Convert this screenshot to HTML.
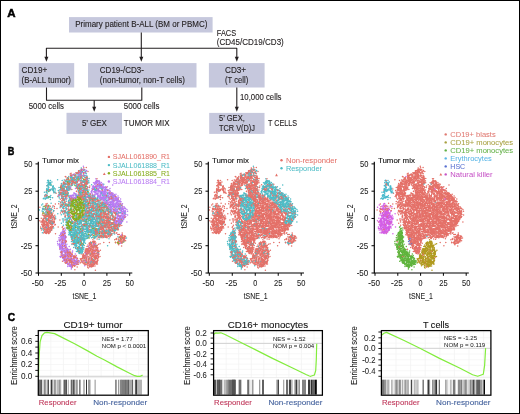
<!DOCTYPE html>
<html><head><meta charset="utf-8"><style>
html,body{margin:0;padding:0;background:#fff;}
body{width:520px;height:414px;overflow:hidden;}
svg{display:block;font-family:"Liberation Sans", sans-serif;will-change:transform;}
</style></head><body>
<svg width="520" height="414" viewBox="0 0 520 414">
<rect x="0" y="0" width="520" height="414" fill="#fff"/>
<path d="M81.6 172.3h0m-6.5 2.9h0m12.5 3.2h0m-.1 1.3h0m-2 .2h0m0-2.4h0m-2 2h0m-4.8-1.1h0m-10.5 .4h0m1.7 3.4h0m.2-1.8h0m2.1 2.5h0m.1-1.6h0m.9-.8h0m4.2 1.4h0m2.6-1.1h0m1.1 1.5h0m.5 .5h0m.4-2h0m1.3 1.4h0m2.2 2.3h0m-.7 1.1h0m-.1-1.9h0m-.2 1h0m-2.2 .9h0m-.5-1.4h0m-.4-.8h0m-2.3 1.2h0m-.4 .7h0m-2.4-1.3h0m-3.5-.4h0m-3.2-.4h0m-.6 2.6h0m-1.2-1h0m-.5-.8h0m-.3-.9h0m-4.5 2.8h0m-1.7 2h0m5.4-.3h0m2.8-.7h0m8.5-.5h0m.1 1.1h0m1.3-1.4h0m6.8 2.1h0m1.3 .6h0m9.4-1.2h0m5.7-.7h0m4.4 .3h0m-22 1.8h0m-1 1.2h0m-.4 1.7h0m-.9-1.5h0m-4.3-1.1h0m-6.1 .2h0m-6.3 2.2h0m-1.5-1.7h0m-9.6 2.4h0m10.7-.3h0m.3 1h0m19.3-.3h0m1.3 .9h0m2.7 1.2h0m20.4-1.4h0m2-.7h0m-3.3 4h0m-4.6-.3h0m-9.2-.4h0m-3.1 1.8h0m-2-.8h0m-.8 .3h0m-1.6-.1h0m-4.2-2.3h0m-1.8 2.4h0m-16.5-.8h0m-16.1 1h0m15 2h0m.6-.6h0m7.2 1.5h0m12.8-1.3h0m.1-.4h0m.7-.4h0m.6 2.5h0m5 0h0m1.7-1.1h0m.9-1.3h0m1.3-.2h0m3.5 2.6h0m7.6 1.1h0m-.7 1.3h0m-1.7-.5h0m-3.4-.5h0m-5.7-.6h0m-.6-.1h0m-.6 2.2h0m-4-.6h0m-2.1-1.1h0m-9 .7h0m-8.4 1.1h0m-.1-2.5h0m-3.6 .3h0m-1.2 1.9h0m-.9-1.3h0m-17.6 3.9h0m.7-2.1h0m1.1 2.7h0m8.3-2.7h0m4.9 .8h0m.3 1.4h0m1-2h0m.7 1h0m2.6 .8h0m1.9-1.8h0m21.5 .2h0m.8 1.3h0m3.4-.3h0m.4 .1h0m.3 1.1h0m5.4-2.7h0m2.9 .8h0m1.9-.6h0m18.7-.1h0m.7 2.9h0m-8.1 .5h0m-6.8 1h0m-1.5 .7h0m-1.3-1.6h0m-2.8 2h0m-.8-.7h0m-.4 .7h0m-1.3-1.7h0m-2.1 .8h0m-1 .4h0m-3.4-.3h0m-.1-1.7h0m-1.3-.1h0m-5.1 1.3h0m-18.3-.4h0m-17.4 .3h0m-4.8 3.7h0m2.3-.4h0m0 1.4h0m1.3-1h0m.3-1.9h0m.6 2h0m11.9 .3h0m.4-1.4h0m1.9 1.5h0m.6-1.1h0m2.9-.5h0m1 1.7h0m5.3 0h0m13.8-.5h0m1.3-1.8h0m.8 2.1h0m5.4-.1h0m3.4-2.2h0m1.3 2.7h0m6.3-1.1h0m.2-1.3h0m1.3 1h0m1.8 .7h0m14.3 3.6h0m-2.9-2.5h0m-5.9 1.7h0m-3.4-.9h0m-4.5 0h0m-2.5 .3h0m-.8-.9h0m-.2 .3h0m-3.5 .9h0m-1.4 .4h0m-5.4-1h0m-1.2 1.1h0m-2.8-2h0m-3.8 .8h0m-8.8 0h0m-8.7 1.9h0m-.2-2.5h0m-16.6 2h0m-.6-2h0m-.7 2.3h0m-1.8-1.5h0m-.3 1.8h0m-1.1-2h0m-.8 1.8h0m-1.4-.6h0m-.6-1.6h0m-.9 2.3h0m0-.5h0m-1.1-2.2h0m.6 5.2h0m1.1-.1h0m2.2 .7h0m.9-2.2h0m1.1 .9h0m1-1.5h0m.2 .7h0m0 .9h0m.9-.2h0m2.9-.6h0m.9 1.1h0m18.6 .5h0m11 .2h0m5.2-2h0m.4 1.6h0m5.8-2h0m.3-.2h0m3.1 2.7h0m1.2-1.1h0m2.9 .1h0m1.7-1.7h0m.3 .3h0m2-.3h0m.2 1.5h0m1.9 .5h0m.4 .9h0m3.5-2.7h0m.4 1.6h0m1.1 1.4h0m-1 1.5h0m-2.8-1.2h0m-3.7 1.9h0m-.6 .1h0m-2.2-.4h0m-.2-1.9h0m-.6 0h0m-.7 2h0m-5.6-1.3h0m-.2 1.3h0m-1-1.3h0m-1.4-.6h0m-1.8 2h0m-.5-1.5h0m-5.7 2.1h0m-.7-1.2h0m-1.4 .8h0m-4.2-1h0m-20.4-.5h0m-6.3 1.9h0m-1-2.5h0m-.2 1.8h0m-.3 .4h0m-5.7 .3h0m-3.1-1.4h0m-.3-.6h0m-1.3 4.4h0m1.6-1h0m.8 .5h0m0-.3h0m2.9-1.1h0m.3 .1h0m2.1 .7h0m1.5-1h0m.5-.2h0m.1 2.2h0m.9 .6h0m1.7-1.7h0m26.8 .7h0m.2-1.8h0m10.7 1.5h0m6.6 1.3h0m2.2-.3h0m1-2.4h0m.1 1.8h0m1.7-.9h0m.8-1h0m.1 1.8h0m1.6 .6h0m.6-1.5h0m.1 1.3h0m.9-1.8h0m1.4 .5h0m.1-.1h0m2.7 .6h0m.6 1.2h0m0-.4h0m1.9 .4h0m2.1-.1h0m.9 .2h0m1.3 .1h0m3.3 .6h0m-3.8 1.1h0m-.6 .8h0m-.2 .5h0m-1.6-1.6h0m-.9 .5h0m-4.4 .2h0m-.7 .2h0m-2.6 .8h0m-.5-2.2h0m-.9 .7h0m-1.4-.2h0m-1.5 .5h0m-.5 1h0m-1.7-.9h0m-.5 1.1h0m-9-2.4h0m-4.4-.3h0m-16.8 1.5h0m-16.5-.1h0m-.3 .5h0m-2-.1h0m-.1-.5h0m-2.8 1.1h0m-.2-2.2h0m-.4-.1h0m-3.9 .7h0m-2.1 4.1h0m2.8-.5h0m3 .7h0m.1-1.2h0m3.6 1.4h0m.3-1.8h0m12.1 0h0m14.3 0h0m6.2 .6h0m2.4-.4h0m5 .5h0m.1 1.5h0m8.3-1.9h0m1.8 .5h0m1 1.2h0m.8-2.5h0m.1 .9h0m6.7 1.8h0m1.9-2.2h0m.5 1.3h0m.9 .2h0m.6-2.1h0m.6 1.7h0m.8-1.6h0m-.8 3.5h0m-2.2-.4h0m-3.7 .5h0m0 2h0m-3-1.2h0m-.1-.3h0m-.1-.3h0m-4.1 .7h0m-.2-1.4h0m-1.5 .7h0m-.1-.7h0m-3.5 1.2h0m-1.6-1.1h0m-9.9 .2h0m-8-.4h0m-1.1-.2h0m-10.7 2.2h0m-14.6-1.9h0m-2.4 1h0m-.4-.7h0m-.9 .6h0m-1.4-1.1h0m15.8 5.1h0m1-.8h0m17.8-.7h0m20.2 1h0m4.3-.2h0m17.3 .4h0m.9-.5h0m2.5 3.4h0m-.6-.6h0m-.3 1.4h0m-.6-2h0m-.1 2h0m-2.9-1h0m-1.6 1.3h0m-12.4-2.6h0m-9.3 1.8h0m-4.2 .6h0m-4.4-2.2h0m-.9-.4h0m-3.4 1.5h0m-2.1 .2h0m-18.4 3.8h0m1.9-.2h0m25.6 .1h0m2.7 .1h0m1.2-1h0m25.7-.6h0m3.3-.3h0m-2 2.4h0m-3 .5h0m-.8 .5h0m-19.7 .2h0m-6.6 .9h0m-.4-1.5h0m-.4-.1h0m-.1 .1h0m-1.4 1.4h0m-9.2-.6h0m-14.9 3.6h0m9.8-.7h0m14.2 1.3h0m.6-.5h0m2.3-.5h0m3.3-.6h0m.6-.9h0m.1 .1h0m1.2 1.2h0m-1.8 3.3h0m-2.1-.9h0m-.7 1.8h0m-.8-.8h0m-2.7-.1h0m-.1 .6h0m-1.8 .3h0m-1.8-.3h0m-.6 .2h0m-7.8-.1h0m-7.6-1.4h0m-.3 1.8h0m-6.8-.5h0m2.8 .7h0m4.5 2.2h0m.7-2.1h0m10.4 1.8h0m4.2-1.6h0m1.7 1.3h0m.5 1.2h0m1-1.7h0m2.4-.8h0m.3 1h0m.6 .5h0m.6-1.4h0m2.1 1.1h0m3-.4h0m.5 .6h0m-1.3 2.2h0m-2.4 .3h0m-.8-1.1h0m-6.7 1.2h0m-2.1-1.2h0m-.3 .4h0m-.4 2.1h0m-9.4-1.2h0m-3.1-.6h0m-3 .9h0m-5.3 .8h0m.8 2.7h0m1.6-.1h0m1.4-1.3h0m1.7-.2h0m2.9 .6h0m.2-.9h0m5 .4h0m9.1 .4h0m.3-1.1h0m.2 1.8h0m4.5-.8h0m2.3 1.4h0m.9-.6h0m.1 .8h0m1.1-1h0m1.8-1h0m-.2 2.6h0m-.1 .8h0m-.5 1.2h0m-1.6-2.1h0m-1.4 2.4h0m-1.6-.7h0m-1.2-1.4h0m-.6 2.2h0m-1.3-1.1h0m-.4-1.4h0m-3.2 2.3h0m-2.5-1.2h0m-4.9 .9h0m-.4-1.8h0m-5.9 .8h0m-.5 0h0m-4.7 1.1h0m-1.1-.9h0m19.7 1.6h0m4.9 2.5h0m1-.4h0m.8 .6h0m0-1h0m0-1.5h0m.8 .5h0m-20.4 2.7h0m23.5 2.8h0" stroke="#e47068" stroke-width="1.52" stroke-linecap="round" fill="none"/>
<path d="M81.7 171.8h0m-.7 0h0m-3.7 .7h0m-.9 .8h0m-5.6 2.2h0m.8 1.4h0m0-.7h0m3.1-.3h0m.9 1h0m13.5 1.6h0m-2.5 1.1h0m-2.1-2.4h0m-6.7 1h0m-5.4-.3h0m-1.6-.4h0m-3.2 1.6h0m-20 1.7h0m1.1 .9h0m.6 1.1h0m2.6-.7h0m13.8-1h0m2.3 .1h0m2.3 1.1h0m2.9 .2h0m3.6-2.5h0m1.5 .3h0m4.9 1.5h0m3.9 .2h0m9.5-.3h0m-5 3.1h0m-8 .8h0m-2.3 .2h0m-3.4-1.7h0m-1.7 1.1h0m-3.9-2.2h0m-.3 0h0m-23.9 2.1h0m-1.4 .6h0m7.6 2.4h0m6.9-.9h0m1.7 .9h0m1.6-1h0m1.9 .3h0m.9-1.1h0m1.5 .5h0m9.1 1h0m1 .4h0m.7-.7h0m.2-.8h0m3.1 1.5h0m1.1-1.1h0m3.9 .5h0m8 .1h0m2 .3h0m4.2 1.2h0m-7.8 .3h0m-14 2.4h0m-9.7-2.9h0m-3 1.5h0m-1.6 .4h0m-3-.2h0m-.3 1.2h0m-1.7-2.2h0m-2 2.2h0m-.7-1.4h0m-3.2 .6h0m-1.2-2h0m-.5 1.6h0m-.1-1.2h0m-6.7 2.3h0m-.4 .5h0m.9 1.7h0m16.6-.1h0m3.5 .2h0m0 0h0m14.2-1.5h0m6.2 2h0m9.3-.8h0m7.6 .6h0m.4-.7h0m2.6-.6h0m-.2 1.9h0m-14.5 .4h0m-.3 2.3h0m-1.7-.3h0m-.7 .1h0m-3-.2h0m-10.4-1.2h0m-1.4-1.1h0m-12 2.1h0m-13.2-.4h0m-.8-.1h0m-.8 1.2h0m-.1-1.1h0m-.4 .7h0m-1.7-1.2h0m-1.5-.8h0m-.7 2.5h0m-.8 .9h0m1.8-.5h0m.1 1h0m18.6 1.2h0m3-1.8h0m3.7 .9h0m16.7 1.1h0m1.7-2.7h0m.4 1.6h0m.6-1.4h0m.5 1.9h0m1.1-.9h0m1.6-.2h0m2.5 1h0m2.2 .5h0m2.2-1.5h0m1.1 .6h0m-.8 3.8h0m-2.2-2h0m-2.6 1.7h0m0 .4h0m-1.8-.5h0m-.1-.7h0m-.8 .6h0m-1.9 .4h0m-.6 0h0m-3.3-.6h0m-7.4-1.7h0m-6 2.9h0m-3.9-.2h0m-3.1-2.4h0m-4.1 .6h0m-1.9 1.1h0m-17.9 1h0m.6 2.7h0m3.1-.6h0m38.4-.6h0m1 .8h0m.3-1.6h0m1 1.8h0m3.8 .4h0m1.8-.4h0m.2-1.2h0m2.1-.9h0m1.6-.3h0m2.2 0h0m3 .4h0m1 .8h0m1.3 .6h0m.7-.3h0m13.3 1.3h0m3.1 1h0m-18.4 .2h0m-3.5 0h0m-11.4 .3h0m-21.4-.1h0m-3.5-1.2h0m-13.2 1.4h0m-.9 .2h0m-3.7 .8h0m-.3 .4h0m4.6 1.8h0m3.9-.4h0m11.8 .4h0m3.9 .2h0m.3-1.9h0m.4 .5h0m15.9 .7h0m2.9 .1h0m3.8 .3h0m1.1-1.3h0m1.6 2.1h0m.9-1.8h0m6 2.1h0m6.8-.3h0m.2-1.4h0m1.9 .5h0m5.1 1.2h0m.5-.9h0m7.7 1.5h0m-7.9 .7h0m-17.1 .6h0m-.1 .5h0m-.1 .8h0m-6.1-2.5h0m-.4 1.5h0m-7.2-1.9h0m-.3 1.1h0m-14.7 1.4h0m-2.8 0h0m-.2-1.3h0m-14.6 1.4h0m-.7-.5h0m-.6-1.7h0m-2 1.5h0m-2.7-.4h0m1.6 4.4h0m3.2-2.2h0m4.2 2h0m8 .2h0m1.2-2.2h0m4.4 1.4h0m.8-.3h0m22.1-1.8h0m.1 .8h0m3.7 .5h0m.1 .3h0m4.5 .7h0m10.3 1.7h0m-1.3 .7h0m-6.8-.4h0m-1-1.1h0m-3.9 2.4h0m-.6-.6h0m-5.4-1.7h0m-.1 2h0m-.2 .6h0m-.3-1.4h0m-.5-.9h0m-1.4 .6h0m-1 .7h0m-.6-1.8h0m-.8 .7h0m-4.1 1.4h0m-.3-2h0m-1.1 1.6h0m-4.3-.1h0m-.3-.1h0m-5.4 .2h0m-2.7 .1h0m-2.2 .4h0m-.7-1.9h0m-13.4 3.6h0m8.9 .2h0m14.9 .5h0m.9-.2h0m.2 .1h0m1.4 1.3h0m1.1-.7h0m1.4-1.3h0m5.6-.6h0m2.5 1.8h0m.9 .2h0m.7-2.1h0m1.7 1.7h0m.1 .3h0m1.3-2h0m1.9 2.5h0m.4-.2h0m.6-.9h0m1.7-.8h0m.9-.7h0m9.4 1.5h0m4.7-1.2h0m2.8 1.4h0m3.6 .5h0m-5.9 2.7h0m-5.4 .8h0m-1-1.2h0m-11.2-1h0m-.2 .2h0m-.6 .6h0m-3.9 .3h0m-.9 0h0m-.3-.8h0m-.1-.4h0m-.9 0h0m-.5 1.1h0m-.3-1.1h0m-.4 .9h0m-.7-.4h0m-1.6-.2h0m-3.9 .3h0m-.7-1.1h0m-5.6 2.2h0m-.7-.6h0m-.8-.9h0m-.3-.4h0m0 .8h0m-4.5 .6h0m-21 .6h0m-2.7-1.4h0m2.9 2.8h0m20.6 1.3h0m3 .9h0m.4-1.6h0m.8 0h0m4.9 1h0m.4-2.3h0m5 0h0m3 .8h0m.6 1.9h0m3.7-1.7h0m1.8 .1h0m3 .3h0m3.2 0h0m11.9-.4h0m.1 1.9h0m5.9-1.5h0m.7-1.1h0m-6.2 3h0m0-.2h0m-1.2 1.3h0m-2.3-.9h0m-8.7 2.2h0m-1.4-.6h0m-1 .3h0m-.3-1.9h0m-.3 1.8h0m-1.1-1.1h0m-.4-.3h0m-2.7 1.3h0m-.8-1.3h0m-.2 .6h0m-1.4 0h0m-3.3-.9h0m-5.6 1.5h0m-1.9-.1h0m-1.1-.6h0m-.3 .2h0m-3.2 .1h0m-.5-1.7h0m-3.5 2.9h0m-1.4-1.5h0m-19.8-.3h0m19.5 2.5h0m.2 .5h0m1.5 0h0m.2 .4h0m1.2 1.1h0m1.2-2.4h0m.2 .4h0m1.7 1.4h0m2.2-.6h0m4.2 1h0m1.8-.6h0m.7-1.2h0m.2 2.1h0m.5-1.4h0m.8 .6h0m2.3-.3h0m.6 .2h0m2.1-.3h0m3.1-.1h0m1.9-1.1h0m.3 2.5h0m.5-2.4h0m1 1.3h0m3.3 .4h0m1.7-1.9h0m12.4-.1h0m4.8 3.4h0m-30.7-.5h0m-.9 .8h0m-3.5 1.9h0m-.6-1.2h0m-.2-1.3h0m-1.5 .8h0m-1.5 1.2h0m0-1.1h0m-.5 0h0m-.1 1h0m-.6 .8h0m-3-.7h0m-1.2 0h0m-.5 .6h0m-2-2.1h0m-.9 .3h0m1.3 3.8h0m.7-.9h0m.3 1.2h0m3.6-1.7h0m.9 .6h0m.6-.1h0m4.5-.1h0m10 2.1h0m28.7-.4h0m1.5-1.7h0m-29.3 3.8h0m-10.3 1h0m-1.5-1.8h0m-1.2-.2h0m-.9 .7h0m-4.9-1h0m-.1 .5h0m-.5 1.3h0m-.1 .8h0m-.3-1h0m1.6 1.5h0m1.1 1.1h0m1.1-.8h0m1 .8h0m.1-1.4h0m.2 2.1h0m.2-.6h0m2.6 .2h0m8.2 .9h0m1.4-1.9h0m-8.4 2.3h0m-1-.1h0m-.7 1.4h0m-.5 1.3h0m-.5-1.8h0m-.4 .3h0m-.1 1.1h0m-.1-2h0m-2.5 .5h0m0 1.1h0m4 2.1h0m.2-.4h0m14.1 4.5h0m-8 5.9h0" stroke="#4dbcc6" stroke-width="1.52" stroke-linecap="round" fill="none"/>
<path d="M72.5 178h0m-3.8 3.3h0m-19.2 2.1h0m30.2 9.1h0m-2.5 5.2h0m-.5 3h0m2-.1h0m0-2.3h0m.9 1.6h0m1.6-.5h0m6.5 .8h0m-5 3h0m-1.9-1.1h0m-1.3 1h0m-2.2 .3h0m-.1 .5h0m-1.1-2h0m-1.6 .5h0m-1.3 1.3h0m-.1-.4h0m-.4 .5h0m-8.7 .8h0m6.9 1.8h0m2.7-.4h0m.5 .2h0m1.6-1.3h0m1-.5h0m.9 1.5h0m1.5-1.6h0m1.4 .6h0m.6 1.9h0m.3-.5h0m.2-1.8h0m2.2-.2h0m.3 1.3h0m19.7 3.4h0m-19 .9h0m-.8-1.5h0m-1.9-1.2h0m-.2-.2h0m-.2 .9h0m-.8-.3h0m-1.4 1h0m-.1-.5h0m-.2 1.5h0m-.6-1.5h0m-1.8-.9h0m-.1 .4h0m-.5 2.1h0m-2.1-.9h0m-3 .5h0m-.4 0h0m-.3 .1h0m-22.9-.7h0m-4.2 3.2h0m33.1-.7h0m1.5-.6h0m4 1.8h0m.7-2.4h0m14.3 3.6h0m-13.8 1.7h0m-4.2-1.3h0m-.4 1.9h0m-2.1-1.2h0m-2.4-.2h0m-5.7-.5h0m3.8 2.4h0m1 1.3h0m.7-.7h0m3.4 1.1h0m3.9-1h0m.4-1.1h0m11 2.9h0m6.3 2.6h0m-9.6-1.2h0m-12.3-.9h0m-7.9 2h0m-1.8 1.7h0m.7 .6h0m.1-1.6h0m.4 1.3h0m2.6 .5h0m1.1-.3h0m27.1-1.2h0m-19.7 4.2h0m-3.4-1h0m-5.5-.4h0m-.9 2.2h0m-1.7 1.6h0m1.1-.8h0m27.4 2.6h0m-11.1 2.8h0m-9.7 1.1h0m20.1 .2h0m-12.4 9.5h0m-1.6-1.2h0m-.5 5.8h0m-1.6 3.2h0" stroke="#86ac1c" stroke-width="1.52" stroke-linecap="round" fill="none"/>
<path d="M80.4 170.4h0m2.4-.9h0m1 .5h0m.6 2.6h0m-2.6-1.6h0m-.8 .9h0m-1 2.4h0m15.9 4.5h0m-15.2-1.6h0m-14.6 4.5h0m12.8-.7h0m7.6 .8h0m8.1 1.1h0m.5-.5h0m1.9 .4h0m.1 0h0m1.7-1.6h0m3.1 3.9h0m-.8 .6h0m-.6-.6h0m-.6-1.9h0m-3.2 .7h0m-.1-.9h0m-31.9 .6h0m29 4.4h0m3.1-1.9h0m1.3 2.7h0m1.1-1.5h0m.6 .9h0m.7-1.5h0m1.3 .6h0m.5 .3h0m.4 .5h0m0-.5h0m.1 0h0m2.9 .3h0m4 3h0m-.8-.9h0m-4.9 .2h0m-1.7-.2h0m-.7 1.6h0m-.8 .2h0m-.7 0h0m-.3-1.1h0m-.3 .9h0m-1.1-.8h0m-.1 .1h0m-2-.4h0m-.8-.1h0m-.1 .4h0m-.1-.7h0m-.3 .7h0m-.4 .7h0m-.3-1.7h0m-2.2 .6h0m-5.2-.9h0m-3.3 1.7h0m-21.7 .7h0m20.6 2.2h0m9.3-1.4h0m3.8 0h0m1.5 1.5h0m.5 .2h0m.4-.8h0m2.3-.3h0m2.1-.5h0m.1-.3h0m2.4 .9h0m.1 .1h0m3.3 .2h0m.8 .2h0m1 .6h0m1.4-.2h0m0-1.3h0m1.5 .6h0m3.8 3.9h0m-4.8 .1h0m-3.5-.3h0m-2.4-.2h0m-.8-.7h0m-.2-1.1h0m-2.2 2.5h0m-5.2-.2h0m0-1.1h0m-3-1.1h0m-3.6 .9h0m-5.9-.6h0m-1.1 .4h0m-.3 1.3h0m-7.7 0h0m-2.6-2h0m-1.5-.1h0m-.2 2.6h0m-.4-2.1h0m-.1 2h0m-1.3-1.6h0m4.4 2.7h0m29.1 1h0m0 .9h0m1.4-.4h0m.1-.9h0m.5-1.5h0m6.1 .6h0m1.4 1.8h0m2.8-.2h0m.9-1.2h0m1.4 .3h0m.9 1.5h0m.2 1h0m-.9 2h0m-1.6-1.5h0m-1.6 1.2h0m-1.3-2h0m-1.2 .1h0m-.1 1.4h0m-2 .4h0m-.5-1.4h0m-3.4 1h0m-.7 .8h0m-.7-1.1h0m0 .4h0m-.4 .2h0m3 3.2h0m.6 0h0m2.3 .3h0m.6-1.9h0m.3-.4h0m.3 2.2h0m.7-2.5h0m.8 .4h0m.2 2.1h0m.5-2.3h0m.4 2h0m.1-1.2h0m1.2-.5h0m6.8 3.5h0m-.2 .7h0m-.5 0h0m-.9-1.9h0m-1.5 2h0m-3.6 .7h0m-1.8-.1h0m-3-2.4h0m0 1.6h0m.4 2h0m5.3 1.9h0m1.1 .2h0m3.1-2.2h0m.5 .1h0m3.7 2.6h0m-2.4 0h0m-1.3 .4h0m-2.3-.7h0m-.7 0h0m-2.3 4.1h0m.6 1h0m1-1.8h0m1.2 2.2h0m.4-.2h0m.1-2.1h0m.4 2.1h0m.9 0h0m.2-.8h0m2.7 1.8h0m-1.1 2.1h0m-1.1 .1h0m-.9-1h0m-.4-1.1h0m-.1 1h0m-.7-.3h0m0 .8h0m-1.1-.7h0m-.2 .9h0m-.3 .3h0m-75 .1h0m71.9 .5h0m1.5 1.8h0m.4-1.9h0m.1 1.2h0m3.9 .3h0m.5-1h0m-57.2 6.3h0m.1 3.3h0m-.3 .1h0m-2.6 .3h0m-.3 1.5h0m1.5 2.5h0m.5-.7h0m1.3-.9h0m.2 1h0m1-.4h0m1.1 1.4h0m-1.7 1.9h0m0-.1h0m-.7-.2h0m-5.1-.8h0m-1.4 3.9h0m2.7-1.6h0m2 .4h0m.1 1h0m.1-.6h0m.1 1.1h0m3.6-.5h0m-2.5 2.6h0m-.7-.9h0m-.3 2.3h0m-.7-1.3h0m-.4 1h0m-.7 1.5h0m2.5-.2h0m.6 2.5h0m2-1.4h0m.1-1h0m32 3.3h0m-10.6 1h0m-19.2-.1h0m-.8-.1h0m0 .4h0m-.9-1.6h0m-2.9 1.5h0m-1.9 2.1h0m.4-.2h0m2.1-.5h0m.7 .7h0m2.1-1h0m3.1 1.6h0m2.3-1.4h0m24.8 5.7h0m-2.5-2.9h0m-3.7 2.6h0m-17.1-1.3h0m-.2 .8h0m-2.5 .2h0m-4.6-.8h0m-2.9-.7h0m-1.8 .6h0m2.2 4.4h0m6-1.6h0m.8-.1h0m.9 1.8h0m2.7-1.8h0m1 1.4h0m2.6 .1h0m4.3 1h0m-7.1 1.5h0m-.2-.7h0m-3.5-.5h0m-5.6 .8h0m1.7 1.5h0m.1 2.4h0m1.7-.4h0m1.2-1.2h0m1 1h0m.9-1.2h0m1.4-.2h0m2.7-.2h0m15.2 0h0" stroke="#b87af2" stroke-width="1.52" stroke-linecap="round" fill="none"/>
<path d="M83.1 170.2h0m2.1-.2h0m-14.5 5.9h0m.9-.9h0m6.4 .7h0m-6.1 2h0m21.6 5h0m2.5-1.3h0m.1 .6h0m.6 .7h0m2.6 0h0m.1-.4h0m.3 .4h0m.2-.6h0m12.8 2.9h0m-10.8-.7h0m-1.2 .3h0m-.6-1.2h0m-.7 .8h0m0 .9h0m-1.7-.7h0m-.7 1.5h0m-.3-.2h0m-.1-.3h0m-1.9-1.1h0m-.2-.3h0m-30.4 2h0m23.7 1.1h0m4.2 1.7h0m1.3-2.6h0m.2 2.3h0m.3-1.1h0m.1-.1h0m.3 1.5h0m1.7-2.8h0m.2 .4h0m.6 2h0m.8-2.1h0m2.7-.2h0m.7 1.3h0m2 .5h0m7.4 3.4h0m-.5-.2h0m-3.2-1.9h0m-1.3-.1h0m-.2 2.6h0m-.7-2.1h0m-3.1 1.9h0m-1.1 .2h0m-.2-.8h0m-1.5 1h0m-.5-1.8h0m-1.3 .2h0m-5.3 1.3h0m-25.5 2.6h0m25.6-2.2h0m5 1.5h0m.5 .5h0m.1-2h0m3.9 1.6h0m.2 .1h0m.1-1h0m1.8 .6h0m1.9 .2h0m.1 .9h0m.6 .3h0m2.4-1.5h0m1 .6h0m.1-.6h0m1.2 .4h0m.5 1h0m1.9-1.3h0m3 4h0m-.8-1.9h0m-.7 .6h0m-.2 .9h0m-.2-1.6h0m-.4 2.2h0m-.2-.9h0m-.2-1.2h0m-.2 1.5h0m0-1.1h0m-.4 1.8h0m-.6-2.3h0m-10.5 2.3h0m-.2 .2h0m-.1-1.8h0m-.7 1.5h0m-.4 .3h0m-2-.6h0m-20.9-2.2h0m-1.2 .7h0m-2.4 .3h0m-.1-.1h0m-3 1.1h0m-4.7-.3h0m-.3 .7h0m-3.9-.8h0m2.2 2.1h0m9.3 .3h0m.1-.9h0m1.7 .2h0m10.8-.2h0m15.8 .3h0m1 1.6h0m.1-.3h0m6.2-1.1h0m.2 .8h0m1.1-1h0m1.1 1.4h0m1.1-1.6h0m4 2.5h0m.3-2.6h0m1.6 .9h0m.7 1.9h0m1.8-1.9h0m-.4 2.5h0m-.1 1.6h0m-2.6-1.1h0m-3.6 1h0m-.5-1h0m-.2-1h0m-.3 .7h0m-.1 1.6h0m-.2-1.8h0m-1.2 1.1h0m-1.4-.6h0m-1.4 .2h0m-1.7-.9h0m-3.2 1h0m5.5 2.3h0m1.1 1.1h0m.3 .7h0m.1-1.3h0m2.7 1.6h0m0-.6h0m2.4-1.1h0m0 1.6h0m.2-1.6h0m2.1 .7h0m1.6-1.6h0m1.7 .9h0m-4.1 4.9h0m-2.2-1.2h0m-3.5-1.1h0m-.9 2.3h0m0-.2h0m-.3-2.1h0m-.9 .1h0m1.5 2.4h0m.8 1.2h0m5.4 0h0m1.3 1h0m.9 .2h0m.8-2.1h0m2 1.1h0m1.6-.2h0m1.1 .6h0m.7 0h0m.2 2.6h0m-1.9-.1h0m-2.6 1h0m-1.3-2.4h0m-66.9 3.6h0m62.6 1.2h0m.4 .3h0m1.8 .5h0m.7-2.5h0m1.7 2.7h0m0-2.3h0m1.5 2.1h0m1-.9h0m1.7-.4h0m-1.8 3.3h0m-1.7-.6h0m-.6 .2h0m-1.4 1.7h0m-.6-1.4h0m-1.2-.1h0m-.9 .5h0m-1.2 1h0m-61.8 1.9h0m62-.6h0m.7 .7h0m2.5-.9h0m1.4-1h0m.1 1.1h0m1.3 0h0m-56.2 9.9h0m-1.6 .9h0m-.6-2.9h0m-.5 2.9h0m-1.3-.3h0m-15.8-1.4h0m16.8 4.7h0m.1-.6h0m1.1-1.1h0m1.7 1.5h0m59.8 1.9h0m-60-.8h0m-1.6 0h0m-.1 .4h0m-2-.3h0m-.4 1.7h0m-1 1.3h0m2.8 1.2h0m.3-1.7h0m2 .8h0m.2-.6h0m.2 .7h0m53.7 2.1h0m-24.7 1.1h0m-33.3 4.1h0m.7-.8h0m.1-.7h0m.8 .6h0m.4-1.4h0m1.4 .1h0m4.5 3h0m-1-.2h0m-.5-.1h0m-.5 .4h0m-4.2 .2h0m0-.5h0m-2.1 2.7h0m4.5 2.7h0m.3-.5h0m1.9-.2h0m.3 .3h0m1.3-1.8h0m16.9 1h0m13 .5h0m-.5 2.7h0m-26-1.4h0m-.8 1.2h0m-2.9 .2h0m-.8 1.3h0m-.3-1.8h0m-1.1-.1h0m-2.5 .4h0m-3.2 .9h0m2.6 1.3h0m3.5 1.8h0m1.6 .3h0m.4-.6h0m1.6-1.4h0m.8 2.2h0m1.5-1.7h0m4.3 .2h0m9.4 .6h0m7.6 2.5h0m-14.5-1.5h0m-2.7 0h0m-3 2.6h0m-.6-1.5h0m-.5-.3h0m-.3 .2h0m-1.8 3.7h0m0 .6h0m.4-1.5h0m.1 1.8h0m1.1-.4h0m3.5-2.1h0m14.3 2.6h0" stroke="#b87af2" stroke-width="1.52" stroke-linecap="round" fill="none"/>
<path d="M82 169.7h0m1.7 .5h0m.6-.6h0m-.7 3.1h0m-4.7-1.4h0m-13.6 5.1h0m6.2-1.1h0m0 1.3h0m7.4 .2h0m4.3-.8h0m.7 .3h0m3.3 1.3h0m-.1 .9h0m-1.5-.4h0m-1.2 1.4h0m-3.1-.5h0m-.3-1.8h0m-.4 .9h0m-2.8-.3h0m-2.4 1.7h0m-.4 0h0m-6.9-.6h0m1.3 1.4h0m4.2 1.4h0m3.3 .2h0m6.2-.3h0m2.2 .7h0m4.5 3.6h0m-2-2.9h0m-.9 .5h0m-.6 1.3h0m-.7-1.3h0m-2.2 1.7h0m-3.4-.2h0m-8.6-1.5h0m-3.1-.5h0m-.1 2.8h0m-.3-1.3h0m-3.7-1.2h0m-16.8 2.5h0m5.3 3.1h0m10.6 0h0m2.7-2.5h0m.3 .8h0m2.9 1h0m11.5-.1h0m4.4-2h0m1.8 2.6h0m8.6-2.4h0m12.4 3.9h0m-5.9-1h0m-15.8 1.2h0m-.1-.2h0m-1.3 0h0m-1.4 1.2h0m-3.3-.2h0m-3.6 0h0m-11.9-1h0m-3.6-.6h0m-12.9 1.2h0m10.8 1.9h0m1 1.6h0m2.8-.5h0m1.1 .9h0m.4-.7h0m2.1 .6h0m1.7-.9h0m10.7 1.2h0m4.8-2.3h0m1.2 0h0m1.3-.4h0m3.6 1.9h0m22.1-.8h0m3.4 3.5h0m-6.8 .8h0m-4.1-2.5h0m-11.7 .9h0m-4.7 1.5h0m-2.1-.2h0m-.6-2.2h0m-3.4 2.8h0m-.4-.7h0m-2.4-1.3h0m-.1-.3h0m-.7-.1h0m-16.4 .5h0m-1.9-.9h0m-1.9 1.3h0m3.9 4.3h0m2.8-.3h0m9.2-1.8h0m8.4 1.1h0m1.7-.4h0m1.2 .4h0m.6-.9h0m.4 .1h0m9.3-.9h0m2.5 2.2h0m15.2-.4h0m2.2-.8h0m1.6 .9h0m.9-.3h0m.3-.7h0m-17.2 4.3h0m-5.3-.2h0m-.8-.7h0m-10.4-1.2h0m-.1 2.5h0m-.9 .1h0m-14.4-1.6h0m-5.5 1.4h0m2.5 2.4h0m2.5 .3h0m18-1.1h0m3.7 .8h0m2-.1h0m4.8-.8h0m.9 1.7h0m6.5-.5h0m.4 .6h0m1.1 .1h0m13.9 2.2h0m-10.9-.2h0m-1-1.7h0m-1.2-.2h0m-.1 0h0m-10.7 .7h0m-2.4-.6h0m-1 1h0m-.9 1.5h0m-18.7-.1h0m-6.1-1h0m-2.9-.1h0m-.6 0h0m-15.6-.1h0m1.6 2.3h0m4.6 .2h0m8.4 .5h0m5 .7h0m1.9 .8h0m.7-.1h0m14.9-.8h0m.4 .3h0m3.8-2.1h0m.9 .1h0m.6 .4h0m2.7 .2h0m.5-.4h0m6.4 1.4h0m.5 .4h0m3.1-.8h0m.4 .6h0m1.9-1.2h0m3.1 1.1h0m1.6-.6h0m4.3 1.3h0m7.6 .9h0m-4.6 .7h0m-1.4-.4h0m-.9 .5h0m-.4-.7h0m-8.1-.2h0m-1.8 1.1h0m-.9 .3h0m-1 .1h0m-1.6-.8h0m-.9 1.7h0m-1-2.4h0m-10.8-.2h0m-2 .1h0m-.4 2.6h0m-1.5-.6h0m-.7-.4h0m-6.2 .1h0m-6 .1h0m-20.2 .2h0m-2.6-1.9h0m-.9-.4h0m-.5 1.1h0m-.4-.4h0m-.7-.1h0m-1.3 1.8h0m-1.8 .3h0m1.2 2.2h0m3.9-1.3h0m.5 1.3h0m.8 .7h0m.6-2h0m0 1.1h0m2.7-1.5h0m.1 1.4h0m1 1h0m18.6 .2h0m9.3-2.4h0m5.1 1.7h0m6.6 .3h0m5.4-2h0m1.7 1.6h0m.1-.5h0m.5-.9h0m3 2.1h0m1.5-2.7h0m.7 1.3h0m2.9 1.2h0m2.7-2h0m0 .8h0m.5-1h0m1.4 2.5h0m.4-2.7h0m.2 2h0m.3 2.4h0m-2.4-.2h0m-3.5 1.5h0m-1.6-1.1h0m-.2-.7h0m-7.8-.8h0m-.2 2.1h0m-11.4-2.1h0m-1.8 1.7h0m-.6 .7h0m-5.2-2.3h0m-8.6 2.2h0m-5.1-.6h0m-12.8-1.9h0m-1.2 2.8h0m-.6-2.1h0m-1.9 .7h0m-1.1-.1h0m-.2 1.6h0m-5.8-2h0m-.8 .3h0m-.1 .6h0m-1.9 1.1h0m.4 .2h0m.9 0h0m.7 .8h0m.8-.1h0m4.1 1.7h0m1.4-2h0m0 .4h0m1.3-.1h0m2.1-.1h0m1.6-.5h0m20.1 2.5h0m6.7-2.6h0m6.4 2.8h0m17-2.4h0m1.1 .9h0m2.1-.5h0m.2 1.4h0m.9-1.6h0m.2 .8h0m.5 .8h0m1.6-.7h0m2.1 .9h0m.6-.4h0m.5 .8h0m2.3 1.6h0m-.8-.1h0m-6.5 .7h0m-1.1 .5h0m-1-2.4h0m-1.8 .1h0m-.6 2h0m-2.6-.5h0m-3.9-1.3h0m-5.2 .9h0m-7.6 .1h0m-4.5 .1h0m-28.3 .2h0m-1.1-1.7h0m-2.4 2.3h0m-3.1 .4h0m-1.3 0h0m-.8-2.8h0m-3.2 1.9h0m.1 1.5h0m2.2 .6h0m3.9 .7h0m.3-.4h0m.4-.6h0m1.5 .7h0m2.7-1.1h0m19.9-.1h0m3.6 2.1h0m4.9-.6h0m2.3-1.6h0m5.7 .3h0m.6-.3h0m6.2 1.1h0m.4 1.7h0m4.2-.8h0m.1-1.5h0m3.2-.6h0m.9 1.1h0m1.3 1.5h0m2-.9h0m.1 .6h0m1.9-.6h0m2.6-1.4h0m1.1 1.7h0m1.8-1.5h0m.5 .3h0m0 .8h0m1.4-.5h0m.5-.6h0m-2.6 4.3h0m-.1-.6h0m-3.9 .7h0m-.1 .9h0m-1.1-1.4h0m-1.7 1.1h0m-1.8-.5h0m-.6-.6h0m0 1.1h0m-1-2h0m-1 .1h0m-3 2.3h0m-26.3 0h0m-24.6-2.7h0m-1.6 .8h0m-1.4 .6h0m0-.7h0m-1.5-.1h0m31.8 4.6h0m5.7-1.1h0m3.9 1.3h0m15.2-1h0m.5-.1h0m1.2 .7h0m.6-1.1h0m1-1h0m3.7 .4h0m.1 1.2h0m2-1.2h0m.8-.1h0m0-.3h0m9.6 1.9h0m1.1 .8h0m2.9-.7h0m0 1.1h0m-.6 1.5h0m-.1-.3h0m-1.6-1.2h0m-.7 .4h0m-1.5-.5h0m-1.8 .9h0m-1.9 .6h0m-.6 .3h0m-16.2-1.6h0m-19.8 .1h0m-2.4 2.1h0m-1.8-2.4h0m-1.2 1.6h0m-.4 .9h0m-11.4-.2h0m-.2 2.4h0m2.3-1.7h0m12 2h0m.6-1.4h0m.4-.1h0m2.9 .6h0m.5 1.4h0m9 0h0m.1 .1h0m2.3-1h0m.2 .5h0m10.9 .4h0m13.8-.2h0m1.6-2.1h0m.7 1.2h0m1 1.3h0m1.1-.7h0m1.7-.9h0m-5 3.5h0m-21.5 .5h0m-2-1.8h0m-1.9 .2h0m-1.5 2.1h0m-1.8-2.6h0m-2 1.8h0m-12.3-1.1h0m-13.2 1.4h0m-.6 1.6h0m4.1 .5h0m1.1 1.4h0m20.4 0h0m.6-2.2h0m.4 .6h0m.1 0h0m0-.4h0m2.2-.3h0m4.2 .3h0m2.9 4.2h0m-.2 0h0m-5.2-1.2h0m-5 .7h0m-.4 .3h0m0-1.1h0m-1.1-.3h0m-19.7 1h0m-1.7 .1h0m1 2.9h0m0-.7h0m1.7 .4h0m4.2 1.2h0m.7 0h0m14.3-.5h0m.4-1.4h0m1.9 1.2h0m2.2 1h0m2-.6h0m1.9-.2h0m1.5-.4h0m.3-.1h0m1.5-1.2h0m.6 1h0m0 1.4h0m1.2 2.1h0m-3.3-.9h0m-.5 1.7h0m-.9-2.3h0m-3.7 2h0m-.7-2h0m-1.1 0h0m-1.1 1.8h0m-3.5 0h0m-1.2 .5h0m-1-2.2h0m-7 2.1h0m-.2 .4h0m-1.4-.2h0m-.7-1.5h0m-7.9-.6h0m-1.1 .6h0m0-.4h0m0 2.1h0m3.9 2.8h0m.3 0h0m3.2 .4h0m3-2.8h0m6.3 .5h0m.7 1.6h0m2.6-1.9h0m.8 2.4h0m3.4-2h0m3.5 .7h0m3.5-1.2h0m.7 4.9h0m-.4-1.2h0m-1.5 .4h0m-1.9 .4h0m-2 1.1h0m-2.3-2.7h0m-1.2 1.6h0m-.1 1.3h0m-1.4-1.7h0m-.8 .2h0m-1.9-.3h0m-3 1h0m-2.5-1.4h0m-1.7 1h0m-1.2 .7h0m-4.8-1.5h0m-1.9 2h0m-.2-.4h0m-.8-1h0m4.6 3.1h0m1.5-.4h0m14.5 .7h0m1.8-.9h0m.8-1h0m1 .4h0m.1 0h0m.2 2h0m1-.5h0m.3-1.1h0m.2 .9h0" stroke="#e47068" stroke-width="1.52" stroke-linecap="round" fill="none"/>
<path d="M74.2 175h0m-5.6 3.9h0m3.6 1.6h0m2.8 5h0m-24.1-.8h0m34.1 4.2h0m-36.5 2.5h0m19.2 3h0m14.6-2.1h0m-4.9 5.5h0m-4.9 2.3h0m1.4 .5h0m2.6 .3h0m1-1.3h0m1.7-1.6h0m.3 .8h0m.5 .5h0m4.1 4.2h0m-.6-2.3h0m-1.2 2.3h0m-1.2 .4h0m-.6-.2h0m-.3-1.9h0m-1.2 2.1h0m-5.3-2.9h0m-.8 1.6h0m-.2 .2h0m-28.5 3.4h0m26.7 .7h0m2.5-1.2h0m2.8-.6h0m.2 1.8h0m.8-1.6h0m1.4 1h0m1.2-1h0m1 .6h0m1 1h0m2.2-.7h0m23.5 1.7h0m-23.1 .3h0m-3.5 .9h0m-1.5-.5h0m-.6 .9h0m-2.3-2.5h0m-.6 1.9h0m-.2 .9h0m-4.8 .1h0m-.4-1.1h0m-.2 3.6h0m2.7-1.5h0m.7 0h0m2.8 1.7h0m3-.9h0m1.9 .6h0m.5-.7h0m.5 .1h0m0 .7h0m.7-2.1h0m.4 3.8h0m-.5 .2h0m0 .8h0m-.5-1.4h0m-2.2 .5h0m-2.5 .3h0m-.6-1h0m-.9 2.1h0m-1.2-2h0m-1.2-.5h0m-1.7 .6h0m-.7-.4h0m-26.4 1.6h0m28.1 2.1h0m.5-.4h0m.2 .3h0m2.3 .1h0m.6 1.5h0m0-1.4h0m1.7 0h0m.7 .3h0m0-.2h0m1.7-.2h0m1.1 .9h0m16.8 .5h0m-15.8 1.6h0m-4-.5h0m-.7-.2h0m-.1-.1h0m-1.5 .4h0m-2.7-.3h0m-2.9 2.4h0m-2.4-.1h0m-1.1 2.3h0m.9 .8h0m2-2h0m.6-.2h0m1.4 .9h0m2.5-.3h0m.2 1.1h0m9.1 .5h0m-14.6 1.8h0m-.5-.1h0m-.5-.6h0m0 1.3h0m0-2h0m-.7 .2h0m24 5.5h0m4.8-2.1h0m-14.1 5.6h0m37.8 4.7h0m-.5-1.5h0m-26.1 .4h0m-13.1 3.8h0m34.6 .5h0m8.3-.3h0m-45.7 5.8h0" stroke="#86ac1c" stroke-width="1.52" stroke-linecap="round" fill="none"/>
<path d="M80.8 171.7h0m-8.2 3.7h0m1.2-1h0m3.1 2.4h0m1.8-2h0m5.2-.7h0m-1.4 4.2h0m-2.8 1.3h0m0-1.7h0m-6.6 1.4h0m-1.1-.1h0m-24 1h0m1.4 2.2h0m12.8-1.9h0m7.1 .6h0m1.8-.8h0m2.9 2.1h0m.8-2h0m.7 1.6h0m5.2-1.2h0m7.4 0h0m.7 .3h0m-1.1 2h0m-13.5 1.2h0m-2.3-.4h0m-.6 1.7h0m-2-2.6h0m-3.4 .4h0m-.8 1h0m-1.4 .2h0m-1.7 .2h0m-.8 1h0m-13.6-.6h0m1.2 2.5h0m3.9-1h0m.6-.6h0m8.8 .2h0m.8 2h0m.1-1.8h0m4.9 .2h0m0 2.2h0m1-.2h0m7.6-1.7h0m.8 1.4h0m2.5 .1h0m.6-1.9h0m.4 .8h0m2.2 1.5h0m2.9-2.9h0m20.4 3.7h0m-18.8 .6h0m-7.1-1h0m-.4 .8h0m-10.2-.4h0m-.1-.4h0m-.1 0h0m-6.9-.3h0m-7.3 0h0m-2.2 .2h0m-.9 .7h0m-1.7-.5h0m3.2 3.3h0m9.1 .3h0m1.7 1.7h0m.6-.1h0m1.8-1.3h0m13.3-.5h0m4.3-.2h0m.4-.3h0m.5 1.1h0m2.6 .1h0m25 2.3h0m-18.7 2.1h0m-1.8 0h0m-1.6-2.7h0m-1.1 2.5h0m-8.4-1.7h0m-15.7 1.4h0m-3.9 .1h0m-9.3 .2h0m-1.8-2.3h0m-4 2h0m-.7 1.2h0m4.3 .8h0m20.7-.3h0m12.6 1.5h0m.3-1.8h0m1.2 1.9h0m6.8-1.3h0m2.2-.3h0m.4 .6h0m.1 .6h0m.4 0h0m5.5-.2h0m10.8 2h0m-5 .2h0m-3.8 .9h0m-1.7-1.2h0m-1.9-.5h0m-7.9 1.8h0m-2-.9h0m-3.9 1.3h0m-16.5-1.1h0m-5.6 .8h0m-.2-.6h0m-1.7-.9h0m-2.2-.5h0m-7.9 1.9h0m9.7 2.7h0m2.5-1.8h0m.4 2.5h0m.5-.2h0m3.7-1.6h0m.8 .1h0m8.2 1.5h0m11.1-.6h0m8.1-.2h0m.6 1.1h0m4.4-.5h0m1.3-1.4h0m.9-.6h0m4.2 0h0m3.2 .1h0m2.1 2h0m3.6-.1h0m4.2 2.5h0m-3.6 .9h0m-1.1-1.5h0m-8.2-.5h0m-.9 1.5h0m-4.4 .5h0m-1.9-.1h0m-1.2 .3h0m-1.4-1.2h0m-2.5-1.3h0m-.9 .5h0m-4.9-.1h0m-3.7 1.2h0m-6.3 .3h0m-12.8-.4h0m-14.2-1.9h0m-7.5 1.6h0m-2 .8h0m-.5-.5h0m-.5 2.1h0m8.7-.3h0m10.6 .1h0m3.3 .2h0m1.3 1.6h0m2.9-2h0m16.3-.1h0m2.7 .3h0m1.9 1.9h0m6.7-2.4h0m.4 .9h0m1-.2h0m.7 1.1h0m2.6-1.3h0m1.8-.2h0m.1-.2h0m7.3 2.1h0m.4-1.8h0m10.3-.4h0m-8.4 5.4h0m-4.7-2.5h0m-.6 .7h0m-3.2-.7h0m-4.2 2.6h0m-.9-.4h0m-.2-2.3h0m-1.5 1.9h0m-1.3 0h0m-2.5 .6h0m-1.1-.3h0m-1.6-.3h0m-.4-1.9h0m-1.4 .8h0m-2.9 1.1h0m-18.3-1.3h0m-4.5 .4h0m-.1-.4h0m-15.8 1.1h0m-.8-.4h0m22.6 2.5h0m6.5 .7h0m1.9 .5h0m2.3-2h0m.6 .4h0m4.1 .5h0m.7-.7h0m1.9-.2h0m1.4 2.4h0m4.2-1.7h0m.1-.2h0m.6 0h0m3.6 2.2h0m1.4-.4h0m.6-.6h0m8.8 .7h0m2.6-1.6h0m2 1.7h0m-5.5 2.4h0m-2.7-.9h0m-8.6 1.1h0m-.4-.9h0m-.4-1.1h0m-1.8 2.1h0m-1.2 0h0m-.1-.8h0m0 .1h0m-.1 .5h0m-3.4-1.6h0m-1.7 1.8h0m-.3-1.5h0m-1.4-.5h0m-.9 2.4h0m-.3-.2h0m-6.5 0h0m-.4 0h0m-5.5-.2h0m-2.7 .2h0m-16.6 .2h0m-1.6-.5h0m-3.8-.8h0m4.9 3.4h0m11.7-1.8h0m7.2 2h0m1.8-1.5h0m3 2.2h0m.2-1.6h0m1.5 .4h0m.5-1.3h0m1.1 1.5h0m7.4-.9h0m.4 .7h0m1.3 .8h0m8.1-2.2h0m.5 2.5h0m.4-2h0m.5 .6h0m.7 .1h0m5.3-.1h0m12.1 1.7h0m1.1-.1h0m2.4-1.1h0m2.6-.7h0m-2.9 2.7h0m-11.6 .2h0m-1.6-.2h0m-4.2-.1h0m-4.3-.2h0m-1.8-.1h0m-1.1-.1h0m-1.9 2.4h0m-.9-2.3h0m-3.5 2.4h0m-.1-.1h0m-.1 0h0m-1.3-.1h0m-.7-2.2h0m-1.7 .8h0m-1.2 1.8h0m-3.4-.7h0m-2.8-1.5h0m-1 .9h0m-.1-1.1h0m-.3-.4h0m-.4 .1h0m-.8 .9h0m-.3 1.7h0m-6.1-1.5h0m-3.9-1h0m-13.4 2h0m-8.4 1.2h0m1.9 2.3h0m27.6-1.5h0m.2 .9h0m.6-.9h0m.7-.8h0m5.8 1h0m1.3-1.4h0m1.6 .6h0m.2 1.5h0m1.1 .5h0m2.5-1.5h0m2.1 1.6h0m0-1.6h0m.1 1h0m.6-1.3h0m.4 1.2h0m.8 .2h0m3.4-.2h0m.5-1.7h0m1.1 1.1h0m.3-.4h0m.8-.8h0m4.3 1.5h0m13.6-.5h0m3.3 .4h0m-3.4 3.8h0m-8-.1h0m-7.9-.3h0m0-.8h0m-1.8-.3h0m-.7-.4h0m-.3 .5h0m-2.6-.6h0m-2.7 .9h0m-.7 .1h0m-.4 0h0m-5.3-.2h0m-.1-1.2h0m-1.1 .6h0m-1.2 1.2h0m-.8 .4h0m-3.8 .5h0m-.6-2.1h0m-2.7 1.4h0m-2.2 .5h0m.6 .8h0m.4 2.5h0m.4-1.7h0m.4 .9h0m.4-1.4h0m2 .1h0m.2 .6h0m.6-.8h0m1.1 .4h0m1.6 1.9h0m3.9-2.7h0m2.2 .7h0m2.9 1.3h0m.1-.7h0m3.6-.1h0m3.7 1.2h0m10.7 .3h0m7.1-1.9h0m6 1.7h0m8.5 1.4h0m-4.6 .5h0m-12.9 .1h0m-13.6-1.7h0m-.6 .2h0m-.6 .2h0m-6.4 .4h0m-.3 .4h0m-2.6 0h0m-1.5-1.1h0m-.2 1.9h0m-.6-.2h0m-.8-1.2h0m-.3 1.5h0m-1.7 .4h0m-4.2-2.2h0m-3.2 .2h0m-.3-.2h0m-.6 4.3h0m1.9 .8h0m1.1-1h0m2.2 .9h0m1.2 .5h0m.4-2.1h0m3 .8h0m2.7-1.2h0m.1 2.2h0m.3-2.2h0m.2 .7h0m39.1 .6h0m-41.9 3.7h0m-1.5-1.4h0m-.6 .6h0m-.2-.2h0m-1.1-.6h0m-1.9 1.8h0m-.4-1h0m1.3 4.2h0m1.1-2.3h0m.8 1.3h0m1 1h0m.6-.5h0m.4 .5h0m12.5-2.5h0m-14.9 4.5h0m-1.6 .5h0m4.8 1.8h0m4.1 .9h0m3.6 4.8h0m2.7 .7h0m1.3 3.2h0m-3.2 .1h0" stroke="#4dbcc6" stroke-width="1.52" stroke-linecap="round" fill="none"/>
<path d="M85.3 173.4h0m-2.9-.8h0m-4 1.3h0m.2 .2h0m17.2 7.5h0m.6-1.3h0m.5 1.8h0m.6-.6h0m1.7-.4h0m3.5 2.9h0m-1.4 .4h0m-1.8 1.4h0m-.6-.6h0m-.2-1.8h0m-.6 2.2h0m-.3 .3h0m-4.3 0h0m-1.1 1.2h0m2.8 .5h0m1.4 0h0m5.3-.2h0m.2-.6h0m.2 1.6h0m.6-.8h0m.1 1.2h0m.8-1.8h0m3.6-.2h0m.6 4.3h0m-2.1 .6h0m0-1.6h0m-3.6-1.1h0m-.9 2.9h0m-1.1-.2h0m-1.4-.8h0m-1.6-1.3h0m-.6 1.2h0m-.8 .9h0m-.4-2.3h0m-1.7-.2h0m-.5 2.6h0m-.5-2.3h0m-1 1.3h0m-11.4-1.2h0m-19.3 4.3h0m13.1-.7h0m.7 .4h0m15.7 .2h0m4.5 .1h0m5.4-1.5h0m2.8-.3h0m.6 1.6h0m1 1h0m3.7-1.6h0m3.2-.1h0m4 4.6h0m-1.4-2.2h0m-1.1 1.3h0m-.9-1.4h0m-.3 .8h0m-1.9-.2h0m-.7 1.7h0m-.7-.6h0m-3.2 0h0m-.5-1.8h0m-1.3 1.3h0m-1.4 1.1h0m-4.5-1.4h0m-4.9 1.5h0m-16.1-1.3h0m-1.4-.9h0m-2.7 .1h0m-.7 2.2h0m-.2-.5h0m-.7-1.3h0m-4.6 2.5h0m5.6 .3h0m3.6-.4h0m.4-.4h0m28.1 .1h0m2.7 1.7h0m.3 .6h0m.6 .1h0m.9-1.3h0m3.4 1.6h0m1.3-.1h0m.3-1.9h0m1.5 .7h0m.8-1.1h0m.1 .4h0m.2 1.1h0m1.1 .1h0m.5 .3h0m1.1 1.5h0m-.9 .2h0m-.5-.8h0m-6 1.1h0m-.7 .7h0m-.9 .9h0m-2.4-1.9h0m-1.5 1.2h0m3 2.9h0m1.1-1.4h0m1.8 0h0m1.1 1.5h0m.1 0h0m2.3-.6h0m.2 .2h0m2.1-1.6h0m.3 1.2h0m2.6-.1h0m2.8 4.6h0m-.8-1.1h0m0-.4h0m-2.1-.7h0m-.9-.6h0m-.6 .8h0m-4 1.7h0m-2-.4h0m-1.7 .4h0m-1.3-1.4h0m1.9 3.1h0m1.7-.7h0m1-.3h0m2.1-.3h0m4.2 2.9h0m2.2-1.8h0m2 .4h0m2.3-.3h0m0 3.7h0m-4.7 .3h0m-1.2-2.2h0m-.7 2.9h0m-.6-.3h0m-2.8-1.1h0m1.3 3.7h0m.7-1h0m.3-.2h0m.1-.7h0m.1 1h0m3.5-1h0m0 2.1h0m.9-.7h0m.5-.1h0m.7-1.2h0m-4.7 5.1h0m-.3 .3h0m-.7 .1h0m-1.4-2.9h0m-.1 2.9h0m-.7-1.6h0m-2.4 .6h0m-65.9-.4h0m69.5 3.3h0m1.8-.1h0m-55.8 8.9h0m-.8 .5h0m-1.5 3.8h0m.4-.9h0m.2-.4h0m.4-1.5h0m.3 2.8h0m.6-2.8h0m.6 2.4h0m0 1.1h0m-.1 1.3h0m-1.1 .5h0m-.5-1.1h0m-.2-1h0m-.8 2.4h0m-1.8 0h0m-1 .9h0m1.3 2.3h0m3.1-.7h0m56.2 1.1h0m-25.7 2.3h0m-29.1-.9h0m-.5 1.2h0m-.6-.5h0m-1.4-1.2h0m-.8-.9h0m-.6 1.2h0m-1.4 .5h0m-.7 1.8h0m.2-.6h0m.3 1.4h0m.4 .3h0m0 0h0m.9 .2h0m.6 .2h0m.2-1.1h0m.5 1.2h0m.7 .1h0m3.7-.5h0m21.4-1.8h0m5.5 2.9h0m-5.1 .1h0m-21.1 2.5h0m-1-1.5h0m-1.7 1.4h0m-1.7-1.3h0m-1.1 1.6h0m-.9-1.3h0m-.1 2.3h0m.5 1h0m3.8 .2h0m.3 .3h0m.3-2.1h0m.2 2h0m1-.3h0m1.1-.7h0m1.2 .7h0m.1-1.6h0m5.6 1.7h0m18.5-.9h0m-7.6 2.3h0m-10.7 1.2h0m-4.4 .5h0m-.9-1.6h0m-4.2 .7h0m-.7 1.7h0m1 2.2h0m1 .2h0m1.5-2.2h0m1.1 1h0m0 1.4h0m.9-1.1h0m.8 0h0m14.9-1h0m2.2 5.2h0m-.2-2.7h0m-9.6 1.3h0m-.1-1.1h0m-2.6 1.5h0m0-1h0m-.5 1h0m-1.3-1.2h0m-1.7 .8h0m-.3-.5h0m-.7-.6h0m-1.8 .6h0m-1.9 3.2h0m2.3-.6h0m.4 2.1h0m3.1-2.4h0m3.1 .3h0m7.8 1.4h0m8.6-.5h0" stroke="#b87af2" stroke-width="1.52" stroke-linecap="round" fill="none"/>
<path d="M80 170.8h0m8 .7h0m-7.4 2.2h0m-1.9-1.3h0m-.1-1.2h0m-2.2 2.1h0m-.5-.6h0m-4.8 .5h0m-.9 .9h0m4.9 .3h0m4.1 1.5h0m1.5 .9h0m.6-.9h0m2-.6h0m1.8 4.3h0m-4.9-1h0m-4.4-1.6h0m-.9 2.8h0m-.7-1.9h0m-25.1 5h0m14.9-.9h0m1.2-1.7h0m2.9-.3h0m1.8 .2h0m2.9 1.1h0m.9 .1h0m.1-.3h0m2.7 .8h0m.7 .2h0m3.7 .2h0m.5 .6h0m1.5-.8h0m1.5 .5h0m2.1-.2h0m10.8-1.6h0m2.7 4.2h0m-15.4 0h0m-2.5-.6h0m-3.1-.1h0m-1.4 .3h0m-6.1-1.1h0m-1.6 1.1h0m-.5-.4h0m-1.7-1.1h0m-2.8 .2h0m-.8-.2h0m-3.2 4.4h0m.3-1.4h0m1.4 2.6h0m.6 .1h0m1.9-2.3h0m14 1.3h0m3-.8h0m2.2 1.4h0m5.2-.9h0m-3.9 3.7h0m-1.1-.2h0m-3.3-1.6h0m-.1-.3h0m-.8 .2h0m-.6 .1h0m-1.3 1.2h0m-11.6-1.6h0m-3.3 2.6h0m-3.7 2.6h0m.5-1.2h0m2.3 .4h0m5-1.1h0m.4 1.2h0m12.4 .8h0m3-1.4h0m2.8 1.3h0m4.2 .1h0m22.4 .5h0m-.9 3h0m-23.3-.3h0m-.8-1.1h0m-1.9 .3h0m-.6-.2h0m-.9 0h0m-1.1 .7h0m-1.1-1.1h0m-.2-.8h0m-1 1.3h0m-.4-.1h0m-1.3-1h0m-7.6 1.7h0m-2.1-.2h0m0 .4h0m-3.9-1.1h0m-2.2 .5h0m0-.1h0m-5.1-1.5h0m-11.4 .5h0m-1.9 .5h0m-.2 .1h0m16.7 2.2h0m1.3-.1h0m1 0h0m2.1 1.1h0m4.7-.4h0m10-1.1h0m9.4 1.8h0m.4-1.8h0m.7 .8h0m0-.7h0m.1 1.1h0m3-.6h0m17.9 .5h0m-11.1 3.9h0m-3.7 .5h0m-2.3-2h0m-.3 1h0m-2.4 .5h0m-2 .7h0m-.8-2.7h0m-.3 2.2h0m-.3-.9h0m-1.3-.7h0m-3.9 1.3h0m-14.3-.3h0m-4.1 1.3h0m-19.8 1.6h0m1.1-.5h0m.5 .9h0m15.3-.6h0m0-1.1h0m3 1h0m1-.3h0m3.8 .5h0m13.8-.6h0m.6 1h0m1.3 0h0m1.7-.5h0m.4-.3h0m.6-.1h0m5.5 1.2h0m1.5 .1h0m1.8-1.8h0m.8 2.5h0m1.3-2.2h0m19.3 1h0m-.7 2.7h0m-4-.8h0m-8.1 2.1h0m-1.8-1.8h0m-1.1-.7h0m-2 .2h0m-1.2 1.4h0m-4.4-.9h0m-5.8 1.8h0m-2.2-2.4h0m-30.6 1.2h0m-2.5-.2h0m-2.9 1h0m-3.6-1.8h0m-.2 2.4h0m-1.7-.3h0m-3.3-1.2h0m-2.9-1.2h0m7.9 4.6h0m3.2-1.3h0m17.4 .3h0m.8-.6h0m3.3 1.2h0m16.2-.1h0m3.3-.7h0m.9 .2h0m.8-.4h0m1.9-.3h0m1.1 .5h0m.3-.6h0m3.3 1.1h0m.4-.6h0m2.8 .5h0m0-.7h0m6.7 2.5h0m0-2.7h0m.7 1.8h0m3.9 .6h0m4 3h0m-4.3-2.5h0m-1.9 .9h0m-.9 .4h0m-3-1.3h0m-.4 2h0m-1.3 .1h0m-.3-1h0m-.7-.1h0m-.9-1h0m-1 1h0m-1.1-.8h0m-4.7 1.8h0m-2.8-.5h0m-.5-1.1h0m-1.4 .3h0m-1.5 1.9h0m-2.2 0h0m-6.5-.2h0m-13.4-.4h0m-1.4-1.9h0m-18.1 2.3h0m-.1 .4h0m-.6-2.6h0m-.8 1.5h0m-2.1 .4h0m-2.6 .4h0m-1.9-.6h0m-1.1 3.3h0m4.3 .3h0m.5-1.2h0m2.8-.5h0m2.2 1h0m.2-1.4h0m2.8 1.9h0m23.9-1.1h0m3.8 1.1h0m7.5-2.1h0m.5 1.3h0m7.1-1.1h0m1.6 0h0m0 .5h0m1.9-.4h0m.1 2.2h0m.7-.9h0m4.4-.9h0m2.4 1.6h0m.2-.4h0m.2-.3h0m0-.6h0m4.2-1.1h0m2.6 1.6h0m-1 2.8h0m-1.4-.6h0m-3.1 1.8h0m-.1 .2h0m-.4-.9h0m-.6-.8h0m-3.6 .5h0m-3.3-.8h0m-1.7 .9h0m-13.6-.3h0m-21.5-.4h0m-11.1 .9h0m-2.1-.3h0m-3-1.1h0m0 1.9h0m-1.8-1.4h0m-.6 1.8h0m-.8-1.8h0m-2 0h0m-.2 .3h0m-1.3 .9h0m1.2 3.3h0m2.8-.2h0m1.2-.9h0m1.6 .5h0m4.1-2h0m.5 .7h0m.7-.4h0m1.3 2.3h0m13.5-2.1h0m16.2 2.3h0m5.1-1.4h0m5.1 .4h0m4.9 .2h0m3.1-.7h0m1.8-1h0m1.2 2.1h0m2.7 .3h0m.4 .2h0m2.6-2.2h0m.6 .7h0m4.6 1.4h0m1.7-.6h0m-1.5 1.5h0m-.1-.7h0m-.7 .9h0m-.5 .9h0m-.4 1.1h0m-1-2.3h0m-1.4 1.4h0m-2 .3h0m-.1-.2h0m-1.7-1.7h0m-.7 2.5h0m-1.7-.4h0m-1.6-.3h0m-.2-1.8h0m-1.9 1.9h0m-2-1.7h0m-7.6 2.1h0m-10.4-2.2h0m-4.6 2.4h0m-16.1-1.2h0m-10.4 .6h0m-3.5 .5h0m-.9-2.5h0m-.8-.1h0m-.5 1.6h0m-3.3 0h0m-.5-.6h0m2.8 3.8h0m1.7-1.8h0m1.5 1.3h0m.6 .5h0m2.3 .2h0m.1-.3h0m.1-.9h0m11.9-.3h0m18.2 .1h0m1 .2h0m5.8 1.9h0m7-.8h0m.7-.3h0m4.1-.3h0m.5-.9h0m.8 .6h0m6.7 1.1h0m2.9-2.2h0m2.5 2.4h0m.6 .4h0m.4-1.9h0m3.4 .8h0m-7.6 3.7h0m-1.7-1.7h0m-2.7 1.4h0m-.6-.4h0m-.3 .9h0m-1.4-.6h0m-.3-1.7h0m-1.2 .6h0m-.2-.8h0m-1.2 1.6h0m-6.2 .9h0m-.8-.8h0m-.6-.4h0m-3.3-.7h0m-1.4 .7h0m-11.6 .2h0m-6.8-.4h0m-15 1.5h0m-5.3-1.9h0m-1.6 1.5h0m-.7-2.1h0m-.9-.1h0m-.4 2.4h0m14.7 1.9h0m1.3 1h0m.8-1.2h0m.1 .6h0m1.7 .2h0m6.4 .6h0m2.3-.7h0m9.2-.8h0m6.3-.5h0m.7 1.5h0m11.4-.8h0m5.7-.5h0m1.2-.3h0m11.2 2.2h0m3.3-1.4h0m1.6 .9h0m.3-.1h0m.1 1.8h0m-.6 .9h0m-.1-1h0m-.6 .1h0m-2.1-.6h0m-.9-.2h0m-5.9 2.5h0m-9.2-2.6h0m0 .2h0m-3.4 .4h0m-8 .4h0m-11.6 1.2h0m-.3-1.7h0m-1.9 1.4h0m-7.7-1.3h0m-.4 1.7h0m-9.7-.5h0m-2.6 1h0m2.3 1.7h0m28.5 .4h0m.4 .8h0m1.9-.9h0m1.5-.7h0m24.3 1.1h0m.2-.4h0m2-.4h0m1.6-.4h0m-22.5 2.7h0m-3.2 1.6h0m-.8 .4h0m-.8-.5h0m-1.4-1.7h0m-2.1 2.3h0m-.2-.2h0m-1.6-2.6h0m-.1 .8h0m-9 1.2h0m-.2 .3h0m-6.9-.8h0m-8.7-1.1h0m-2.6 4.2h0m2.8-.1h0m16.3 .2h0m.4-.1h0m5-1.1h0m2.2 1.7h0m.3-.7h0m.4-.3h0m.8 1.6h0m6.9-.3h0m24-2.6h0m-25.4 4.8h0m-.5 .6h0m-1-.1h0m-2.3-1.9h0m-.8 2.4h0m-3.1-.9h0m-.6 .8h0m-.3-2h0m-.2 .7h0m-1.5-1.3h0m-.2 2.1h0m-.3-.2h0m-5.2 .8h0m-19.4 .5h0m6.3-.2h0m.8 1.8h0m.3-.7h0m.4-1.2h0m.6 .2h0m14.1 2.2h0m1.6-1.6h0m1.4 1.4h0m.8-.3h0m3.4 .2h0m1.9-.1h0m.6-.5h0m.9-.7h0m3 1.1h0m.9-.3h0m.4-.7h0m-1.4 5h0m-1.1-.4h0m-.2-1.8h0m-1.4 1.6h0m-1.4-.7h0m-1.5-.4h0m-5.2 1.1h0m-1.3-1.4h0m-.3 1.7h0m-.7-1.4h0m-.6 .2h0m-7.1 1h0m-1.4-1.5h0m-3.3 .3h0m-.5 .2h0m-1.1 .6h0m-.6-1.8h0m-.4-.1h0m-3.7 .4h0m-.2 1.7h0m-.6-.5h0m-.4 .9h0m-.6-1.1h0m2.6 3.3h0m3.2 .7h0m11.7-.8h0m1.1 1.1h0m4.3-1.5h0m2.2 .8h0m.5-1.2h0m2.5-.9h0m0 .2h0m.1 1.9h0m0-1.2h0m1.7 1.1h0m2.2-1.3h0m.7-.6h0m1.2 2h0m.6-1.6h0m-1.4 3.5h0m-.4 .5h0m-1.2-.6h0m-1.1-.5h0m-1.2 1h0m-.3-.9h0m0-.3h0m-1.3 .5h0m-.6-.2h0m-1.7 1.2h0m-.7-.8h0m-.5 .9h0m0-.1h0m-1.2-.5h0m-2.1 1.7h0m-2.7-2.9h0m-6.1 2h0m-2.7-1h0m-.4 .2h0m-2.6 .7h0m-.3-.6h0m-2-1.1h0m-1.7 .1h0m-3.1 0h0m9.3 2.9h0m2.6 .5h0m.2 1.6h0m2.6-2.2h0m13.4 2.1h0m.8 .4h0m.1-1h0m.5 .1h0m0 .7h0m1.3-2h0m.1 1.3h0m.8-1.6h0m2.4 0h0m.9 0h0m-9.1 3.9h0m-.6-.6h0m-12.9 2.4h0" stroke="#e47068" stroke-width="1.52" stroke-linecap="round" fill="none"/>
<path d="M85 180.7h0m-24.7 6.7h0m3.8 1.2h0m20 6.1h0m.2 1.7h0m-4.9 1.4h0m-2.3-.7h0m-2 2.1h0m.1 1.6h0m.8-.6h0m.7-.3h0m2.9 .3h0m.6-2h0m1.8 2.7h0m1 1.8h0m-.9-.2h0m-.2 .2h0m-1.4-.5h0m-.9 .8h0m-.1-.5h0m-1.7-.4h0m-5.9-.2h0m-.1 .8h0m-.5-1.1h0m-.2 2.4h0m.1 .2h0m1.2 1.6h0m2.1-1.6h0m.1 2.5h0m.1 .1h0m.9-.7h0m.5-1.3h0m.7-.2h0m4.1 1.6h0m.7 0h0m1.5-2h0m21.7 2.2h0m-20.6 2.1h0m-.5-1.3h0m-.8 1.3h0m-2-.5h0m-9.3 0h0m-.1 .7h0m-26-1.2h0m23.5 5h0m2.6-.8h0m2.7-.1h0m.1-.6h0m1.6 1.5h0m3.2-2.2h0m.8 1h0m.3 1.3h0m1.9 .3h0m.2-2.2h0m.1 3.8h0m0 .9h0m-.4-1h0m-2.2-.7h0m-.2 1.8h0m-.1-2.1h0m-.6 .4h0m-2 2.1h0m-.7-2.9h0m-1.1 .5h0m-1.7 .7h0m-21.8-.1h0m21.3 2.9h0m1.4 1.6h0m1 .3h0m3.6-.3h0m.1-2.4h0m1 1.4h0m2.5-1.3h0m-5.7 2.8h0m-.2 .4h0m0 .6h0m-2.8-1.1h0m-7.1 3.5h0m14.6 .1h0m8.3 2.8h0m-20.6 .2h0m-.4 1.6h0m-1 .6h0m-.6-2h0m-.7-.6h0m3.8 4.6h0m7.6-1.7h0m16.4 .3h0m1.7 1.8h0m3.5 3.2h0m-28.2-1.2h0m2.4 2.8h0m2.8 .3h0m5.3 7.9h0" stroke="#86ac1c" stroke-width="1.52" stroke-linecap="round" fill="none"/>
<path d="M80.7 170.4h0m.7-1.2h0m0 .8h0m2.8 0h0m1.6 2h0m1 3.7h0m.2 .5h0m-1.1 1.1h0m-3.8-.3h0m-5.7 1.8h0m-.2-.8h0m-8.9 .3h0m-18.6 2.1h0m16.7 1.3h0m1.2-.4h0m9.5-1h0m.5 2.6h0m5.8-1.3h0m3.6-1.2h0m17.8 3.9h0m-22.7-.8h0m-4.6 1.7h0m-4.4 0h0m-5.6-1h0m-1.4 .9h0m-1.8-2h0m-12.6 2h0m-.3-1.7h0m-.2-.2h0m-1.9 4.2h0m4.7 .8h0m0-.2h0m.2-1.4h0m13.5 2h0m2.9-1.3h0m6.6-.8h0m2.6 2.2h0m.4-1.6h0m2.8 1.5h0m.6-1.8h0m2.3 1.9h0m.7-.9h0m.2-1.5h0m14.2 .4h0m0-.6h0m2.1 3h0m-5.2 .8h0m-18.3 1.3h0m-12.7-.6h0m-2.6-.7h0m-1.4 .7h0m-1.5-1.2h0m-6.8 1.8h0m-.5-1.1h0m-3.6 1h0m-1.2-2.1h0m-.1 .6h0m-.5-.2h0m-.8 .1h0m-2.5 2.7h0m14.6 2.4h0m.5-1.7h0m.6 .4h0m2.6 1.5h0m1.9-.2h0m1.2 0h0m10.2-.4h0m5-1h0m.4-1h0m5.1 2.1h0m27.1 1.5h0m-1.8 1.3h0m-1.5-.5h0m-6.2-.6h0m-11.1 .7h0m-2.2 1h0m-.3 0h0m-1.8-2.1h0m-.9 1.5h0m-2-.2h0m-.3 .6h0m-.4-.1h0m-.2-1.7h0m-15.9-.2h0m-.5 1.3h0m-.9-1.5h0m-2.3-.1h0m-.4 1.1h0m-14.2 1.1h0m-3.5-1.5h0m14.9 2.7h0m1.6 .6h0m.7 .7h0m4.3 .9h0m.7-2.1h0m1.1 .8h0m.2 .9h0m.1-.4h0m14.1-.9h0m.4-.6h0m1.3 1.1h0m3.1-.5h0m5.7-.6h0m1.7 .7h0m.2-.5h0m-4 5.2h0m-7.9-1h0m-.7-1.6h0m-14 1.5h0m-1.8-.5h0m-.1 0h0m-3.3 1.5h0m-3.9 1.5h0m1.6 1.4h0m3.9-.7h0m2.7-1.8h0m.3 1.1h0m3.4 .3h0m6.4 .2h0m5.8-.6h0m1.2 .7h0m.1-.2h0m.6-.6h0m5 .3h0m1.1 .7h0m1.1-2.1h0m.5 .1h0m1 2.1h0m.3-1.8h0m.5 1.2h0m3.1-.2h0m1.8 .6h0m.1-1.8h0m.4-.1h0m.8 2.7h0m3.2-.2h0m15.2-1.3h0m-7.9 4.6h0m-5.3-.7h0m-2.2-.5h0m-9.1 .8h0m-3 .4h0m-2.3-.1h0m-.7 0h0m-1.6-.3h0m-2.9-.2h0m-20.1 .1h0m-.6-1.6h0m-2.8-.6h0m-.6 .9h0m-12.1 .9h0m-11.1 1h0m3.5 1.4h0m3.1 .2h0m3.5 1.1h0m13.7-1.4h0m17.4-.7h0m4.8 .2h0m.2 1.4h0m2-1.5h0m1.5 2h0m.1 0h0m1-1.6h0m.7-.5h0m.5 2.3h0m1.6-1.9h0m3.6-.2h0m.8-.7h0m7.9 1.5h0m1.9-1h0m.5 0h0m3.5 2.1h0m13.1-.7h0m-21.7 2.9h0m-3.5-.3h0m-1.3-1.5h0m-1.9 2.7h0m-1.1-1.4h0m-2.2 .1h0m-1.4 .2h0m-1.2-1.7h0m-1.2 .5h0m-2.3 .4h0m-2.3 1.3h0m-15-.9h0m-.8 .5h0m-.9-1.3h0m-19.3 1.9h0m-3.6 2.9h0m7.6-.9h0m3.3-.3h0m9.7 .6h0m3 .8h0m.3-1.1h0m14.1-.2h0m.2 .2h0m1 .1h0m.1-1.1h0m1.8 0h0m1.1-.2h0m.8 2.6h0m.2-.9h0m1.6 .9h0m7.8-1.2h0m3 .5h0m1.9 .7h0m2.8-2.3h0m2.8 1.2h0m13.2 .8h0m-6.3 1.5h0m-8.1 0h0m-7.8 1.3h0m-1.7-2.3h0m-1 1.2h0m-1.2 1.2h0m-15-.1h0m-1.4 .4h0m-.5-1h0m-1.4 1h0m-1.2-1.2h0m-5.7-1.2h0m-6.5 1.5h0m-16.6-1.5h0m-2 3.8h0m21.5-.5h0m8.7 .5h0m0-.5h0m4.8 .5h0m.6-.3h0m4.3 .8h0m.9-.3h0m1.2 1h0m.1-.4h0m2-.6h0m1.7 .2h0m1.1 .1h0m1.6 .4h0m.6-.4h0m.5-.6h0m1.4 .2h0m.3 1.2h0m1.5-2.3h0m3.2 1.4h0m5.3 4.3h0m-.6-.1h0m-1.2-1.3h0m-1.4-.9h0m-.4-.2h0m-3.1 .8h0m-.5 0h0m-5.5-.2h0m-1.1 1.3h0m-2.8-.3h0m-2.2-1h0m-.3 .6h0m-4.1-.3h0m-1.2-.3h0m-3.5 .7h0m-3.4 .4h0m-2.7-1.6h0m.2 3.1h0m1.1 .6h0m2.9 0h0m2.9-.3h0m3.9 1.4h0m1-.6h0m1.5-.1h0m5.2 1h0m4-1.7h0m2.4 1.1h0m.4 .5h0m.5 .3h0m1.3-2.7h0m5.5 2.2h0m6.1-.2h0m1.7-1h0m1.6 1.2h0m.4 .7h0m3.1-2.4h0m.8-.5h0m-10.4 5.1h0m-1.4-1.6h0m-1-.4h0m-2.1 2.3h0m-.9-2.3h0m-3.2 1h0m-1.3-.4h0m-.1 1.3h0m-.1-1h0m-1.1 1.1h0m-.1-1.7h0m-2.6 1.1h0m-.8-.4h0m-.1 0h0m-.7 0h0m-.8 0h0m-.9 .9h0m-2.9-.7h0m-1.3-1.1h0m-.6 2.1h0m-.5-1.5h0m-1.1-.5h0m-2 1.6h0m-.7-1.6h0m-.8 .6h0m-.9 .6h0m-.7 .6h0m-2.7-.3h0m-2-.3h0m-.8 .2h0m-1.5 .1h0m0-.1h0m-.7-1.6h0m-1.4 2.6h0m2.5 3h0m.2-1.9h0m1.1 2.1h0m.1-2.9h0m3.6 2.2h0m2.5 .5h0m.3-1.1h0m1.3 .1h0m1.4 .5h0m.2-.5h0m.5 .1h0m2.5-1h0m3.9 1.2h0m1.2-1.4h0m3.5-.2h0m4.5 1.8h0m2.7 .4h0m1.2-2.2h0m-4.2 4.9h0m-6.3-2.3h0m-5.3 .6h0m-.8 .8h0m-1.1 .6h0m-.3-.1h0m-1.2 0h0m-1.3 .6h0m-.5-1.7h0m-1.2-.7h0m-2.2 1.3h0m-1.3-1h0m-.4 1.1h0m-1-1.1h0m-1.4 .1h0m-.8 2.4h0m-1-1.7h0m2.2 4.5h0m.1-1.4h0m.6-1.3h0m.8 2.2h0m1.4 .3h0m.8-.7h0m1.4 .2h0m3.6-1h0m7.6 1.8h0m-8.1 1h0m-3.5 .4h0m-3.4-.6h0m-1.1 1.6h0m-.4-.5h0m-1-.6h0m1.6 4.4h0m3.7-2.1h0m.1 2.1h0m2.9-2.4h0m11.8-.1h0m-11.2 5.2h0m-.7 0h0m-2.2-1.2h0m-.1 .2h0m-.2 1.1h0m-.3-.7h0m-.4 .3h0m-.4 1h0m-.9-.9h0m0-1.7h0m2 4.3h0m13.8 6h0" stroke="#4dbcc6" stroke-width="1.52" stroke-linecap="round" fill="none"/>
<path d="M81.3 167.9h0m-1.5 2.6h0m6.6 3.2h0m-9.1 .2h0m-8.5 2.7h0m7.1-1.5h0m2.7 1.5h0m1.5-2.2h0m2 1.3h0m4.7 1.1h0m-7.7 2h0m-.5-1.3h0m-.8-.3h0m-3.4 1.4h0m-.4 .3h0m-1.3 .7h0m-.3 .3h0m-2.1-2.1h0m-12.7 2h0m-10.4 3h0m3.3-2.3h0m16.3-.2h0m3 .7h0m.3 1.8h0m2.1-2.2h0m.6 2.1h0m2.7 .1h0m1-1.5h0m12.5 1.5h0m-3.6 1.4h0m-.8-.3h0m-3.1 1.5h0m-9-.5h0m-11.1-1.4h0m-11.3 .6h0m-.4-.2h0m-.1 .8h0m-1.3-.1h0m-1.4 3.8h0m5.9-2.2h0m.1 1.2h0m.9 1.3h0m6.9 0h0m3.4-.5h0m.2-1.7h0m3.2 1.4h0m1.3 .7h0m.7-2.5h0m14.8 1.1h0m1.2 1.2h0m15.5 .2h0m-5.1 1.4h0m-.9-.2h0m-11.7-.5h0m-2 1h0m-17-.9h0m-4.5 .6h0m-11.4-.5h0m0 0h0m-.4 0h0m-.7 .9h0m-.9 1.1h0m.4 .7h0m12.8 .7h0m5.2 1.1h0m0 .4h0m2-.2h0m13.8-.1h0m.4-.9h0m.2 1.2h0m3.8-2.2h0m3.7 .4h0m14.3 1.7h0m4.7-.7h0m-.8 2.5h0m-10.9 1.8h0m-2.7-2h0m-4 .4h0m-5.4 .9h0m-3-1.6h0m-1.5-.3h0m-1.5 .3h0m-29.4 1.5h0m-2.1-1.5h0m-.5 2.3h0m1.8 .1h0m11.6 0h0m4.9 1.4h0m4.7 1.2h0m0-.4h0m.6-.3h0m18 .2h0m4.5-.4h0m1.7-.4h0m4.3 .7h0m7.1-.5h0m1.2 .9h0m.6-2.1h0m5.9 1.3h0m-7.7 4.3h0m-1.9-1.5h0m-5-.3h0m-3.5 .5h0m-2.5 .2h0m-2.3 0h0m-1-.3h0m-.9 .9h0m-1.4-.9h0m-.8-.2h0m-.4 1.1h0m-.3-1.9h0m-.5 2.2h0m-14.2-.4h0m-28.7 1.7h0m7.8 1.9h0m14.6-1.1h0m3 .4h0m1.6-1.9h0m.9 1.6h0m5.2-.8h0m10.8-.5h0m.6 1.7h0m4.2-.9h0m.5-.9h0m7.3 1.5h0m1.9 .5h0m1.6-1.2h0m4.2 .3h0m12.9 3.1h0m-9 .9h0m-1.4-.8h0m-8.2-1.2h0m-.7 2.3h0m-1.4-.4h0m-.3-2.4h0m-2.5 .4h0m-3.1 .2h0m-2.5 1.5h0m0-.1h0m-1-.5h0m-1.2 0h0m-2.1-1.2h0m-.8 1.8h0m-4.9 0h0m-19.6-1.5h0m-8.3 1.8h0m-3.4 .1h0m-2.1 .1h0m-.1-1.7h0m-.9 .4h0m-2.7 .2h0m3.5 4.3h0m1.4-.6h0m1.8-1.2h0m4.3-.7h0m7.5 .5h0m.5-.7h0m2.4 1.3h0m4.5-.1h0m18.1-.5h0m1.8 .3h0m.5 .2h0m4.5 .3h0m3.5 .6h0m3.1-1.6h0m.8 1.7h0m0-1.1h0m.8 .5h0m2.5 1h0m5.5-1.4h0m2.4 1.2h0m12.9 .3h0m-13 .6h0m-.6 2.1h0m-1.1-2.6h0m-9.2 2.7h0m-1.1-.2h0m-2.2-2h0m-.3 2h0m-.8-.9h0m-.3-1.3h0m-3.5 2h0m-1.3-1.8h0m-.3 2.4h0m-1.6-2h0m-1.4 1.8h0m-20.9-.2h0m-6-.8h0m-3.5-.9h0m-7.3-.2h0m-6.7 5h0m18.7 .3h0m4.7-1h0m1.2-1.4h0m1 .1h0m6.8-.6h0m9.9 .7h0m.8-.5h0m1.4 0h0m.2 1.6h0m1.2 0h0m.1-1.3h0m.8-.3h0m.3 2.5h0m.4-1.1h0m.3-.8h0m1.3 .6h0m.2 .3h0m.6-.6h0m5.7 .6h0m5.1-1.3h0m2 .4h0m.8 .8h0m6.8 2.9h0m-2.6-1.4h0m-8.4 1.4h0m-2-1h0m-.6 1.4h0m-3.1 .5h0m-3.8-1.8h0m-1.4 .1h0m-1.3 1.2h0m-.6-.4h0m-4.3-1.4h0m-.1 .4h0m0 .2h0m-.4-.2h0m-.1 1.3h0m0-.8h0m-1.6-.8h0m-16.4 1.9h0m-.3-1.6h0m-15.9-.5h0m-3.9 1.4h0m4.8 3.1h0m13.9 1.1h0m1.3-1.5h0m2.1-.9h0m4.3 1.9h0m1.7 0h0m.1-.9h0m2.8 .6h0m1.6-1.8h0m1.2 1h0m2.4 1.4h0m3.6-.7h0m.2 .9h0m5.2-1h0m1-.9h0m3.1 1.5h0m2.3-.9h0m2.6 .4h0m.9-.5h0m2.9 1.7h0m1.6-1.1h0m6.4 .8h0m1-2h0m5.1-.2h0m.3 .3h0m-4.2 3h0m-.6 .5h0m-2.7 .9h0m-9.1-1.7h0m-1.5 1.3h0m-2.1-.7h0m-1.7 .3h0m-.5 0h0m-1 .1h0m-2 .9h0m-1.1-.7h0m-1.4-.1h0m-.5 .2h0m-6.4-1h0m-1.4 1.3h0m-4 .4h0m-2.2 .1h0m-1.9 .1h0m-2.8-1.2h0m-29.6 2.7h0m8.3 .8h0m16-1.4h0m1.1-.5h0m3.7 1.8h0m.2-1.4h0m.7 2h0m.8-.1h0m0-1.8h0m1.1-.3h0m.2 1.2h0m2.4 1.5h0m4.8-2.7h0m1.1 1.4h0m2.8-1.2h0m.6 2.1h0m.3-.7h0m3.7-.2h0m1.8-.9h0m1 1.9h0m4.7-1.1h0m.5 .7h0m1.8-2.2h0m5.7 1.9h0m2.6 .8h0m-1.4 2.6h0m-2.7-1.3h0m-1.7 1.7h0m-.4-2.7h0m-.4 0h0m-2.5 .8h0m-5.2 1h0m-.2 1h0m-1-.3h0m-1.9-1.9h0m-4.3 1.3h0m-1.8-1.3h0m-2.6 1h0m-.2-1.2h0m-.5 1.9h0m-.8-1.2h0m-.1 .9h0m-2-1.7h0m-3 1.3h0m-.1-1.4h0m-1.4 2.4h0m-3.5-2.1h0m-.2 .9h0m-.9 1.3h0m0-1.2h0m-.6 .9h0m0-1.8h0m-23.7 .5h0m25.5 4.3h0m.5-.9h0m.9-.3h0m.9-.1h0m1-.1h0m2.2 .7h0m1.3-.8h0m3.4-.2h0m4.4 2.1h0m.4-2.6h0m.1 2.3h0m.9-1.6h0m2-.2h0m1.9 .4h0m5.2 1.1h0m.2 .1h0m.2 .2h0m.9-1.6h0m.1-.1h0m2.1 .5h0m3.6 .7h0m5.4-1.7h0m.7 .3h0m-13.7 2.5h0m-3.7 .4h0m-4.9 0h0m-5.7 2.3h0m-2.5-.2h0m-7.1-2.3h0m0 1h0m-.2 .5h0m-.2 .7h0m-.3-1.8h0m1.8 3.4h0m.9 1.7h0m5-1.9h0m.3 1.2h0m1.3-2h0m2.5 .7h0m.6 1.5h0m.2 0h0m.8-1.7h0m34.7-.2h0m-37.4 4.6h0m-4.1-2h0m-1 2.3h0m-1.8-1.2h0m-.2 .1h0m-2.9 .4h0m3.9 3.7h0m4.3 .2h0m2.2-1.8h0m.2-.6h0m1.2 1.4h0m-1.7 2.8h0m-3.6 .1h0m-2.1 1.1h0m13.8 2.6h0m-3.7 4.1h0" stroke="#4dbcc6" stroke-width="1.52" stroke-linecap="round" fill="none"/>
<path d="M83.1 169h0m3.5 1.4h0m.1 .7h0m-7.4 2.1h0m-.2 .4h0m.1 2.2h0m.5 .2h0m1.8-.4h0m1 7.1h0m16.6-1.4h0m4 3.9h0m-7.1-2h0m-.7 .7h0m-2.3 2h0m-15.7-.9h0m15.8 2.7h0m.5 .6h0m1.9-.9h0m3.4-1h0m4.4 1.4h0m0-.7h0m1.8 1h0m.2-1.3h0m.3 1.1h0m0 2.1h0m-.1 1.7h0m-.4-1.8h0m-.7 1.3h0m0 0h0m-1.3 .2h0m-1-.1h0m-3.1 .3h0m-.4-1.9h0m-3.5 2.2h0m-2.7-2.8h0m-10.6 1.8h0m-1.2 .6h0m-18.2 2.3h0m.8 .2h0m10.7 .7h0m1.9-1h0m.2 1.1h0m19-.4h0m2.6-.9h0m1.4 1.4h0m1.7 0h0m1-1h0m.2-.1h0m.9-1.1h0m.1 .1h0m.4 1.3h0m.8 .4h0m.3-.7h0m.1 1h0m1.6-.5h0m3.1-1.9h0m2.7 .9h0m0 .6h0m2.6 .6h0m4.3 3h0m-3.2-1.2h0m-.8-1h0m-1.2 1.3h0m-.4-1h0m-4.5 .2h0m-.6 .1h0m-.7 .7h0m-1.4-1.3h0m-.3-.3h0m0 2.8h0m-1.8-.4h0m-.8-1.6h0m-2.8-.5h0m-.1 1.2h0m-1.7-1.2h0m-.5 .3h0m-.1 .1h0m-8.6 .9h0m-2.4 .6h0m-9.6-1.1h0m-.2-.2h0m-.6 .7h0m-3.2-1.1h0m-.6 2h0m-.1-.1h0m-1.3-.6h0m-1.3-.7h0m3.1 2.1h0m1.1 .8h0m25.3-1h0m.5 .8h0m1.9-.3h0m1.3-.5h0m.4 1.8h0m.6-1.3h0m.9 .3h0m.2-.7h0m.2 .4h0m3.7 .1h0m3.2 1.4h0m1 .4h0m0-.5h0m.9 1h0m3.5-1.7h0m2.1 1.7h0m2.6 2.8h0m-4.2 0h0m-1.1-1.1h0m-.7 .8h0m-.1 .3h0m-.2-.1h0m-2.4-.4h0m-2.8 .1h0m0-1.3h0m-1 .5h0m-3.4 .4h0m-1.5 .5h0m-.8-1.2h0m4.3 2.1h0m.4 1.6h0m.9-1h0m.8 1.6h0m1.8-.9h0m3 .8h0m1.1 .5h0m.9-.2h0m.1-.5h0m.7 .5h0m.8-.4h0m.4-1.6h0m7.4 4.7h0m-2-1.5h0m-.8 .5h0m-1.3-1.4h0m0 2.1h0m-.1 .5h0m-1.3-1.1h0m-.1 .4h0m-3.6 .5h0m-4.1 .5h0m-1.2-1.1h0m1.8 3h0m1.1-1.6h0m.4 1.1h0m.9 .2h0m2 0h0m2.8-.3h0m2.4 1.5h0m1.5-2.4h0m-.8 4.6h0m-2.3-.1h0m-4.8 0h0m-.1 .6h0m-.3 2.7h0m.5 .1h0m2.9-2.1h0m.1 .3h0m.5-.3h0m.1-.1h0m1.2 1.5h0m0 .2h0m.8-.4h0m.1-.8h0m.1 1h0m1.1 0h0m.2-.6h0m-3.8 4.7h0m-1.1-1.5h0m-.2-.6h0m-.4 .4h0m-1.3 1.1h0m-2-.9h0m-1.1 1h0m.2 1.5h0m1.8-.1h0m10.2-.4h0m-62.7 8.7h0m1.4-.8h0m-1 1.9h0m-.5-.7h0m-.1 2.3h0m-.4-.5h0m-1.3-.8h0m-.2 0h0m0 1.5h0m-2.6 1.7h0m1.2-.9h0m1.2 2.2h0m58.8 2.9h0m-55.1-1.6h0m-1 .7h0m-2.9-.2h0m-2.8 1.6h0m1 1.7h0m2.9-1.7h0m.5 2.8h0m30.7 1h0m-3.6 0h0m-24.1 2h0m-1-.8h0m-1.9-2.1h0m-2.9 2.3h0m-.5 .5h0m-.7-1.2h0m-1.3 .4h0m1.7 2h0m1.5 .4h0m.2-.1h0m.6 .8h0m2.2 .5h0m.4-2.5h0m0 2.7h0m30.1 2.9h0m-7.4-.9h0m-16.9-1.5h0m-1.5 2.4h0m-.8-2h0m-.5-.4h0m-.7 1.8h0m-.8-.2h0m-6.1-1.6h0m3.1 5.2h0m5.3 .1h0m1-1.1h0m.3 .2h0m.4-.9h0m15.8 .4h0m7.8-.2h0m3.9 .7h0m-13.5 3.1h0m-7.2 1h0m-7.2-2.7h0m-3.4 2.8h0m-.1-2.9h0m-.7 2.7h0m-.1 0h0m-1.7-1.6h0m-1.3-1h0m-.3 .7h0m1.8 4.9h0m.3-.4h0m1.6 .4h0m4.7-1.2h0m2.3 .4h0m1.8-1h0m2 1.1h0m.4 2h0m0 0h0m-1.3-.3h0m-.5 2h0m-.2-1.2h0m-1.9-.4h0m-7.3-.4h0m-.3-.5h0m3.9 4.2h0m1-.4h0m.9 .8h0m1.8-.5h0m1.3-.6h0m-2.9 3h0m-.2 1.3h0" stroke="#b87af2" stroke-width="1.52" stroke-linecap="round" fill="none"/>
<path d="M81.4 169.2h0m4.2 2.9h0m-2.2 1.7h0m-2.8-.6h0m-2.9-.1h0m-7.2 2.6h0m.2-.4h0m2.4-.7h0m5.3 2.1h0m1.9-.8h0m.7-1.8h0m-6.8 3.1h0m-.5 .3h0m-2.6 1h0m-.5 .4h0m-3.5 .6h0m-3.6 3.4h0m5-.5h0m3.8-1.9h0m.3 .4h0m1.2 1.3h0m1 .3h0m6.1-1.8h0m2.1 1.7h0m2.1-1.4h0m1.3 .3h0m.1 0h0m11.2 3.3h0m-10.3-.5h0m-2-.9h0m-3.1 1.9h0m-1.8 .2h0m-.4-1.9h0m-5.5-.3h0m-2.2-.1h0m-3 .9h0m-8.7 2.5h0m.6 .3h0m1.8 1.1h0m5.1-.4h0m2.1 .8h0m.1-.9h0m9.1-1h0m4.5 .9h0m.1-1.2h0m1.7 2.4h0m16.5 1.9h0m-3.8-.2h0m-5.5-.5h0m-5.4 2h0m-.6-1.6h0m-10.4 1.4h0m-7.8-2.2h0m-1.6 2.2h0m-.3 .3h0m-.7-1.4h0m-3.4-.4h0m-.4 .4h0m-2.4 .8h0m-13.4-.7h0m9.5 2.8h0m4.5-.8h0m.1 1.8h0m1.3-1.7h0m1.8 1h0m2.9-.5h0m12.9 .9h0m6.3-.3h0m6.9 1h0m13.3 2.3h0m-17 .5h0m-4.3-1.6h0m-1.9 .3h0m-.5-.1h0m-.1 .5h0m-20.4-1h0m-2.6-.5h0m1 4.2h0m2.6 1.4h0m7.5-1h0m12.6-.9h0m3.1 .9h0m4.4 .8h0m1.7-2.2h0m1.5 2.3h0m3.3-1.3h0m1.1 .8h0m1.1 .4h0m1.6-.3h0m8.4-.9h0m.5 .6h0m3.5-1.6h0m1.1 2.3h0m-6.4 2.7h0m-5.6-1.2h0m-.4 1.5h0m-5.4-2.2h0m-7.2 2.4h0m-.4-.1h0m-2.9-1.8h0m-7.4 .5h0m-8.4 .9h0m-1.7-.5h0m-3.7-.1h0m-4.2-.4h0m-1.9 1.5h0m-8.4 2.5h0m4.1 .3h0m6.9 .3h0m5.6-1.5h0m1.6 .9h0m8.1-1.4h0m8.3 2.1h0m6.8-.9h0m.8 .8h0m.8-1.6h0m4.6 .3h0m.1-.4h0m2.7 .3h0m.6-.3h0m3.2 .4h0m.5-.5h0m1.2 1.3h0m15.7-.5h0m-2.4 3.2h0m-12-.8h0m-.7 .1h0m-2.4-.8h0m-2 .1h0m-6.1 1.9h0m-1.6-1.2h0m-5-.7h0m-1-.4h0m0 1.1h0m-2.3 0h0m-18 1.5h0m-24.6-.7h0m3 1.9h0m2 .9h0m0-.6h0m1 .4h0m1.2 1.1h0m11.1-1.3h0m2.2-.8h0m0 .8h0m.9 .7h0m21.2-2.2h0m1.8 1.6h0m.3 0h0m.4 .1h0m.5-1.5h0m1.9 1.5h0m2.1-1.5h0m4.9 .1h0m.2 .8h0m4.7 1.3h0m1.3-.3h0m4-.2h0m.5 .8h0m7.8-.9h0m-1.2 2.9h0m-9.3-.1h0m-2.4-1.6h0m-3.1 1.4h0m-.2-1.1h0m-7.2 1.8h0m-2.1-2.1h0m-1.8 2.5h0m-1.2-.4h0m-1.2-2.1h0m-4 0h0m-4.9 2h0m-17.6-2h0m-5.8 2.3h0m-2.9-1.3h0m-1.7 1.7h0m0-.8h0m-2.2 .2h0m-3.2 .8h0m-1.4 2.8h0m1-2.4h0m1 2.2h0m3.1 .2h0m2.4-.6h0m0 .1h0m2.3-1.4h0m15.3-.4h0m2.2 .8h0m10.5-1.1h0m3.8 1.8h0m2.1 .5h0m.8-1.8h0m6.4 .8h0m2.2 1.1h0m1.6-2.4h0m1.8 .2h0m.2-.3h0m.5 .3h0m.9 .2h0m2 .5h0m1.9 .4h0m1 .3h0m.3 .3h0m.7 .8h0m2.3-1.3h0m5.1 1.3h0m5.1-2.6h0m2.2 4.5h0m-11.3-1.2h0m-2.6 0h0m-.6-.5h0m-.4 1.8h0m-.1-.5h0m-1.3 .2h0m-2.9-.1h0m0 .3h0m-3-1.3h0m-9.1-.1h0m-.2 2h0m-5.3-.2h0m-2.5-1h0m-4 .2h0m-2.3 1h0m-4.7-.1h0m-2-1.8h0m-21.3 .8h0m-2.6 1h0m-1.9 0h0m-1-1.6h0m-.7 1.3h0m-2.5-.2h0m4.4 2.7h0m.7 1h0m.3-2.4h0m.4 2.5h0m1 .1h0m.5-1.1h0m.3 .7h0m1.5-1.8h0m1.2-.3h0m.6 2.2h0m0-1.1h0m.2-.1h0m26.5 .3h0m.4 1h0m7 .1h0m11.7-2.1h0m.2 2.2h0m2.8-1.3h0m0-.8h0m.8-.1h0m3.1 .2h0m3 .2h0m2.3-.7h0m1.1 2.7h0m2.8-2h0m6.4 1.9h0m.8-2.7h0m.3 2.7h0m-5.2 1h0m-.6 0h0m-.2 .4h0m0-.8h0m-.2 1.4h0m-.7 .1h0m-.2-.4h0m-2.9-1.4h0m-1.7 2h0m-2.8 0h0m-1.1-1h0m-.3-.7h0m-.1-.2h0m-2.4 1.8h0m-.2-1.3h0m-.7 2h0m-.8 .1h0m-47.4-1.2h0m-.9 1.4h0m-.6-.5h0m-.7 .1h0m-2-.3h0m-2-2h0m-.6 2.3h0m-.7 .2h0m-1-2.2h0m-1.3 .6h0m-.4-.6h0m1.3 2.8h0m2.3 .7h0m.7 1.2h0m1.1-.1h0m1.7-1.1h0m0 1.9h0m.7-2.6h0m.8 .6h0m.1 .6h0m1-1.4h0m19.5 2.2h0m11.4-.7h0m11.9 1h0m.1-2.5h0m8.2 1.9h0m3-.7h0m2.4 1h0m.5-.4h0m1-.2h0m.9 .6h0m3.2-1.8h0m3.3 1.3h0m4.7 3.3h0m-5.4-.3h0m-.5 .4h0m-3.3-1.6h0m-1.5 2h0m-1.1-.3h0m-1.5-1.3h0m-2.3 1.1h0m-1.8-.9h0m-.8 .6h0m-1.7 .2h0m-2.6-1.2h0m-4.2 2h0m-30.8-.2h0m-16.2-2.3h0m-.2 1.1h0m-.8-.5h0m0 .5h0m-.2-1.2h0m-.8 .3h0m-.8 .7h0m0 .7h0m-1.2-.6h0m-.8 .6h0m19.7 2h0m8.3 1.9h0m5.2-.8h0m15.6-1.3h0m.2 .2h0m5.5 1.1h0m2.2 .1h0m.7-.5h0m.5 1.2h0m.8-.5h0m3.8-.6h0m.1 .3h0m.9 .9h0m1.2-.5h0m1.1-1.8h0m1.8 .3h0m9.6 1.1h0m.8-.2h0m.5-1.3h0m3.4 2h0m-2.6 1.1h0m-.7 1h0m-1.8 1.1h0m-4.2-.2h0m-12.7-2.4h0m-.2 .4h0m-37.7-.5h0m-4 1.9h0m.4 3.6h0m4.3-.9h0m13.9 0h0m13.4-.1h0m.6 1h0m21.3-.1h0m2.5-.7h0m.5 .1h0m3.1-1.8h0m3.9 .8h0m-28.7 5h0m-3.4 0h0m-2.1-.8h0m-1.1-1.1h0m-.4 1.4h0m-.8-2.1h0m-10.5-.2h0m-4 .2h0m-14.9 4.7h0m17.8 .1h0m1 .8h0m12.4-.4h0m.6-.4h0m1.3-1.6h0m.4 1h0m7.2 2.9h0m-2 .9h0m-1.6-1.6h0m-.4 .3h0m-4 1.1h0m-1-1.3h0m-.8 1.1h0m-.2-1.8h0m-.8 2.4h0m-1.6-1.1h0m-.6-.8h0m-.2 1.3h0m-.4-.9h0m-.9 1.7h0m-20.2 1.2h0m1.7-.3h0m1.9 2h0m.9-2.3h0m.8 1.6h0m1.1 .3h0m11.4-.2h0m2.6 .9h0m.5-1.6h0m1.7 0h0m.6 .5h0m.4-1.4h0m1.6 2.6h0m.7-1.3h0m1.9-.1h0m1.4-.6h0m2.5-.4h0m.5 1.8h0m.7 3.2h0m-.4-1h0m-3.6 .4h0m-1.1-1.8h0m-2.4 1.9h0m-3.4 .1h0m-4-.6h0m0-.1h0m-.9 1.2h0m-7.4-.8h0m-.4-.3h0m-1.6 .1h0m-.3 .1h0m-2.9-.7h0m-4.8 .7h0m-1.4-1.6h0m-2 .3h0m2.6 5.2h0m1.8-.9h0m1.3-1.4h0m1.5 1.9h0m1.3-.2h0m.9-1.2h0m2.1-.6h0m4 .3h0m.6 2.1h0m5.9-2h0m.1 2.3h0m.2 0h0m2.1 0h0m.1-2.2h0m2 .8h0m.2 .6h0m3.7-1.4h0m2.7-.7h0m.9 .1h0m1.4 3.6h0m-.5 1h0m-1.3-.9h0m-.3 1.3h0m-.8-1.2h0m-.9-.7h0m-1.4 1.1h0m-2.3-.6h0m-1.2 .8h0m-.5 1.3h0m-2.1-2.8h0m-4.9 1.1h0m-.3 .5h0m-2.9-.2h0m-1.6 1.3h0m-.3-1.9h0m-2.4 .9h0m-1.9 1h0m-.8-1.1h0m-.8-1.5h0m-3.4 1.5h0m-1.3 .5h0m3.5 1.1h0m2.2 .6h0m1.4 2h0m2.5-1.2h0m1.9-1.4h0m8.2 .3h0m.6 0h0m.2 .2h0m3.4 .3h0m0 1.5h0m2.2-1h0m.1-.5h0m3-.7h0m.3 1.8h0m-17.8 1h0" stroke="#e47068" stroke-width="1.52" stroke-linecap="round" fill="none"/>
<path d="M68.8 183.7h0m-6.9 4.6h0m1.4 5.7h0m14.9 3.6h0m-.8-.7h0m-4 2.9h0m.6 .7h0m6.3-1.6h0m1.3 1.8h0m6.8 2.9h0m-5.4-.5h0m-.2 .1h0m-5.3-1.6h0m-1.3 .5h0m-.6-1.1h0m-1.9 1.9h0m-1-1.5h0m-1.3 2.5h0m-.2-2.4h0m-3.3 3.6h0m3.9 .6h0m.1-.7h0m.5 .1h0m.3-.3h0m.7 .6h0m2.1-1.1h0m2.1 2.1h0m.5-2.4h0m.3 1.2h0m1.5 .5h0m3-.7h0m.9 .6h0m.1-1.4h0m15.7 5.3h0m-3.8 .4h0m-11.7-2.9h0m-2.9 1.1h0m-.4 .1h0m-2.7 1.3h0m-.6-2.2h0m-1 1.7h0m-.4 .5h0m-.7-.8h0m-.8-.8h0m-3.1 .8h0m-.4 .4h0m.5 1.8h0m.3 .2h0m.7 .7h0m4-1.2h0m.6 .6h0m3 .8h0m.7 .9h0m1.9-1.3h0m20-.5h0m-13.7 4.5h0m-8.4-1.6h0m-.1 1.8h0m-5-.2h0m-.8-2.5h0m-.1 2.4h0m0-.1h0m-.3-1.6h0m-.6 1.2h0m-.2-1.6h0m-1.3 1.1h0m-.2-1.2h0m-.6-.1h0m-28.4 .2h0m29.5 4.3h0m.8 .9h0m1.6-2.6h0m1.4 2.4h0m.2-.1h0m1.7-1.1h0m1.2-.5h0m0 1.4h0m.4-.7h0m.1 1.5h0m.1-.6h0m0-2.3h0m.2 2h0m6 1.5h0m-10.3 .3h0m-6 1.9h0m-.9-1.2h0m1.6 1.9h0m1 .7h0m12.8 2.5h0m-8.7 1.9h0m-4.3-1.2h0m-1.9 1.3h0m-2.9 .3h0m2.2 .8h0m.2-.3h0m1.5 1.1h0m.7-1h0m22.7 7.1h0m28.9 1.7h0m-47.8 .7h0m2.8 4.2h0m39.6 .3h0m1.4 1h0m-37.8 1.1h0" stroke="#86ac1c" stroke-width="1.52" stroke-linecap="round" fill="none"/>
<path d="M83.4 166.2h0m-2.7 4.3h0m.1-.3h0m-.5 2.3h0m-.2-.1h0m-1.4 .6h0m-6 2.6h0m1.7-1.6h0m6.1 1.8h0m1-1.4h0m2.5 1.2h0m1.3 .2h0m1.5 4h0m8.7 2.3h0m.4-.4h0m.1 .1h0m0 .2h0m.9-1.3h0m.2 .1h0m1.1 .3h0m.2 .7h0m3 .7h0m.1 3.1h0m-2.1-1.9h0m-2.7-.7h0m-.4 0h0m-28.3 5.7h0m2.6-1h0m4.9 .8h0m18.6-1.7h0m0 1h0m.6-1.4h0m4.5-.1h0m1.9 .4h0m1.9 1h0m1.7-.2h0m5.3 1h0m-2.1 1.4h0m-.8-.5h0m-1.8 1.3h0m-.5 .6h0m-2 .2h0m-4.1-.5h0m-.3-2h0m-.8 1.4h0m-.1 .2h0m-33.2-.5h0m9.6 3h0m12.4 1.5h0m4.9-2.6h0m1.2 1.9h0m2.4-1.3h0m.7 0h0m5.1 1.2h0m3.7-1.3h0m.8 1.1h0m1.1-1.2h0m.1 .4h0m2.3 .1h0m.8 1h0m.8 .5h0m5.8-.2h0m2 1.7h0m-5.8-.8h0m-.8 .3h0m-.2-.3h0m-.2 1.3h0m-3.8 .4h0m-.6 .3h0m-.9-2.1h0m-.2 2.5h0m0-.7h0m-2.4-.9h0m-2.7-.6h0m-.3 .6h0m-1 .7h0m-1-.7h0m-3.6-.3h0m-1.2 1.3h0m-6.2-1.1h0m-10.6 .8h0m-.7 1.3h0m-.4-.7h0m-.8 .7h0m-.3-.5h0m-1.7-2.1h0m-.4 2.3h0m-1.7-2h0m-11.5-.2h0m13.2 2.8h0m28.3 .9h0m2.4-.3h0m1.6-.6h0m4.1 2.1h0m.2-1.2h0m1.7-.1h0m.8-.7h0m.4 .6h0m1.7-.8h0m1.2 .2h0m0 1.7h0m.2 .3h0m1.2 .2h0m0-2.1h0m1.4-.1h0m3.7 3.5h0m-1-.6h0m-2 2.7h0m-1.6-.7h0m-.4-.9h0m-.1 1.6h0m-5.4-1.9h0m-2.8 1.4h0m-2-1.6h0m1.3 2.6h0m.4 .2h0m1.1 .4h0m3.2 1.4h0m1.9 .2h0m0-1.2h0m3.9-1.1h0m.6 1.9h0m.1-1.9h0m1.6 2h0m.8-2.3h0m1.9 2.4h0m3 2.2h0m-1.2-1.6h0m-2.7 2.7h0m-4.9-1.9h0m-.3 0h0m-2-.5h0m-3.3-.1h0m-.7 1.3h0m1.4 3.3h0m1.7-1.3h0m.5 1.2h0m1.9-.4h0m4.4-.8h0m1.8 1.3h0m1.2 .9h0m.7-1.6h0m.8 .3h0m.7 2.8h0m-8.3-.4h0m0 4.3h0m0-2h0m1 .1h0m.7 .4h0m3.5 .2h0m.7-.1h0m-.4 2.4h0m-.7 2.5h0m-1.7-2.6h0m-.9 2.2h0m-1.3 .5h0m-1.4-.6h0m-1.5-.5h0m-.1-.9h0m-.1 2.7h0m1.5 1.5h0m3.1-.9h0m1.2-.2h0m-73.7 3.8h0m15.7 4.3h0m2.1-2.9h0m-.4 3.9h0m-2.2 .1h0m-1.6 4.8h0m1.9-.2h0m1.6-.3h0m0-.7h0m.4 1h0m.3-1.4h0m52.7-.6h0m3.7 .4h0m-59.5 3.3h0m-.8 1.2h0m-1.2-1.6h0m2.1 3.3h0m2.2 1h0m.7-1.9h0m1 .3h0m28.7 3.2h0m-1.3 1.5h0m-26.4-1.1h0m-1.7-.5h0m-3.5-.4h0m-1.9 2h0m-.2-1.5h0m-1.9-.3h0m2 3.7h0m.9-.7h0m1.2 .2h0m2.4-.2h0m5 0h0m19.7 2h0m7.2 1h0m-23.5 1.4h0m-6.4 .6h0m-.2-2.2h0m-1 .9h0m-.6 1.6h0m-1.4-1.7h0m-1.1-.5h0m-1.9 0h0m1.5 4h0m0-.7h0m.3-.7h0m.6 1.7h0m3.6-1.9h0m4.4 2.8h0m17.3-1.5h0m-15.2 2.8h0m-8.7-.6h0m-2.4 .9h0m-1.3 0h0m3 2.1h0m.8 1.2h0m.7-1.5h0m.9 2.1h0m.1-1.4h0m2.1-.7h0m3.6 1.4h0m2.4 .1h0m21.4 2.6h0m-4-1h0m-5.6-.1h0m-8.5 2.3h0m-2-2.4h0m-.4 0h0m-2 .6h0m-3 2h0m-.4-.6h0m-1.6 .4h0m-.4-.3h0m3 1.4h0m.3-.2h0" stroke="#b87af2" stroke-width="1.52" stroke-linecap="round" fill="none"/>
<path d="M85.2 171.4h0m-2.5 0h0m-1.7 2.1h0m-3 3.1h0m2.3 .3h0m4.6-1.5h0m2.1 3h0m-8.8-.1h0m-.2-.8h0m-.6 1h0m-.7-.6h0m-4.2 .2h0m-.8-.6h0m-.1 2h0m-.6-2.4h0m-.2 .2h0m-3.1 .4h0m-19 4.7h0m1.9 0h0m13.7-2.4h0m3.2 1.9h0m.6-.6h0m1.5 .4h0m4.6-1.4h0m1.4 2.6h0m1-1.5h0m4.6-1.1h0m2 .1h0m.6 1.9h0m.9-.9h0m.6-.7h0m2.5 1.9h0m-8.6 2.8h0m-14.1-1.5h0m0 .6h0m-1.8 1.1h0m-.4 .3h0m-11.8-.5h0m-.4-1.8h0m-.5 .3h0m-.1-.1h0m-1.1 1.1h0m-.4-1.5h0m-.4 3.1h0m.3 .5h0m.1 0h0m10.4 .5h0m2.9 .9h0m.4-1.4h0m5.7 1h0m2.9-2h0m8.1 1.2h0m.4-1.2h0m1 .9h0m.9-.2h0m5.1-.7h0m8.2 2.2h0m.4 1.3h0m-6.1 .4h0m-1.7 .5h0m-1.6-.6h0m-.2 1.3h0m-.1-.6h0m-5.5 .5h0m-1.4-.5h0m-9.6-.1h0m-1.1-.5h0m-.9-.5h0m-13 2.2h0m-2.3-2.5h0m-1.1 1.4h0m-1.5 .5h0m0-.3h0m-1.6-.6h0m-.3-.8h0m-.4 0h0m-1.2 5.2h0m1.7-1.4h0m8.3-.4h0m6.2 .9h0m1.3-.6h0m1.2-.4h0m.5-.5h0m.8 1.7h0m2.8-.8h0m.2 .1h0m11 .2h0m1.3-1.3h0m2.7 2.4h0m4.1-1.6h0m13.9 .2h0m5.4 2.9h0m-4.2-.7h0m-7.9 1.3h0m-4.7-.1h0m-.5-.9h0m-.3 1.1h0m-6.5 1.1h0m-6-1.8h0m-9.1-.1h0m-5 1.1h0m-1.1-1.6h0m-2.6 1.4h0m-9.2 .4h0m13.9 3.1h0m1.8-1.7h0m5 .6h0m3-.1h0m10.5 1.5h0m1.6-.4h0m1.6 .6h0m3.3-.6h0m5.3-.9h0m.4 .1h0m1-.1h0m.6-1.2h0m.1 .5h0m5.1 4.7h0m-2.9-.2h0m-3 .2h0m-3.9-1.8h0m-1.9 .3h0m-7.6 1.5h0m-.6 .7h0m-5.1-1.9h0m-5-.3h0m-24.9 3.6h0m18.9-1.2h0m2 1.4h0m13.2 .5h0m5-1.9h0m7.6 .1h0m2.1 2.5h0m3-1.6h0m4.5 1h0m.3-1.8h0m1.1 2.5h0m3.7-2h0m10.7 1.1h0m-13.1 3.5h0m-6 .1h0m-3.1-1.9h0m-1.7 1.1h0m-.1 .7h0m-3.4-.7h0m-.1-.4h0m-1 .3h0m-3.8-1.5h0m-16.7 1.6h0m-5.8-.8h0m-15.5 2h0m-2.1-.5h0m-3.8 .1h0m-.9-.4h0m2 3.7h0m6.4-.4h0m14.1-2.1h0m.6 2.6h0m.3 0h0m1.1-.8h0m6.2-1.8h0m6.4 1.6h0m5.4 0h0m.7-.3h0m2.1 .4h0m2.9-1.7h0m2.9 1.3h0m5.2-1h0m2.4 .8h0m2.4 .4h0m.5-1.8h0m14.2 2.8h0m1.6-.2h0m-3.8 .9h0m-4.8 1.1h0m-2 .3h0m-10.5 .5h0m-.1 .2h0m-3.1-.3h0m-1-.7h0m-5.8-.3h0m-1.9-.6h0m-1.2 .7h0m-.7-.4h0m-9.9 1.6h0m-11.2-2.5h0m-17.5 1.3h0m-.7 .4h0m.8 3.8h0m23.2-.3h0m13.7-1.3h0m2.2 .2h0m3.9-1h0m.1 .7h0m2.4 1h0m.2 .7h0m.2-.9h0m.4-1.3h0m0 .8h0m.3 .9h0m1.4-.1h0m2.7 .5h0m.2 .4h0m.7-.8h0m5-1.4h0m5.5 .9h0m5.6-.6h0m7.3 3.3h0m-12.7 .4h0m-6.9-.2h0m-3-.5h0m-6.4 1.2h0m-.3-1.2h0m-.7 1h0m-.6-1h0m-.1 .7h0m-.7 .2h0m-.5 1h0m-1.9 0h0m-.2-.1h0m-1.7-.7h0m-.8-1.2h0m-.7 .4h0m-.9 .9h0m-.2-.5h0m-.4 .6h0m-1.7-1.1h0m-.9 1h0m-.3-.8h0m-1.2-.4h0m-3.2 1.5h0m-1.3-.7h0m-1.7 .4h0m-1.8-1.9h0m-3.6-.3h0m-.8 0h0m-.7 2.1h0m-19-.6h0m2.7 2.3h0m2.9 .4h0m17.8 .9h0m1.4-2h0m6.1 2.4h0m1.3-2.2h0m.2 1.1h0m1.8-.8h0m1.2 1.9h0m1.1-.2h0m4.1-.8h0m3.1-.5h0m.5-.2h0m1.8-.5h0m.7 1.9h0m2.1-1.5h0m.2 1.5h0m2.5-1.2h0m4.1 .1h0m1 1h0m7-1.5h0m.3 2.2h0m.6-.1h0m7.2-.6h0m-8 1.6h0m-8.6-.6h0m-6.4 .1h0m-.3 1.1h0m-.7 .6h0m-1.4 .1h0m-1.1-1.7h0m-3-.1h0m-2.2 1.7h0m-2.4-.7h0m-4.1 .3h0m-2 .1h0m-.4 .9h0m-.8-1.2h0m-.7-.6h0m-2.9 1.7h0m-.9-1.6h0m-26.4 1.9h0m-2.7-1.9h0m9.9 2.2h0m15.2 2.5h0m1.2-1.1h0m1.5 .1h0m2-1.1h0m.2 1.3h0m.2 1.1h0m0-.3h0m1.9-.6h0m1.1 .2h0m1.1-.9h0m1.5 1.1h0m.5 .5h0m0-.7h0m.4-1h0m2.6-.1h0m.4-.2h0m3.7 .4h0m.2-.5h0m3.6 1.1h0m.5 .5h0m5.8-1.2h0m.8 .6h0m.3-1.5h0m.6 .5h0m.2 .8h0m.1-1.3h0m7.6 2.6h0m1.6 .1h0m.6-1.2h0m4.1-1.5h0m1.5 2.1h0m.7 .3h0m-4.7 2.8h0m-1.5-1.3h0m-7.1 .1h0m-2.4 .1h0m-1.4 0h0m-4.8-.3h0m-3.7-.5h0m-1.4 .6h0m-.1-1h0m-1.7 .7h0m-2.3 1.8h0m-.9-.7h0m-1.9-.3h0m-2-1.1h0m-.9 1.9h0m-1.6 .2h0m-1-1.8h0m-.3 1.5h0m-1.5-1h0m-3.9-1h0m-27.9 1.5h0m29.3 2h0m1.4 1.5h0m1.3 .1h0m3.1-.7h0m.3-1.1h0m.1-.5h0m2 1.9h0m1.7-1.9h0m1 .4h0m0 .4h0m4.9 .7h0m.7-.2h0m3.2-.5h0m7.4-.2h0m5.8 2.1h0m3.6-2.2h0m.7-.6h0m1.1 .8h0m.4 1h0m-9.1 1.5h0m-2.6 .3h0m-3.9 1h0m-3.4-.8h0m-6.5-.8h0m-3.9 1.9h0m-1.1-1.4h0m-1.2 .9h0m-.9 1.5h0m-.5-1.3h0m-2.6 1.1h0m-1.7-1.1h0m.1 2h0m.5 1.5h0m.6-.6h0m0 .7h0m.2-1.8h0m1.1 2.4h0m.5-.2h0m.5-1.9h0m.3 1.2h0m.1-1.4h0m.9 .7h0m2.2 1.5h0m1.6-2.7h0m1.7 .1h0m24.3 5.7h0m-11.8-.9h0m-10.4-1.6h0m-2.6 2.1h0m-.9-.9h0m-1.2-1.3h0m-3.4 0h0m-3.6 4.2h0m5.5 1.5h0m.7-1.2h0m2.6-.4h0m.1 1.5h0m.5 .9h0m-2.2-.1h0m-.5 2h0m-1.2-.6h0m-.6-1.9h0m-1.9-.1h0m2.1 3.9h0m1.5-.2h0m.7 0h0m17.2-.1h0m-14 7.4h0m7.5 1.7h0m-5.3 .5h0" stroke="#4dbcc6" stroke-width="1.52" stroke-linecap="round" fill="none"/>
<path d="M83.8 179.1h0m-5.8 .3h0m-10.5 2.7h0m11.7 6.3h0m6.8-1.9h0m2 5.1h0m-.7 3h0m-9.4 2.1h0m-29 .2h0m23.5 3.8h0m.3 0h0m.8-.5h0m0-.7h0m.3-.1h0m2-.5h0m.2 1.2h0m2.7-.5h0m2-1.2h0m.1 1h0m11.7 .6h0m-11.2 3.1h0m-1.3-1.2h0m-2.2 1.4h0m-2-.3h0m-3-1.8h0m-.4 .6h0m-23.6 3.6h0m21.8-.2h0m1.6 .1h0m.6 1.5h0m.8 .1h0m1.7 0h0m2-1.4h0m2.7-.5h0m2.3-.1h0m17.1 1.3h0m-18.1 1.4h0m-1.8 1.7h0m-.3-1.8h0m-.2-.1h0m-.7 2.5h0m-.1-1.8h0m-1.1 1.1h0m-2-1.7h0m-.2 .3h0m-.3-.3h0m-.9 1.7h0m-26 3.2h0m22.4-1.5h0m4.3 0h0m7.5-.6h0m0 .2h0m1.1 1.5h0m.1-1.7h0m1 .5h0m-1 4.3h0m-2.5-1.6h0m-.6-.1h0m-.1 2.5h0m-.4-.5h0m-.1-.2h0m-1.5-2h0m-2.7 .1h0m-.6 .4h0m-1.3 .6h0m-.4-.1h0m-1.3-1.1h0m-22.9 1.1h0m24.5 2h0m5.3 2.9h0m-2.4 .9h0m-.6-1h0m-.7 1.2h0m-6.3 1.3h0m-1.4 1h0m.9 .7h0m18-1.2h0m12.9 .9h0m-27.2 4.3h0m-2.8-1.9h0m-1.1 2.6h0m-.7-.3h0m-.5-2.3h0m3.3 5.1h0m.8-1h0m9.8-.5h0m12.4-.5h0m3.2 .7h0m-7.6 5.1h0m.6 3.7h0m28.7 5.1h0" stroke="#86ac1c" stroke-width="1.52" stroke-linecap="round" fill="none"/>
<path d="M86.3 167.5h0m-2.5 .2h0m-5.2 3h0m2.9-.2h0m-1.6 1.7h0m-1.7 .9h0m-1.3-.2h0m-1.1 2.4h0m5.2 .8h0m16 2.6h0m-10.1-1.6h0m-.7 1h0m-4.7-.7h0m-3.3 .9h0m-4.4 .5h0m-5.6-1.4h0m-1.7 1.9h0m-.5-2.3h0m-2.3 5.2h0m7.6-.8h0m4.4 .7h0m1.6-.2h0m.8-1.5h0m8-.2h0m.5 2h0m.9-.9h0m14 3.6h0m-14.6-1.9h0m-2.1 1.4h0m-1.2 .7h0m-5.5 .3h0m-2.8-2.1h0m-3.5 1.7h0m-.2-.1h0m-2.5-1.4h0m-3.9 .4h0m-2-.2h0m0 .2h0m-2 1.1h0m0 3h0m15.3-.3h0m.9 .9h0m2.3-1.2h0m.5 .5h0m1.2 .7h0m1.9-1.2h0m4.1-.3h0m9 1.4h0m11.1 1.9h0m-22 1.4h0m-2.3-1.2h0m-3.7 .2h0m-13.5-.4h0m-1.6-.2h0m-.3 1.5h0m-.1-1.4h0m-.3 1h0m-1.3-2.2h0m-1.2 1.5h0m-11.6-.9h0m11.4 3h0m.1 2h0m4.7-1.1h0m12.6-1.4h0m.1 1.8h0m3.8-.3h0m1.3 1.1h0m1.4-1.2h0m.5 0h0m.1 .3h0m.7-.9h0m.8 1.3h0m22.8-1.2h0m5.9 3.4h0m-4.5 .3h0m-4.9-1.4h0m-15.7 .9h0m-9.8-.3h0m-.9 .1h0m-1.1 .6h0m-11.6-1.1h0m-.4 1.4h0m-.8-1.2h0m-.8 1h0m-2.4-.5h0m-16.1-.8h0m-.7-.5h0m16.7 3.7h0m.9 1.2h0m7.1-.4h0m.3-1.1h0m.4 2.1h0m1.5-1.7h0m9-.7h0m.9 1.1h0m1.1 .8h0m5.1-1.1h0m1.5-.6h0m1.9 2.1h0m.8 0h0m.1-.3h0m.5-1.8h0m1.1 .3h0m2.3 1.5h0m12.7-2.1h0m1.6 .4h0m-6.6 5.2h0m-2.6-.8h0m-4.6-1.8h0m-4.8 2.7h0m-.9-2.7h0m-2.5 1.5h0m-.2-1.5h0m-2 .6h0m-.3-.5h0m-22.2 1.2h0m-17.8 1.3h0m1.3 3h0m4.7-.8h0m7.3 .7h0m21.1-1.4h0m3.3 .2h0m3-.9h0m10.6 2.3h0m7.4-1.2h0m1.2-.8h0m13.2-.7h0m-6.5 5.3h0m-11.9-.3h0m-.6-1.4h0m-.2 1.5h0m-1.8-1.8h0m-.6 0h0m-.6 .4h0m-1 1.5h0m0 .3h0m-3.2-1.4h0m-.4 .7h0m-1.2-1.5h0m-1.4 .2h0m-27.2 1.3h0m-16.5 1.1h0m-1.3-.9h0m2.7 2.6h0m.6 .7h0m20.2 .5h0m5.1-.6h0m11.6 .4h0m1.3-.8h0m.5 .4h0m1-.3h0m5-1.6h0m1.7 .7h0m10.1 1.5h0m2.9-2.4h0m5 2h0m.9 .9h0m-2.4 2.4h0m-1.7 .5h0m-1.7-1.7h0m-7.1-1.2h0m-.7 1h0m-.6 1.2h0m-3.9-.7h0m-2.3-.8h0m-6.2-.5h0m-1.2 2.6h0m-2.2-2h0m-19.2 1.8h0m-.3-1.5h0m-12-1h0m-.7 2.2h0m0-.6h0m-2.2-1.3h0m-.5 2.2h0m-.1-1.7h0m-1.1 1.3h0m-1.8-.2h0m-1.2 2.6h0m.7-1.1h0m1-.5h0m.7 .3h0m2 .4h0m1.2 0h0m1.8 1.4h0m12.7-1.6h0m6.1-.1h0m20.6-.2h0m1.2 .5h0m3.6-.3h0m2.1 .5h0m2.1 1.6h0m.5-.4h0m1.5-.5h0m.1-1h0m.4-.6h0m.3 1.4h0m.7-1.2h0m1.3 .4h0m.2 1.8h0m1.8-1.8h0m.5 1.9h0m.2-1h0m.2-.6h0m1.7 1.2h0m4.5 .6h0m.2-1h0m.3 .5h0m3 .7h0m6.3-1.7h0m-3.3 2.2h0m-4.7 2.2h0m-2.2-1.7h0m-.6 1.2h0m-.8-1.5h0m-1.1-.3h0m-2.4 2.2h0m-1.4 .1h0m-1.7-1.2h0m-4.4 1.5h0m-1-1.2h0m-17.7-.7h0m-7.4 1.8h0m-4.3-1.9h0m-17.1-.2h0m-.4 1.8h0m-4.3-.4h0m-.8-.8h0m-1.8-.5h0m-.9 1.6h0m-2.4 .2h0m-.1-.9h0m0 .4h0m-.5-1h0m.1 3.6h0m.8-.6h0m.2 1.7h0m1.5-.8h0m.3-1.9h0m2.9 1.2h0m1.4 .6h0m1.4 .8h0m2.7 .2h0m18.4-1.9h0m1-.9h0m8.8 2.5h0m.5-.2h0m2.8 0h0m10.9-1h0m2.9 1.1h0m2.4-2.2h0m.5 1h0m1.9 .8h0m.9-.9h0m4.9 1.2h0m.4-1.6h0m.8 .6h0m.1 .3h0m2.1-.5h0m1.7 1.3h0m1.9-.2h0m2.2 1.1h0m-.2 1h0m-2.9-1h0m-1.7 2.5h0m-.2-1.9h0m-3.4 .5h0m-.6 1.3h0m-1.1-.1h0m-1.6-2.1h0m-.2 .6h0m-2.1-.1h0m-.7 .4h0m-1.5-.5h0m-3 1.5h0m-2.4-1.6h0m-5.3-.1h0m-3.1 1.5h0m-.9-1.3h0m-7.2 1h0m-10.9 .2h0m-.4 .6h0m-8.3-.6h0m-4-.1h0m-7.1-.5h0m0 .5h0m-.6 .3h0m-1.5-2.1h0m-.5 .6h0m-.2 .9h0m-.4-.4h0m-1.2-1.4h0m-1.4 1.2h0m-1.2-.4h0m-1-.1h0m-.2 1.6h0m-.4-2.3h0m1.5 3.8h0m.9 1.2h0m1.4-.7h0m1.9-.8h0m2.8 1.4h0m12-.6h0m19.6 1.4h0m6.8-1.1h0m6.4 .9h0m1-.9h0m3.2-.1h0m2.3-1.1h0m1.1 1.2h0m.9 .8h0m4.3-2.4h0m.4 .5h0m.7 1.7h0m.7-.1h0m.5 .6h0m1.7-1.4h0m4.8-.5h0m-3 4h0m-2.6 1h0m-4.5-1.9h0m-.7 .9h0m-2-1.7h0m-2 2.4h0m-.6-.8h0m-.5 .7h0m-1.8-1.5h0m-1.8 1.7h0m-.5-2.2h0m-.3 1.4h0m-1.2-.3h0m-.1-.9h0m-15.1 .2h0m-16.7-.2h0m-14.3 .3h0m-.7 1.5h0m-1.2-1.2h0m-2.3 .9h0m16.9 1h0m.7 1h0m33.1-.4h0m4.1 1.2h0m.5 .5h0m.3-.4h0m.1 .5h0m3.1-.6h0m1.1-.6h0m.5 1.1h0m3.8-1.5h0m.6 1.1h0m.1-1.2h0m7.7-.3h0m1.2 0h0m4.9 2.8h0m-1.3 .4h0m-1.5 1.9h0m0-2.5h0m-3.2 2.7h0m-8.5-2.7h0m-2.7 .6h0m-7.1 0h0m-1.7-.4h0m-19.8 .2h0m-15.5 3.1h0m2.4 .5h0m.4-.4h0m6.8-.2h0m8.4-.3h0m12.6 1.1h0m0 1.3h0m.8-.1h0m15.1-.1h0m6.2 .4h0m5-2.5h0m1 2.6h0m.1-.6h0m1.4-.8h0m1.2-1.2h0m-28.5 2.7h0m-.9 2.4h0m-.9-.4h0m-2-.1h0m-2.2-1.2h0m-7.9 .4h0m-8.4-.4h0m-1.4 .1h0m-7.5 1.8h0m22 3.2h0m2.2 0h0m1.9-.5h0m.7-2h0m.2 .5h0m1.5 1.1h0m.1-.2h0m.6 .2h0m.1-.8h0m.3 .2h0m1-1h0m.6 1.8h0m.4-1.8h0m.3 1.2h0m2.7 3.8h0m-.8 .5h0m-.6-1.3h0m-.8-1.3h0m-.4 .8h0m-.5 .3h0m-.2-1h0m-1.3 1h0m-.7 .7h0m-.5-.8h0m-2.9-.2h0m-.1 .6h0m-.1-.7h0m-1.1 1.8h0m-.3-.9h0m-.7-.7h0m-1.3-.6h0m-1.6 .8h0m-6.5 1h0m-11.6-.3h0m-5.6 .7h0m.1 1.4h0m7.3-.5h0m.8-.2h0m.2 .6h0m17.3-.9h0m.5 1.1h0m1.2-1.1h0m3.4 1.9h0m2.3-.4h0m3.7 2.8h0m-.2-1h0m-1 .1h0m-.9 .4h0m-.2 .1h0m-.9 .2h0m-.6 1h0m-1.3-.3h0m-.3-.2h0m-.6-.9h0m-2-.3h0m-1.1 1.8h0m-4.2-1.8h0m0 1.7h0m-1.7-1.7h0m-.2 1.5h0m-.6-.9h0m-6.4-.7h0m-1.6 1.8h0m-.1-.3h0m-.9-.2h0m-2.9-.3h0m-.1-.7h0m-2.3 1.1h0m-.6-1.4h0m-5.1 2h0m-1.6-2.3h0m3.7 4.1h0m2.4-.3h0m1.9 1.2h0m.9 .2h0m1.2-.2h0m3 .5h0m6.2-1.9h0m.6 .5h0m1.7-.8h0m1.2 2.3h0m.1-.6h0m.7-1.9h0m2 .1h0m1.8 1h0m.4-.4h0m0 .7h0m1.3 .6h0m1.7-.1h0m.3-.4h0m0 1h0m1-.1h0m1.2-1.8h0m2.9-.3h0m.5 1.9h0m.2 .2h0m.1-.7h0m-1.1 1.6h0m-1.4 .9h0m-.4 .2h0m-.3 1.3h0m-.1-.3h0m-1.2-2.4h0m-1.2 1.9h0m-4.7 .7h0m-.9-2.7h0m-2.5 1.8h0m-1 .3h0m-11.1-.1h0m-.1-1.4h0m-.6 .1h0m-1.6 .1h0m-3.4 .6h0m-.2-1.5h0m6.8 4.4h0m1.2 .2h0m4.3-1.4h0m8.2-.1h0m1.3 1.5h0m2 1.2h0m.7-2h0m.4 .3h0m1.1 1.5h0m.1-1.3h0m1.4 .7h0" stroke="#e47068" stroke-width="1.52" stroke-linecap="round" fill="none"/>
<path d="M251.7 171.8h0m-.1 .5h0m-.6-.5h0m-3.7 .7h0m-.9 .8h0m-5.6 2.2h0m.8 1.4h0m0-.7h0m3.1-.3h0m.4-.7h0m.5 1.7h0m13.5 1.6h0m-1.5-.1h0m-.1 1.3h0m-.9-.1h0m-1.1 .3h0m0-2.4h0m-1-.3h0m-1 2.3h0m-4.8-1.1h0m-.9-.2h0m-5.4-.3h0m-1.6-.4h0m-2.6 1.3h0m-.6 .3h0m-20 1.7h0m1.1 .9h0m.6 1.1h0m2.6-.7h0m13.8-1h0m2.3 .1h0m1.9 1h0m.2-1.8h0m.2 1.9h0m1.9 .6h0m.1-1.6h0m.9-.8h0m0 2h0m3.6-2.5h0m.6 1.9h0m.9-1.6h0m1.7 .5h0m1.1 1.5h0m.5 .5h0m.4-2h0m1.2 1h0m.1 .4h0m3.8-.2h0m9.5-.3h0m-5 3.1h0m-6.1-.3h0m-.7 1.1h0m-.1-1.9h0m-.2 1h0m-.9 .9h0m-1.3 0h0m-.5-1.4h0m-.4-.8h0m-.1 2.4h0m-2.2-1.2h0m-.4 .7h0m-.8-1.2h0m-1.6-.1h0m-.1 1.2h0m-3.4-1.6h0m-.5-.6h0m-.3 0h0m-2.4 .2h0m-.6 2.6h0m-1.2-1h0m-.5-.8h0m-.3-.9h0m-4.5 2.8h0m-14.4-.8h0m-1.4 .6h0m7.6 2.4h0m6.5-.2h0m.4-.7h0m1.7 .9h0m1.6-1h0m1.7 .5h0m.2-.2h0m.9-1.1h0m1.5 .5h0m.2 .1h0m8.5-.5h0m.1 1.1h0m.3 .3h0m1 .4h0m0-2.1h0m.7 1.4h0m.2-.8h0m3.1 1.5h0m1.1-1.1h0m1.7 1.1h0m1.3 .6h0m.9-1.2h0m8 .1h0m.5-.1h0m1.5 .4h0m4.2-1.1h0m4.4 .3h0m-4.4 2h0m-7.8 .3h0m-9.8-.5h0m-1 1.2h0m-.4 1.7h0m-.9-1.5h0m-1.9 1.5h0m-2.4-2.6h0m-6.1 .2h0m-1.2-.5h0m-3 1.5h0m-1.6 .4h0m-.5 .8h0m-1.5-1.7h0m-1 .7h0m-.3 1.2h0m-1.7-2.2h0m-2 2.2h0m-.7-1.4h0m-3.2 .6h0m-1.2-2h0m-.5 1.6h0m-.1-1.2h0m-6.7 2.3h0m-.4 .5h0m.9 1.7h0m7.3-1.6h0m9.3 1.5h0m1.4-1.8h0m.3 1h0m1.8 1h0m0 0h0m14.2-1.5h0m3.3 .2h0m1.3 .9h0m1.6 .9h0m1.1 .3h0m8.2-1.1h0m7.6 .6h0m.4-.7h0m2.6-.6h0m1.6 .4h0m2-.7h0m-3.3 4h0m-.5-1.8h0m-4.1 1.5h0m-9.2-.4h0m-1.2-.7h0m-.3 2.3h0m-1.6 .2h0m-.1-.5h0m-.7 .1h0m-1.2-.4h0m-.8 .3h0m-1-.1h0m-.6 0h0m-4.2-2.3h0m-1.8 2.4h0m-3.8-1.3h0m-1.4-1.1h0m-11.3 1.6h0m-.7 .5h0m-13.2-.4h0m-.8-.1h0m-.8 1.2h0m-.1-1.1h0m-.4 .7h0m-.1 .2h0m-1.6-1.4h0m-1.5-.8h0m-.7 2.5h0m-.8 .9h0m1.8-.5h0m.1 1h0m17.7 .3h0m.6-.6h0m.3 1.5h0m3-1.8h0m3.7 .9h0m.2 .9h0m12.8-1.3h0m.1-.4h0m.7-.4h0m.6 2.5h0m2.3-.2h0m1.7-2.7h0m.4 1.6h0m.6-1.4h0m0 2.7h0m.5-.8h0m1.1-.9h0m.1 .6h0m.9-1.3h0m.6 .5h0m.7-.7h0m1.8 1.7h0m1.7 .9h0m.5-.4h0m2.2-1.5h0m1.1 .6h0m3.8 2.4h0m-.7 1.3h0m-1.7-.5h0m-2.2 .6h0m-1.2-1.1h0m-1-.9h0m-2.6 1.7h0m0 .4h0m-1.8-.5h0m-.1-.7h0m-.2-.6h0m-.6-.1h0m0 1.3h0m-.6 .9h0m-1.3-.5h0m-.6 0h0m-2.1-.1h0m-1.2-.5h0m-.9-.6h0m-6.5-1.1h0m-2.5 1.8h0m-3.5 1.1h0m-3.9-.2h0m-1 .2h0m-.1-2.5h0m-2-.1h0m-1.6 .4h0m-1.2 1.9h0m-.9-1.3h0m-.4-.4h0m-1.9 1.1h0m-17.9 1h0m.6 2.7h0m2-.5h0m.7-2.1h0m.4 2h0m.7 .7h0m8.3-2.7h0m4.9 .8h0m.3 1.4h0m1-2h0m.7 1h0m2.6 .8h0m1.9-1.8h0m18 1.2h0m1 .8h0m.3-1.6h0m1 1.8h0m1.2-2h0m.8 1.3h0m1.8 1.1h0m1.6-1.4h0m.2 1h0m.2-1.2h0m0 .3h0m.3 1.1h0m1.8-2.3h0m1.6-.3h0m2-.1h0m.2 .1h0m2.7 .7h0m.3-.3h0m1 .8h0m.6-1.1h0m.7 1.7h0m.7-.3h0m13.3 1.3h0m4-2.8h0m.7 2.9h0m-1.6 .9h0m-6.5-.4h0m-6.8 1h0m-1.5 .7h0m-1.3-1.6h0m-2.3 .5h0m-.5 1.5h0m-.8-.7h0m-.4 .7h0m-1.3-1.7h0m-.5 .2h0m-1.6 .6h0m-1 .4h0m-3.4-.3h0m-.1-1.7h0m-1.3-.1h0m-4 1.4h0m-1.1-.1h0m-18.3-.4h0m-2 .4h0m-3.5-1.2h0m-11.9 1.1h0m-1.3 .3h0m-.9 .2h0m-3.7 .8h0m-.3 .4h0m1.4 2h0m2.3-.4h0m0 1.4h0m.9-1.2h0m.4 .2h0m.3-1.9h0m.6 2h0m2.6-.7h0m9.3 1h0m.4-1.4h0m1.9 1.5h0m.2-.7h0m.4-.4h0m2.9-.5h0m.6 1.1h0m.3-1.9h0m.1 2.5h0m.3-2h0m5 2h0m10.9-1.3h0m2.9 .1h0m0 .7h0m1.3-1.8h0m.8 2.1h0m1.7-.7h0m1.1-1.3h0m1.6 2.1h0m.9-1.8h0m.1 1.6h0m3.4-2.2h0m1.3 2.7h0m1.2 0h0m5.1-1.1h0m.2-1.3h0m1.3 1h0m.2 1.1h0m.2-1.4h0m1.4 1h0m.5-.5h0m5.1 1.2h0m.5-.9h0m8.2 3.8h0m-.5-2.3h0m-2.4-.2h0m-5.5 .9h0m-.4 .8h0m-3.4-.9h0m-4.5 0h0m-2.5 .3h0m-.8-.9h0m-.2 .3h0m-3.5 .9h0m-1.4 .4h0m-.4-.3h0m-.1 .5h0m-.1 .8h0m-4.8-2h0m-1.2 1.1h0m-.1-1.6h0m-.4 1.5h0m-2.3-1.9h0m-3.8 .8h0m-1.1-.8h0m-.3 1.1h0m-7.4-.3h0m-7.3 1.7h0m-1.4 .2h0m-.2-2.5h0m-1.2 2.3h0m-.2-1.3h0m-14.6 1.4h0m-.6-.4h0m-.1-.1h0m-.5-1.9h0m-.1 .2h0m-.6 2.1h0m-1.4-.6h0m-.4-.9h0m-.3 1.8h0m-1.1-2h0m-.8 1.8h0m-.1-1.1h0m-1.3 .5h0m-.6-1.6h0m-.9 2.3h0m0-.5h0m-1.1-2.2h0m.6 5.2h0m1.1-.1h0m2.2 .7h0m.9-2.2h0m.7 2.3h0m.4-1.4h0m1-1.5h0m.2 .7h0m0 .9h0m.9-.2h0m.7-.7h0m2.2 .1h0m.9 1.1h0m1.1 .8h0m8 .2h0m1.2-2.2h0m4.4 1.4h0m.8-.3h0m3.1 .6h0m11 .2h0m5.2-2h0m.4 1.6h0m2.4-2.2h0m.1 .8h0m3.3-.6h0m.3-.2h0m.1 1.3h0m.1 .3h0m2.9 1.1h0m1.2-1.1h0m.4 .7h0m2.5-.6h0m1.7-1.7h0m.3 .3h0m2-.3h0m.2 1.5h0m1.9 .5h0m.4 .9h0m3.5-2.7h0m.4 1.6h0m1.1 1.4h0m-1 1.5h0m-2.7-.7h0m-.1-.5h0m-1.2 1.2h0m-2.5 .7h0m-.6 .1h0m-2.2-.4h0m-.2-1.9h0m-.6 0h0m-.7 2h0m0-.9h0m-1-1.1h0m-3.9 2.4h0m-.6-.6h0m-.1-1.1h0m-.2 1.3h0m-1-1.3h0m-1.4-.6h0m-1.8 2h0m-.5-1.5h0m-.4-.5h0m-.1 2h0m-.2 .6h0m-.3-1.4h0m-.5-.9h0m-1.4 .6h0m-1 .7h0m-.6-1.8h0m-.8 .7h0m-.4 2.1h0m-.7-1.2h0m-1.4 .8h0m-1.6-.3h0m-.3-2h0m-1.1 1.6h0m-1.2-.3h0m-3.1 .2h0m-.3-.1h0m-5.4 .2h0m-2.7 .1h0m-2.2 .4h0m-.7-1.9h0m-6 .6h0m-6.3 1.9h0m-1-2.5h0m-.2 1.8h0m-.3 .4h0m-5.7 .3h0m-3.1-1.4h0m-.3-.6h0m-1.3 4.4h0m1.6-1h0m.8 .5h0m0-.3h0m2.9-1.1h0m.3 .1h0m2.1 .7h0m1.5-1h0m.5-.2h0m.1 2.2h0m.9 .6h0m.1-1.8h0m1.6 .1h0m7.3 .1h0m14.9 .5h0m.9-.2h0m.2 .1h0m1.4 1.3h0m1.1-.7h0m1-.4h0m.2-1.8h0m.2 .9h0m5.6-.6h0m2.5 1.8h0m.9 .2h0m.7-2.1h0m.8 1.3h0m.9 .4h0m.1 .3h0m1.3-2h0m1.9 2.5h0m.4-.2h0m.6-.9h0m1.4 1.2h0m.3-2h0m.9-.7h0m1 2.4h0m1-2.4h0m.1 1.8h0m1.7-.9h0m.8-1h0m.1 1.8h0m1.6 .6h0m.6-1.5h0m.1 1.3h0m.9-1.8h0m1.4 .5h0m.1-.1h0m0 .8h0m2.7-.2h0m.6 1.2h0m0-.4h0m1.4-1.8h0m.5 2.2h0m2.1-.1h0m.2-.7h0m.7 .9h0m1.3 .1h0m1.6-.5h0m1.7 1.1h0m-3.8 1.1h0m-.6 .8h0m-.2 .5h0m-1.6-1.6h0m-.9 .5h0m-.5 .3h0m-3.9-.1h0m-.7 .2h0m-.8 .7h0m-1-1.2h0m-.8 1.3h0m-.5-2.2h0m-.9 .7h0m-1.4-.2h0m-1.5 .5h0m-.5 1h0m-1.7-.9h0m-.5 1.1h0m-3.4-2.3h0m-.2 .2h0m-.6 .6h0m-3.9 .3h0m-.9-1.2h0m0 1.2h0m-.3-.8h0m-.1-.4h0m-.9 0h0m-.5 1.1h0m-.3-1.1h0m-.4 .9h0m-.7-.4h0m-1.2-.8h0m-.4 .6h0m-3.9 .3h0m-.7-1.1h0m-5.6 2.2h0m-.7-.6h0m-.8-.9h0m-.3-.4h0m0 .8h0m-4.4 .6h0m-.1 0h0m-16.4-.1h0m-.3 .5h0m-2-.1h0m-.1-.5h0m-2.2 .8h0m-.6 .3h0m-.2-2.2h0m-.4-.1h0m-1.5 .6h0m-2.4 .1h0m-2.1 4.1h0m2.8-.5h0m3 .7h0m.1-1.2h0m1.5-.4h0m2.1 1.8h0m.3-1.8h0m12.1 0h0m6.1 1.3h0m3 .9h0m.4-1.6h0m.8 0h0m4-.6h0m.9 1.6h0m.4-2.3h0m4.9 1.3h0m.1-1.3h0m2.3 .9h0m.7-.1h0m.6 1.9h0m3.7-1.7h0m0 .4h0m.1 1.5h0m1.7-1.8h0m3 .3h0m3.2 0h0m.4-.4h0m1.8 .5h0m1 1.2h0m.8-2.5h0m.1 .9h0m6.7 1.8h0m1.1-1.9h0m.1 1.9h0m.7-2.2h0m.5 1.3h0m.9 .2h0m.6-2.1h0m.6 1.7h0m.8-1.6h0m1.8 1.2h0m.7-1.1h0m-3.3 3.4h0m-2.2-.4h0m-.7 0h0m0-.2h0m-1.2 1.3h0m-1.8-.6h0m0 2h0m-.5-2.3h0m-2.5 1.1h0m-.1-.3h0m-.1-.3h0m-4.1 .7h0m-.2-1.4h0m-1.5 .7h0m-.1-.7h0m-.1 2.4h0m-1.4-.6h0m-1 .3h0m-.3-1.9h0m-.3 1.8h0m-.4-.8h0m-.7-.3h0m-.4-.3h0m-.5-.5h0m-2.2 1.8h0m-.8-1.3h0m-.2 .6h0m-1.4 0h0m-3.3-.9h0m-2 0h0m-3.6 1.5h0m-1.9-.1h0m-1.1-.6h0m-.3 .2h0m-1.1-1.4h0m-1.1-.2h0m-1 1.7h0m-.5-1.7h0m-3.5 2.9h0m-1.4-1.5h0m-4.3 .8h0m-14.6-1.9h0m-.9 .8h0m-1.5 .2h0m-.4-.7h0m-.9 .6h0m-1.4-1.1h0m15.8 5.1h0m1-.8h0m6.9-.8h0m.2 .5h0m1.5 0h0m.2 .4h0m1.2 1.1h0m1.2-2.4h0m.2 .4h0m1.7 1.4h0m2.2-.6h0m2.5-.7h0m1.7 1.7h0m1.8-.6h0m.7-1.2h0m.2 2.1h0m.5-1.4h0m.8 .6h0m2.3-.3h0m.6 .2h0m2.1-.3h0m3.1-.1h0m1.9-1.1h0m.3 2.5h0m.5-2.4h0m1 1.3h0m2.7 0h0m.6 .4h0m1.7-1.9h0m2 1.3h0m10.4-1.4h0m6.9 1.8h0m.9-.5h0m2.5 3.4h0m-.6-.6h0m-.3 1.4h0m-.6-2h0m-.1 2h0m-2.9-1h0m-1-1.1h0m-.6 2.4h0m-12.4-2.6h0m-9.3 1.8h0m-4.2 .6h0m-4.2-2.7h0m-.2 .5h0m-.7 .3h0m-.2-.7h0m-3.3 2.6h0m-.1-1.1h0m-.5-.1h0m-.2-1.3h0m-1.4 1.6h0m-.1-.8h0m-1.5 1.2h0m0-1.1h0m-.5 0h0m-.1 1h0m-.6 .8h0m-3-.7h0m-1.2 0h0m-.5 .6h0m-2-2.1h0m-.9 .3h0m-8 4.6h0m1.9-.2h0m7.4-.6h0m.7-.9h0m.3 1.2h0m3.6-1.7h0m.9 .6h0m.6-.1h0m4.5-.1h0m7.6 1.7h0m2.4 .4h0m.3-.3h0m1.2-1h0m25.7-.6h0m1.5 1.5h0m1.5-1.7h0m.3-.1h0m-2 2.4h0m-3 .5h0m-.8 .5h0m-19.7 .2h0m-4.1 .3h0m-2.5 .6h0m-.4-1.5h0m-.4-.1h0m-.1 .1h0m-1.4 1.4h0m-5.5 .5h0m-1.5-1.8h0m-1.2-.2h0m-.9 .7h0m-.1 .2h0m-4.8-1.2h0m-.1 .5h0m-.5 1.3h0m-.1 .8h0m-.3-1h0m-9.1 3.2h0m9.8-.7h0m.9-1h0m1.1 1.1h0m1.1-.8h0m1 .8h0m.1-1.4h0m.2 2.1h0m.2-.6h0m2.6 .2h0m7 .9h0m.6-.5h0m.6 .5h0m1.4-1.9h0m.3 .9h0m3.3-.6h0m.6-.9h0m.1 .1h0m1.2 1.2h0m-1.8 3.3h0m-2.1-.9h0m-.7 1.8h0m-.8-.8h0m-2.7-.1h0m-.1 .6h0m-1.8 .3h0m-1.8-.3h0m-.6 .2h0m-1.5-2.5h0m-1-.1h0m-.7 1.4h0m-.5 1.3h0m-.5-1.8h0m-.4 .3h0m-.1 1.1h0m-.1-2h0m-2.5 .5h0m0 1.1h0m-.5 .6h0m-7.6-1.4h0m-.3 1.8h0m-6.8-.5h0m2.8 .7h0m4.5 2.2h0m.7-2.1h0m10.4 1.8h0m.8-1h0m.2-.4h0m3.2-.2h0m1.7 1.3h0m.5 1.2h0m1-1.7h0m2.4-.8h0m.3 1h0m.6 .5h0m.6-1.4h0m2.1 1.1h0m3-.4h0m.5 .6h0m-1.3 2.2h0m-.5 1.1h0m-1.9-.8h0m-.8-1.1h0m-6.7 1.2h0m-2.1-1.2h0m-.3 .4h0m-.4 2.1h0m-9.4-1.2h0m-3.1-.6h0m-3 .9h0m-5.3 .8h0m.8 2.7h0m1.6-.1h0m1.4-1.3h0m1.7-.2h0m2.9 .6h0m.2-.9h0m5 .4h0m9.1 .4h0m.3-1.1h0m.2 1.8h0m4.5-.8h0m2.3 1.4h0m.9-.6h0m.1 .8h0m1.1-1h0m1.8-1h0m-.2 2.6h0m-.1 .8h0m-.5 1.2h0m-1.6-2.1h0m-1.4 2.4h0m-1.6-.7h0m-1.2-1.4h0m-.6 2.2h0m-1.3-1.1h0m-.4 .4h0m0-1.8h0m-3.2 2.3h0m-2.5-1.2h0m-4.9 .9h0m-.4-1.8h0m-5.9 .8h0m-.5 0h0m-4.7 1.1h0m-1.1-.9h0m19.7 1.6h0m4.9 2.5h0m1-.4h0m.8 .6h0m0-1h0m0-1.5h0m.8 .5h0m-20.4 2.7h0m23.5 2.8h0" stroke="#e47068" stroke-width="1.52" stroke-linecap="round" fill="none"/>
<path d="M250.4 170.4h0m2.4-.9h0m1 .5h0m.6 2.6h0m-2.6-1.6h0m-.8 .9h0m-1 2.4h0m15.9 4.5h0m-15.2-1.6h0m-8.2 .8h0m-6.4 3.7h0m2.6-.4h0m10.2-.3h0m7.6 .8h0m8.1 1.1h0m.5-.5h0m1.9 .4h0m.1 0h0m1.7-1.6h0m3.1 3.9h0m-.8 .6h0m-.6-.6h0m-.6-1.9h0m-3.2 .7h0m-.1-.9h0m-31.9 .6h0m-15.2-.2h0m44.2 4.6h0m3.1-1.9h0m1.3 2.7h0m1.1-1.5h0m.6 .9h0m.7-1.5h0m1.3 .6h0m.5 .3h0m.4 .5h0m0-.5h0m.1 0h0m2.9 .3h0m4 3h0m-.8-.9h0m-4.9 .2h0m-1.7-.2h0m-.7 1.6h0m-.8 .2h0m-.7 0h0m-.3-1.1h0m-.3 .9h0m-1.1-.8h0m-.1 .1h0m-2-.4h0m-.8-.1h0m-.1 .4h0m-.1-.7h0m-.3 .7h0m-.4 .7h0m-.3-1.7h0m-2.2 .6h0m-5.2-.9h0m-3.3 1.7h0m-21.7 .7h0m17.8 .6h0m2.8 1.6h0m9.3-1.4h0m3.8 0h0m1.5 1.5h0m.5 .2h0m.4-.8h0m2.3-.3h0m2.1-.5h0m.1-.3h0m2.4 .9h0m.1 .1h0m3.3 .2h0m.8 .2h0m1 .6h0m1.4-.2h0m0-1.3h0m1.5 .6h0m3.8 3.9h0m-4.8 .1h0m-3.5-.3h0m-2.4-.2h0m-.8-.7h0m-.2-1.1h0m-2.2 2.5h0m-5.2-.2h0m0-1.1h0m-3-1.1h0m-3.6 .9h0m-5.9-.6h0m-1.1 .4h0m-.3 1.3h0m-6.6 .3h0m-1.1-.3h0m-2.6-2h0m-1.5-.1h0m-.2 2.6h0m-.4-2.1h0m-.1 2h0m-1.3-1.6h0m4.4 2.7h0m2.3 1.8h0m2-.1h0m0-2.3h0m.9 1.6h0m1.6-.5h0m6.5 .8h0m15.8-.3h0m0 .9h0m1.4-.4h0m.1-.9h0m.5-1.5h0m6.1 .6h0m1.4 1.8h0m2.8-.2h0m.9-1.2h0m1.4 .3h0m.9 1.5h0m.2 1h0m-.9 2h0m-1.6-1.5h0m-1.6 1.2h0m-1.3-2h0m-1.2 .1h0m-.1 1.4h0m-2 .4h0m-.5-1.4h0m-3.4 1h0m-.7 .8h0m-.7-1.1h0m0 .4h0m-.4 .2h0m-22.1-.1h0m-1.9-1.1h0m-1.3 1h0m-2.2 .3h0m-.1 .5h0m-1.1-2h0m-1.6 .5h0m-1.3 1.3h0m-.1-.4h0m-.4 .5h0m-8.7 .8h0m6.9 1.8h0m2.7-.4h0m.5 .2h0m1.6-1.3h0m1-.5h0m.9 1.5h0m1.5-1.6h0m1.4 .6h0m.6 1.9h0m.3-.5h0m.2-1.8h0m2.2-.2h0m.3 1.3h0m23.7 .9h0m.6 0h0m2.3 .3h0m.6-1.9h0m.3-.4h0m.3 2.2h0m.7-2.5h0m.8 .4h0m.2 2.1h0m.5-2.3h0m.4 2h0m.1-1.2h0m1.2-.5h0m6.8 3.5h0m-.2 .7h0m-.5 0h0m-.9-1.9h0m-1.5 2h0m-3.6 .7h0m-1.8-.1h0m-3-2.4h0m0 1.6h0m-7.3 .2h0m-19 .9h0m-.8-1.5h0m-1.9-1.2h0m-.2-.2h0m-.2 .9h0m-.8-.3h0m-1.4 1h0m-.1-.5h0m-.2 1.5h0m-.6-1.5h0m-1.8-.9h0m-.1 .4h0m-.5 2.1h0m-2.1-.9h0m-3 .5h0m-.4 0h0m-.3 .1h0m-22.9-.7h0m-4.2 3.2h0m33.1-.7h0m1.5-.6h0m4 1.8h0m.7-2.4h0m28.9 .8h0m5.3 1.9h0m1.1 .2h0m3.1-2.2h0m.5 .1h0m3.7 2.6h0m-2.4 0h0m-1.3 .4h0m-2.3-.7h0m-.7 0h0m-21.6 .5h0m-13.8 1.7h0m-4.2-1.3h0m-.4 1.9h0m-2.1-1.2h0m-2.4-.2h0m-5.7-.5h0m3.8 2.4h0m1 1.3h0m.7-.7h0m3.4 1.1h0m3.9-1h0m.4-1.1h0m11 2.9h0m23.7-1.7h0m.6 1h0m1-1.8h0m1.2 2.2h0m.4-.2h0m.1-2.1h0m.4 2.1h0m.9 0h0m.2-.8h0m2.7 1.8h0m-1.1 2.1h0m-1.1 .1h0m-.9-1h0m-.4-1.1h0m-.1 1h0m-.7-.3h0m0 .8h0m-1.1-.7h0m-.2 .9h0m-.3 .3h0m-19 0h0m-9.6-1.2h0m-12.3-.9h0m-7.9 2h0m-26.2 .2h0m24.4 1.5h0m.7 .6h0m.1-1.6h0m.4 1.3h0m2.6 .5h0m1.1-.3h0m27.1-1.2h0m15.5-.3h0m1.5 1.8h0m.4-1.9h0m.1 1.2h0m3.9 .3h0m.5-1h0m-41.6 4.1h0m-3.4-1h0m-5.5-.4h0m-.9 2.2h0m-5.8 1.4h0m4.1 .2h0m1.1-.8h0m27.4 2.6h0m-11.1 2.8h0m-21.4-1.5h0m-.3 .1h0m-2.6 .3h0m-.3 1.5h0m1.5 2.5h0m.5-.7h0m1.3-.9h0m.2 1h0m1-.4h0m1.1 1.4h0m9.3-2.2h0m20.1 .2h0m-31.1 3.9h0m0-.1h0m-.7-.2h0m-5.1-.8h0m-1.4 3.9h0m2.7-1.6h0m2 .4h0m.1 1h0m.1-.6h0m.1 1.1h0m3.6-.5h0m17.3 3h0m-1.6-1.2h0m-18.2 .8h0m-.7-.9h0m-.3 2.3h0m-.7-1.3h0m-.4 1h0m-.7 1.5h0m2.5-.2h0m.6 2.5h0m2-1.4h0m.1-1h0m32 3.3h0m-10.6 1h0m-6.1-1.8h0m-13.1 1.7h0m-.8-.1h0m0 .4h0m-.9-1.6h0m-2.9 1.5h0m-1.9 2.1h0m.4-.2h0m2.1-.5h0m.7 .7h0m2.1-1h0m3.1 1.6h0m2.3-1.4h0m7.3 0h0m17.5 5.7h0m-2.5-2.9h0m-3.7 2.6h0m-17.1-1.3h0m-.2 .8h0m-2.5 .2h0m-4.6-.8h0m-2.9-.7h0m-1.8 .6h0m2.2 4.4h0m6-1.6h0m.8-.1h0m.9 1.8h0m2.7-1.8h0m1 1.4h0m2.6 .1h0m4.3 1h0m-7.1 1.5h0m-.2-.7h0m-3.5-.5h0m-5.6 .8h0m1.7 1.5h0m.1 2.4h0m1.7-.4h0m1.2-1.2h0m1 1h0m.9-1.2h0m1.4-.2h0m2.7-.2h0m15.2 0h0" stroke="#4dbcc6" stroke-width="1.52" stroke-linecap="round" fill="none"/>
<path d="M253.1 170.2h0m2.1-.2h0m-14.5 5.9h0m.9-.9h0m2.6 0h0m3.8 .7h0m-6.1 2h0m-3.3 1.2h0m3.6 1.6h0m21.3 2.2h0m2.5-1.3h0m.1 .6h0m.6 .7h0m2.6 0h0m.1-.4h0m.3 .4h0m.2-.6h0m12.8 2.9h0m-10.8-.7h0m-1.2 .3h0m-.6-1.2h0m-.7 .8h0m0 .9h0m-1.7-.7h0m-.7 1.5h0m-.3-.2h0m-.1-.3h0m-1.9-1.1h0m-.2-.3h0m-19.5 1.5h0m-24.1-.8h0m13.2 1.3h0m20.9 2.9h0m2.8-1.8h0m4.2 1.7h0m1.3-2.6h0m.2 2.3h0m.3-1.1h0m.1-.1h0m.3 1.5h0m1.7-2.8h0m.2 .4h0m.6 2h0m.8-2.1h0m2.7-.2h0m.7 1.3h0m2 .5h0m7.4 3.4h0m-.5-.2h0m-3.2-1.9h0m-1.3-.1h0m-.2 2.6h0m-.7-2.1h0m-3.1 1.9h0m-1.1 .2h0m-.2-.8h0m-1.5 1h0m-.5-1.8h0m-1.3 .2h0m-5.3 1.3h0m-42.9-.2h0m17.4 2.8h0m1.8 .2h0m14.6-2.1h0m9.2-.3h0m5 1.5h0m.5 .5h0m.1-2h0m3.9 1.6h0m.2 .1h0m.1-1h0m1.8 .6h0m1.9 .2h0m.1 .9h0m.6 .3h0m2.4-1.5h0m1 .6h0m.1-.6h0m1.2 .4h0m.5 1h0m1.9-1.3h0m3 4h0m-.8-1.9h0m-.7 .6h0m-.2 .9h0m-.2-1.6h0m-.4 2.2h0m-.2-.9h0m-.2-1.2h0m-.2 1.5h0m0-1.1h0m-.4 1.8h0m-.6-2.3h0m-10.5 2.3h0m-.2 .2h0m-.1-1.8h0m-.7 1.5h0m-.4 .3h0m-2-.6h0m-20.6 .6h0m-.3-2.8h0m-1.2 .7h0m-2.4 .3h0m-.1-.1h0m-3 1.1h0m-4.7-.3h0m-.3 .7h0m-3.9-.8h0m2.2 2.1h0m8.8 1.4h0m.5-1.1h0m.1-.9h0m.8 2.5h0m.9-2.3h0m1.7 2.6h0m1-1.3h0m1.7-1.6h0m.3 .8h0m.5 .5h0m5.6-1.2h0m15.8 .3h0m1 1.6h0m.1-.3h0m6.2-1.1h0m.2 .8h0m1.1-1h0m1.1 1.4h0m1.1-1.6h0m4 2.5h0m.3-2.6h0m1.6 .9h0m.7 1.9h0m1.8-1.9h0m-.4 2.5h0m-.1 1.6h0m-2.6-1.1h0m-3.6 1h0m-.5-1h0m-.2-1h0m-.3 .7h0m-.1 1.6h0m-.2-1.8h0m-1.2 1.1h0m-1.4-.6h0m-1.4 .2h0m-1.7-.9h0m-3.2 1h0m-19.6 1.2h0m-.6-2.3h0m-1.2 2.3h0m-1.2 .4h0m-.6-.2h0m-.3-1.9h0m-1.2 2.1h0m-5.3-2.9h0m-.8 1.6h0m-.2 .2h0m-28.5 3.4h0m26.7 .7h0m2.5-1.2h0m2.8-.6h0m.2 1.8h0m.8-1.6h0m1.4 1h0m1.2-1h0m1 .6h0m1 1h0m2.2-.7h0m25.2-1.6h0m1.1 1.1h0m.3 .7h0m.1-1.3h0m2.7 1.6h0m0-.6h0m2.4-1.1h0m0 1.6h0m.2-1.6h0m2.1 .7h0m1.6-1.6h0m1.7 .9h0m-4.1 4.9h0m-2.2-1.2h0m-3.5-1.1h0m-.9 2.3h0m0-.2h0m-.3-2.1h0m-.9 .1h0m-2 .2h0m-23.1 .3h0m-3.5 .9h0m-1.5-.5h0m-.6 .9h0m-2.3-2.5h0m-.6 1.9h0m-.2 .9h0m-4.8 .1h0m-.4-1.1h0m-.2 3.6h0m2.7-1.5h0m.7 0h0m2.8 1.7h0m3-.9h0m1.9 .6h0m.5-.7h0m.5 .1h0m0 .7h0m.7-2.1h0m27.9-.2h0m.8 1.2h0m5.4 0h0m1.3 1h0m.9 .2h0m.8-2.1h0m2 1.1h0m1.6-.2h0m1.1 .6h0m.7 0h0m.2 2.6h0m-1.9-.1h0m-2.6 1h0m-1.3-2.4h0m-36.5 1.1h0m-.5 .2h0m0 .8h0m-.5-1.4h0m-2.2 .5h0m-2.5 .3h0m-.6-1h0m-.9 2.1h0m-1.2-2h0m-1.2-.5h0m-1.7 .6h0m-.7-.4h0m-26.4 1.6h0m8 1.7h0m20.1 .4h0m.5-.4h0m.2 .3h0m2.3 .1h0m.6 1.5h0m0-1.4h0m1.7 0h0m.7 .3h0m0-.2h0m1.7-.2h0m1.1 .9h0m16.8 .5h0m16.9-.6h0m.4 .3h0m1.8 .5h0m.7-2.5h0m1.7 2.7h0m0-2.3h0m1.5 2.1h0m1-.9h0m1.7-.4h0m-1.8 3.3h0m-1.7-.6h0m-.6 .2h0m-1.4 1.7h0m-.6-1.4h0m-1.2-.1h0m-.9 .5h0m-1.2 1h0m-32.1-1.9h0m-4-.5h0m-.7-.2h0m-.1-.1h0m-1.5 .4h0m-2.7-.3h0m-2.9 2.4h0m-2.4-.1h0m-15.4 2.2h0m14.3 .1h0m.9 .8h0m2-2h0m.6-.2h0m1.4 .9h0m2.5-.3h0m.2 1.1h0m9.1 .5h0m31-1.5h0m.7 .7h0m2.5-.9h0m1.4-1h0m.1 1.1h0m1.3 0h0m-51.6 3.4h0m-.5-.1h0m-.5-.6h0m0 1.3h0m0-2h0m-.7 .2h0m24 5.5h0m4.8-2.1h0m-31.7 4.3h0m-1.6 .9h0m-.6-2.9h0m-.5 2.9h0m-1.3-.3h0m-15.8-1.4h0m16.8 4.7h0m.1-.6h0m1.1-1.1h0m1.7 1.5h0m17.7-2.4h0m42.1 4.3h0m-4.3 .4h0m-.5-1.5h0m-26.1 .4h0m-29.1-.1h0m-1.6 0h0m-.1 .4h0m-2-.3h0m-.4 1.7h0m-1 1.3h0m2.8 1.2h0m.3-1.7h0m2 .8h0m.2-.6h0m.2 .7h0m15.6 .4h0m34.6 .5h0m8.3-.3h0m-4.8 1.5h0m-24.7 1.1h0m-33.3 4.1h0m.7-.8h0m.1-.7h0m.8 .6h0m.4-1.4h0m1.4 .1h0m13.7 1.3h0m-9.2 1.7h0m-1-.2h0m-.5-.1h0m-.5 .4h0m-4.2 .2h0m0-.5h0m-2.1 2.7h0m4.5 2.7h0m.3-.5h0m1.9-.2h0m.3 .3h0m1.3-1.8h0m16.9 1h0m13 .5h0m-.5 2.7h0m-26-1.4h0m-.8 1.2h0m-2.9 .2h0m-.8 1.3h0m-.3-1.8h0m-1.1-.1h0m-2.5 .4h0m-3.2 .9h0m2.6 1.3h0m3.5 1.8h0m1.6 .3h0m.4-.6h0m1.6-1.4h0m.8 2.2h0m1.5-1.7h0m4.3 .2h0m9.4 .6h0m7.6 2.5h0m-14.5-1.5h0m-2.7 0h0m-3 2.6h0m-.6-1.5h0m-.5-.3h0m-.3 .2h0m-1.8 3.7h0m0 .6h0m.4-1.5h0m.1 1.8h0m1.1-.4h0m3.5-2.1h0m14.3 2.6h0" stroke="#4dbcc6" stroke-width="1.52" stroke-linecap="round" fill="none"/>
<path d="M252 169.7h0m1.7 .5h0m.6-.6h0m-.7 3.1h0m-2.8-1h0m-1.9-.4h0m-13.6 5.1h0m6.2-1.1h0m0 1.3h0m1.1-1.2h0m1.2-1h0m3.1 2.4h0m1.8-2h0m.2 2h0m4.3-.8h0m.7 .3h0m0-2.2h0m3.3 3.5h0m-.1 .9h0m-1.5-.4h0m-1.2 1.4h0m-1.9-1.2h0m-1.2 .7h0m-.3-1.8h0m-.4 .9h0m-.9 1.5h0m0-1.7h0m-1.9-.1h0m-2.4 1.7h0m-.4 0h0m-1.9-.2h0m-1.1-.1h0m-3.9-.3h0m-20.1 1.3h0m1.4 2.2h0m12.8-1.9h0m7.1 .6h0m.1-.8h0m1.7 0h0m2.5 1.4h0m.4 .7h0m.8-2h0m.7 1.6h0m1.4-.1h0m3.8-1.1h0m2.4 .8h0m2.2 .7h0m2.8-1.5h0m.7 .3h0m1 4.8h0m-2-2.9h0m-.1 .1h0m-.8 .4h0m-.6 1.3h0m-.7-1.3h0m-2.2 1.7h0m-3.4-.2h0m-5.8-.7h0m-2.3-.4h0m-.5-.4h0m-.1 2.1h0m-2-2.6h0m-1 0h0m-.1 2.8h0m-.3-1.3h0m-2-1.1h0m-.8 1h0m-.9-1.1h0m-.5 1.3h0m-1.7 .2h0m-.8 1h0m-13.6-.6h0m-.2 .6h0m1.4 1.9h0m3.9 1.2h0m0-2.2h0m.6-.6h0m8.8 .2h0m.8 2h0m.1-1.8h0m.3 2.4h0m2.7-2.5h0m.3 .8h0m1.6-.5h0m0 2.2h0m1-.2h0m.3-.5h0m7.3-1.2h0m.8 1.4h0m2.5 .1h0m.6-1.9h0m.3 1.5h0m.1-.7h0m2.2 1.5h0m2.1-2.8h0m.8-.1h0m1 2.7h0m8.6-2.4h0m12.4 3.9h0m-1.6-.5h0m-4.3-.5h0m-14.5 1.1h0m-1.3 .1h0m-.1-.2h0m-1.3 0h0m-1.4 1.2h0m-3-2.1h0m-.3 1.9h0m-.1-1.1h0m-3.5 1.1h0m-6.7-1.5h0m-.1-.4h0m-.1 0h0m-5 .9h0m-1.9-1.2h0m-1.7 .6h0m-5.6-.6h0m-2.2 .2h0m-.9 .7h0m-1.7-.5h0m-2.5 1.4h0m5.7 1.9h0m5.1 0h0m1 1.6h0m2.8-.5h0m.2-.8h0m.9 1.7h0m.4-.7h0m.4 .7h0m.6-.1h0m1.1 0h0m.7-1.3h0m1 .4h0m10.7 1.2h0m1.6-2.1h0m3.2-.2h0m1.1 0h0m.1 0h0m.3-.3h0m.5 1.1h0m.5-1.2h0m2.1 1.3h0m1.5 .6h0m22.1-.8h0m3.4 3.5h0m-2-1h0m-4.8 1.8h0m-4.1-2.5h0m-9.8 2.8h0m-1.8 0h0m-.1-1.9h0m-1.5-.8h0m-1.1 2.5h0m-2.1-.2h0m-2.1-.2h0m-.6-2.2h0m-3.4 2.8h0m-.2-1.9h0m-.2 1.2h0m-2.4-1.3h0m-.1-.3h0m-.7-.1h0m-12.3 1.9h0m-3.9 .1h0m-.2-1.5h0m-1.9-.9h0m-1.9 1.3h0m-5.3 1.3h0m-1.8-2.3h0m-4 2h0m-.7 1.2h0m4.3 .8h0m11.4 1.3h0m2.8-.3h0m6.5-1.3h0m2.7-.5h0m8.4 1.1h0m1.5 .9h0m.2-1.3h0m.1-.5h0m1.1 .9h0m.1 1h0m.5-1.9h0m.4 .1h0m5.9 .5h0m2.2-.3h0m.4 .6h0m.1 .6h0m.4 0h0m.3-2.3h0m2.5 2.2h0m2.7-.1h0m12.5-.3h0m2.2-.8h0m1.6 .9h0m.9-.3h0m.3-.7h0m-6.7 3.2h0m-5 .2h0m-3.8 .9h0m-1.7-1.2h0m0 1.2h0m-1.9-1.7h0m-3.4 1.5h0m-.8-.7h0m-3.7 1h0m-2-.9h0m-3.9 1.3h0m-.8-2.6h0m-.1 2.5h0m-.9 .1h0m-14.4-1.6h0m-.3 .5h0m-5.2 .9h0m-.4-.1h0m-.2-.6h0m-1.7-.9h0m-2.2-.5h0m-7.9 1.9h0m9.7 2.7h0m2.5-1.8h0m.4 2.5h0m.5-.2h0m1.8-.6h0m1.9-1h0m.6 1.3h0m.2-1.2h0m8.2 1.5h0m9.6-1.4h0m1.5 .8h0m2.2 0h0m2-.1h0m3.9-.1h0m.6 1.1h0m.3-1.8h0m.9 1.7h0m3.2-.4h0m1.3-1.4h0m.9-.6h0m1.1 1.9h0m.4 .6h0m1.1 .1h0m1.6-2.6h0m3.2 .1h0m2.1 2h0m3.6-.1h0m4.2 2.5h0m-.8 .3h0m-2.8 .6h0m-1.1-1.5h0m-7 .7h0m-1-1.7h0m-.2 .5h0m-.9 1.5h0m-.1-2.2h0m-.1 0h0m-4.2 2.7h0m-1.9-.1h0m-1.2 .3h0m-1.4-1.2h0m-2-1h0m-.5-.3h0m-.9 .5h0m-1-.8h0m-1 1h0m-.9 1.5h0m-2-1.8h0m-3.7 1.2h0m-6.3 .3h0m-6.7 .2h0m-6.1-.6h0m0-.4h0m-2.9-.1h0m-.6 0h0m-10.7-1.4h0m-4.9 1.3h0m-2.6 .3h0m-2 .8h0m-.5-.5h0m-.5 2.1h0m7.2-.4h0m1.5 .1h0m3.1 .1h0m7.5 0h0m.9 .5h0m2.4-.3h0m1.3 1.6h0m1.3-.6h0m1.6-1.4h0m.3 2.2h0m.7-.1h0m14.9-.8h0m.4 .3h0m0-1.7h0m2.7 .3h0m1.1-.7h0m.8 2.6h0m.1-2.5h0m.6 .4h0m2.7 .2h0m.5-.4h0m2.8-.1h0m.4 .9h0m1-.2h0m.7 1.1h0m1.5-.3h0m.5 .4h0m.6-1.4h0m1.8-.2h0m.1-.2h0m.6 1h0m.4 .6h0m1.9-1.2h0m3.1 1.1h0m1.3 .6h0m.3-1.2h0m.1-.6h0m4.2 1.9h0m6.1-2.3h0m1.5 3.2h0m-4.6 .7h0m-1.4-.4h0m-.9 .5h0m-.4-.7h0m-2.6 2.1h0m-4.7-2.5h0m-.6 .7h0m-.2-.5h0m-1.8 1.1h0m-.9 .3h0m-.3-1.6h0m-.7 1.7h0m-1.6-.8h0m-.9 1.7h0m-1 0h0m0-2.4h0m-.9 2h0m-.2-2.3h0m-1.5 1.9h0m-1.3 0h0m-2.5 .6h0m-1.1-.3h0m-1.6-.3h0m-.4-1.9h0m-1.3 .1h0m-.1 .7h0m-1.9-.6h0m-.4 2.6h0m-.6-.9h0m-.9 .3h0m-.7-.4h0m-6.2 .1h0m-6 .1h0m-4.5-1.4h0m-4.5 .4h0m-.1-.4h0m-11.1 1.6h0m-2.6-1.9h0m-.9-.4h0m-.5 1.1h0m-.4-.4h0m-.3 1.1h0m-.4-1.2h0m-.4 .8h0m-.9 1h0m-1.8 .3h0m1.2 2.2h0m3.9-1.3h0m.5 1.3h0m.8 .7h0m.6-2h0m0 1.1h0m2.7-1.5h0m.1 1.4h0m1 1h0m14.5-1.7h0m4.1 1.9h0m2.4-1.2h0m1.9 .5h0m2.3-2h0m.6 .4h0m2.1-.1h0m2 .6h0m.7-.7h0m1.9-.2h0m.5 2h0m.9 .4h0m4.2-1.7h0m.1-.2h0m.6 0h0m.8 1.8h0m2.8 .4h0m1.4-.4h0m.6-.6h0m.6-1.4h0m1.7 1.6h0m.1-.5h0m.5-.9h0m3 2.1h0m1.5-2.7h0m.7 1.3h0m.7 1.2h0m2.2 0h0m.4-1.6h0m2 1.7h0m.3-2.1h0m0 .8h0m.5-1h0m1.4 2.5h0m.4-2.7h0m.2 2h0m.3 2.4h0m-2.4-.2h0m-3.5 1.5h0m-1.6-1.1h0m-.2-.7h0m-.9 1h0m-2.7-.9h0m-4.2-.9h0m-.2 2.1h0m-4.2-.1h0m-.4-.9h0m-.4-1.1h0m-1.8 2.1h0m-1.2 0h0m-.1-.8h0m0 .1h0m-.1 .5h0m-3.2-1.9h0m-.2 .3h0m-1.6 1.4h0m-.1 .4h0m-.3-1.5h0m-.2 1.8h0m-1.2-2.3h0m-.9 2.4h0m-.3-.2h0m-2.8-2.2h0m-3.7 2.2h0m-.4 0h0m-4.5 0h0m-1-.2h0m-2.7 .2h0m-1.4-.6h0m-12.8-1.9h0m-1.2 2.8h0m-.6-2.1h0m-.6 2h0m-1.3-1.3h0m-.3 .8h0m-.8-.9h0m-.2 1.6h0m-2.8-1.5h0m-3-.5h0m-.8 .3h0m-.1 .6h0m-1.9 1.1h0m.4 .2h0m.9 0h0m.7 .8h0m.8-.1h0m4.1 1.7h0m1.4-2h0m0 .4h0m1.3-.1h0m1.1 1h0m1-1.1h0m1.6-.5h0m9.1-.2h0m7.2 2h0m1.8-1.5h0m2 2.2h0m1 0h0m.2-1.6h0m1.5 .4h0m.5-1.3h0m1.1 1.5h0m2.4-1.6h0m5 .7h0m.4 .7h0m1 1.4h0m.3-.6h0m8.1-2.2h0m.5 2.5h0m.4-2h0m.5 .6h0m.7 .1h0m5.3-.1h0m1.2-.7h0m1.1 .9h0m2.1-.5h0m.2 1.4h0m.9-1.6h0m.2 .8h0m.5 .8h0m1.6-.7h0m2.1 .9h0m.6-.4h0m.5 .8h0m1.1 0h0m1.1-.1h0m2.4-1.1h0m2.6-.7h0m-2.9 2.7h0m-2 .8h0m-.8-.1h0m-6.5 .7h0m-1.1 .5h0m-1-2.4h0m-.2 .7h0m-1.6-.6h0m0 .4h0m-.6 1.6h0m-2.6-.5h0m-1-1.2h0m-2.9-.1h0m-1.4-.1h0m-1.8-.1h0m-1.1-.1h0m-.9 1.2h0m-1 1.2h0m-.9-2.3h0m-3.5 2.4h0m-.1-.1h0m-.1 0h0m-1.3-.1h0m-.7-2.2h0m0 1.2h0m-1.7-.4h0m-1.2 1.8h0m-1.6-1.3h0m-1.8 .6h0m-2.8-1.5h0m-1 .9h0m-.1-1.1h0m-.3-.4h0m-.4 .1h0m-.8 .9h0m-.3 1.7h0m-6.1-1.5h0m-3.9-1h0m-10.8 1.5h0m-1.1-1.7h0m-1.5 2.2h0m-.9 .1h0m-3.1 .4h0m-1.3 0h0m-.8-2.8h0m-3.2 1.9h0m.1 1.5h0m.8 .1h0m1.4 .5h0m.5 1.8h0m3.4-1.1h0m.3-.4h0m.4-.6h0m1.5 .7h0m2.7-1.1h0m19.3 1h0m.2 .9h0m.4-2h0m.2 1.1h0m.7-.8h0m2.7 1.8h0m3.1-.8h0m1.3-1.4h0m.5 1.6h0m1.1-1h0m.2 1.5h0m1-2.1h0m.1 2.6h0m2.5-1.5h0m2.1 1.6h0m0-1.6h0m.1 1h0m.6-1.3h0m.3-.5h0m.1 1.7h0m.5-2h0m.3 2.2h0m3.4-.2h0m.5-1.7h0m1.1 1.1h0m.3-.4h0m.6 .1h0m.2-.9h0m.2 2.6h0m4.1-1.1h0m.1 .3h0m.1-1.5h0m3.2-.6h0m.9 1.1h0m1.3 1.5h0m2-.9h0m.1 .6h0m1.9-.6h0m2.6-1.4h0m1.1 1.7h0m.3-.7h0m1.5-.8h0m.5 .3h0m0 .8h0m1.3 .1h0m.1-.6h0m.5-.6h0m-2.6 4.3h0m-.1-.6h0m-1.3 1.3h0m-2.6-.6h0m-.1 .9h0m-1.1-1.4h0m-1.7 1.1h0m-1.8-.5h0m-.6-.6h0m0 1.1h0m-.1-.1h0m-.9-1.9h0m-1 .1h0m-3 2.3h0m-3-.8h0m0-.8h0m-1.8-.3h0m-.7-.4h0m-.3 .5h0m-2.6-.6h0m-2.7 .9h0m-.7 .1h0m-.4 0h0m-5.3-.2h0m-.1-1.2h0m-1.1 .6h0m-1.2 1.2h0m-.8 .4h0m-3.8 .5h0m-.6-2.1h0m-1.2 2.2h0m-1.5-.8h0m-2.2 .5h0m-20.9-2.4h0m-1.6 .8h0m-1.4 .6h0m0-.7h0m-1.5-.1h0m26 2.6h0m.4 2.5h0m.4-1.7h0m.4 .9h0m.4-1.4h0m2 .1h0m.2 .6h0m.6-.8h0m1.1 .4h0m.3 1.4h0m1.3 .5h0m3.9-2.7h0m.5 1.1h0m1.7-.4h0m2.2 1.7h0m.7-.4h0m.1-.7h0m3.6-.1h0m3.7 1.2h0m7.1-1h0m.5-.1h0m1.2 .7h0m.6-1.1h0m1-1h0m.3 2.8h0m3.4-2.4h0m.1 1.2h0m2-1.2h0m.8-.1h0m0-.3h0m.8 .9h0m6 1.7h0m2.8-.7h0m1.1 .8h0m2.9-.7h0m1.7 2h0m-1.7-.9h0m-.6 1.5h0m-.1-.3h0m-1.6-1.2h0m-.6 1.4h0m-.1-1h0m-1.5-.5h0m-1.8 .9h0m-1.9 .6h0m-.6 .3h0m-7-.2h0m-9.2-1.4h0m-4.4-.3h0m-.6 .2h0m-.6 .2h0m-6.4 .4h0m-.3 .4h0m-2.6 0h0m-1.5-1.1h0m-.2 1.9h0m-.6-.2h0m-.8-1.2h0m-.3 1.5h0m-1.5-1.7h0m-.2 2.1h0m-2.2 0h0m-1.8-2.4h0m-.2 .2h0m-1 1.4h0m-.4 .9h0m-1.8-2.1h0m-.3-.2h0m-9.3 2.1h0m-.2 2.4h0m2.3-1.7h0m6.6 1.5h0m1.9 .8h0m1.1-1h0m2.2 .9h0m.2-.2h0m.6-1.4h0m.4 2.1h0m0-2.2h0m.4 .1h0m2.5 .5h0m.5 1.4h0m0-1.1h0m2.7-1.2h0m.1 2.2h0m.3-2.2h0m.2 .7h0m5.7 1.6h0m.1 .1h0m2.3-1h0m.2 .5h0m10.9 .4h0m13.8-.2h0m1.6-2.1h0m.7 1.2h0m1 1.3h0m1.1-.7h0m1.7-.9h0m0 .4h0m-5 3.1h0m-21.5 .5h0m-2-1.8h0m-1.9 .2h0m-1.5 2.1h0m-1.8-2.6h0m-2 1.8h0m-6.2 .4h0m-1.5-1.4h0m-.6 .6h0m-.2-.2h0m-1.1-.6h0m-1.9 1.8h0m-.4-1h0m-.4-.7h0m-13.2 1.4h0m-.6 1.6h0m4.1 .5h0m1.1 1.4h0m10.3 0h0m1.1-2.3h0m.8 1.3h0m1 1h0m.6-.5h0m.4 .5h0m6.2 0h0m.6-2.2h0m.4 .6h0m.1 0h0m0-.4h0m2.2-.3h0m3-.2h0m1.2 .5h0m2.9 4.2h0m-.2 0h0m-5.2-1.2h0m-5 .7h0m-.4 .3h0m0-1.1h0m-1.1-.3h0m-7.1 1.4h0m-1.6 .5h0m-11-.9h0m-1.7 .1h0m1 2.9h0m0-.7h0m1.7 .4h0m4.2 1.2h0m.7 0h0m9.9-1.2h0m4.1 .9h0m.3-.2h0m.4-1.4h0m1.9 1.2h0m2.2 1h0m2-.6h0m1.9-.2h0m1.5-.4h0m.3-.1h0m1.5-1.2h0m.6 1h0m0 1.4h0m1.2 2.1h0m-3.3-.9h0m-.5 1.7h0m-.9-2.3h0m-3.7 2h0m-.7-2h0m-1.1 0h0m-1.1 1.8h0m-3.5 0h0m-1.2 .5h0m-1-2.2h0m-7 2.1h0m-.2 .4h0m-1.4-.2h0m-.7-1.5h0m-7.9-.6h0m-1.1 .6h0m0-.4h0m0 2.1h0m3.9 2.8h0m.3 0h0m3.2 .4h0m3-2.8h0m6.3 .5h0m.7 1.6h0m2.6-1.9h0m.8 2.4h0m3.4-2h0m.9 .1h0m2.6 .6h0m.1 .1h0m3.4-1.3h0m.7 4.9h0m-.4-1.2h0m-1.5 .4h0m-.9 .4h0m-1 0h0m-2 1.1h0m-.2-1h0m-2.1-1.7h0m-1.2 1.6h0m-.1 1.3h0m-1.4-1.7h0m-.8 .2h0m-1.9-.3h0m-3 1h0m-2.5-1.4h0m-1.7 1h0m-1.2 .7h0m-4.8-1.5h0m-1.9 2h0m-.2-.4h0m-.8-1h0m4.6 3.1h0m1.5-.4h0m14.5 .7h0m1.8-.9h0m.8-1h0m1 .4h0m.1 0h0m.2 2h0m1-.5h0m.3-1.1h0m.2 .9h0" stroke="#e47068" stroke-width="1.52" stroke-linecap="round" fill="none"/>
<path d="M255.3 173.4h0m-2.9-.8h0m-4 1.3h0m.2 .2h0m6.4 6.6h0m10.8 .9h0m.6-1.3h0m.5 1.8h0m.6-.6h0m1.7-.4h0m3.5 2.9h0m-1.4 .4h0m-1.8 1.4h0m-.6-.6h0m-.2-1.8h0m-.6 2.2h0m-.3 .3h0m-4.3 0h0m-33.2 1.5h0m3.8 1.2h0m28.3-1.5h0m2.8 .5h0m1.4 0h0m5.3-.2h0m.2-.6h0m.2 1.6h0m.6-.8h0m.1 1.2h0m.8-1.8h0m3.6-.2h0m.6 4.3h0m-2.1 .6h0m0-1.6h0m-3.6-1.1h0m-.9 2.9h0m-1.1-.2h0m-1.4-.8h0m-1.6-1.3h0m-.6 1.2h0m-.8 .9h0m-.4-2.3h0m-1.7-.2h0m-.5 2.6h0m-.5-2.3h0m-1 1.3h0m-11.4-1.2h0m-19.3 4.3h0m13.1-.7h0m.7 .4h0m9.2 1.1h0m6.5-.9h0m4.5 .1h0m5.4-1.5h0m2.8-.3h0m.6 1.6h0m1 1h0m3.7-1.6h0m3.2-.1h0m4 4.6h0m-1.4-2.2h0m-1.1 1.3h0m-.9-1.4h0m-.3 .8h0m-1.9-.2h0m-.7 1.7h0m-.7-.6h0m-3.2 0h0m-.5-1.8h0m-1.3 1.3h0m-1.4 1.1h0m-4.5-1.4h0m-4.9 1.5h0m-8.7-1.3h0m-4.9 1.4h0m-2.3-.7h0m-.2-.7h0m-1.4-.9h0m-2.7 .1h0m-.7 2.2h0m-.2-.5h0m-.7-1.3h0m-4.6 2.5h0m5.6 .3h0m2.9 .4h0m.1 1.6h0m.6-2.4h0m.2 1.8h0m.2-2.2h0m.5 1.9h0m2.9 .3h0m.6-2h0m1.8 2.7h0m22.3-2.8h0m2.7 1.7h0m.3 .6h0m.6 .1h0m.9-1.3h0m3.4 1.6h0m1.3-.1h0m.3-1.9h0m1.5 .7h0m.8-1.1h0m.1 .4h0m.2 1.1h0m1.1 .1h0m.5 .3h0m1.1 1.5h0m-.9 .2h0m-.5-.8h0m-6 1.1h0m-.7 .7h0m-.9 .9h0m-2.4-1.9h0m-1.5 1.2h0m-23.2-.5h0m-.9-.2h0m-.2 .2h0m-1.4-.5h0m-.9 .8h0m-.1-.5h0m-1.7-.4h0m-5.9-.2h0m-.1 .8h0m-.5-1.1h0m-.2 2.4h0m.1 .2h0m1.2 1.6h0m2.1-1.6h0m.1 2.5h0m.1 .1h0m.9-.7h0m.5-1.3h0m.7-.2h0m4.1 1.6h0m.7 0h0m1.5-2h0m21.7 2.2h0m4.4-.3h0m1.1-1.4h0m1.8 0h0m1.1 1.5h0m.1 0h0m2.3-.6h0m.2 .2h0m2.1-1.6h0m.3 1.2h0m2.6-.1h0m2.8 4.6h0m-.8-1.1h0m0-.4h0m-2.1-.7h0m-.9-.6h0m-.6 .8h0m-4 1.7h0m-2-.4h0m-1.7 .4h0m-1.3-1.4h0m-26 .3h0m-.5-1.3h0m-.8 1.3h0m-2-.5h0m-9.3 0h0m-.1 .7h0m-26-1.2h0m23.5 5h0m2.6-.8h0m2.7-.1h0m.1-.6h0m1.6 1.5h0m3.2-2.2h0m.8 1h0m.3 1.3h0m1.9 .3h0m.2-2.2h0m29.7 .6h0m1.7-.7h0m1-.3h0m2.1-.3h0m4.2 2.9h0m2.2-1.8h0m2 .4h0m2.3-.3h0m0 3.7h0m-4.7 .3h0m-1.2-2.2h0m-.7 2.9h0m-.6-.3h0m-2.8-1.1h0m-35.1 0h0m0 .9h0m-.4-1h0m-2.2-.7h0m-.2 1.8h0m-.1-2.1h0m-.6 .4h0m-2 2.1h0m-.7-2.9h0m-1.1 .5h0m-1.7 .7h0m-21.8-.1h0m21.3 2.9h0m1.4 1.6h0m1 .3h0m3.6-.3h0m.1-2.4h0m1 1.4h0m2.5-1.3h0m36.3 1.9h0m.7-1h0m.3-.2h0m.1-.7h0m.1 1h0m3.5-1h0m0 2.1h0m.9-.7h0m.5-.1h0m.7-1.2h0m-4.7 5.1h0m-.3 .3h0m-.7 .1h0m-1.4-2.9h0m-.1 2.9h0m-.7-1.6h0m-2.4 .6h0m-38.5-1.8h0m-.2 .4h0m0 .6h0m-2.8-1.1h0m-24.4 1.5h0m17.3 2h0m14.6 .1h0m37.6 1.2h0m1.8-.1h0m-31.1 1.7h0m-20.6 .2h0m-.4 1.6h0m-1 .6h0m-.6-2h0m-.7-.6h0m3.8 4.6h0m7.6-1.7h0m16.4 .3h0m1.7 1.8h0m3.5 3.2h0m-28.2-1.2h0m-6.2 .4h0m-.8 .5h0m-1.5 3.8h0m.4-.9h0m.2-.4h0m.4-1.5h0m.3 2.8h0m.6-2.8h0m.6 2.4h0m8.4-1.5h0m2.8 .3h0m-11.2 2.3h0m-.1 1.3h0m-1.1 .5h0m-.5-1.1h0m-.2-1h0m-.8 2.4h0m-1.8 0h0m-1 .9h0m1.3 2.3h0m3.1-.7h0m56.2 1.1h0m-25.7 2.3h0m-12.9-2.4h0m-16.2 1.5h0m-.5 1.2h0m-.6-.5h0m-1.4-1.2h0m-.8-.9h0m-.6 1.2h0m-1.4 .5h0m-.7 1.8h0m.2-.6h0m.3 1.4h0m.4 .3h0m0 0h0m.9 .2h0m.6 .2h0m.2-1.1h0m.5 1.2h0m.7 .1h0m3.7-.5h0m21.4-1.8h0m5.5 2.9h0m-5.1 .1h0m-21.1 2.5h0m-1-1.5h0m-1.7 1.4h0m-1.7-1.3h0m-1.1 1.6h0m-.9-1.3h0m-.1 2.3h0m.5 1h0m3.8 .2h0m.3 .3h0m.3-2.1h0m.2 2h0m1-.3h0m1.1-.7h0m1.2 .7h0m.1-1.6h0m5.6 1.7h0m18.5-.9h0m-7.6 2.3h0m-10.7 1.2h0m-4.4 .5h0m-.9-1.6h0m-4.2 .7h0m-.7 1.7h0m1 2.2h0m1 .2h0m1.5-2.2h0m1.1 1h0m0 1.4h0m.9-1.1h0m.8 0h0m14.9-1h0m2.2 5.2h0m-.2-2.7h0m-9.6 1.3h0m-.1-1.1h0m-2.6 1.5h0m0-1h0m-.5 1h0m-1.3-1.2h0m-1.7 .8h0m-.3-.5h0m-.7-.6h0m-1.8 .6h0m-1.9 3.2h0m2.3-.6h0m.4 2.1h0m3.1-2.4h0m3.1 .3h0m7.8 1.4h0m8.6-.5h0" stroke="#4dbcc6" stroke-width="1.52" stroke-linecap="round" fill="none"/>
<path d="M250 170.8h0m.7-.4h0m.7-1.2h0m0 .8h0m2.8 0h0m3.8 1.5h0m-2.2 .5h0m-5.2 1.7h0m-1.9-1.3h0m-.1-1.2h0m-2.2 2.1h0m-.5-.6h0m-4.8 .5h0m-.9 .9h0m4.9 .3h0m4.1 1.5h0m1.5 .9h0m.6-.9h0m2-.6h0m3.5 .4h0m.2 .5h0m-1.1 1.1h0m-.8 2.3h0m-3-2.6h0m-1.9 1.6h0m-3.8 .2h0m-.2-.8h0m-.4-1h0m-.9 2.8h0m-.7-1.9h0m-6.9 .4h0m-18.6 2.1h0m.4 2.5h0m14.9-.9h0m1.2-1.7h0m.2 1.4h0m1.2-.4h0m1.5-1.3h0m1.8 .2h0m2.9 1.1h0m.9 .1h0m.1-.3h0m2.3-.8h0m.4 1.6h0m.1 1h0m.6-.8h0m3.7 .2h0m.5 .6h0m1-1.3h0m.5 .5h0m1.5 .5h0m1.6-2.2h0m.5 2h0m10.8-1.6h0m6.5 3.5h0m-3.8 .7h0m-15.4 0h0m-2.5-.6h0m-1-.9h0m-2.1 .8h0m-1.4 .3h0m-1.1 .6h0m-4.4 0h0m-.6-1.7h0m-1.6 1.1h0m-.5-.4h0m-1.7-1.1h0m-1.2 1.1h0m-1.4 .9h0m-.2-1.8h0m-.8-.2h0m-.8 0h0m-12.6 2h0m-.3-1.7h0m-.2-.2h0m-1.9 4.2h0m4.7 .8h0m0-.2h0m.2-1.4h0m7.7 .9h0m.3-1.4h0m1.4 2.6h0m.6 .1h0m1.9-2.3h0m1.6 2.1h0m2.9-1.3h0m6.6-.8h0m2.6 2.2h0m.3-.9h0m.1-.7h0m2.8 1.5h0m.1-1.6h0m.5-.2h0m1.7 1.6h0m.6 .3h0m.7-.9h0m.2-1.5h0m3.7 1.2h0m10.5-.8h0m0-.6h0m2.1 3h0m-5.2 .8h0m-11.3 1.3h0m-1.1-.2h0m-3.3-1.6h0m-.1-.3h0m-.8 .2h0m-.6 .1h0m-1.1 1.8h0m-.2-.6h0m-11.6-1.6h0m-.9 1.6h0m-2.4 1h0m-.2-1.7h0m-1.4 .7h0m-1.5-1.2h0m-6.8 1.8h0m-.5-1.1h0m-3.6 1h0m-1.2-2.1h0m-.1 .6h0m-.5-.2h0m-.8 .1h0m-2.5 2.7h0m14.6 2.4h0m.5-1.7h0m.3 1.3h0m.3-.9h0m.2-.3h0m2.3 .4h0m.1 1.4h0m1.9-.2h0m1.2 0h0m1.8-2.3h0m.4 1.2h0m8 .7h0m4.4 .1h0m.6-1.1h0m.4-1h0m2 .7h0m2.8 1.3h0m.3 .1h0m3.9 0h0m22.4 .5h0m.8 1h0m-1.7 2h0m-.1-.7h0m-1.5-.5h0m-6.2-.6h0m-11.1 .7h0m-2.2 1h0m-.3 0h0m-1.8-2.1h0m-.1 1.9h0m-.8-1.1h0m0 .7h0m-1.9-.4h0m-.1 .2h0m-.3 .6h0m-.2-1h0m-.2 .9h0m-.2-1.7h0m-.5 .8h0m-1.1 .7h0m-1.1-1.1h0m-.2-.8h0m-1 1.3h0m-.4-.1h0m-1.3-1h0m-7.6 1.7h0m-2.1-.2h0m0 .4h0m-.6-1.9h0m-.5 1.3h0m-.9-1.5h0m-1.9 1h0m-.4-1.1h0m-.4 1.1h0m-1.4 .5h0m0-.1h0m-5.1-1.5h0m-7.7 2.2h0m-3.5-1.5h0m-.2-.2h0m-1.9 .5h0m-.2 .1h0m16.7 2.2h0m.5 .1h0m.8-.2h0m.8 .8h0m.2-.8h0m.5 1.5h0m1.6-.4h0m2.7 1.3h0m.7-2.1h0m1.1 .8h0m.2-.4h0m0 1.3h0m.1-.4h0m9.9-2h0m4.2 1.1h0m.4-.6h0m1.3 1.1h0m3.1-.5h0m.4 .7h0m.4-1.8h0m.7 .8h0m0-.7h0m.1 1.1h0m3-.6h0m1.1-.1h0m1.7 .7h0m.2-.5h0m14.9 .4h0m-11.1 3.9h0m-3.7 .5h0m-2.3-2h0m-.3 1h0m-1.5 1.4h0m-.9-.9h0m-2 .7h0m-.8-2.7h0m-.3 2.2h0m-.3-.9h0m-1.3-.7h0m-2.3 1.3h0m-.7-1.6h0m-.9 1.6h0m-13.1-.1h0m-1.2-.2h0m-.6-.3h0m-.1 0h0m-3.3 1.5h0m-.1 .1h0m-19.8 1.6h0m1.1-.5h0m.5 .9h0m14.4-.6h0m.9 0h0m0-1.1h0m.7 2.5h0m2.3-1.5h0m1-.3h0m.6 1.1h0m2.7-1.8h0m.3 1.1h0m.2 .1h0m3.2 .2h0m6.4 .2h0m4.2-1h0m.6 1h0m1-.6h0m.3 .6h0m.9 .1h0m.1-.2h0m.6-.6h0m.1 .2h0m.4-.3h0m.6-.1h0m3.9 .5h0m1.1 .7h0m.5 0h0m.6-2.1h0m.5 .1h0m.4 2.1h0m.6 0h0m.3-1.8h0m.5 1.2h0m.4-1.2h0m.8 2.5h0m1.3-2.2h0m.6 .7h0m1.8 .6h0m.1-1.8h0m.4-.1h0m.8 2.7h0m3.2-.2h0m12.4-.9h0m2.8-.4h0m-3.5 3.1h0m-4-.8h0m-.4 2.3h0m-5.3-.7h0m-2.2-.5h0m-.2 1h0m-1.8-1.8h0m-1.1-.7h0m-2 .2h0m-1.2 1.4h0m-2.8 .7h0m-1.6-1.6h0m-1.4 2h0m-2.3-.1h0m-.7 0h0m-1.4-.1h0m-.2-.2h0m-2-2.2h0m-.9 2h0m-20.1 .1h0m-.6-1.6h0m-2.8-.6h0m-.6 .9h0m-5.6 .4h0m-2.5-.2h0m-2.9 1h0m-1.1-.3h0m-2.5-1.5h0m-.2 2.4h0m-1.7-.3h0m-3.3-1.2h0m-2.9-1.2h0m-.5 2.8h0m3.5 1.4h0m3.1 .2h0m1.8 .2h0m1.7 .9h0m1.5-2.2h0m12.2 .8h0m5.2-.5h0m.8-.6h0m3.3 1.2h0m8.1-.8h0m4.8 .2h0m.2 1.4h0m2-1.5h0m1.1 .6h0m.4 1.4h0m.1 0h0m1-1.6h0m.7-.5h0m.5 2.3h0m.6-2.3h0m.9 .2h0m.1 .2h0m.7-.6h0m1.9-.3h0m1 .7h0m.1-.2h0m.3-.6h0m.4 .1h0m2.9 1h0m.4-.6h0m2.8 .5h0m0-.7h0m1.8 1.3h0m1.9-1h0m.5 0h0m2.5 2.2h0m0-2.7h0m.7 1.8h0m.3 .8h0m3.6-.2h0m9.5-.5h0m-5.5 3.5h0m-4.3-2.5h0m-1.9 .9h0m-.9 .4h0m-3-1.3h0m-.4 2h0m-1.3 .1h0m-.3-1h0m-.7-.1h0m-.9-1h0m-1 1h0m-1.1-.8h0m-.4 1.7h0m-3.5-.3h0m-.8 .4h0m-.5-1.9h0m-1.9 2.7h0m-.4-1.3h0m-.5-1.1h0m-.2 1h0m-1.2-.7h0m-1 .8h0m-.5 1.1h0m-.9-.9h0m-1.2-1.7h0m-.1 2.6h0m-1.1-2.1h0m-2.3 .4h0m-2.3 1.3h0m-.8 .2h0m-13.4-.4h0m-.8-.7h0m-.6-1.2h0m-.2 1.7h0m-.9-1.3h0m-17 1.9h0m-.1 .4h0m-.6-2.6h0m-.8 1.5h0m-.8 .7h0m-1.3-.3h0m-2.6 .4h0m-1.9-.6h0m-1.1 3.3h0m3.3 .1h0m1 .2h0m.5-1.2h0m2.8-.5h0m2.2 1h0m.2-1.4h0m.9 1h0m1.9 .9h0m1.4-1.2h0m9.7 .6h0m3 .8h0m.3-1.1h0m9.5-.2h0m3.8 1.1h0m.8-1.1h0m.2 .2h0m1 .1h0m.1-1.1h0m1.8 0h0m1.1-.2h0m.8 2.6h0m.2-.9h0m1.5-1.7h0m.1 2.6h0m.4-1.3h0m7.1-1.1h0m.3 1.2h0m1.3-1.2h0m0 .5h0m1.7 1.2h0m.2-1.6h0m.1 2.2h0m.7-.9h0m.9 1h0m2.8-2.3h0m.7 .4h0m2.1 .8h0m.3 .8h0m.2-.4h0m.2-.3h0m0-.6h0m4.2-1.1h0m2.6 1.6h0m5.7 .8h0m-6.3 1.5h0m-.4 .5h0m-1.4-.6h0m-3.1 1.8h0m-.1 .2h0m-.4-.9h0m-.6-.8h0m-2.1-.2h0m-1.5 .7h0m-3.3-.8h0m-1.7 .9h0m-1.3 .5h0m-1.7-2.3h0m-1 1.2h0m-1.2 1.2h0m-8.4-.9h0m-6.6 .8h0m-1.4 .4h0m-.5-1h0m-1.4 1h0m-1.2-1.2h0m-5.7-1.2h0m-4.7 .8h0m-1.8 .7h0m-9.3 .2h0m-2.1-.3h0m-3-1.1h0m0 1.9h0m-1.8-1.4h0m-.4-.8h0m-.2 2.6h0m-.8-1.8h0m-2 0h0m-.2 .3h0m-1.3 .9h0m1.2 3.3h0m1.3-1.5h0m1.5 1.3h0m1.2-.9h0m1.6 .5h0m4.1-2h0m.5 .7h0m.7-.4h0m1.3 2.3h0m10.6-2h0m2.9-.1h0m5.8 .6h0m0-.5h0m4.8 .5h0m.6-.3h0m4.3 .8h0m.7 1.2h0m.2-1.5h0m1.2 1h0m.1-.4h0m2-.6h0m1.6 .1h0m.1 .1h0m1.1 .1h0m1.6 .4h0m.6-.4h0m.5-.6h0m1.2 .8h0m.2-.6h0m.3 1.2h0m1.5-2.3h0m2.9 1.9h0m.3-.5h0m2.8-.2h0m1.8-1h0m1.2 2.1h0m2.7 .3h0m.4 .2h0m2.6-2.2h0m.6 .7h0m4.6 1.4h0m1.7-.6h0m-1.5 1.5h0m-.1-.7h0m-.7 .9h0m-.5 .9h0m-.4 1.1h0m-1-2.3h0m-1.4 1.4h0m-2 .3h0m-.1-.2h0m-1.7-1.7h0m-.7 2.5h0m-1.7-.4h0m-1.3 .3h0m-.3-.6h0m-.2-1.8h0m-.1 2.3h0m-1.2-1.3h0m-.6 .9h0m-.8-1.8h0m-.4-.2h0m-.8 .3h0m-2.3 .5h0m-.5 0h0m-4.8 1.6h0m-.7-1.8h0m-1.1 1.3h0m-2.8-.3h0m-2.2-1h0m-.3 .6h0m-3.3-1h0m-.8 .7h0m-1.2-.3h0m-2.6 2h0m-.9-1.3h0m-3.4 .4h0m-2.7-1.6h0m-9.1 1.3h0m-10.4 .6h0m-3.5 .5h0m-.9-2.5h0m-.8-.1h0m-.5 1.6h0m-3.3 0h0m-.5-.6h0m2.8 3.8h0m1.7-1.8h0m1.5 1.3h0m.6 .5h0m2.3 .2h0m.1-.3h0m.1-.9h0m11.9-.3h0m8.2-.2h0m1.1 .6h0m2.9 0h0m2.9-.3h0m3.1 0h0m.8 1.4h0m.2-1.2h0m.8 .6h0m1.5-.1h0m3.5 1.4h0m1.7-.4h0m4-1.7h0m1.3 1.3h0m.7-.3h0m.4 .1h0m.4 .5h0m.5 .3h0m1.3-2.7h0m1.5 1.5h0m.5-.9h0m.8 .6h0m2.7 1h0m4 .1h0m2.1-.3h0m.8-1.9h0m.9 .9h0m1.6 1.2h0m0 .3h0m.4 .4h0m.2 0h0m.4-1.9h0m2.5-.5h0m.8-.5h0m.1 1.8h0m-7.6 3.7h0m-1.7-1.7h0m-1.2 1.3h0m-1.4-1.6h0m-.1 1.7h0m-.6-.4h0m-.3-1.7h0m0 2.6h0m-1.4-.6h0m-.3-1.7h0m-.4 2h0m-.8-1.4h0m-.1-.9h0m-.1 .1h0m-1.2 1.6h0m-1.9-.7h0m-1.3-.4h0m-.1 1.3h0m-.1-1h0m-1.1 1.1h0m-.1-1.7h0m-1.6 2.3h0m-.8-.8h0m-.2-.4h0m-.4 0h0m-.4-.4h0m-.1 0h0m-.7 0h0m-.8 0h0m-.9 .9h0m-.4-1.2h0m-1.4 .7h0m-1.1-.2h0m-1.3-1.1h0m-.6 2.1h0m-.5-1.5h0m-1.1-.5h0m-2 1.6h0m-.7-1.6h0m-.8 .6h0m-.9 .6h0m-.7 .6h0m-1.9-.4h0m-.8 .1h0m-2-.3h0m-.8 .2h0m-1.5 .1h0m0-.1h0m-.7-1.6h0m-1 1.2h0m-.4 1.4h0m-14.6 .1h0m-5.3-1.9h0m-1.6 1.5h0m-.7-2.1h0m-.9-.1h0m-.4 2.4h0m14.7 1.9h0m1.3 1h0m.8-1.2h0m.1 .6h0m1.7 .2h0m6.4 .6h0m1 0h0m.2-1.9h0m1.1 2.1h0m0-.9h0m.1-2h0m3.6 2.2h0m2.5 .5h0m.3-1.1h0m1.3 .1h0m1.4-.5h0m0 1h0m.2-.5h0m.5 .1h0m2.5-1h0m3.1-.1h0m.7 1.5h0m.1-.2h0m1.2-1.4h0m3.5-.2h0m4.5 1.8h0m2.1-.8h0m.6 1.2h0m1.2-2.2h0m3.9 .5h0m1.2-.3h0m11.2 2.2h0m3.3-1.4h0m1.6 .9h0m.3-.1h0m.1 1.8h0m-.6 .9h0m-.1-1h0m-.6 .1h0m-2.1-.6h0m-.9-.2h0m-5.9 2.5h0m-9.2-2.6h0m0 .2h0m-3.4 .4h0m-3 1.6h0m-5-1.2h0m-1.3-1.1h0m-5.3 .6h0m-.8 .8h0m-1.1 .6h0m-.3-.1h0m-1.2 0h0m-1.3 .6h0m-.3-.2h0m-.2-1.5h0m-.1-.2h0m-1.1-.5h0m-.8 1.9h0m-1.4-.6h0m-1.3-1h0m-.4 1.1h0m-1-1.1h0m-1.4 .1h0m-.8 2.4h0m-1-1.7h0m-.4-.5h0m-.4 1.7h0m-9.7-.5h0m-2.6 1h0m2.3 1.7h0m13 1.1h0m.1-1.4h0m.6-1.3h0m.8 2.2h0m1.4 .3h0m.8-.7h0m1.4 .2h0m3.6-1h0m6.8 1h0m.4 .8h0m.4 0h0m1.5-.9h0m1.5-.7h0m24.3 1.1h0m.2-.4h0m2-.4h0m1.6-.4h0m-22.5 2.7h0m-3.2 1.6h0m-.8 .4h0m-.8-.5h0m-1.4-1.7h0m-2.1 2.3h0m-.2-.2h0m-1.6-2.6h0m-.1 .8h0m-6.5-.1h0m-2.5 1.3h0m-.2 .3h0m-.8-1.2h0m-3.4-.6h0m-1.1 1.6h0m-.4-.5h0m-1-.6h0m-.2 .5h0m-8.7-1.1h0m-2.6 4.2h0m2.8-.1h0m10.3 .9h0m3.7-2.1h0m.1 2.1h0m2.2-.7h0m.4-.1h0m.3-1.6h0m4.7 .5h0m2.2 1.7h0m.3-.7h0m.4-.3h0m.8 1.6h0m3.4-2.9h0m3.5 2.6h0m24-2.6h0m-25.4 4.8h0m-.5 .6h0m-1-.1h0m-2.3-1.9h0m-.8 2.4h0m-3.1-.9h0m-.6 .8h0m-.3-2h0m-.2 .7h0m-1.5-1.3h0m-.2 2.1h0m-.3-.2h0m-2.5 .2h0m-.7 0h0m-2 .6h0m-.2-1.8h0m-.1 .2h0m-.2 1.1h0m-.3-.7h0m-.4 .3h0m-.4 1h0m-.9-.9h0m0-1.7h0m-16.9 3h0m6.3-.2h0m.8 1.8h0m.3-.7h0m.4-1.2h0m.6 .2h0m10.5 1.4h0m3.6 .8h0m1.6-1.6h0m1.4 1.4h0m.8-.3h0m3.4 .2h0m1.9-.1h0m.6-.5h0m.9-.7h0m3 1.1h0m.9-.3h0m.4-.7h0m-1.4 5h0m-1.1-.4h0m-.2-1.8h0m-1.4 1.6h0m-1.4-.7h0m-1.5-.4h0m-5.2 1.1h0m-1.3-1.4h0m-.3 1.7h0m-.7-1.4h0m-.6 .2h0m-7.1 1h0m-1.4-1.5h0m-3.3 .3h0m-.5 .2h0m-1.1 .6h0m-.6-1.8h0m-.4-.1h0m-3.7 .4h0m-.2 1.7h0m-.6-.5h0m-.4 .9h0m-.6-1.1h0m2.6 3.3h0m3.2 .7h0m11.7-.8h0m1.1 1.1h0m4.3-1.5h0m2.2 .8h0m.5-1.2h0m2.5-.9h0m0 .2h0m.1 1.9h0m0-1.2h0m1.7 1.1h0m.4-.4h0m1.8-.9h0m.7-.6h0m1.2 2h0m.6-1.6h0m-1.4 3.5h0m-.4 .5h0m-1.2-.6h0m-1.1-.5h0m-1.2 1h0m-.3-.9h0m0-.3h0m-1.3 .5h0m-.6-.2h0m-1.7 1.2h0m-.7-.8h0m-.5 .9h0m0-.1h0m-1.2-.5h0m-2.1 1.7h0m-2.7-2.9h0m-6.1 2h0m-2.7-1h0m-.4 .2h0m-2.6 .7h0m-.3-.6h0m-2-1.1h0m-1.7 .1h0m-3.1 0h0m9.3 2.9h0m2.6 .5h0m.2 1.6h0m2.6-2.2h0m13.4 2.1h0m.8 .4h0m.1-1h0m.5 .1h0m0 .7h0m1.3-2h0m.1 1.3h0m.8-1.6h0m2.4 0h0m.9 0h0m-9.1 3.9h0m-.6-.6h0m-12.9 2.4h0" stroke="#e47068" stroke-width="1.52" stroke-linecap="round" fill="none"/>
<path d="M251.3 167.9h0m-1.5 2.6h0m1.6-1.3h0m5 4.5h0m-.8-1.6h0m-2.2 1.7h0m-2.8-.6h0m-2.9-.1h0m-.4 .8h0m-8.5 2.7h0m1.7-.9h0m.2-.4h0m2.4-.7h0m2.8 .5h0m2.5 1.6h0m.2-.1h0m1.5-2.2h0m.2 1.5h0m.7-1.8h0m1.1 1.6h0m4.7 1.1h0m-7.7 2h0m-.5-1.3h0m-.8-.3h0m-3.4 1.4h0m-.2-1.4h0m-.2 1.7h0m-.3-1.4h0m-1 2.1h0m-.3 .3h0m-1.3-1.4h0m-.5 .4h0m-.3-1.1h0m-3.2 1.7h0m-9.5 .3h0m-10.4 3h0m3.3-2.3h0m13 2.4h0m3.3-2.6h0m1.7 2.1h0m1.3-1.4h0m.3 1.8h0m2.1-2.2h0m.1-.1h0m.3 .4h0m.2 1.8h0m1-.5h0m1 .3h0m.7 .3h0m1-1.5h0m4.4-.6h0m2.1 1.7h0m2.1-1.4h0m1.3 .3h0m.1 0h0m2.5 1.5h0m8.7 1.8h0m-10.3-.5h0m-2 .1h0m0-1h0m-.8 .7h0m-2.3 1.2h0m-.8 .3h0m-1-.1h0m-.4-1.9h0m-5.5-.3h0m-2.1 1.8h0m-.1-1.9h0m-3 .9h0m-8-.4h0m-11.3 .6h0m-.4-.2h0m-.1 .8h0m-1.3-.1h0m-1.4 3.8h0m5.9-2.2h0m.1 1.2h0m.9 1.3h0m6.9-2.3h0m0 2.3h0m.6-2h0m1.8 1.1h0m1 .4h0m.2-1.7h0m3.2 1.4h0m.7-.5h0m.6 1.2h0m.7-2.5h0m.8 2.1h0m.1-.9h0m9.1-1h0m4.5 .9h0m.1-1.2h0m.2 1.2h0m1.2 1.2h0m.3 0h0m15.2 .2h0m1.3 1.7h0m-3.8-.2h0m-2.6-.1h0m-.9-.2h0m-2-.2h0m-5.4 2h0m-.6-1.6h0m-3.7-.7h0m-2 1h0m-4.7 1.1h0m-7.8-2.2h0m-1.6 2.2h0m-.3 .3h0m-.7-1.4h0m-1.9-.9h0m-1.5 .5h0m-.4 .4h0m-2.4 .8h0m-.2-1.1h0m-11.4-.5h0m0 0h0m-.4 0h0m-.7 .9h0m-.7 0h0m-.2 1.1h0m.4 .7h0m9.3 1h0m3.5-.3h0m1-.5h0m.1 1.8h0m1.3-1.7h0m1.8 1h0m1 .5h0m0 .4h0m1.9-1.4h0m.1 1.2h0m12.8-.3h0m1 .2h0m.4-.9h0m.2 1.2h0m3.8-2.2h0m.9 1.4h0m2.8-1h0m4.1 2h0m10.2-.3h0m4.7-.7h0m-.8 2.5h0m-.8 .8h0m-10.1 1h0m-2.7-2h0m-4 .4h0m-.2 1.1h0m-4.3-1.6h0m-.9 1.4h0m-1-1.1h0m-.5-.1h0m-.1 .5h0m-1.4-.9h0m-1.5-.3h0m-1.5 .3h0m-16-.1h0m-2.6-.5h0m-10.8 2.1h0m-2.1-1.5h0m-.5 2.3h0m1.8 .1h0m11.6 0h0m1 1.2h0m2.6 1.4h0m1.3-1.2h0m4.7 1.2h0m0-.4h0m.6-.3h0m.9-.3h0m12.6-.9h0m3.1 .9h0m1.4 .5h0m3 .3h0m1.5-.7h0m.2-1.5h0m1.5 2.3h0m0-1.2h0m3.3-.1h0m1 .8h0m.1 0h0m1.1 .4h0m1.6-.3h0m4.3-.6h0m1.2 .9h0m.6-2.1h0m2.3 .9h0m.5 .6h0m3.1-.2h0m.4-1.4h0m1.1 2.3h0m-6.4 2.7h0m-2.8 .7h0m-1.9-1.5h0m-.9-.4h0m-.4 1.5h0m-3.7-1.4h0m-1.7-.8h0m-1.8 1.3h0m-2.5 .2h0m-2.3 0h0m-.6 .9h0m-.4-.1h0m0-1.1h0m-.9 .9h0m-1.4-.9h0m-.6-.7h0m-.2 .5h0m-.4 1.1h0m-.3-1.9h0m-.5 2.2h0m-6-1.4h0m-8.2 1h0m-.2-.1h0m-1.7-.5h0m-3.7-.1h0m-4.2-.4h0m-1.9 1.5h0m-17 1.3h0m7.8 1.9h0m.8-.7h0m4.1 .3h0m6.9 .3h0m2.8-1h0m2.8-.5h0m.2 .9h0m1.4 0h0m.2-1.9h0m.9 1.6h0m5.2-.8h0m1.8-.3h0m8.3 2.1h0m.7-2.3h0m.6 1.7h0m4.2-.9h0m.5-.9h0m.8 1.5h0m.8 .8h0m.8-1.6h0m4.6 .3h0m.1-.4h0m.2 .9h0m1.9 .5h0m.6-1.1h0m.6-.3h0m.4 .2h0m2.8 .2h0m.5-.5h0m.9 .6h0m.3 .7h0m15.7-.5h0m-2.4 3.2h0m-.7-.3h0m-9 .9h0m-1.4-.8h0m-.9-.6h0m-.7 .1h0m-2.4-.8h0m-2 .1h0m-2.2 0h0m-.7 2.3h0m-1.4-.4h0m-.3-2.4h0m-1.5 2.4h0m-1-2h0m-.6 .8h0m-2.5-.6h0m-2.5 1.5h0m0-.1h0m0-1.5h0m-1-.4h0m0 1.4h0m0-.3h0m-1.2 .3h0m-1.1-.3h0m-1-.9h0m-.8 1.8h0m-4.9 0h0m-11.3 .6h0m-8.3-2.1h0m-8.3 1.8h0m-3.4 .1h0m-2.1 .1h0m-.1-1.7h0m-.9 .4h0m-1.5 .7h0m-1.2-.5h0m3.5 4.3h0m.7-1.9h0m.7 1.3h0m1.3-.4h0m0-.6h0m.5-.2h0m.5 .6h0m1.2 1.1h0m2.6-2.4h0m7.5 .5h0m.5-.7h0m.5 1.3h0m1.9 0h0m.3-.8h0m0 .8h0m.9 .7h0m3.3-.8h0m17.9-1.4h0m.2 .9h0m1.6 .7h0m.2-.4h0m.1 .4h0m.4-.2h0m0 .3h0m.5-1.5h0m1.9 1.5h0m2.1-1.5h0m0 1.5h0m3.5 .6h0m1.4-2h0m.2 .8h0m1.5-.4h0m.8 1.7h0m0-1.1h0m.8 .5h0m1.6 .6h0m.9 .4h0m.4-.7h0m4-.2h0m.5 .8h0m.6-1.3h0m2.4 1.2h0m4.8-.8h0m8.1 1.1h0m-9.3 1.8h0m-3.7-1.2h0m-.6 2.1h0m-1.1-2.6h0m-3.9 1.6h0m-2.4-1.6h0m-2.9 2.7h0m-.2-1.3h0m-.2-1.1h0m-.7 2.2h0m-2.2-2h0m-.3 2h0m-.8-.9h0m-.3-1.3h0m-2.9 1.8h0m-.6 .2h0m-1.3-1.8h0m-.2-.5h0m-.1 2.9h0m-1.6-2h0m-.1 1.6h0m-1.2-.4h0m-.1 .6h0m-1.1-2.7h0m-4 0h0m-4.9 2h0m-10.9 .5h0m-6-.8h0m-.7-1.7h0m-2.8 .8h0m-3 1.5h0m-2.9-1.3h0m-1.4-.4h0m-.3 2.1h0m0-.8h0m-2.2 .2h0m-3.2 .8h0m-1.4 2.8h0m.4-.1h0m.6-2.3h0m1 2.2h0m3.1 .2h0m2.4-.6h0m0 .1h0m2.3-1.4h0m9.3 2.1h0m4.7-1h0m1.2-1.4h0m.1-.1h0m.9 .2h0m1.3 .6h0m5.5-1.2h0m5 .1h0m3.8 1.8h0m1.1-1.2h0m.8-.5h0m.2 2.2h0m.8-1.8h0m.4-.4h0m.2 1.6h0m1.2 0h0m.1-1.3h0m.8-.3h0m.3 2.5h0m.4-1.1h0m.3-.8h0m1.3 .6h0m.2 .3h0m.6-.6h0m.6 .3h0m2.2 1.1h0m1.6-2.4h0m1.3 1.6h0m.5-1.4h0m.2-.3h0m.5 .3h0m.9 .2h0m2 .5h0m1-.6h0m.9 1h0m1 .3h0m.1-.9h0m.2 1.2h0m.6-.4h0m.1 1.2h0m2.3-1.3h0m5.1 1.3h0m5.1-2.6h0m2.2 4.5h0m-8-.2h0m-2.6-1.4h0m-.7 .4h0m-2.6 0h0m-.6-.5h0m-.4 1.8h0m-.1-.5h0m-1.3 .2h0m-2.7 0h0m-.2-.1h0m0 .3h0m-1.8-1.2h0m-.6 1.4h0m-.6-1.5h0m-2.5 2h0m-3.8-1.8h0m-1.4 .1h0m-1.3 1.2h0m-.1-1.6h0m-.2 2h0m-.3-.8h0m-4.3-1.4h0m-.1 .4h0m0 .2h0m-.4-.2h0m-.1 1.3h0m0-.8h0m-.1 1.1h0m-1.5-1.9h0m-1 .9h0m-4 .2h0m-2.3 1h0m-4.7-.1h0m-2-1.8h0m-2.4 1.7h0m-.3-1.6h0m-15.9-.5h0m-2.7 1.2h0m-1.2 .2h0m-1.4 .8h0m-1.9 0h0m-1-1.6h0m-.7 1.3h0m-2.5-.2h0m4.4 2.7h0m.7 1h0m.3-2.4h0m.4 2.5h0m1 .1h0m.5-1.1h0m.3 .7h0m1.5-1.8h0m1.2-.3h0m.6 2.2h0m0-1.1h0m.2-.1h0m1.2 .4h0m13.9 1.1h0m1.3-1.5h0m2.1-.9h0m4.3 1.9h0m1.7 0h0m.1-.9h0m1.9 .2h0m.4 1h0m.5-.6h0m1.6-1.8h0m1.2 1h0m2.4 1.4h0m1.3 .1h0m2.3-.8h0m.2 .9h0m5.2-1h0m1-.9h0m3-.3h0m.1 1.8h0m.1 .4h0m2.2-1.3h0m.6 0h0m0-.8h0m.8-.1h0m1.2 1.3h0m.9-.5h0m1-.6h0m1.9 2.3h0m1.1-2.1h0m.5 1h0m1.8-1.7h0m1.1 2.7h0m2.8-2h0m.7 1.8h0m1-2h0m4.7 2.1h0m.4-2.3h0m.3 .3h0m.1-.7h0m.3 2.7h0m-4.6 1h0m-.6 0h0m0 .5h0m-.6-.5h0m-.2 .4h0m0-.8h0m-.2 1.4h0m-.7 .1h0m-.2-.4h0m-.8 .7h0m-2.1-2.1h0m-1.7 2h0m-2.8 0h0m-1.1-1h0m-.3-.7h0m-.1-.2h0m-1 .3h0m-1.4 1.5h0m-.1-.2h0m-.1-1.1h0m-.7 2h0m-.8 .1h0m-.5-1.7h0m-1.7 .3h0m-.5 0h0m-1 .1h0m-2 .9h0m-1.1-.7h0m-1.4-.1h0m-.5 .2h0m-6.4-1h0m-1.4 1.3h0m-4 .4h0m-2.2 .1h0m-1.9 .1h0m-2.8-1.2h0m-20 .1h0m-.9 1.4h0m-.6-.5h0m-.7 .1h0m-2-.3h0m-2-2h0m-.6 2.3h0m-.7 .2h0m-1-2.2h0m-1.3 .6h0m-.4-.6h0m.6 3.6h0m.7-.8h0m2.3 .7h0m.7 1.2h0m1.1-.1h0m1.7-1.1h0m0 1.9h0m.7-2.6h0m.8 .6h0m.1 .6h0m.2 .4h0m.8-1.8h0m15.2 .4h0m1.1-.5h0m3.2 2.3h0m.5-.5h0m.2-1.4h0m.7 2h0m.8-.1h0m0-1.8h0m1.1-.3h0m.2 1.2h0m2.4 1.5h0m4.8-2.7h0m.7 1.4h0m.4 0h0m2.8-1.2h0m.6 2.1h0m.3-.7h0m3.7-.2h0m1.8-.9h0m1 1.9h0m1.3 0h0m.1-2.5h0m3.3 1.4h0m.5 .7h0m1.8-2.2h0m2.6 2h0m3-.7h0m.1 .6h0m2.3 .4h0m.3 .4h0m.2-.8h0m1-.2h0m.9 .6h0m3.2-1.8h0m3.3 1.3h0m4.7 3.3h0m-5.4-.3h0m-.5 .4h0m-3.3-1.6h0m-1.5 2h0m-1.1-.3h0m-1.5-1.3h0m-1.4 1.3h0m-.9-.2h0m-1.8-.9h0m0-.2h0m-.8 .8h0m-.9 .9h0m-.4-2.7h0m-.4 0h0m0 2h0m-2.5-1.2h0m-.1 0h0m-4.2 2h0m-.9-1h0m-.2 1h0m-1-.3h0m-1.9-1.9h0m-4.3 1.3h0m-1.8-1.3h0m-2.6 1h0m-.2-1.2h0m-.5 1.9h0m-.8-1.2h0m-.1 .9h0m-2-1.7h0m-3 1.3h0m-.1-1.4h0m-1.4 2.4h0m-3.5-2.1h0m-.2 .9h0m-.9 1.3h0m0-1.2h0m-.6 .9h0m0-1.8h0m-4.8 2h0m-16.2-2.3h0m-.2 1.1h0m-.8-.5h0m0 .5h0m-.2-1.2h0m-.8 .3h0m-.7 .6h0m-.1 .1h0m0 .7h0m-1.2-.6h0m-.8 .6h0m19.7 2h0m7.9 1.5h0m.4 .4h0m.1-1.3h0m.9-.3h0m.9-.1h0m1-.1h0m2.2 .7h0m.1 .3h0m1.2-1.1h0m3.4-.2h0m4.4 2.1h0m.4-2.6h0m.1 2.3h0m.9-1.6h0m2-.2h0m1.9 .4h0m1.3-.4h0m.2 .2h0m3.7 1.3h0m.2 .1h0m.2 .2h0m.9-1.6h0m.1-.1h0m.4 1.2h0m1.7-.7h0m.5 .8h0m.7-.5h0m.5 1.2h0m.8-.5h0m1.1-.3h0m2.7-.3h0m.1 .3h0m.9 .9h0m1.2-.5h0m.5-2.1h0m.6 .3h0m.1 0h0m1.7 .3h0m9.6 1.1h0m.8-.2h0m.5-1.3h0m3.4 2h0m-2.6 1.1h0m-.7 1h0m-1.8 1.1h0m-4.2-.2h0m-12.7-2.4h0m-.2 .4h0m-7.5-.4h0m-3.7 .4h0m-4.9 0h0m-5.7 2.3h0m-2.5-.2h0m-7.1-2.3h0m0 1h0m-.2 .5h0m-.2 .7h0m-.3-1.8h0m-5.6-.7h0m-4 1.9h0m.4 3.6h0m4.3-.9h0m6.7-.5h0m.9 1.7h0m5-1.9h0m.3 1.2h0m1-.5h0m.3-1.5h0m2.5 .7h0m.6 1.5h0m.2 0h0m.8-1.7h0m9 .9h0m.6 1h0m21.3-.1h0m2.5-.7h0m.5 .1h0m.8-1.4h0m2.3-.4h0m3.9 .8h0m-28.7 5h0m-3.4 0h0m-2.1-.8h0m-1.1-1.1h0m-.4 1.4h0m-.8-2.1h0m-7.1 1.8h0m-3.4-2h0m-.7 0h0m-1 2.3h0m-1.8-1.2h0m-.2 .1h0m-.3-1h0m-2.6 1.4h0m-12.3 3.3h0m16.2 .4h0m1.6-.3h0m1 .8h0m1.7-.3h0m2.2-1.8h0m.2-.6h0m1.2 1.4h0m7.1 .9h0m.6-.4h0m1.3-1.6h0m.4 1h0m7.2 2.9h0m-2 .9h0m-1.6-1.6h0m-.4 .3h0m-4 1.1h0m-1-1.3h0m-.8 1.1h0m-.2-1.8h0m-.8 2.4h0m-1.6-1.1h0m-.6-.8h0m-.2 1.3h0m-.4-.9h0m-.9 1.7h0m-3.8-1.3h0m-3.6 .1h0m-2.1 1.1h0m-10.7 1.3h0m1.7-.3h0m1.9 2h0m.9-2.3h0m.8 1.6h0m1.1 .3h0m11.4-.2h0m2.6 .9h0m.5-1.6h0m1.7 0h0m.6 .5h0m.4-1.4h0m.9 1.8h0m.7 .8h0m.7-1.3h0m1.9-.1h0m1.4-.6h0m2.5-.4h0m.5 1.8h0m.7 3.2h0m-.4-1h0m-3.6 .4h0m-1.1-1.8h0m-2.4 1.9h0m-3.4 .1h0m-4-.6h0m0-.1h0m-.9 1.2h0m-7.4-.8h0m-.4-.3h0m-1.6 .1h0m-.3 .1h0m-2.9-.7h0m-4.8 .7h0m-1.4-1.6h0m-2 .3h0m2.6 5.2h0m1.8-.9h0m1.3-1.4h0m1.5 1.9h0m1.3-.2h0m.9-1.2h0m2.1-.6h0m4 .3h0m.6 2.1h0m5.9-2h0m.1 2.3h0m.2 0h0m2.1 0h0m.1-2.7h0m0 .5h0m2 .8h0m.2 .6h0m3.7-1.4h0m2.7-.7h0m.9 .1h0m1.4 3.6h0m-.5 1h0m-1.3-.9h0m-.3 1.3h0m-.8-1.2h0m-.9-.7h0m-1.4 1.1h0m-2.3-.6h0m-1.2 .8h0m-.5 1.3h0m-2.1-2.8h0m-4.9 1.1h0m-.3 .5h0m-2.9-.2h0m-1.6 1.3h0m-.3-1.9h0m-2.4 .9h0m-1.9 1h0m-.8-1.1h0m-.8-1.5h0m-3.4 1.5h0m-1.3 .5h0m3.5 1.1h0m2.2 .6h0m1.4 2h0m2.5-1.2h0m1.9-1.4h0m8.2 .3h0m.6 0h0m.2 .2h0m3.4 .3h0m0 1.5h0m2.2-1h0m.1-.5h0m3-.7h0m.3 1.8h0m-17.8 1h0" stroke="#e47068" stroke-width="1.52" stroke-linecap="round" fill="none"/>
<path d="M253.1 169h0m3.5 1.4h0m.1 .7h0m-7.4 2.1h0m-.2 .4h0m.1 2.2h0m.5 .2h0m1.8-.4h0m1 7.1h0m16.6-1.4h0m4 3.9h0m-7.1-2h0m-.7 .7h0m-2.3 2h0m-15.7-.9h0m-8.5-1.3h0m-6.9 4.6h0m31.2-.6h0m.5 .6h0m1.9-.9h0m3.4-1h0m4.4 1.4h0m0-.7h0m1.8 1h0m.2-1.3h0m.3 1.1h0m0 2.1h0m-.1 1.7h0m-.4-1.8h0m-.7 1.3h0m0 0h0m-1.3 .2h0m-1-.1h0m-3.1 .3h0m-.4-1.9h0m-3.5 2.2h0m-2.7-2.8h0m-10.6 1.8h0m-1.2 .6h0m-18.2 2.3h0m.8 .2h0m.1 0h0m10.6 .7h0m1.9-1h0m.2 1.1h0m19-.4h0m2.6-.9h0m1.4 1.4h0m1.7 0h0m1-1h0m.2-.1h0m.9-1.1h0m.1 .1h0m.4 1.3h0m.8 .4h0m.3-.7h0m.1 1h0m1.6-.5h0m3.1-1.9h0m2.7 .9h0m0 .6h0m2.6 .6h0m4.3 3h0m-3.2-1.2h0m-.8-1h0m-1.2 1.3h0m-.4-1h0m-4.5 .2h0m-.6 .1h0m-.7 .7h0m-1.4-1.3h0m-.3-.3h0m0 2.8h0m-1.8-.4h0m-.8-1.6h0m-2.8-.5h0m-.1 1.2h0m-1.7-1.2h0m-.5 .3h0m-.1 .1h0m-8.6 .9h0m-2.4 .6h0m-8.7 .4h0m-.8-.7h0m-.1-.8h0m-.2-.2h0m-.6 .7h0m-3.2-1.1h0m-.6 2h0m-.1-.1h0m-1.3-.6h0m-1.3-.7h0m3.1 2.1h0m.3 1.6h0m.6 .7h0m.2-1.5h0m6.1-.1h0m1.3 1.8h0m17.9-2.7h0m.5 .8h0m1.9-.3h0m1.3-.5h0m.4 1.8h0m.6-1.3h0m.9 .3h0m.2-.7h0m.2 .4h0m3.7 .1h0m3.2 1.4h0m1 .4h0m0-.5h0m.9 1h0m3.5-1.7h0m2.1 1.7h0m2.6 2.8h0m-4.2 0h0m-1.1-1.1h0m-.7 .8h0m-.1 .3h0m-.2-.1h0m-2.4-.4h0m-2.8 .1h0m0-1.3h0m-1 .5h0m-3.4 .4h0m-1.5 .5h0m-.8-1.2h0m-15.9 1.4h0m-5.4-.5h0m-.2 .1h0m-5.3-1.6h0m-1.3 .5h0m-.6-1.1h0m-1.9 1.9h0m-1-1.5h0m-1.3 2.5h0m-.2-2.4h0m-3.3 3.6h0m3.9 .6h0m.1-.7h0m.5 .1h0m.3-.3h0m.7 .6h0m2.1-1.1h0m2.1 2.1h0m.5-2.4h0m.3 1.2h0m1.5 .5h0m3-.7h0m.9 .6h0m.1-1.4h0m24.7 .1h0m.4 1.6h0m.9-1h0m.8 1.6h0m1.8-.9h0m3 .8h0m1.1 .5h0m.9-.2h0m.1-.5h0m.7 .5h0m.8-.4h0m.4-1.6h0m7.4 4.7h0m-2-1.5h0m-.8 .5h0m-1.3-1.4h0m0 2.1h0m-.1 .5h0m-1.3-1.1h0m-.1 .4h0m-3.6 .5h0m-4.1 .5h0m-1.2-1.1h0m-12.8 .7h0m-3.8 .4h0m-11.7-2.9h0m-2.9 1.1h0m-.4 .1h0m-2.7 1.3h0m-.6-2.2h0m-1 1.7h0m-.4 .5h0m-.7-.8h0m-.8-.8h0m-3.1 .8h0m-.4 .4h0m.5 1.8h0m.3 .2h0m.7 .7h0m4-1.2h0m.6 .6h0m3 .8h0m.7 .9h0m1.9-1.3h0m20-.5h0m11.4 .7h0m1.1-1.6h0m.4 1.1h0m.9 .2h0m2 0h0m2.8-.3h0m2.4 1.5h0m1.5-2.4h0m-.8 4.6h0m-2.3-.1h0m-4.8 0h0m-.1 .6h0m-28.2 .2h0m-8.4-1.6h0m-.1 1.8h0m-5-.2h0m-.8-2.5h0m-.1 2.4h0m0-.1h0m-.3-1.6h0m-.6 1.2h0m-.2-1.6h0m-1.3 1.1h0m-.2-1.2h0m-.6-.1h0m-28.4 .2h0m29.5 4.3h0m.8 .9h0m1.6-2.6h0m1.4 2.4h0m.2-.1h0m1.7-1.1h0m1.2-.5h0m0 1.4h0m.4-.7h0m.1 1.5h0m.1-.6h0m0-2.3h0m.2 2h0m36.7 .1h0m.5 .1h0m2.9-2.1h0m.1 .3h0m.5-.3h0m.1-.1h0m1.2 1.5h0m0 .2h0m.8-.4h0m.1-.8h0m.1 1h0m1.1 0h0m.2-.6h0m-3.8 4.7h0m-1.1-1.5h0m-.2-.6h0m-.4 .4h0m-1.3 1.1h0m-2-.9h0m-1.1 1h0m-28.4-1.6h0m-10.3 .3h0m-6 1.9h0m-.9-1.2h0m1.6 1.9h0m1 .7h0m43.2-.5h0m1.8-.1h0m10.2-.4h0m-42.4 3.5h0m-8.7 1.9h0m-4.3-1.2h0m-1.9 1.3h0m-2.9 .3h0m-2.5 2.9h0m1.4-.8h0m3.3-1.3h0m.2-.3h0m1.5 1.1h0m.7-1h0m-6.7 3.4h0m-.5-.7h0m-.1 2.3h0m-.4-.5h0m-1.3-.8h0m-.2 0h0m0 1.5h0m-2.6 1.7h0m1.2-.9h0m1.2 2.2h0m32.1-1.1h0m28.9 1.7h0m-2.2 2.3h0m-45.6-1.6h0m-9.5 0h0m-1 .7h0m-2.9-.2h0m-2.8 1.6h0m1 1.7h0m2.9-1.7h0m.5 2.8h0m14.6-.7h0m39.6 .3h0m1.4 1h0m-24.9 .4h0m-3.6 0h0m-9.3 .7h0m-14.8 1.3h0m-1-.8h0m-1.9-2.1h0m-2.9 2.3h0m-.5 .5h0m-.7-1.2h0m-1.3 .4h0m1.7 2h0m1.5 .4h0m.2-.1h0m.6 .8h0m2.2 .5h0m.4-2.5h0m0 2.7h0m30.1 2.9h0m-7.4-.9h0m-16.9-1.5h0m-1.5 2.4h0m-.8-2h0m-.5-.4h0m-.7 1.8h0m-.8-.2h0m-6.1-1.6h0m3.1 5.2h0m5.3 .1h0m1-1.1h0m.3 .2h0m.4-.9h0m15.8 .4h0m7.8-.2h0m3.9 .7h0m-13.5 3.1h0m-7.2 1h0m-7.2-2.7h0m-3.4 2.8h0m-.1-2.9h0m-.7 2.7h0m-.1 0h0m-1.7-1.6h0m-1.3-1h0m-.3 .7h0m1.8 4.9h0m.3-.4h0m1.6 .4h0m4.7-1.2h0m2.3 .4h0m1.8-1h0m2 1.1h0m.4 2h0m0 0h0m-1.3-.3h0m-.5 2h0m-.2-1.2h0m-1.9-.4h0m-7.3-.4h0m-.3-.5h0m3.9 4.2h0m1-.4h0m.9 .8h0m1.8-.5h0m1.3-.6h0m-2.9 3h0m-.2 1.3h0" stroke="#4dbcc6" stroke-width="1.52" stroke-linecap="round" fill="none"/>
<path d="M253.4 166.2h0m-2.7 4.3h0m.1-.3h0m-.5 2.3h0m-.2-.1h0m-1.4 .6h0m-6 2.6h0m1.7-1.6h0m6.1 1.8h0m1-1.4h0m2.5 1.2h0m1.3 .2h0m1.5 4h0m-3-.7h0m-5.8 .3h0m-10.5 2.7h0m28 0h0m.4-.4h0m.1 .1h0m0 .2h0m.9-1.3h0m.2 .1h0m1.1 .3h0m.2 .7h0m3 .7h0m.1 3.1h0m-2.1-1.9h0m-2.7-.7h0m-.4 0h0m-28.3 5.7h0m2.6-1h0m4.9 .8h0m3.7-.1h0m6.8-1.9h0m8.1 .3h0m0 1h0m.6-1.4h0m4.5-.1h0m1.9 .4h0m1.9 1h0m1.7-.2h0m5.3 1h0m-2.1 1.4h0m-.8-.5h0m-1.8 1.3h0m-.5 .6h0m-2 .2h0m-4.1-.5h0m-.3-2h0m-.8 1.4h0m-.1 .2h0m-9.5 1h0m-23.7-1.5h0m9.6 3h0m12.4 1.5h0m1 0h0m3.9-2.6h0m1.2 1.9h0m2.4-1.3h0m.7 0h0m5.1 1.2h0m3.7-1.3h0m.8 1.1h0m1.1-1.2h0m.1 .4h0m2.3 .1h0m.8 1h0m.8 .5h0m5.8-.2h0m2 1.7h0m-5.8-.8h0m-.8 .3h0m-.2-.3h0m-.2 1.3h0m-3.8 .4h0m-.6 .3h0m-.9-2.1h0m-.2 2.5h0m0-.7h0m-2.4-.9h0m-2.7-.6h0m-.3 .6h0m-1 .7h0m-1-.7h0m-3.6-.3h0m-1.2 1.3h0m-6.2-1.1h0m-9.2 .9h0m-1.4-.1h0m-.7 1.3h0m-.4-.7h0m-.8 .7h0m-.3-.5h0m-1.7-2.1h0m-.4 2.3h0m-1.7-2h0m-11.5-.2h0m-10.1 1.5h0m23.3 1.3h0m.2 2.5h0m.3 0h0m.8-.5h0m0-.7h0m.3-.1h0m2-.5h0m.2 1.2h0m2.7-.5h0m2-1.2h0m.1 1h0m11.7 .6h0m8-.9h0m2.4-.3h0m1.6-.6h0m4.1 2.1h0m.2-1.2h0m1.7-.1h0m.8-.7h0m.4 .6h0m1.7-.8h0m1.2 .2h0m0 1.7h0m.2 .3h0m1.2 .2h0m0-2.1h0m1.4-.1h0m3.7 3.5h0m-1-.6h0m-2 2.7h0m-1.6-.7h0m-.4-.9h0m-.1 1.6h0m-5.4-1.9h0m-2.8 1.4h0m-2-1.6h0m-24.5 1.3h0m-1.3-1.2h0m-2.2 1.4h0m-2-.3h0m-3-1.8h0m-.4 .6h0m-23.6 3.6h0m21.8-.2h0m1.6 .1h0m.6 1.5h0m.8 .1h0m1.7 0h0m2-1.4h0m2.7-.5h0m2.3-.1h0m17.1 1.3h0m7.7-1.8h0m.4 .2h0m1.1 .4h0m3.2 1.4h0m1.9 .2h0m0-1.2h0m3.9-1.1h0m.6 1.9h0m.1-1.9h0m1.6 2h0m.8-2.3h0m1.9 2.4h0m3 2.2h0m-1.2-1.6h0m-2.7 2.7h0m-4.9-1.9h0m-.3 0h0m-2-.5h0m-3.3-.1h0m-.7 1.3h0m-29.2-.9h0m-1.8 1.7h0m-.3-1.8h0m-.2-.1h0m-.7 2.5h0m-.1-1.8h0m-1.1 1.1h0m-2-1.7h0m-.2 .3h0m-.3-.3h0m-.9 1.7h0m-26 3.2h0m22.4-1.5h0m4.3 0h0m7.5-.6h0m0 .2h0m1.1 1.5h0m.1-1.7h0m1 .5h0m27.8 1h0m1.7-1.3h0m.5 1.2h0m1.9-.4h0m4.4-.8h0m1.8 1.3h0m1.2 .9h0m.7-1.6h0m.8 .3h0m.7 2.8h0m-8.3-.4h0m-34.2 1.3h0m-2.5-1.6h0m-.6-.1h0m-.1 2.5h0m-.4-.5h0m-.1-.2h0m-1.5-2h0m-2.7 .1h0m-.6 .4h0m-1.3 .6h0m-.4-.1h0m-1.3-1.1h0m-22.9 1.1h0m24.5 2h0m44.1 1.9h0m0-2h0m1 .1h0m.7 .4h0m3.5 .2h0m.7-.1h0m-.4 2.4h0m-.7 2.5h0m-1.7-2.6h0m-.9 2.2h0m-1.3 .5h0m-1.4-.6h0m-1.5-.5h0m-.1-.9h0m-36.7-.6h0m-2.4 .9h0m-.6-1h0m-.7 1.2h0m-6.3 1.3h0m-1.4 1h0m.9 .7h0m18-1.2h0m12.9 .9h0m16.2-.5h0m1.5 1.5h0m3.1-.9h0m1.2-.2h0m-49.2 4.4h0m-2.8-1.9h0m-1.1 2.6h0m-.7-.3h0m-.5-2.3h0m-19.4 1.3h0m15.7 4.3h0m2.1-2.9h0m4.9 2.4h0m.8-1h0m9.8-.5h0m12.4-.5h0m3.2 .7h0m-31.5 2.8h0m-2.2 .1h0m-1.6 4.8h0m1.9-.2h0m1.6-.3h0m0-.7h0m.4 1h0m.3-1.4h0m23.5-1h0m29.2 .4h0m3.7 .4h0m-32.3 2.9h0m-27.2 .4h0m-.8 1.2h0m-1.2-1.6h0m2.1 3.3h0m2.2 1h0m.7-1.9h0m1 .3h0m51.9 2.4h0m-23.2 .8h0m-1.3 1.5h0m-26.4-1.1h0m-1.7-.5h0m-3.5-.4h0m-1.9 2h0m-.2-1.5h0m-1.9-.3h0m2 3.7h0m.9-.7h0m1.2 .2h0m2.4-.2h0m5 0h0m19.7 2h0m7.2 1h0m-23.5 1.4h0m-6.4 .6h0m-.2-2.2h0m-1 .9h0m-.6 1.6h0m-1.4-1.7h0m-1.1-.5h0m-1.9 0h0m1.5 4h0m0-.7h0m.3-.7h0m.6 1.7h0m3.6-1.9h0m4.4 2.8h0m17.3-1.5h0m-15.2 2.8h0m-8.7-.6h0m-2.4 .9h0m-1.3 0h0m3 2.1h0m.8 1.2h0m.7-1.5h0m.9 2.1h0m.1-1.4h0m2.1-.7h0m3.6 1.4h0m2.4 .1h0m21.4 2.6h0m-4-1h0m-5.6-.1h0m-8.5 2.3h0m-2-2.4h0m-.4 0h0m-2 .6h0m-3 2h0m-.4-.6h0m-1.6 .4h0m-.4-.3h0m3 1.4h0m.3-.2h0" stroke="#4dbcc6" stroke-width="1.52" stroke-linecap="round" fill="none"/>
<path d="M256.3 167.5h0m-2.5 .2h0m-5.2 3h0m2.9-.2h0m3.7 .9h0m-2.5 0h0m-1.7 2.1h0m-1.1-1.3h0m-1.7 .9h0m-1.3-.2h0m-1.1 2.4h0m2.2 1.3h0m2.3 .3h0m.7-.8h0m3.9-.7h0m12.1 3.3h0m-10-.3h0m-.1-1.3h0m-.7 1h0m-4.7-.7h0m-3.3 .9h0m0 0h0m-.2-.8h0m-.6 1h0m-.7-.6h0m-2.9 .9h0m-1.3-.7h0m-.8-.6h0m-.1 2h0m-.6-2.4h0m-.2 .2h0m-2.6 .1h0m-.5 .3h0m-1.2 1.6h0m-.5-2.3h0m-17.3 5.4h0m1.9 0h0m13.1-.2h0m.6-2.2h0m3.2 1.9h0m.6-.6h0m1.5 .4h0m1.7-.3h0m2.9-1.1h0m1.4 2.6h0m.1-.8h0m.9-.7h0m.7 .5h0m.8-1.5h0m3.1-.1h0m2 .1h0m.6 1.9h0m.9-.9h0m.6-.7h0m.8-.5h0m.5 2h0m.9-.9h0m.3 1.3h0m13.7 2.3h0m-14.6-1.9h0m-2.1 1.4h0m-1.2 .7h0m-4.4 .3h0m-1.1 0h0m-2.8-2.1h0m-3.5 1.7h0m-.2-.1h0m-2.5-1.4h0m-3.9 .4h0m-.1 0h0m0 .6h0m-1.8 1.1h0m-.1-1.9h0m0 .2h0m-.3 2h0m-1.7-.9h0m-10.1 .4h0m-.4-1.8h0m-.5 .3h0m-.1-.1h0m-1.1 1.1h0m-.4-1.5h0m-.4 3.1h0m.3 .5h0m.1 0h0m10.4 .5h0m2.2 .5h0m.7 .4h0m.4-1.4h0m5.7 1h0m2.9-2h0m5.6 1.7h0m.9 .9h0m1.6-1.4h0m.4-1.2h0m.3 1.4h0m.5 .5h0m.2-1h0m.9-.2h0m.1 1.9h0m1.9-1.2h0m3.1-1.4h0m1 1.1h0m7.2 1.1h0m1.8 .3h0m11.1 1.9h0m-12.5-.9h0m-6.1 .4h0m-1.7 .5h0m-1.6-.6h0m-.1 2h0m-.1-.7h0m-.1-.6h0m-2.1 .1h0m-3.4 .4h0m-.3-.2h0m-1.1-.3h0m-9.6-.1h0m-1.1-.5h0m-.9-.5h0m-.8 1h0m-1.6-.2h0m-.3 1.5h0m-.1-1.4h0m-.3 1h0m-1.3-2.2h0m-1.2 1.5h0m-7.4 1h0m-2.3-2.5h0m-1.1 1.4h0m-.8-.8h0m-.7 1.3h0m0-.3h0m-1.6-.6h0m-.3-.8h0m-.4 0h0m-1.2 5.2h0m1.7-1.4h0m8.3-.4h0m5.6 0h0m.1 2h0m.5-1.1h0m1.3-.6h0m1.2-.4h0m.5-.5h0m.8 1.7h0m.4-.2h0m2.4-.6h0m.2 .1h0m10-.9h0m.1 1.8h0m.9-.7h0m1.3-1.3h0m1.6 1.7h0m1.1 .7h0m.2 .4h0m1.4-1.2h0m.5 0h0m.1 .3h0m.7-.9h0m.8 1.3h0m.4-1.5h0m13.9 .2h0m8.5 .1h0m5.9 3.4h0m-4.5 .3h0m-4.5-.9h0m-.4-.5h0m-3.8-.2h0m-7.9 1.3h0m-4-.2h0m-.7 .1h0m-.5-.9h0m-.3 1.1h0m-6.5 1.1h0m-1.8-1.7h0m-.9 .1h0m-1.1 .6h0m-2.2-.8h0m-9.1-.1h0m-.3-.2h0m-.4 1.4h0m-.8-1.2h0m-.8 1h0m-2.4-.5h0m-.3 .6h0m-1.1-1.6h0m-2.6 1.4h0m-9.2 .4h0m-2.9-1.6h0m-.7-.5h0m16.7 3.7h0m.8 1.5h0m.1-.3h0m1.7-1.4h0m5 .6h0m.4 .4h0m.3-1.1h0m.4 2.1h0m1.5-1.7h0m.4 .2h0m8.6-.9h0m.9 1.1h0m1 1.3h0m.1-.5h0m1.5 .1h0m1.6 .6h0m2-1.8h0m1.3 1.2h0m.2-1.8h0m1.9 2.1h0m.8 0h0m.1-.3h0m.5-1.8h0m1.1 .3h0m.7 .6h0m.4 .1h0m1-.1h0m.2 .9h0m.4-2.1h0m.1 .5h0m12.2-.5h0m1.6 .4h0m-6.6 5.2h0m-2.1-.4h0m-.5-.4h0m-2.4 .2h0m-2.2-2h0m-.8 2.2h0m-3.9-1.8h0m-.1 2.3h0m-.9-2.7h0m-.9 .7h0m-1.6 .8h0m-.2-1.5h0m-2 .6h0m-.3-.5h0m-3.5 2.1h0m-.6 .7h0m-5.1-1.9h0m-5-.3h0m-8 .6h0m-17.8 1.3h0m.9 1.7h0m.4 1.3h0m4.7-.8h0m7.3 .7h0m6.5-2.4h0m2 1.4h0m12.6-.4h0m.6 .9h0m2.7-.7h0m2.3-1.2h0m.7 .3h0m6.9-.2h0m2.1 2.5h0m1.6 0h0m1.4-1.6h0m4.5 1h0m.3-1.8h0m1.1 2.5h0m.1-1.3h0m1.2-.8h0m2.4 .1h0m10.7 1.1h0m.1-1.9h0m-6.5 5.3h0m-6.7 .1h0m-5.2-.4h0m-.6-1.4h0m-.2 1.5h0m0 .4h0m-1.8-2.2h0m-.6 0h0m-.6 .4h0m-.1-.1h0m-.9 1.6h0m0 .3h0m-.8-.8h0m-.1 .7h0m-2.3-1.3h0m-.4 .7h0m-.7-.1h0m-.1-.4h0m-.4-1h0m-.6 1.3h0m-.8-1.1h0m-3-.4h0m-16.7 1.6h0m-5.8-.8h0m-1.7 .9h0m-13.8 1.1h0m-2.1-.5h0m-.6 .5h0m-1.3-.9h0m-1.9 .5h0m-.9-.4h0m2 3.7h0m3.5-1.2h0m.6 .7h0m2.3 .1h0m14.1-2.1h0m.6 2.6h0m.3 0h0m1.1-.8h0m1.8 .7h0m4.4-2.5h0m.7 1.9h0m5.7-.3h0m5.4 0h0m.5 .7h0m.2-1h0m1.1 .2h0m.5 .4h0m.5-.2h0m.5-.1h0m2.4-1.6h0m2.6 0h0m.3 1.3h0m1.4-.6h0m3.8-.4h0m2.4 .8h0m2.4 .4h0m.5-1.8h0m1 2.5h0m2.9-2.4h0m5 2h0m5.3 .7h0m1.6-.2h0m-3.8 .9h0m-2.2-.5h0m-2.4 2.4h0m-.2-.8h0m-1.5 1.3h0m-.5-1h0m-1.2-.7h0m-7.1-1.2h0m-.7 1h0m-.6 1.2h0m-.9 .2h0m-.1 .2h0m-2.9-1.1h0m-.2 .8h0m-1-.7h0m-1.1-.9h0m-4.7 .6h0m-1.5-1.1h0m-.4 .5h0m-.8 2.1h0m-.4-1.4h0m-.7-.4h0m-1.1-.2h0m-8.8 1.8h0m-10.4 0h0m-.3-1.5h0m-.5-1h0m-11.5 0h0m-.7 2.2h0m0-.6h0m-2.2-1.3h0m-.5 2.2h0m-.1-1.7h0m-1.1 1.3h0m-1.4-.8h0m-.4 .6h0m-.3-.2h0m-.9 2.8h0m.7-1.1h0m1 2.1h0m0-2.6h0m.7 .3h0m2 .4h0m1.2 0h0m1.8 1.4h0m12.7-1.6h0m4.8 1.8h0m1.3-1.9h0m12.4 .6h0m2.2 .2h0m3.9-1h0m.1 .7h0m2-.7h0m.4 1.7h0m.2 .7h0m.2-.9h0m.4-1.3h0m0 .3h0m0 .5h0m.3 .9h0m1.4-.1h0m1.9-1.6h0m.8 2.1h0m.2 .4h0m.7-.8h0m.4-1.2h0m2.1 1.6h0m.5-.4h0m1.5-.5h0m.1-1h0m.4 .1h0m0-.7h0m.3 1.4h0m.7-1.2h0m1.3 .4h0m.2 1.8h0m1.8-1.8h0m.5 1.9h0m.2-1h0m.2-.6h0m.3 .7h0m1.4 .5h0m4.2-1.1h0m.3 1.7h0m.2-1h0m.3 .5h0m3 .7h0m6.3-1.7h0m-2.8 3.1h0m-.5-.9h0m-4.7 2.2h0m-2.2-1.7h0m-.6 1.2h0m-.8-1.5h0m-1.1-.3h0m-2.4 2.2h0m-.4-.8h0m-1 .9h0m-1.7-1.2h0m-4.2 .1h0m-.2 1.4h0m-1-1.2h0m-1.8-.7h0m-6.4 1.2h0m-.3-1.2h0m-.7 1h0m-.6-1h0m-.1 .7h0m-.7 .2h0m-.5 1h0m-1.9 0h0m-.2-.1h0m-1.7-.7h0m-.8-1.2h0m-.7 .4h0m-.9 .9h0m-.2-.5h0m-.2-.7h0m-.2 1.3h0m-1.7-1.1h0m-.9 1h0m-.3-.8h0m-1.2-.4h0m-3.1 1.8h0m-.1-.3h0m-1.3-.7h0m-1.7 .4h0m-1.2-1.3h0m-.6-.6h0m-3.6-.3h0m-.8 0h0m-.7 2.1h0m-11.4-1.4h0m-.4 1.8h0m-4.3-.4h0m-.8-.8h0m-1.8-.5h0m-.3 .7h0m-.6 .9h0m-2.4 .2h0m-.1-.9h0m0 .4h0m-.5-1h0m.1 3.6h0m.8-.6h0m.2 1.7h0m1.5-.8h0m.3-1.9h0m2.9 1.2h0m.5-.5h0m.9 1.1h0m1.4 .8h0m.6-1.5h0m2.1 1.7h0m15.7-.8h0m1.4-2h0m1.3 .9h0m1-.9h0m3.8 2.4h0m1.3-2.2h0m.2 1.1h0m1.8-.8h0m1.2 1.9h0m.5 .1h0m.5-.2h0m.1-.1h0m2.7 .1h0m1.4-.9h0m3.1-.5h0m.5-.2h0m1.8-.5h0m.7 1.9h0m2.1-1.5h0m.2 1.5h0m1.1-.8h0m1.4-.4h0m1.5 1.5h0m2.4-2.2h0m.2 .8h0m.3 .2h0m.7 .8h0m1.2 0h0m.9-.9h0m4.9-.6h0m0 1.8h0m.3 .4h0m.1-2h0m.5 1.9h0m.3-1.3h0m.1 .3h0m2.1-.5h0m1.7 1.3h0m1.9-.2h0m1.1-.2h0m1.1 1.3h0m-.2 1h0m-2.9-1h0m-1.7 2.5h0m-.2-1.9h0m-3.4 .5h0m-.6 1.3h0m-.1-2.1h0m-1 2h0m-1.6-2.1h0m-.2 .6h0m-2.1-.1h0m-.7 .4h0m-1.5-.5h0m-1.5-.9h0m-1.5 2.4h0m-2.4-1.6h0m-2.5-.7h0m-.3 1.1h0m-.7 .6h0m-1.4 .1h0m-.4-1.2h0m-.7-.5h0m-2.4 2h0m-.6-2.1h0m-.3 .8h0m-1.9 .9h0m-2.4-.7h0m-2.9 .8h0m-1.2-.5h0m-2 .1h0m-.4 .9h0m-.8-1.2h0m-.7-.6h0m-2.9 1.7h0m-.9-1.6h0m-2 1.4h0m-.4 .6h0m-8.3-.6h0m-4-.1h0m-7.1-.5h0m0 .5h0m-.6 .3h0m-1.5-2.1h0m-.5 .6h0m-.2 .9h0m-.4-.4h0m-1.2-1.4h0m-.2 2.7h0m-1.2-1.5h0m-1.2-.4h0m-.3 0h0m-.7-.1h0m-.2 1.6h0m-.4-2.3h0m1.5 3.8h0m.9 1.2h0m1.4-.7h0m1.9-.8h0m2.8 1.4h0m2.7-1.9h0m9.3 1.3h0m5.9 1.2h0m1.2-1.1h0m1.5 .1h0m2-1.1h0m.2 1.3h0m.2 1.1h0m0-.3h0m1.9-.6h0m1.1 .2h0m1.1-.9h0m1.5 1.1h0m.5 .5h0m0-.7h0m.4-1h0m2.1 1.6h0m.5-1.7h0m.4-.2h0m3.7 .4h0m.2-.5h0m2 .9h0m1.6 .2h0m.5 .5h0m4.3 .2h0m1-.9h0m.5-.5h0m.8 .6h0m.3-1.5h0m.6 .5h0m.2 .8h0m.1-1.3h0m.7 1.3h0m2.3-1.1h0m1.1 1.2h0m.9 .8h0m2.6 .4h0m1.6 .1h0m.1-2.9h0m.4 .5h0m.1 1.2h0m.6 .5h0m.7-.1h0m.5 .6h0m1.7-1.4h0m.6-1.1h0m1.5 2.1h0m.7 .3h0m2-1.8h0m-3 4h0m-2.6 1h0m-1.1-.4h0m-1.5-1.3h0m-1.9-.2h0m-.7 .9h0m-2-1.7h0m-2 2.4h0m-.5-1.3h0m-.1 .5h0m-.5 .7h0m-1.8-1.1h0m0-.4h0m-1.4 .4h0m-.4 1.3h0m-.5-2.2h0m-.3 1.4h0m-1.2-.3h0m-.1-.9h0m-2.3 .4h0m-3.7-.5h0m-1.4 .6h0m-.1-1h0m-1.7 .7h0m-2.3 1.8h0m-.9-.7h0m-1.9-.3h0m-.8-.8h0m-1.2-.3h0m-.9 1.9h0m-1.6 .2h0m-1-1.8h0m-.3 1.5h0m-1.5-1h0m-3.9-1h0m-6.3 .3h0m-14.3 .3h0m-.7 1.5h0m-1.2-1.2h0m-2.3 .9h0m-3.1-.3h0m20 1.3h0m.7 1h0m8.6-.3h0m1.4 1.5h0m1.3 .1h0m3.1-.7h0m.3-1.1h0m.1-.5h0m2 1.9h0m1.7-1.9h0m1 .4h0m0 .4h0m4.9 .7h0m.7-.2h0m3.2-.5h0m4.8-.2h0m2.6 0h0m1.5 1.2h0m.5 .5h0m.3-.4h0m.1 .5h0m3.1-.6h0m.3 .9h0m.8-1.5h0m.5 1.1h0m2.3-1.8h0m.7-.6h0m.8 .9h0m.3-.1h0m.3 1.2h0m.1-1.2h0m0 1h0m7.7-1.3h0m1.2 0h0m4.9 2.8h0m-1.3 .4h0m-1.5 1.9h0m0-2.5h0m-3.2 2.7h0m-8.5-2.7h0m-2.7 .6h0m-5.7-.4h0m-1.4 .4h0m-1.2-.1h0m-.5-.3h0m-3.4 1.3h0m-3.4-.8h0m-6.5-.8h0m-3.9 1.9h0m-1.1-1.4h0m-1.2 .9h0m-.3-.9h0m-.6 2.4h0m-.5-1.3h0m-2.6 1.1h0m-1.7-1.1h0m-10.1 2h0m2.4 .5h0m.4-.4h0m6.8-.2h0m.6 .1h0m.5 1.5h0m.6-.6h0m0 .7h0m.2-1.8h0m1.1 2.4h0m.5-.2h0m.5-1.9h0m.3 1.2h0m.1-1.4h0m.9 .7h0m2.2 1.5h0m.9-2.5h0m.7-.2h0m1.7 .1h0m10.2 1.2h0m0 1.3h0m.8-.1h0m15.1-.1h0m6.2 .4h0m5-2.5h0m1 2.6h0m.1-.6h0m1.4-.8h0m1.2-1.2h0m-16.7 5.5h0m-11.8-2.8h0m0 1.9h0m-.9 .5h0m-.9-.4h0m-2-.1h0m-2.2-1.2h0m-4.4-.4h0m-2.6 2.1h0m-.9-1.3h0m0 .4h0m-1.2-1.3h0m-3.4 0h0m-3.8 .5h0m-1.4 .1h0m-7.5 1.8h0m9.1 1.8h0m5.5 1.5h0m.7-1.2h0m2.6-.4h0m.1 1.5h0m4 0h0m2.2 0h0m1.9-.5h0m.7-2h0m.2 .5h0m1.5 1.1h0m.1-.2h0m.6 .2h0m.1-.8h0m.3 .2h0m1-1h0m.6 1.8h0m.4-1.8h0m.3 1.2h0m2.7 3.8h0m-.8 .5h0m-.6-1.3h0m-.8-1.3h0m-.4 .8h0m-.5 .3h0m-.2-1h0m-1.3 1h0m-.7 .7h0m-.5-.8h0m-2.9-.2h0m-.1 .6h0m-.1-.7h0m-1.1 1.8h0m-.3-.9h0m-.7-.7h0m-1.3-.6h0m-1.6 .8h0m-2.2-.6h0m-2.2-.1h0m-.5 2h0m-1.2-.6h0m-.4 .3h0m-.2-2.2h0m-1.9-.1h0m-9.5 2h0m-5.6 .7h0m.1 1.4h0m7.3-.5h0m.8-.2h0m.2 .6h0m8.8-.1h0m1.5-.2h0m.7 0h0m6.3-.6h0m.5 1.1h0m1.2-1.1h0m3.4 1.9h0m2.3-.4h0m3.5-1h0m.2 3.8h0m-.2-1h0m-1 .1h0m-.9 .4h0m-.2 .1h0m-.9 .2h0m-.6 1h0m-1.3-.3h0m-.3-.2h0m-.6-.9h0m-2-.3h0m-1.1 1.8h0m-4.2-1.8h0m0 1.7h0m-1.7-1.7h0m-.2 1.5h0m-.6-.9h0m-6.4-.7h0m-1.6 1.8h0m-.1-.3h0m-.9-.2h0m-2.9-.3h0m-.1-.7h0m-2.3 1.1h0m-.6-1.4h0m-5.1 2h0m-1.6-2.3h0m3.7 4.1h0m2.4-.3h0m1.9 1.2h0m.9 .2h0m1.2-.2h0m3 .5h0m6.2-1.9h0m.6 .5h0m1.7-.8h0m1.2 2.3h0m.1-.6h0m.3-.1h0m.4-1.8h0m2 .1h0m1.8 1h0m.4-.4h0m0 .7h0m1.3 .6h0m1.7-.1h0m.3-.4h0m0 1h0m1-.1h0m1.2-1.8h0m2.9-.3h0m.5 1.9h0m.2 .2h0m.1-.7h0m-1.1 1.6h0m-1.4 .9h0m-.4 .2h0m-.3 1.3h0m-.1-.3h0m-1.2-2.4h0m-1.2 1.9h0m-.6-1.4h0m-4.1 2.1h0m-.9-2.7h0m-.3 1.1h0m-2.2 .7h0m-1 .3h0m-11.1-.1h0m-.1-1.4h0m-.6 .1h0m-1.6 .1h0m-3.4 .6h0m-.2-1.5h0m6.8 4.4h0m1.2 .2h0m4.3-1.4h0m8.2-.1h0m1.3 1.5h0m2 1.2h0m.7-2h0m.4 .3h0m1.1 1.5h0m.1-1.3h0m1.4 .7h0" stroke="#e47068" stroke-width="1.52" stroke-linecap="round" fill="none"/>
<path d="M429.6 239.7h0m-1.7 2.8h0m2.4 .4h0m.3-.3h0m1.1-1h0m3.5 2.7h0m-4.1 .3h0m-2.4 .6h0m-.4-1.5h0m-.4-.1h0m-.1 .1h0m-1.4 5h0m.5-.5h0m.6 .5h0m1.3-1.9h0m.3 .9h0m3.3-.6h0m.6-.9h0m.1 .1h0m1.1 1.2h0m.3 2.3h0m-2 1h0m-2-.9h0m-.7 1.8h0m-3.4-.9h0m-.2 .6h0m-1.7 .3h0m-.3-.9h0m-1.5 .6h0m-.6 .2h0m.1 .8h0m1.7 1.3h0m.4 1.2h0m1-1.7h0m2.4-.8h0m.3 1h0m.6 .5h0m.6-1.4h0m2 1.1h0m3-.4h0m.4 .6h0m-.9 4.1h0m-.3-1.9h0m-.5 1.1h0m-1.5-2.1h0m-.4 1.3h0m-.7-1.1h0m-2.6 2.4h0m-4.1-1.2h0m-2-1.2h0m-.3 .4h0m-.4 2.1h0m1.9 1.5h0m.3-1.1h0m.1 1.8h0m4.5-.8h0m2.3 1.4h0m.8-.6h0m.1 .8h0m1.1-1h0m1.8-1h0m-.2 2.6h0m-.1 .8h0m-.5 1.2h0m-1.5-2.1h0m-1.4 2.4h0m-1.6-.7h0m-1.2-1.4h0m-.6 2.2h0m-1.2-1.1h0m-.4 .4h0m0-1.8h0m-3.2 2.3h0m-2.5-1.2h0m2.2 1.7h0m4.9 2.5h0m.9-.4h0m.8 .6h0m0-1h0m0-1.5h0m.4 .2h0m.4 .3h0m3 5.5h0" stroke="#b09a1e" stroke-width="1.52" stroke-linecap="round" fill="none"/>
<path d="M417.3 170.4h0m2.3-.9h0m1 .5h0m.6 2.6h0m-2.6-1.6h0m-.1 .8h0m0 .5h0m-.6-.4h0m0-.1h0m-3.6 .7h0m-.9 .8h0m-5.5 2.2h0m.8 1.4h0m0-.7h0m3-.3h0m.4-.7h0m.5 1.7h0m4.3-2.6h0m15.6 4.5h0m-6.7-.3h0m-1.4-.1h0m-.1 1.3h0m-1-.1h0m-1 .3h0m0-2.4h0m-1-.3h0m-1 2.3h0m-2.7-2.3h0m-2 1.2h0m-.9-.2h0m-5.1-.2h0m-.2-.1h0m-1.5-.4h0m-2.6 1.3h0m-.5 .3h0m-18 3.7h0m16.1-1.7h0m.4 .6h0m1.8-.5h0m.7 .1h0m1.2 .9h0m.2-1.8h0m.2 1.9h0m1.8 .6h0m.2-1.6h0m.8-.8h0m.1 2h0m3.5-2.5h0m.5 1.9h0m1-1.6h0m.5 .7h0m1.1-.2h0m1.1 1.5h0m.5 .5h0m.3-2h0m1.2 1h0m.1 .4h0m3.2-.4h0m.5 .2h0m7.4 .9h0m.5-.5h0m1.5-.7h0m.3 1.1h0m.2 0h0m1.7-1.6h0m3 3.9h0m-.8 .6h0m-.6-.6h0m-.6-1.9h0m-3.1 .7h0m-.1-.9h0m-4.9 1.8h0m-6-.3h0m-.7 1.1h0m-.1-1.9h0m-.2 1h0m-.9 .9h0m-1.2 0h0m-.6-1.4h0m-.3-.8h0m-.1 2.4h0m-2.2-1.2h0m-.4 .7h0m-.8-1.2h0m-1.5-.1h0m-.1 1.2h0m-3.4-1.6h0m-.4-.6h0m-.3 0h0m-2.4 .2h0m-.5 2.6h0m-1.3-1h0m-.5-.8h0m-.3-.9h0m-2.2 .5h0m-2.1 2.3h0m-14.2-.8h0m12.5 2.8h0m.4-.7h0m1.6 .9h0m1.6-1h0m1.6 .5h0m.3-.2h0m.9-1.1h0m1.4 .5h0m.3 .1h0m8.3-.5h0m0 1.1h0m.4 .3h0m.9 .4h0m.1-2.1h0m.6 1.4h0m.2-.8h0m3.1 1.5h0m1-1.1h0m1.7 1.1h0m1.3 .6h0m.8-1.2h0m5.8 .4h0m2.1-.3h0m.5-.1h0m.4-1.5h0m1.1 1.9h0m.1 .8h0m1.1-1.5h0m.6 .9h0m.7-1.5h0m1.3 .6h0m.3-.4h0m.1 .7h0m.4 .5h0m.1-.5h0m0 0h0m2.9 .3h0m.8-.7h0m3.1 3.7h0m-.8-.9h0m-4.8 .2h0m-1.7-.2h0m-.2-.8h0m-.4 2.4h0m-.8 .2h0m-.7 0h0m-.3-1.1h0m-.3 .9h0m-1.1-.8h0m-.1 .1h0m-1.9-.4h0m-.7-.1h0m-.2 .4h0m-.1-.7h0m-.3 .7h0m-.4 .7h0m-.2-2h0m-.1 .3h0m-2.1 .6h0m-5.1-.9h0m-2.4-.5h0m-.9 2.2h0m0-1h0m-.5 1.7h0m-.8-1.5h0m-1.9 1.5h0m-2.4-2.6h0m-5.9 .2h0m-1.2-.5h0m-3 1.5h0m-1.5 .4h0m-.5 .8h0m-1.5-1.7h0m-1 .7h0m-.2 1.2h0m-.8 0h0m-.9-2.2h0m-2 2.2h0m-.7-1.4h0m5.4 3.4h0m1.3-1.8h0m.3 1h0m1.7 1h0m0 0h0m12.3-1.6h0m1.7 .1h0m1.1 1.5h0m2.1-1.3h0m1.3 .9h0m1.6 .9h0m1 .3h0m3-2.2h0m3.8 0h0m1.3 1.1h0m.2 .4h0m.5 .2h0m.3-.8h0m2.3-.3h0m2.1-.5h0m.1-.3h0m1.9 1.9h0m.4-1h0m.1 .1h0m0 .2h0m2.5-.6h0m.7 .6h0m.8-.2h0m0 .4h0m1 .6h0m1-1.7h0m.4 1.5h0m0-1.3h0m1.5 .6h0m3.7 3.9h0m-4.8 .1h0m-3.3-.3h0m-.7-.5h0m-.5-1.8h0m-1.2 2.1h0m-.8-.7h0m-.2-1.1h0m-1.9 1.2h0m-.2 1.3h0m-5.1-.2h0m0-1.1h0m-3-1.1h0m-.6 .7h0m-1.2-.7h0m-.3 2.3h0m-1.4-1.4h0m-.2 1.6h0m-.1-.5h0m-.7 .1h0m-1.2-.4h0m-.7 .3h0m-1-.1h0m-.6 0h0m-1.3-1.6h0m-1.1 .4h0m-.3 1.3h0m-1.4-2.4h0m-1.8 2.4h0m-3.3 .3h0m-.4-1.6h0m-.6 1.3h0m-.8-2.4h0m-1.7 .4h0m-1.6-.1h0m-.1 2.6h0m-.4-2.1h0m-.1 2h0m-1.3-1.6h0m-5.9 .4h0m-.6 .5h0m-.4 2.5h0m.6-.6h0m.3 1.5h0m2.9-1.8h0m3.5 .9h0m.3 .9h0m3.6-1.6h0m2.3 1.8h0m1.9-2.4h0m.1 2.3h0m.8-.7h0m1.6-.5h0m2.3-.6h0m0 .4h0m.7-.8h0m.6 2.5h0m2.2-.2h0m.5-.5h0m1.3-2.2h0m.3 1.6h0m.6-1.4h0m0 2.7h0m.5-.8h0m1.1-.9h0m0 .6h0m.9-1.3h0m.7 .5h0m.7-.7h0m1.7 1.7h0m1.7 .9h0m.4-.4h0m2.3-1.5h0m1 .6h0m2.3 .3h0m.1 .9h0m1.3-.4h0m.1-.9h0m.5-1.5h0m6 .6h0m1.4 1.8h0m2.7-.2h0m.9-1.2h0m1.4 .3h0m.8 1.5h0m.3 1h0m-.9 2h0m-1.6-1.5h0m-1.6 1.2h0m-1.3-2h0m-1.1 .1h0m-.1 1.4h0m-2 .4h0m-.5-1.4h0m-3.4 1h0m-.6 .8h0m-.7-1.1h0m0 .4h0m-.3-1.1h0m-.1 1.3h0m-.5 0h0m-1.8-.5h0m-2.1 .6h0m-2.1-2h0m-2.6 1.7h0m0 .4h0m-1.7-.5h0m-.2-.7h0m-.2-.6h0m-.5-.1h0m-.1 1.3h0m-.5 .9h0m-1.3-.5h0m-.5 0h0m-2.1-.1h0m-1.3-.5h0m-.8-.6h0m-3.3 1.1h0m-1.9-1.1h0m-1.2-1.1h0m-.1 2.1h0m-2.2 .3h0m0 .5h0m-.1-1.1h0m-1-.9h0m-1.6 .5h0m-.9 1.5h0m-.3-.2h0m-.1-.4h0m-.5 .5h0m-2.9-.1h0m-.9 .2h0m-.2-2.5h0m-1.9-.1h0m-1.6 .4h0m-1.1 1.9h0m-.9-1.3h0m-.4-.4h0m-1.9 1.1h0m-17.6 1h0m.6 2.7h0m3.8 .1h0m8.1-2.7h0m4.8 .8h0m.3 1.4h0m1-2h0m.7 1h0m1.6-.7h0m.9 1.5h0m1.9-1.8h0m3.9 2.1h0m2.7-.4h0m.5 .2h0m1.6-1.3h0m1-.5h0m.9 1.5h0m1.4-1.6h0m1.4 .6h0m.6 1.9h0m.3-.5h0m.2-1.8h0m2.1-.2h0m.3 1.3h0m.7-.1h0m1 .8h0m.3-1.6h0m1 1.8h0m1.1-2h0m.8 1.3h0m1.8 1.1h0m1.5-1.4h0m.3 1h0m.1-1.2h0m0 .3h0m.3 1.1h0m1.8-2.3h0m1.5-.3h0m2-.1h0m.2 .1h0m2.7 .7h0m.2-.3h0m1 .8h0m.6-1.1h0m.7 1.7h0m.7-.3h0m3 .9h0m.6 0h0m2.2 .3h0m.6-1.9h0m.3-.4h0m.3 2.2h0m.6-2.5h0m.8 .4h0m.3 2.1h0m.4-2.3h0m.5 2h0m.1-1.2h0m1.1-.5h0m2.3 2.2h0m3.9-2.8h0m.7 2.9h0m-.2 1.2h0m-.3 .7h0m-.4 0h0m-.7-1h0m-.2-.9h0m-1.4 2h0m-3.6 .7h0m-1.2-2.2h0m-.6 2.1h0m-2.9-2.4h0m0 1.6h0m-3.1-.3h0m-1.5 .7h0m-1.3-1.6h0m-1.3 1.4h0m-.9-.9h0m-.6 1.5h0m-.8-.7h0m-.3 .7h0m-1.8-1.5h0m-1.5 .6h0m-1 .4h0m-3.3-.3h0m-.2-1.7h0m-1.2-.1h0m-4 1.4h0m-1.1-.1h0m-2.7 .1h0m-1.8-1.2h0m-.2-.2h0m-.2 .9h0m-.8-.3h0m-1.4 1h0m-.1-.5h0m-.2 1.5h0m-.6-1.5h0m-1.7-.9h0m-.1 .4h0m-.6 2.1h0m-1.9-.9h0m-3 .5h0m-.4 0h0m-.3 .1h0m-1.9-1.5h0m-1.9 .4h0m-3.5-1.2h0m-11.6 1.1h0m-2.2 .5h0m-1.4 0h0m-2.2 .8h0m-.3 .4h0m-1.6 2h0m19.1 .4h0m.3-1.4h0m1.9 1.5h0m.2-.7h0m.4-.4h0m2.8-.5h0m.6 1.1h0m.4-1.9h0m0 2.5h0m.3-2h0m4.9 2h0m1.6-1.3h0m1.5-.6h0m3.9 1.8h0m.7-2.4h0m3 1.2h0m2.8 .8h0m.1-.7h0m1.2-1.1h0m.8 2.1h0m1.6-.7h0m1.1-1.3h0m1.6 2.1h0m.9-1.8h0m.1 1.6h0m3.3-2.2h0m1.3 2.7h0m1.2 0h0m5-1.1h0m.2-1.3h0m1.2 1h0m.2 1.1h0m.2-1.4h0m1.4 1h0m.5-.5h0m.6-.7h0m4.4 1.9h0m.5-.9h0m.3 .9h0m1.1 .2h0m3-2.2h0m.5 .1h0m3.6 2.6h0m-.5 2.2h0m-.5-2.3h0m-1.4 .1h0m-1-.3h0m-.2 .7h0m-2.3-.7h0m-.7 0h0m-2.1 .9h0m-.4 .8h0m-3.4-.9h0m-4.4 0h0m-2.4 .3h0m-.8-.9h0m-.1 .3h0m-3.5 .9h0m-1.4 .4h0m-.4-.3h0m-.1 .5h0m-.1 .8h0m-2-2.3h0m-2.7 .3h0m-1.2 1.1h0m-.1-1.6h0m-.4 1.5h0m-2.2-1.9h0m-3.7 .8h0m-1.1-.8h0m-.3 1.1h0m-1.8 1.2h0m-4.2-1.3h0m-.4 1.9h0m-.8-2.1h0m-1.2 .9h0m-2.4-.2h0m-3.6 1h0m-1.4 .2h0m-.2-2.5h0m-.4 .8h0m-.7 1.5h0m-.2-1.3h0m-16.2 1.3h0m-3.1-1.7h0m-.8 1.8h0m-2.8 .1h0m-1.2-2.7h0m7 4.6h0m13.6 1.3h0m1.1-2.2h0m4.3 1.4h0m.8-.3h0m1.9-1.4h0m1.1 1.3h0m.1 .7h0m.5-1.4h0m3.3 1.1h0m3.9-1h0m.4-1.1h0m2.7 2.6h0m5-2h0m.4 1.6h0m2.3-2.2h0m.1 .8h0m.2 2.1h0m3.1-2.7h0m.3-.2h0m.1 1.3h0m.1 .3h0m2.8 1.1h0m1.2-1.1h0m2.8 .1h0m1.7-1.7h0m.3 .3h0m1.9-.3h0m.3 1.5h0m1.8 .5h0m.5 .9h0m3.3-2.7h0m.4 1.6h0m2.7-.6h0m.5 1h0m1.1-1.8h0m1.1 2.2h0m.4-.2h0m.2-2.1h0m.3 2.1h0m.9 0h0m.2-.8h0m2.6 1.8h0m-1 2.1h0m-1.1 .1h0m-.9-1h0m-.4-1.1h0m-.1 1h0m-.7-.3h0m0 .8h0m-1-.7h0m-.2 .9h0m-.4 .3h0m-3-2.3h0m-1.1 1.5h0m-2.6-.7h0m-.1-.5h0m-1.1 1.2h0m-2.5 .7h0m-.6 .1h0m-2.2-.4h0m-.1-1.9h0m-.7 0h0m-.7 2h0m0-.9h0m-.9-1.1h0m-3 2.3h0m-.9 .1h0m-.5-.6h0m-.1-1.1h0m-.2 1.3h0m-1-1.3h0m-1.4-.6h0m-1.8 2h0m-.5-1.5h0m-.3-.5h0m-.1 2h0m-.2 .6h0m-.3-1.4h0m-.5-.9h0m-1.4 .6h0m-.2 .1h0m-.8 .6h0m-.6-1.8h0m-.7 .7h0m-.4 2.1h0m-.7-1.2h0m-1.3 .8h0m-1.7-.3h0m-.2-2h0m-1.2 1.6h0m-1.1-.3h0m-3 .2h0m-.3-1.3h0m-.1 1.2h0m-5.2 .2h0m-2.5 .6h0m-.1-.5h0m-2.2 .4h0m-.8-1.9h0m-5.8 .6h0m-8.2 4.2h0m9.7-1h0m5.7-.1h0m.6 .6h0m.2-1.6h0m.3 1.3h0m2.5 .5h0m1.2-.3h0m4.1 .1h0m.9-.2h0m.2 .1h0m1.3 1.3h0m1.1-.7h0m1-.4h0m.2-1.8h0m.2 .9h0m5.5-.6h0m2.4 1.8h0m.9 .2h0m.7-2.1h0m.8 1.3h0m.8 .4h0m.1 .3h0m1.3-2h0m1.9 2.5h0m.4-.2h0m.6-.9h0m1.4 1.2h0m.2-2h0m.5-.4h0m.4-.3h0m1 2.4h0m1-2.4h0m.1 1.8h0m1.7-.9h0m.8-1h0m0 1.8h0m1.6 .6h0m.6-1.5h0m.1 1.3h0m.9-1.8h0m1.4 .5h0m.1-.1h0m0 .8h0m2.6-.2h0m.5 1.2h0m.1-.4h0m1.3-1.8h0m.6 2.2h0m.4-2.5h0m1.4 1.8h0m.2 .6h0m.2-.7h0m.1-1.8h0m.1 1.2h0m.5 1.5h0m1.2 .1h0m1.6-.5h0m.5-.8h0m.5-1h0m.7 2.9h0m-3.8 1.1h0m-.5 .8h0m-.2 .5h0m-1.6-1.6h0m-.9 .5h0m-.5 .3h0m-3.8-.1h0m-.7 .2h0m-.7 .7h0m-1.1-1.2h0m-.7 1.3h0m-.5-2.2h0m-.9 .7h0m-1.3-.2h0m-1.5 .5h0m-.5 1h0m-1.7-.9h0m-.5 1.1h0m-3.3-2.3h0m-.2 .2h0m-.6 .6h0m-3.8 .3h0m-.9-1.2h0m0 1.2h0m-.3-.8h0m-.1-.4h0m-.9 0h0m-.5 1.1h0m-.3-1.1h0m-.3 .9h0m-.8-.4h0m-1.1-.8h0m-.4 .6h0m-3.9 .3h0m-.6-1.1h0m-2.1 1.6h0m-3.3-1h0m-.1 1.6h0m-.7-.6h0m-.8-.9h0m-.3-.4h0m0 .8h0m-3.5-.9h0m-.8 1.5h0m-.1 .7h0m0-.7h0m-18.3 3.8h0m.3-1.8h0m16.4 .3h0m1-.8h0m.4 1.8h0m3 .9h0m.3-1.6h0m.8 0h0m3.9-.6h0m.9 1.6h0m.4-2.3h0m4.8 1.3h0m.1-1.3h0m2.3 .9h0m.6-.1h0m.6 1.9h0m3.7-1.7h0m0 .4h0m.1 1.5h0m1.6-1.8h0m3 .3h0m.4 1.4h0m2.8-1.4h0m.4-.4h0m1.7 .5h0m1 1.2h0m.7-2.5h0m.1 .9h0m6.6 1.8h0m1-1.9h0m.2 1.9h0m.7-2.2h0m.5 1.3h0m.8 .2h0m.7-2.1h0m.5 1.7h0m.8-1.6h0m1.8 1.2h0m.7-1.1h0m-3.3 3.4h0m-2.1-.4h0m-.7 0h0m0-.2h0m-1.2 1.3h0m-1.7-.6h0m0 2h0m-.6-2.3h0m-2.4 1.1h0m-.1-.3h0m-.1-.3h0m-4 .7h0m-.2-1.4h0m-1.5 .7h0m-.1-.7h0m-.1 2.4h0m-1.4-.6h0m-.9 .3h0m-.3-1.9h0m-.3 1.8h0m-.4-.8h0m-.7-.3h0m-.4-.3h0m-.5-.5h0m-2.2 1.8h0m-.7-1.3h0m-.3 .6h0m-1.3 0h0m-3.2-.9h0m-1.2 2h0m-.7-2h0m-3.6 1.5h0m-1.9-.1h0m-1-.6h0m-.3 .2h0m-1.1-1.4h0m-1.1-.2h0m-.9 1.7h0m-.6-1.7h0m-3.4 2.9h0m-1.4-1.5h0m-19.4-.3h0m-4.1-1h0m15.5 5.1h0m7.7-1.6h0m.2 .5h0m1.5 0h0m.2 .4h0m1.2 1.1h0m1.2-2.4h0m.2 .4h0m1.6 1.4h0m.7-1.3h0m1.5 .7h0m2.4-.7h0m1.7 1.7h0m1.8-.6h0m.6-1.2h0m.2 2.1h0m.6-1.4h0m.7 .6h0m2.2-.3h0m.7 .2h0m2-.3h0m3-.1h0m1.9-1.1h0m.3 2.5h0m.1-1.9h0m.4-.5h0m.9 1.3h0m2.8 0h0m.5 .4h0m1.6-1.9h0m2 1.3h0m10.2-1.4h0m6.8 1.8h0m.9-.5h0m2.4 3.4h0m-.6-.6h0m-.2 1.4h0m-.6-2h0m-.1 2h0m-2.9-1h0m-1-1.1h0m-.6 2.4h0m-12.1-2.6h0m-9.1 1.8h0m-8.3-2.1h0m-.1 .5h0m-.8 .3h0m-.2-.7h0m-3.1 2.6h0m-.2-1.1h0m-.5-.1h0m-.2-1.3h0m-1.3 1.6h0m-.1-.8h0m-1.5 1.2h0m0-1.1h0m-.5 0h0m-.1 1h0m-.6 .8h0m-2.9-.7h0m-1.2 0h0m-.5 .6h0m-1.9-2.1h0m-.9 .3h0m1.3 3.8h0m.6-.9h0m.4 1.2h0m3.5-1.7h0m.8 .6h0m.7-.1h0m4.3-.1h0m36.5 .2h0m1.5 1.5h0m1.5-1.7h0m.2-.1h0m-1.9 2.4h0m-2.9 .5h0m-.8 .5h0m-28.1 1h0m-5.3 .5h0m-.9-1.2h0m-.7-.6h0m-.8-.6h0m-.3 .4h0m-.9 .7h0m-.1 .2h0m-4.7-1.2h0m-.1 .5h0m-.4 1.3h0m-.2 .8h0m-.3-1h0m.7 2.5h0m.9-1h0m1.1 1.1h0m1.1-.8h0m.9 .8h0m.1-1.4h0m.2 2.1h0m.2-.6h0m2.5 .2h0m9.6 3.1h0m-8.3-1.8h0m-1.1-.1h0m-.6 1.4h0m-.5 1.3h0m-.3-2.7h0m-.2 .9h0m-.4 .3h0m-.1 1.1h0m-.1-2h0m-2.4 1.6h0m-.1-1.1h0m-.5 1.7h0m2.3 .7h0m1.3 1.8h0m.9-1h0m.2-.4h0m.1 9h0" stroke="#e47068" stroke-width="1.52" stroke-linecap="round" fill="none"/>
<path d="M382.9 206.2h0m.7-2.1h0m.4 2h0m3.3 2.4h0m-3.4 3.4h0m2.2-.4h0m0 1.4h0m.9-1.2h0m.4 .2h0m.3-1.9h0m.6 2h0m2.5-.7h0m-.7 4.3h0m-.6-.4h0m0-.1h0m-.5-1.9h0m-.1 .2h0m-2 1.5h0m-.4-.9h0m-.3 1.8h0m-2-1.3h0m-1.2 .5h0m-.6-1.6h0m-.9 1.8h0m-.5 3h0m1.1-.1h0m2.1 .7h0m.9-2.2h0m.7 2.3h0m.4-1.4h0m1-1.5h0m.2 .7h0m.9 .7h0m.6-.7h0m2.2 .1h0m.9 1.1h0m1.1 .8h0m44-.4h0m-46.1 3.6h0m-1-2.5h0m-.1 1.8h0m-.4 .4h0m-5.5 .3h0m-3.1-1.4h0m-.3-.6h0m-.1 1.7h0m-1.1 2.7h0m1.6-1h0m.7 .5h0m.1-.3h0m2.8-1.1h0m.2 .1h0m2.1 .7h0m1.4-1h0m.6-.2h0m1 2.8h0m0-1.8h0m1.6 .1h0m-.7 3.5h0m-.4 .5h0m-2-.1h0m0-.5h0m-2.2 .8h0m-.5 .3h0m-.2-2.2h0m-.5-.1h0m-1.5 .6h0m-2.3 .1h0m-2 4.1h0m2.7-.5h0m3-.5h0m0 1.2h0m1.5-1.6h0m1.3 2.6h0m-2.3 1h0m-.4-.7h0m-1 .6h0" stroke="#d35ee6" stroke-width="1.52" stroke-linecap="round" fill="none"/>
<path d="M400.7 228.7h0m.4 .1h0m.9 4.4h0m-.8-1.1h0m-.3 .1h0m-2.5 .3h0m-.3 1.5h0m1 1.4h0m.5 1.1h0m.4-.7h0m1.3-.9h0m.2 1h0m1-.4h0m1.1 1.4h0m-1.7 1.9h0m0-.1h0m-.7-.2h0m-4.9-.8h0m-1.4 3.9h0m2.6-1.6h0m1.9 .4h0m.2 1h0m.1 .5h0m0-1.1h0m1.3 1.8h0m1.8-.2h0m.5-1h0m-2.5 2.6h0m-.6-.9h0m-.3 2.3h0m-.8-1.3h0m-.3 1h0m-.7 1.5h0m2.5-.2h0m.5 2.5h0m1.7-.8h0m.2-.6h0m.2-1h0m3.8 3.6h0m-.3 1.8h0m-1.4-1.2h0m-.7 .3h0m-.1-.4h0m-.8-1.2h0m-2.8 1.5h0m-.9 .5h0m-1 1.6h0m.4-.2h0m2-.5h0m.7 .7h0m.6-.9h0m1.5-.1h0m3 2.3h0m0-.7h0m.7-1.4h0m1.5 0h0m2.3 4.3h0m-.7-.2h0m-.2 .8h0m-2.1-1.2h0m-.4 1.4h0m-2.6-.5h0m-1.9-.3h0m-2.9-.7h0m-.4 1.8h0m-1.3-1.2h0m2.1 4.4h0m.1-.5h0m1.5-.1h0m1.4-1.3h0m1.6-.2h0m1.3 .5h0m.8-.1h0m.8 .2h0m.1 1.6h0m.1-2.5h0m2.5 .7h0m1 1.4h0m1.4-1.7h0m1.1 1.8h0m-.3 2.6h0m-.5-1.8h0m-1.9 1.7h0m-.2-.7h0m-3.4-.5h0m-.2 .3h0m-.5 0h0m-4.6 1.1h0m-.2-.6h0m-.9-.3h0m2.5 1.8h0m.2 2.4h0m1.6-.4h0m1.2-1.2h0m1 1h0m.9-1.2h0m1.3-.2h0m2.7-.2h0m-4.7 3h0" stroke="#5fb43c" stroke-width="1.52" stroke-linecap="round" fill="none"/>
<path d="M385.1 180.8h0m1.1 .9h0m3.1 .4h0m-2.3 1.3h0m-2.7 2.3h0m7.4 2.4h0m.8 3h0m-1.1-2h0m-.6 1.6h0m-.1-1.2h0m-6.5 2.3h0m-.4 .5h0m.9 1.7h0m7.1-1.6h0m-4.2 4.3h0m-.8-.1h0m-.8 1.2h0m-.1-1.1h0m-.3 .7h0m-.2 .2h0m-1.5-1.4h0m-1.5-.8h0m-.7 2.5h0m-.8 .9h0m1.8-.5h0m.1 1h0m52.9 3h0m.7 5.6h0m-14.8 2h0" stroke="#48b9cc" stroke-width="1.52" stroke-linecap="round" fill="none"/>
<path d="M418.9 169.7h0m1 .5h0m.6 0h0m.7-.6h0m.8 .4h0m-1.5 2.7h0m-2.9-1h0m-1.8-.4h0m-13.3 5.1h0m5.3-.5h0m.7-.6h0m.1 1.3h0m.1-1.6h0m.9 .4h0m1.2-1h0m.4 .6h0m2.6 1.8h0m1.1-1.1h0m.8-.9h0m.1 2h0m4.2-.8h0m.8 .3h0m0-2.2h0m3.1 3.5h0m-.1 .9h0m-1.4-.4h0m-1.2 1.4h0m-1.8-1.2h0m-1.2 .7h0m-.3-1.8h0m-.4 .9h0m-.9 1.5h0m0-1.7h0m-1.9-.1h0m-2.3 1.7h0m-.4 0h0m-1.9-.2h0m-1.1-.1h0m-.1-1.5h0m-3.2 1.2h0m-.5 0h0m-5.7 1.6h0m7 .6h0m0-.8h0m1.7 0h0m1.1 .2h0m1.3 1.2h0m.4 .7h0m.8-2h0m.7 1.6h0m1.4-.1h0m3.7-1.1h0m2.4 .8h0m2.1 .7h0m2.8-1.5h0m.6 .3h0m4.7 1.6h0m2.4-1.3h0m.1 .6h0m.5 .7h0m2.6 0h0m.1-.4h0m.4 .4h0m.1-.6h0m12.6 2.9h0m-10.6-.7h0m-1.2 .3h0m-.6-1.2h0m-.7 .8h0m0 .9h0m-1.6-.7h0m-.7 1.5h0m-.3-.2h0m-.1-.3h0m-1.9-1.1h0m-4.8 1.6h0m-1.9-2.9h0m-.1 .1h0m-.9 .4h0m-.5 1.3h0m-.7-1.3h0m-2.2 1.7h0m-3.3-.2h0m-4.9 .5h0m-.7-1.2h0m-2.3-.4h0m-.5-.4h0m-.1 2.1h0m-2-2.6h0m-.9 0h0m-.2 2.8h0m-.2-1.3h0m-2.1-1.1h0m-.7 1h0m-.9-1.1h0m-.5 1.3h0m-1.6 .2h0m-.8 1h0m.9 .5h0m.7 2h0m.1-1.8h0m.3 2.4h0m.8-2.9h0m1.9 .4h0m.3 .8h0m1.5-.5h0m0 2.2h0m1.1-.2h0m.3-.5h0m7.1-1.2h0m.7 1.4h0m2.5 .1h0m.6-1.9h0m.3 1.5h0m.1-.7h0m2.2 1.5h0m1.9 0h0m.1-2.8h0m.8-.1h0m1 2.7h0m.9-1.6h0m4.1 1.7h0m1.3-2.6h0m.1 2.3h0m.3-1.1h0m.1-.1h0m.4 1.5h0m1.2-2.5h0m.4-.3h0m.2 .4h0m.6 2h0m.8-2.1h0m2.6-.2h0m.7 1.3h0m1.9 .5h0m7.3 3.4h0m-.5-.2h0m-1.9-.9h0m-1.5-.5h0m-1-.6h0m-.2 2.6h0m-.7-2.1h0m-2.3-.4h0m-.7 2.3h0m-1.1 .2h0m-.2-.8h0m-1.4 1h0m-.5-1.8h0m-1.4 .2h0m-5.1 1.3h0m-3.9-1.3h0m-1.2 .1h0m-.1-.2h0m-1.3 0h0m-1.3 1.2h0m-3-2.1h0m-.3 1.9h0m-.1-1.1h0m-3.4 1.1h0m-6.6-1.5h0m-.1-.4h0m-.1 0h0m-4.9 .9h0m-1.9-1.2h0m-1.6 .6h0m-5.5-.6h0m3.5 3.7h0m.9 1.6h0m2.7-.5h0m.3-.8h0m.8 1.7h0m.4-.7h0m.4 .7h0m.6-.1h0m.6-.4h0m.5 .4h0m.7-1.3h0m.6 1.1h0m.4-.7h0m10.4 1.2h0m1.6-2.1h0m1.9-.5h0m1.2 .3h0m1.2 0h0m0 0h0m.3-.3h0m.5 1.1h0m.5-1.2h0m2.1 1.3h0m1.4 .6h0m1.9-2.1h0m4.9 1.5h0m.5 .5h0m.1-2h0m3.8 1.6h0m.2 .1h0m.1-1h0m1.7 .6h0m1.9 .2h0m.1 .9h0m.6 .3h0m2.4-1.5h0m1 .6h0m.1-.6h0m1.1 .4h0m.5 1h0m.8-1.3h0m1.1 0h0m2.9 4h0m-.7-.5h0m-.1-1.4h0m-.7 .6h0m-.2 .9h0m-.2-1.6h0m-.4 2.2h0m-.2-.9h0m-.1-1.2h0m-.1 .4h0m-.2 1.1h0m0-1.1h0m-.4 1.8h0m-.6-2.3h0m-3.4 2.3h0m-4-2.5h0m-2.8 2.5h0m-.2 .2h0m-.1-1.8h0m-.7 1.5h0m-.4 .3h0m-1.9-.6h0m-3.6 .7h0m-1.8 0h0m0-1.9h0m-1.5-.8h0m-1.1 2.5h0m-2-.2h0m-2.1-.2h0m-.6-2.2h0m-3.3 2.8h0m-.2-1.9h0m-.3 1.2h0m-2.3-1.3h0m-.1-.3h0m-.6-.1h0m-.7 2.3h0m-.3-2.8h0m-1.2 .7h0m-2.4 .3h0m-.1-.1h0m-2.9 1.1h0m-4.6 .4h0m-.1-.7h0m-.2 .7h0m-3.5 .1h0m-.1-1.5h0m-.2 .6h0m-1.7-1.5h0m-1.9 1.3h0m3.9 4.3h0m1.8-2h0m.9 1.7h0m6.4-1.3h0m1.3 1h0m.6-1.1h0m0-.9h0m.7 .5h0m.1 2h0m.9-2.3h0m1.7 2.6h0m1-1.3h0m1.6-1.6h0m.3 .8h0m.5 .5h0m2.2 .4h0m1.4 .9h0m.2-1.3h0m.1-.5h0m1.1 .9h0m.1 1h0m.4-2.6h0m.1 .7h0m.4 .1h0m5.8 .5h0m2.2-.3h0m.3 .6h0m.1 .6h0m.4 0h0m.3-2.3h0m2.5 2.2h0m2.6-.1h0m.7-1.7h0m1.1 1.3h0m0 .3h0m6.2-1.4h0m.2 .8h0m1-1h0m1.1 1.4h0m1.1-1.6h0m.9 1.6h0m2.1-.8h0m.9 1.7h0m.3-2.6h0m.4 1.8h0m.8-.3h0m.4-.6h0m0-.1h0m.6 2h0m1.9-1.9h0m-.5 2.5h0m-.1 1.6h0m-2.5-1.1h0m-3.5 1h0m-.6-1h0m-.1-1h0m-.3 .7h0m-.2 1.6h0m-.1-1.8h0m-1.2 .6h0m0 .5h0m-1.4-.6h0m-1.3 .2h0m-1.7-.9h0m-.5 1h0m-2.7 0h0m-1.1 .9h0m-1.6-1.2h0m0 1.2h0m-1.9-1.7h0m-3.3 1.5h0m-.8-.7h0m-3.7 1h0m-1.8-.9h0m-3.9 1.3h0m-.8-2.6h0m-.1 2.5h0m-.2-.1h0m-.6-2.3h0m0 2.5h0m-1.2-.2h0m-1.1 .4h0m-.6-.2h0m-.3-1.9h0m-1.2 2.1h0m-5.2-2.9h0m-.8 1.6h0m-.2 .2h0m-3.6-.7h0m-.3 .5h0m-5.1 .9h0m-.4-.1h0m-.2-.6h0m-1.7-.9h0m-2.1-.5h0m-7.7 1.9h0m9.5 2.7h0m2.5-1.8h0m.3 2.5h0m.5-.2h0m1.7-.6h0m2-1h0m.5 1.3h0m.2-1.2h0m2.2 1.9h0m2.4-1.2h0m2.7-.6h0m.3 1.8h0m.5-.4h0m.2-1.2h0m1.5 1h0m1.1-1h0m1 .6h0m1 1h0m2.1-.7h0m2.5-1.1h0m1.4 .8h0m2.2 0h0m2-.1h0m3.8-.1h0m.6 1.1h0m.3-1.8h0m.9 1.7h0m3.1-.4h0m1.3-1.4h0m.9-.6h0m1.1 1.9h0m.3 .6h0m1.1 .1h0m1.6-2.6h0m1.7 .3h0m1 1.1h0m.3 .7h0m.1-2h0m0 .7h0m2 1.3h0m.6 .3h0m0-.6h0m2.4-1.1h0m0 1.6h0m.2-1.6h0m.4 1.3h0m1.7-.6h0m1.5-1.6h0m1.7 .9h0m-.8 3.8h0m-.7 .3h0m-2.5 .8h0m-.3-.2h0m-1.1-1.5h0m-.8 .5h0m-3.4-1.1h0m-.8 2.3h0m-.1-.2h0m-.3-2.1h0m-.8 .1h0m-.7 1.2h0m-.9-1.7h0m-.2 .5h0m-.2 .2h0m-.7 1.3h0m-.1-2.2h0m-.1 0h0m-4.2 2.7h0m-1.8-.1h0m-1.2 .3h0m-1.3-1.2h0m-2-1h0m-.5-.3h0m-.9 .5h0m-.9-.8h0m-1 1h0m-.9 1.5h0m-2-1.8h0m-3.6 1.2h0m-1.5-.8h0m-3.5 .9h0m-1.2 .2h0m-.2-.7h0m-.6 .9h0m-2.2-2.5h0m-.6 1.9h0m-.2 .9h0m-2.8-.3h0m-2 .4h0m-.3-1.1h0m-3.6 .1h0m-.1-.4h0m-2.8-.1h0m-.6 0h0m-20.8 2.6h0m19-.2h0m.9 .5h0m2.3-.3h0m1.3 1.6h0m1.3-.6h0m1.5-1.4h0m.3 2.2h0m.7-.1h0m.4-.3h0m2.7-1.5h0m.6 0h0m2.8 1.7h0m3-.9h0m1.8 .6h0m.5-.7h0m.4 .8h0m.1-.7h0m.6-1.4h0m1.7 1.6h0m.4 .3h0m0-1.7h0m2.6 .3h0m1.1-.7h0m.9 2.6h0m0-2.5h0m.6 .4h0m2.6 .2h0m.6-.4h0m2.7-.1h0m.3 .9h0m1.1-.2h0m.7 1.1h0m1.4-.3h0m.5 .4h0m.5-1.4h0m1.8-.2h0m.2-.2h0m.5 1h0m.5 .6h0m1.8-1.2h0m3 1.1h0m1.3 .6h0m.3-1.2h0m.1-.6h0m.2-.6h0m.8 1.2h0m3.1 1.3h0m2.1-1.3h0m1.4 1h0m.8 .2h0m.8-2.1h0m.9-.1h0m1.1 1.2h0m1.5-.2h0m1.1 .6h0m.8 0h0m.1 2.6h0m-1.8-.1h0m-1.3-.9h0m-1.3 1.9h0m-1.3-2.4h0m-1.9 1.2h0m-1.4-.4h0m-.9 .5h0m-.4-.7h0m-2.5 2.1h0m-4.7-2.5h0m-.6 .7h0m-.2-.5h0m-1.7 1.1h0m-.9 .3h0m-.3-1.6h0m-.6 1.7h0m-1.7-.8h0m-.8 1.7h0m-1 0h0m0-2.4h0m-.9 2h0m-.1-2.3h0m-1.5 1.9h0m-1.3 0h0m-2.5 .6h0m-1.1-.3h0m-1.6-.3h0m-.3-1.9h0m-1.2 .1h0m-.2 .7h0m-1.8-.6h0m-.4 2.6h0m-.7-.9h0m-.8 .3h0m-.7-.4h0m-1.1-.8h0m-.5 1h0m-.4-1.4h0m-2.2 .5h0m-1.8 .8h0m-.6-.5h0m-.6-1h0m-.9 2.1h0m-1.2-2h0m-1.2-.5h0m-1.4 2h0m-.2-1.4h0m-.8-.4h0m-3.5 .4h0m-4.4 .4h0m-.1-.4h0m5.9 3.2h0m3.9 .1h0m.2 1.8h0m.2-2.2h0m.2 .3h0m1.9 .7h0m.4-.6h0m.6 1.5h0m0-1.4h0m.9 1h0m.7-1h0m.7 .3h0m.1-.2h0m.7-1.1h0m.6 .4h0m.3 .5h0m1.1 .9h0m.6-1.5h0m2 .6h0m.7-.7h0m1.9-.2h0m.4 2h0m1 .4h0m4.1-1.7h0m.1-.2h0m.5 0h0m.8 1.8h0m2.8 .4h0m1.4-.4h0m.1 0h0m.5-.6h0m.5-1.4h0m1.7 1.6h0m.1-.5h0m.4-.9h0m3 2.1h0m1.5-2.7h0m.7 1.3h0m.7 1.2h0m2.2 0h0m.3-1.6h0m2 1.7h0m.2-1.3h0m.1-.8h0m.5-.2h0m1.3 2.5h0m.5-2.7h0m.1 2h0m.3-.3h0m.4 .3h0m1.8 .5h0m.7-2.5h0m1.6 2.7h0m0-2.3h0m1.5 2.1h0m1-.9h0m1.6-.4h0m-1.7 3.3h0m-1.7-.6h0m-.6 .2h0m-1.3 1.7h0m-.7-1.4h0m-1.1-.1h0m-.9 .5h0m-.6-.4h0m-.6 1.4h0m-1.7-1.6h0m-3.5 1.5h0m-1.6-1.1h0m-.2-.7h0m-.8 1h0m-2.7-.9h0m-4-.9h0m-.3 2.1h0m-4.1-.1h0m-.4-.9h0m-.3-1.1h0m-1.9 2.1h0m-1.1 0h0m-.1-.8h0m-.1 .1h0m-.1 .5h0m-3.1-1.9h0m-.2 .3h0m-1.5 1.4h0m-.1 .4h0m-.3-1.5h0m-.2 1.8h0m-1.2-2.3h0m-.8 2.4h0m-.3-.2h0m-.9-1.5h0m-1.9-.7h0m-2 .2h0m-.7-.2h0m0-.1h0m-.9 2.3h0m-.4 0h0m-.2-1.9h0m-2.7-.3h0m-1.6 2.2h0m-.9-.2h0m-.3 .4h0m-2.4-.1h0m0-.1h0m-1.3-.6h0m-14.9 .8h0m-11 .2h0m22 .1h0m4.2 1.9h0m.8 .8h0m2-2h0m0 1.3h0m.6-1.5h0m1.2 0h0m.1 .9h0m1.8 1.3h0m.7-1.6h0m.2 1.1h0m.1 .5h0m.2-1.6h0m1.5 .4h0m.4-1.3h0m1.2 1.5h0m2.3-1.6h0m3.3 2.6h0m1.6-1.9h0m.4 .7h0m1 1.4h0m.3-.6h0m7.9-2.2h0m.5 2.5h0m.4-2h0m.5 .6h0m.6 .1h0m5.3-.1h0m1.1-.7h0m1.1 .9h0m2.1-.5h0m.1 1.4h0m1-1.6h0m.1 .8h0m.5 .8h0m1.6-.7h0m2.1 .9h0m.6-.4h0m.5 .8h0m1 0h0m0-1.7h0m.7 .7h0m.4 .9h0m2-1.8h0m.3 .7h0m1.1-1.7h0m.1 1.1h0m1.3 0h0m.1-.1h0m-2.8 2.7h0m-2 .8h0m-.8-.1h0m-6.4 .7h0m-1 .5h0m-1-2.4h0m-.3 .7h0m-1.5-.6h0m0 .4h0m-.6 1.6h0m-2.6-.5h0m-.9-1.2h0m-2.9-.1h0m-1.3-.1h0m-1.8-.1h0m-1-.1h0m-1 1.2h0m-.9 1.2h0m-.9-2.3h0m-3.5 2.4h0m0-.1h0m-.2 0h0m-1.2-.1h0m-.7-2.2h0m0 1.2h0m-1.6-.4h0m-1.2 1.8h0m-1.7-1.3h0m-1.7 .6h0m-2.8-1.5h0m-.9 .9h0m-.1-1.1h0m-.3-.4h0m-.4 .1h0m-.8 .9h0m-.3 1.7h0m-3.6-1.3h0m-.5-.1h0m-.4-.6h0m0 1.3h0m0-2h0m-.8 .2h0m-.6 1h0m-3.9-1h0m7.6 4h0m.2 .9h0m.3-2h0m.2 1.1h0m.8-.8h0m2.6 1.8h0m3.1-.8h0m1.3-1.4h0m.4 1.6h0m1.1-1h0m.1 1.5h0m1-2.1h0m.2 2.6h0m2.4-1.5h0m2.1 1.6h0m0-1.6h0m.1 1h0m.6-1.3h0m.2-.5h0m.1 1.7h0m.5-2h0m.3 2.2h0m2.9 .5h0m.5-.7h0m.5-1.7h0m1 1.1h0m.3-.4h0m.6 .1h0m.2-.9h0m.2 2.6h0m1.4-2.2h0m2.6 1.1h0m.1 .3h0m.1-1.5h0m3.2-.6h0m.9 1.1h0m1.2 1.5h0m2-.9h0m.1 .6h0m1.8-.6h0m2.6-1.4h0m1 1.7h0m.3-.7h0m1.6-.8h0m.4 .3h0m0 .8h0m1.3 .1h0m.1-.6h0m.5-.6h0m-2.5 4.3h0m-.1-.6h0m-1.4 1.3h0m-2.5-.6h0m-.1 .9h0m-1-1.4h0m-1.8 1.1h0m-1.7-.5h0m-.5-.6h0m-.1 1.1h0m-.1-.1h0m-.9-1.9h0m-.9 .1h0m-3 2.3h0m-2.9-.8h0m0-.8h0m-1.8-.3h0m-.7-.4h0m-.3 .5h0m-2.5-.6h0m-2.6 .9h0m-.8 .1h0m-.3 0h0m-5.3-.2h0m-.1-1.2h0m-1 .6h0m-1.2 1.2h0m-.8 .4h0m-3.7 .5h0m-.6-2.1h0m-1.1 2.2h0m-1.6-.8h0m-2.1 .5h0m-6.6 1.6h0m7.2-.8h0m.4 2.5h0m.4-1.7h0m.3 .9h0m.5-1.4h0m1.9 .1h0m.3 .6h0m.5-.8h0m1.1 .4h0m.3 1.4h0m1.2 .5h0m3.9-2.7h0m.5 1.1h0m.4-1h0m1.2 .6h0m2.2 1.7h0m.7-.4h0m.1-.7h0m3.5-.1h0m3.6 1.2h0m7-1h0m.4-.1h0m1.3 .7h0m.6-1.1h0m.9-1h0m.3 2.8h0m3.3-2.4h0m.2 1.2h0m2-1.2h0m.7-.1h0m0-.3h0m.8 .9h0m5.8 1.7h0m2.8-.7h0m1.1 .8h0m2.8-.7h0m1.7 2h0m-1.7-.9h0m0 1.4h0m-.5 .1h0m-.1-.3h0m-1.7-1.2h0m-.5 1.4h0m-.1-1h0m-1.2 1.4h0m-.2-1.9h0m-.4 .4h0m-1.5 .5h0m-1.8 .6h0m-.6 .3h0m-6.8-.2h0m-9.1-1.4h0m-4.3-.3h0m-.6 .2h0m-.6 .2h0m-.2 .5h0m-6-.1h0m-.4 .4h0m-2.4 0h0m-1.6-1.1h0m-.1 1.9h0m-.7-.2h0m-.8-1.2h0m-.2 1.5h0m-1.5-1.7h0m-.2 2.1h0m-2.1 0h0m-1.8-2.4h0m-.2 .2h0m-.9 1.4h0m-2.3-1.2h0m-.2-.2h0m-9.3 4.5h0m11.6-.4h0m2.1 .9h0m.3-.2h0m.5-1.4h0m.5 2.1h0m0-2.2h0m.4 .1h0m2.4 .5h0m0 .5h0m.5 .9h0m0-1.1h0m2.6-1.2h0m.1 2.2h0m.3-2.2h0m.2 .7h0m18.8 1.6h0m11.4-.4h0m2.2 .2h0m1.6-2.1h0m.6 1.2h0m1 1.3h0m1.1-.7h0m1.7-.2h0m0-.7h0m0 .4h0m-4.7 1.8h0m-.2 1.3h0m-36.2 .6h0m-1.5-1.4h0m-.6 .6h0m-.1-.2h0m-1.2-.6h0m-1.8 1.8h0m-.4-1h0m-.5-.7h0m1.8 4.9h0m.6-1h0m.5-1.3h0m.7 1.3h0m1 1h0m1 0h0m10.9 1h0m-13.2 1h0m-1.7 .5h0m-9.2-2h0m14 3.8h0m-8.3 2.9h0m-6.1 .2h0m-3.5 .3h0m31.7 5.4h0m-25.2 4.5h0" stroke="#e47068" stroke-width="1.52" stroke-linecap="round" fill="none"/>
<path d="M443 189.2h0m-61.2 17h0m8.3 .8h0m-4.9 1.3h0m-2.5 .3h0m-2 .8h0m-.5-.5h0m6.6 1.7h0m1.5 .1h0m3 .1h0m28.5 3.5h0m-30.1 1h0m-2.6-1.9h0m-.9-.4h0m-.4 1.1h0m-.4-.4h0m-.3 1.1h0m-.4-1.2h0m-.4 .8h0m-1 1h0m-.6-.5h0m-1.1 .8h0m1.2 2.2h0m3.9-1.3h0m.4 1.3h0m.7 .7h0m.7-2h0m0 1.1h0m2.1-1.1h0m.5-.4h0m.1 1.4h0m1 1h0m-.3 .4h0m-1.1 2.8h0m-.6-2.1h0m-1.9 .7h0m-.3 .8h0m-.8-.9h0m-.2 1.6h0m-2.7-1.5h0m-3-.5h0m-.8 .3h0m-.1 .6h0m-1.5 1.3h0m.9 0h0m.8 .8h0m.8-.1h0m4 1.7h0m1.3-2h0m0 .4h0m1.3-.1h0m1.1 1h0m1-1.1h0m.6 1.1h0m.9-1.6h0m-1.6 4.6h0m-1-1.7h0m-1.6 2.2h0m-.8 .1h0m-3 .4h0m-1.3 0h0m-.8-2.8h0m-3.1 1.9h0m.1 1.5h0m.8 .1h0m1.4 .5h0m.4 1.8h0m3.4-1.1h0m.2-.4h0m.5-.6h0m1.4 .7h0m2.7-1.1h0m-2.6 2.9h0m-1.6 .8h0m-1.3 .6h0m-.1-.7h0m-.8 .3h0m-.6-.4h0m35.5 16.4h0" stroke="#d35ee6" stroke-width="1.52" stroke-linecap="round" fill="none"/>
<path d="M385.5 180.2h0m1.4 2.2h0m44.2 1.6h0m-42.7 .7h0m-3.3 .5h0m-.2 .6h0m1.4 1.9h0m3.9 1.2h0m0-2.2h0m.5-.6h0m-.1 3.1h0m-.9 .7h0m-1.6-.5h0m-2 2h0m-.5-.6h0m5.6 1.9h0m-1.1 5h0m-1.8-2.3h0m-3.9 2h0m-.8 1.2h0m4.3 .8h0" stroke="#48b9cc" stroke-width="1.52" stroke-linecap="round" fill="none"/>
<path d="M402.3 233h0m-1.6 .9h0m-.6-2.9h0m-.4 2.9h0m-1.3-.3h0m1 3.3h0m.1-.6h0m2.7 .4h0m-.2 1.1h0m-1.6 0h0m-.1 .4h0m-.2 1.2h0m-1.7-1.5h0m-.4 1.7h0m-1 1.3h0m2.7 1.2h0m.4-1.7h0m1.9 .8h0m.1-1.1h0m.1 .5h0m.2 .7h0m-2.6 3.9h0m-1.6 3.4h0m.7-.8h0m.1-.7h0m.2-.3h0m.5 .9h0m.5-1.4h0m1.3 .1h0m1.7 .9h0m1.1 1.4h0m1.6 .7h0m-1.4-.3h0m-.5 .4h0m-.5 .8h0m-1.7 .1h0m-1.9-.7h0m-.1-.5h0m-2 2.7h0m4.4 2.7h0m.3-.5h0m.3-.8h0m0-.7h0m1.6 .4h0m0 .9h0m.2 .3h0m1.3-1.8h0m2.6 1.8h0m.7 0h0m3.7 3h0m-.1 .4h0m-1.4-.2h0m-2.1-2.2h0m-.8 1.2h0m-2.9 .2h0m-.8 1.3h0m-1.3-1.9h0m-.5-.7h0m-1.1 .6h0m0-.4h0m0 2.1h0m-4-.3h0m2.6 1.3h0m3.4 1.8h0m1.5 .3h0m.4-.6h0m0 .3h0m.2 0h0m1.4-1.7h0m.8 2.2h0m.9-.1h0m.6-1.6h0m2.4-1.2h0m1.8 1.4h0m3.1 3.7h0m-.7-2.1h0m-1.7 .7h0m-1-.7h0m-.7 1.7h0m-1.2 .7h0m-1 .2h0m-.6-1.5h0m-.4-.3h0m-.4 .2h0m-2.3-.1h0m-1.8 2h0m-.2-.4h0m-.9-1h0m3.5 3.2h0m.4-.9h0m.1 1.8h0m.6-1h0m.5 .6h0m.9-1h0m2.5-1.1h0" stroke="#5fb43c" stroke-width="1.52" stroke-linecap="round" fill="none"/>
<path d="M411.2 239.6h0m-2.6 2h0m1.8 .8h0" stroke="#5a74d0" stroke-width="1.52" stroke-linecap="round" fill="none"/>
<path d="M427 242.6h0m.1 .1h0m2.3-1h0m.2 .5h0m4.2 3h0m-2-1.8h0m-1 1.1h0m-.9-.9h0m-1.5 2.1h0m-1.7-2.6h0m-1.9 1.8h0m-.5 3.8h0m.5-2.2h0m.4 .6h0m.2 0h0m0-.4h0m2.1-.3h0m2.9-.2h0m1.2 .5h0m2.9 4.2h0m-.3 0h0m-10-.5h0m-.3 .3h0m0-1.1h0m-1.1-.3h0m-.3 4.1h0m.5 .5h0m.2-.2h0m.4-1.4h0m1.9 1.2h0m2.2 1h0m2-.6h0m1.8-.2h0m1.5-.4h0m.3-.1h0m1.4-1.2h0m.6 2.4h0m0-.5h0m.1-.9h0m1.1 3.5h0m-1.8 .1h0m-1.4-1h0m-.5 1.7h0m-.9-2.3h0m-3.6 2h0m-.7-2h0m-1.1 0h0m-1.1 1.8h0m-3.4 0h0m-1.2 .5h0m-.9-2.2h0m-1.6 3.4h0m.7 1.6h0m2.5-1.9h0m.8 2.4h0m.8-.6h0m2.5-1.4h0m.9 .1h0m2.6 .6h0m.1 .1h0m3.3-1.3h0m.7 4.9h0m-1.8-.8h0m-.9 .3h0m-.1 .1h0m-1 0h0m-1.9 1.1h0m-.2-1h0m-2.1-1.7h0m-1.1 1.6h0m-.1 1.3h0m-1.4-1.7h0m-.8 .2h0m-1.8-.3h0m4.4 3.8h0m1.7-.9h0m.5 1.7h0m.3-2.7h0m1 .4h0m.1 0h0m.1 2h0m1-.5h0m.3-1.1h0m.2 .9h0" stroke="#b09a1e" stroke-width="1.52" stroke-linecap="round" fill="none"/>
<path d="M400 226.7h0m1 2h0m1.2 3.9h0m-.8 .5h0m-2.8 2.4h0m1.4 1.4h0m.4-.9h0m.1-.4h0m.1-.3h0m.2 .6h0m.1-1.8h0m.3 2.8h0m.6-2.8h0m.6 2h0m0 .4h0m0 1.1h0m-.1 1.3h0m-1.1 .5h0m-.5-1.1h0m-.2-1h0m-.7 2.4h0m0-.8h0m-1.8 .8h0m-.8 .2h0m-.2 .7h0m1.2 2.3h0m1.3-1.3h0m1.8 .6h0m1.4 2.5h0m-.4-1.2h0m-.1 2.4h0m-.6-.5h0m-1.3-1.2h0m-.9-.9h0m-.5 1.2h0m-1.4 .5h0m-.7 1.8h0m.2-.6h0m.3 1.4h0m.4 .3h0m0 0h0m.9 .2h0m.5 .2h0m.3-1.1h0m.3 .5h0m.1 .7h0m.8 .1h0m1.9-.9h0m1.6 .4h0m.8 3.7h0m-1.1-1.5h0m-1.6 1.4h0m-1.6-1.3h0m-1.2 1.6h0m-.8-1.3h0m-.5 1.7h0m.4 .6h0m4.2 1.2h0m.3 .3h0m.3-2.1h0m.1 2h0m.9-2.2h0m.2 1.9h0m.6-.1h0m.3-.7h0m.1 .1h0m.2-1.3h0m.7 .2h0m.4 .2h0m5.5 1.7h0m.7 3.3h0m-.5-.7h0m-.9-.8h0m-3.2 .3h0m-.2 1h0m-.3-.8h0m-.6-.8h0m-.5 1.4h0m-.6-1.8h0m-.3-.1h0m-2.7 1.2h0m-1-.8h0m-.2 1.7h0m-.6-.5h0m-.3 .9h0m-.6-1.1h0m2 1.5h0m.5 1.8h0m.5 .4h0m.9 .2h0m1.5-2.2h0m.2 2.3h0m.9-1.3h0m0 1.4h0m.9-1.1h0m.8 0h0m7.1 2.8h0m-.1-1.1h0m-2.5 1.5h0m0-1h0m-.5 1h0m-.4 .3h0m-.8-1.5h0m-1.7 .8h0m-.1-.3h0m-.2-.2h0m-.2 .4h0m-.5-1h0m-1.8 .6h0m-.2 1.1h0m-.4-.6h0m-1.9-1.1h0m-1.7 .1h0m-3.1 0h0m5.5 3.7h0m2.2-.6h0m.4 2.1h0m1-2.3h0m2.1-.1h0m.5 .6h0m.2 1.6h0m2.3-1.9h0m.3-.3h0m-2.3 5.7h0" stroke="#5fb43c" stroke-width="1.52" stroke-linecap="round" fill="none"/>
<path d="M416.9 170.8h0m.7-.4h0m.7-1.2h0m0 .8h0m2.7 0h0m3.8 1.5h0m-2.2 .5h0m-.5 1.4h0m-2.8-.8h0m-1.8 1.1h0m-1.9-1.3h0m-.1-1.2h0m-.1 2.7h0m-2-.6h0m-.5-.6h0m-4.7 .5h0m-.9 .9h0m4.8 .3h0m3.5-.3h0m.5 1.8h0m1.5 .9h0m.6-.9h0m2-.6h0m3.3 .4h0m.3 .5h0m-1.1 1.1h0m-.8 2.3h0m-2.9-2.6h0m-1.9 1.6h0m-3.8 .2h0m-.1-.8h0m-.5-1h0m-.8 2.8h0m-.7-1.9h0m-6.7 .4h0m-18.3 2.1h0m15 1.6h0m1.2-1.7h0m.2 1.4h0m1.2-.4h0m1.4-1.3h0m1.8 .2h0m2.9 1.1h0m.8 .1h0m.1-.3h0m2.3-.8h0m.4 1.6h0m.1 1h0m.6-.8h0m3.5 .2h0m.5 .6h0m1.1-1.3h0m.5 .5h0m1.4 .5h0m.6-1.9h0m1-.3h0m.5 2h0m9.1-.8h0m.6-1.3h0m.5 1.8h0m.4-1.3h0m.2 .7h0m1.6-.4h0m4.5 3.2h0m-1-.3h0m-1.4 .4h0m-1.3 .6h0m-.5 .8h0m-.6-.6h0m-.2-1.8h0m-.6 2.2h0m-.3 .3h0m-4.2 0h0m-8.7-.9h0m-2.4-.6h0m-1-.9h0m-2 .8h0m-1.5 .3h0m-1.1 .6h0m-4.3 0h0m-.5-1.7h0m-1.6 1.1h0m-.5-.4h0m-1.7-1.1h0m-1.2 1.1h0m-1.3 .9h0m-.2-1.8h0m-.8-.2h0m-.8 0h0m-10.1 4.9h0m7.2-.6h0m.6 .1h0m.3-1.4h0m1.4 2.6h0m.5 .1h0m.9-.2h0m1-2.1h0m1.6 2.1h0m2.8-1.3h0m6.4-.8h0m2.7 2.2h0m.2-.9h0m.1-.7h0m2.7 1.5h0m.1-1.6h0m.5-.2h0m1.7 1.6h0m.6 .3h0m.7-.9h0m.2-1.5h0m3.6 1.2h0m2.8-.4h0m2.8 .5h0m1.4 0h0m3.3-.9h0m0-.6h0m1.9 1.3h0m.2-.6h0m.1 1.6h0m.7 .4h0m0-1.2h0m.8-.6h0m3.6-.2h0m.6 4.3h0m-2.1 .6h0m0-1.6h0m-3.6-1.1h0m-.1 .1h0m-.7 2.8h0m-1.1-.2h0m-1.3-.8h0m-1.6-1.3h0m-.4 .3h0m-.2 .9h0m-.8 .9h0m-.4-2.3h0m-1.7-.2h0m-.5 2.6h0m-.5-2.3h0m-.9 1.3h0m-6.1 .4h0m-1.1-.2h0m-3.2-1.6h0m-.1-.3h0m-.7 .5h0m-.1-.3h0m-.6 .1h0m-1.1 1.8h0m-.2-.6h0m-11.3-1.6h0m-.9 1.6h0m-2.4 1h0m-.2-1.7h0m-1.3 .7h0m-1.5-1.2h0m-1.4 5.2h0m.5-1.7h0m.3 1.3h0m.3-.9h0m.2-.3h0m.8 .9h0m1.5-.5h0m.1 1.4h0m1.8-.2h0m1.2 0h0m1.8-2.3h0m.4 1.2h0m6.1-.3h0m.7 .4h0m1 .6h0m4.3 .1h0m.6-1.1h0m.4-1h0m1.9 .7h0m.7 1.8h0m2.1-.5h0m.3 .1h0m3.8 0h0m.2-.5h0m4.4 .1h0m5.3-1.5h0m2.8-.3h0m.5 1.6h0m1 1h0m3.6-1.6h0m3.2-.1h0m1 1.8h0m2.9 2.8h0m-1.4-2.2h0m-.8 .4h0m-.2 .9h0m-1-1.4h0m-.2 .8h0m-.2 1.7h0m-.2-.7h0m-1.4-.5h0m-.1-.7h0m-.7 1.7h0m-.6-.6h0m-3.2 0h0m-.5-1.8h0m-.9 .8h0m-.4 .5h0m-1.4 1.1h0m-4.3-1.4h0m-4.9 1.5h0m0-1h0m-2.1 1h0m-.3 0h0m-1.8-2.1h0m-.1 1.9h0m-.7-1.1h0m0 .7h0m-1.9-.4h0m-.1 .2h0m-.3 .6h0m-.2-1h0m-.2 .9h0m-.2-1.7h0m-.5 .8h0m0-.1h0m-1 .8h0m-1.2-1.1h0m-.1-.8h0m-1 1.3h0m-.4-.1h0m-1.1 1.3h0m-.1-2.3h0m-2.2 1.6h0m-.3-.7h0m-1.3-.9h0m-2.6 .1h0m-.8 2.2h0m-.1-.5h0m-.2-.1h0m-.5-1.2h0m-1.6 1h0m0 .4h0m-.6-1.9h0m-.4 1.3h0m-.9-1.5h0m-1.9 1h0m-.4-1.1h0m-.4 1.1h0m-1.3 .4h0m-.1 .1h0m-4.9-1.6h0m3 3.3h0m.6 .1h0m.8-.2h0m.8 .8h0m.1-.8h0m.5 1.5h0m1.6-.4h0m.6-1h0m2 2.3h0m.7-2.1h0m1.1 .8h0m.2-.4h0m0 1.3h0m.1-.4h0m1.4-1.2h0m2.8 .4h0m.1 1.6h0m.6-2.4h0m.2 1.8h0m.1-2.2h0m.5 1.9h0m2.9 .3h0m.6-2h0m.5-.2h0m1.3 2.9h0m2.9-1.8h0m.3-.6h0m1.3 1.1h0m3.1-.5h0m.3 .7h0m.4-1.8h0m.7 .8h0m0-.7h0m.1 1.1h0m2.9-.6h0m1.1-.1h0m1.7 .7h0m.2-.5h0m6.9-.6h0m2.6 1.7h0m.3 .6h0m.5 .1h0m.9-1.3h0m3.3-.1h0m.1 1.7h0m1.3-.1h0m.2-1.9h0m1.6 .7h0m.7-1.1h0m.1 .4h0m.2 1.1h0m1.1 .1h0m.4 .3h0m1.1 1.5h0m-.9 .2h0m-.5-.8h0m-5.8 1.1h0m-.7 .7h0m-.8 .9h0m-2.4-1.9h0m-1.5 1.2h0m-5-.2h0m-3.6 .5h0m-2.3-2h0m-.3 1h0m-1.5 1.4h0m-.9-.9h0m-1.9 .7h0m-.8-2.7h0m-.2 2.2h0m-.4-.9h0m-1.3-.7h0m-2.2 1.3h0m-.7-1.6h0m-.9 1.6h0m-.7-.2h0m-.9-.2h0m-.2 .2h0m-1.4-.5h0m-.9 .8h0m-.1-.5h0m-1.6-.4h0m-5.9-.2h0m0 .8h0m-.6-1.1h0m-.5 1.2h0m-1.2-.2h0m-.5-.3h0m-.1 0h0m-3.3 1.5h0m-.1 .1h0m-17.8 2h0m14-.6h0m.9 0h0m0-1.1h0m.8 2.5h0m2.2-1.5h0m1-.3h0m.5 1.1h0m2.7-1.8h0m.3 1.1h0m.2 .1h0m.8-1.4h0m0 .2h0m1.3 1.6h0m1.1-.2h0m.9-1.4h0m.1 2.5h0m.1 .1h0m.9-.7h0m.5-1.3h0m.7-.2h0m3 1.2h0m1 .4h0m.7 0h0m1.4-2h0m1.1 .6h0m.5 1h0m1-.6h0m.3 .6h0m.9-.1h0m0 .2h0m.7-.8h0m0 .2h0m.5-.3h0m.5-.1h0m3.9 .5h0m1 .7h0m.5 0h0m.7-2.1h0m.4 .1h0m.4 2.1h0m.6 0h0m.2-1.8h0m.6 1.2h0m.4-1.2h0m.8 2.5h0m1.2-2.2h0m.6 .7h0m1.7 .6h0m.2-1.8h0m.4-.1h0m.7 2.7h0m1.6-.4h0m1.6 .2h0m2.6-.5h0m1.2-1.4h0m1.7 0h0m1 1.5h0m.2 0h0m2.2-.6h0m.2 .2h0m2.1-1.6h0m.2 1.2h0m.8 .3h0m1.8-.4h0m.9 0h0m1.8 4.6h0m-.7-1.1h0m0-.4h0m-2.1-.7h0m-.9-.6h0m-.6 .8h0m-.9 .5h0m-3 1.2h0m-1-2h0m-.4 2.3h0m-.5-.7h0m-1.7 .4h0m-1.3-1.4h0m-1.6 1h0m-2.2-.5h0m-.2 1h0m-1.7-1.8h0m-1.1-.7h0m-2 .2h0m-1.2 1.4h0m-2.7 .7h0m-1.6-1.6h0m-1.4 2h0m-2.2-.1h0m-.7 0h0m-1.4-.1h0m-.1-.2h0m-2-2.2h0m-.9 2h0m-2.5-.8h0m-.4-1.3h0m-.9 1.3h0m-2-.5h0m-9 0h0m-.1 .7h0m-4.9 .7h0m-.5-1.6h0m-2.7-.6h0m-.7 .9h0m-5.4 .4h0m-2.5-.2h0m-4 .7h0m-2.6 .9h0m-1.6-.3h0m-6.6 .4h0m3.4 1.4h0m3.1 .2h0m16.9-.3h0m5-.5h0m.6 1.7h0m.2-2.3h0m2.4 1.5h0m.9-.3h0m1.7 .2h0m.1-.6h0m1.6 1.5h0m3.1-2.2h0m.8 1h0m.3 1.3h0m.3-2h0m1.6 2.3h0m.2-2.2h0m2.9 .1h0m.2 1.4h0m2-1.5h0m1.1 .6h0m.3 1.4h0m.1 0h0m1-1.6h0m.7-.5h0m.5 2.3h0m.6-2.3h0m.8 .2h0m.2 .2h0m.6-.6h0m1.9-.3h0m1 .7h0m.1-.2h0m.3-.6h0m.3 .1h0m2.9 1h0m.4-.6h0m2.7 .5h0m0-.7h0m1.8 1.3h0m1.9-1h0m.5 0h0m2.4 2.2h0m0-2.7h0m.7 1.8h0m.3 .8h0m.8-1.4h0m1.8-.7h0m.9-.3h0m0 2.2h0m2.1-2.5h0m4.1 2.9h0m2.1-1.8h0m1 .9h0m1-.5h0m2.2-.3h0m.1 3.7h0m-4.6 .3h0m-1.2-2.2h0m-.7 2.9h0m-.6-.3h0m-1.5-.1h0m-1.2-1h0m-3.1-1.5h0m-1.8 .9h0m-.9 .4h0m-2.9-1.3h0m-.5 2h0m-1.2 .1h0m-.3-1h0m-.7-.1h0m-.9-1h0m-.9 1h0m-1.2-.8h0m-.4 1.7h0m-3.4-.3h0m-.8 .4h0m-.5-1.9h0m-1.8 2.7h0m-.4-1.3h0m-.5-1.1h0m-.2 1h0m-1.1-.7h0m-1 .8h0m-.5 1.1h0m-.9-.9h0m-1.2-1.7h0m-.1 2.6h0m-1.1-2.1h0m-2.2 .4h0m-2.3 1.3h0m-.8 .2h0m-.8 0h0m-.1-.9h0m-.3-.1h0m-2.2-.7h0m-.2 1.8h0m-.1-2.1h0m-.5 .4h0m-2 2.1h0m-.7-2.9h0m-1.1 .5h0m-1.7 .7h0m-3.4 .8h0m-.8-.7h0m-.5-1.2h0m-.2 1.7h0m-1-1.3h0m-15.5 .6h0m13.3 3.6h0m2.9 .8h0m.3-1.1h0m4.4-.4h0m1.5 1.6h0m.9 .3h0m2.6-1.7h0m1-1h0m0 2.4h0m1-1h0m1.6 .7h0m.8-2h0m.1 .9h0m.1 .2h0m1 .1h0m.1-1.1h0m1.8 0h0m1.1-.2h0m.8 2.6h0m.1-.9h0m1.5-1.7h0m.2 2.6h0m.3-1.3h0m7-1.1h0m.3 1.2h0m1.2-1.2h0m.1 .5h0m1.6 1.2h0m.2-1.6h0m.1 2.2h0m.7-.9h0m.9 1h0m2.7-2.3h0m.7 .4h0m2.1 .8h0m.3 .8h0m.1-.4h0m.2-.3h0m.1-.6h0m4.1-1.1h0m2.6 1.6h0m3.6 .5h0m.7-1h0m.3-.2h0m.1-.7h0m0 1h0m.8 1.2h0m2.7-2.2h0m0 2.1h0m.9-.7h0m.4-.1h0m.7-1.2h0m-4.6 5.1h0m-.3 .3h0m-.7 .1h0m-1.4 0h0m0-2.9h0m-.7 1.3h0m-2.4 .6h0m-.8-.9h0m-.3 .5h0m-1.4-.6h0m-3.1 1.8h0m-.1 .2h0m-.3-.9h0m-.6-.8h0m-2.1-.2h0m-1.5 .7h0m-3.2-.8h0m-1.6 .9h0m-1.4 .5h0m-1.7-2.3h0m-.9 1.2h0m-1.2 1.2h0m-8.2-.9h0m-6.5 .8h0m-1.3 .4h0m-.5-1h0m-1-1.6h0m-.2 .4h0m0 .6h0m-.2 1.6h0m-1.2-1.2h0m-1.3-1.5h0m-4.3 .3h0m-4.6 .8h0m-1.8 .7h0m-13.3-.3h0m3.9 2.2h0m12.3-.1h0m.7-.1h0m2.1 0h0m5.8 .6h0m0-.5h0m4.6 .5h0m.6-.3h0m1.3-.2h0m2.9 1h0m.7 1.2h0m.2-1.5h0m1.2 1h0m.1-.4h0m2-.6h0m1.5 .1h0m.1 .1h0m1 .1h0m1.7 .4h0m.5-.4h0m.6-.6h0m1.1 .8h0m.2-.6h0m.3 1.2h0m1.4-2.3h0m2.9 1.9h0m.3-.5h0m2.7-.2h0m1.8-1h0m1.2 2.1h0m2.6 .3h0m.4 .2h0m2.6-2.2h0m.6 .7h0m4.5 1.4h0m1.7-1h0m0 .4h0m1.8-.5h0m-3.3 2h0m-.1-.7h0m-.7 .9h0m-.5 .9h0m-.4 1.1h0m-1-2.3h0m-1.4 1.4h0m-1.9 .3h0m-.1-.2h0m-1.6-1.7h0m-.8 2.5h0m-1.7-.4h0m-1.2 .3h0m-.3-.6h0m-.2-1.8h0m-.1 2.3h0m-1.2-1.3h0m-.6 .9h0m-.7-1.8h0m-.4-.2h0m-.8 .3h0m-2.2 .5h0m-.5 0h0m-4.8 1.6h0m-.7-1.8h0m-1 1.3h0m-2.3-1.8h0m-.5 1.5h0m-2.1-1h0m-.3 .6h0m-3.2-1h0m-.9 .7h0m-1.1-.3h0m-2.6 2h0m-.9-1.3h0m-3.2 .4h0m-2.7-1.6h0m-2.6 .2h0m-.5 1.6h0m-.9 .6h0m-.6-2h0m-.7-.6h0m-20.4 4.8h0m24.1-.2h0m1.7-1.3h0m1.1 .6h0m2.9 0h0m1.7-1h0m1.1 .7h0m3 0h0m.9 1.4h0m.1-1.2h0m.8 .6h0m1.5-.1h0m3.4 1.4h0m1.7-.4h0m3.7-2.1h0m.2 .4h0m1.3 1.3h0m.1 .1h0m.6-.4h0m.4 .1h0m.3 .5h0m.5 .3h0m1.4-2.7h0m1.4 1.5h0m.5-.9h0m.8 .6h0m2.7 1h0m3.9 .1h0m2.1-.3h0m.7-1.9h0m.8 .9h0m1.6 1.2h0m.1 .3h0m.3 .4h0m.2 0h0m.4-1.9h0m2.5-.5h0m.8 1.3h0m0-1.8h0m-7.4 5.5h0m-1.6-1.7h0m-1.3 1.3h0m-1.3-1.6h0m-.1 1.7h0m-.6-.4h0m-.3-1.7h0m0 2.6h0m-1.3-.6h0m-.3-1.7h0m-.4 2h0m-.9-1.4h0m-.1-.9h0m0 .1h0m-1.2 1.6h0m-1.7 .6h0m-.2-1.3h0m-1.2-.4h0m-.1 1.3h0m-.2-1h0m-1.1 1.1h0m0-1.7h0m-1.6 2.3h0m-.8-.8h0m-.1-.4h0m-.5 0h0m-.4-.4h0m0 0h0m-.8 0h0m-.7 0h0m-.9 .9h0m-.4-1.2h0m-1.4 .7h0m-1-.2h0m-1.3-1.1h0m-.6 2.1h0m-.5-1.5h0m-1.1-.5h0m-1.9 1.6h0m-.7-1.6h0m-.8 .6h0m-.9 .6h0m-.7 .6h0m-1.9-.4h0m-.7 .1h0m-2-.3h0m-.8 .2h0m-1.4 .1h0m-.1-.1h0m-.6-1.6h0m-.3 1.1h0m-.7 .1h0m-.4 1.4h0m-7.3 2.8h0m8.8 .2h0m.9 0h0m.3-1.9h0m.8 .2h0m.2 1.9h0m0-.9h0m.2-2h0m2.2 1.3h0m1.2 .9h0m2.5 .5h0m.3-1.1h0m1.3 .1h0m1.4-.5h0m0 1h0m.2-.5h0m.5 .1h0m2.3-1h0m3.1-.1h0m.8 1.3h0m1.2-1.4h0m3.4-.2h0m4.4 1.8h0m2.1-.8h0m.6 1.2h0m1.2-2.2h0m3.8 .5h0m1.1-.3h0m11 2.2h0m3.2-1.4h0m1.6 .9h0m.3-.1h0m.1 1.8h0m-.5 .9h0m-.1-1h0m-.6 .1h0m-2.1-.6h0m-.9-.2h0m-5.8 2.5h0m-8.9-2.4h0m-.1-.2h0m-3.3 .6h0m-3 1.6h0m-4.8-1.2h0m-1.4-1.1h0m-5.1 .6h0m-.9 .8h0m-1 .6h0m-.3-.1h0m-1.2 0h0m-1.2 .6h0m-.4-.2h0m-.1-1.5h0m-.2-.2h0m-1-.5h0m-.8 1.9h0m-1.4-.6h0m-1.3-1h0m-.3 1.1h0m-1-1.1h0m-1.4 .1h0m-.8 2.4h0m-1-1.7h0m-.4-.5h0m-.3 1.7h0m2.9 3.3h0m.1-1.4h0m.6-1.3h0m.8 2.2h0m1.4 .3h0m.8-.7h0m1.3 .2h0m3.5-1h0m34.2 1.3h0m.3-.4h0m1.9-.4h0m1.6-.4h0m-2.3 2.2h0m-36.2 .5h0m-1.7-.6h0m-.7 1.9h0m-.2 .3h0m-.8-1.2h0m-3.3-.6h0m-1.1 1.6h0m-.4-.5h0m-.9-.6h0m1.5 4.4h0m3.7 0h0m0-2.1h0m2.2 1.4h0m.4-.1h0m.2-1.6h0m38.6-.1h0m-37.9 5.2h0m-.8 0h0m-1.9 .6h0m-.2-1.8h0m0 .2h0m-.3 1.1h0m-.3-.7h0m-.3 .3h0m-.5 1h0m-.8-.9h0m0-1.7h0m-15.8 4.6h0m7.8 .1h0m9.9-.4h0m6.3 1.9h0m5.1 2.5h0m4.6 .1h0m-7.2 4.6h0m-.1-1.7h0" stroke="#e47068" stroke-width="1.52" stroke-linecap="round" fill="none"/>
<path d="M386.6 182.9h0m1.5 2.2h0m-.2-1.7h0m-.2-.2h0m-1.9 4.2h0m4.6 .8h0m.2-1.6h0m.4 4.6h0m-.5-1.1h0m-3.5 1h0m-1.2-2.1h0m-.1 .6h0m-.4-.2h0m-.8 .1h0m-2.5 2.7h0m6.2 5.2h0m-3.5-1.5h0m-.2-.2h0m-1.8 .5h0m-.2 .1h0m44.3 39.9h0" stroke="#48b9cc" stroke-width="1.52" stroke-linecap="round" fill="none"/>
<path d="M427.4 242h0m.4 .8h0m.4 0h0m1.4-.9h0m1.5-.7h0m5.5 2.6h0m-3.2 1.6h0m-.7 .4h0m-.8-.5h0m-.7 .3h0m-.7-2h0m-2 2.3h0m-.2-.2h0m-1.6-2.6h0m-.1 .8h0m-2.8 2.7h0m1.4-.4h0m.7 2.1h0m.4-.7h0m.3-.3h0m.8 1.6h0m3.3-2.9h0m3.5 2.6h0m-1.4 2.2h0m-.5 .6h0m-1-.1h0m-.7-2.2h0m-1.5 .3h0m-.9 2.4h0m-2.6-2.6h0m-.3 1.7h0m-.7 .8h0m-.3-2h0m-.1 .7h0m-1.5-1.3h0m-.2 2.1h0m-.3-.2h0m-2 3.4h0m1.5-1.6h0m1.4 1.4h0m.7-.3h0m3.4 .2h0m1.9-.1h0m.6-.5h0m.8-.3h0m0-.4h0m3 1.1h0m.9-.3h0m.3-.7h0m-1.3 5h0m-1.1-.4h0m-.2-1.8h0m-1.4 1.6h0m-1.4-.7h0m-1.4-.4h0m-5.2 1.1h0m-1.2-1.4h0m-.3 1.7h0m-.6-1.4h0m-.7 .2h0m-2.3 3.3h0m1 1.1h0m4.3-1.5h0m.3-.8h0m1.9 1.6h0m.4-1.2h0m2.5-.7h0m0 1.9h0m.1-1.2h0m1.6 1.1h0m.4-.4h0m1.8-.9h0m1.8 1.4h0m.7-1.6h0m-1.4 3.5h0m-.4 .5h0m-1.2-.6h0m-1.1-.5h0m-1.2 1h0m-.2-.9h0m-.1-.3h0m-1.2 .5h0m-.6-.2h0m-1.5 2.2h0m-.8-1.8h0m-.5 .9h0m-.1-.1h0m-1.1-.5h0m-2.1 1.7h0m-2.6-2.9h0m3.2 4.8h0m5.8 .4h0m.8 .4h0m.1-1h0m.5 .1h0m0 .7h0m1.2-2h0m0 .9h0m.2 .4h0m.7-1.6h0m2.4 0h0m.9 0h0m-9 3.9h0m-.5-.6h0" stroke="#b09a1e" stroke-width="1.52" stroke-linecap="round" fill="none"/>
<path d="M383.2 205.5h0m1-.5h0m4.9 4.3h0m-3.6-1.8h0m-2.4 0h0m-2.7 .9h0m-2.8-1.2h0m7.8 4.6h0m1.6 .9h0m1.5-2.2h0m-.5 4.9h0m-.1 .4h0m-.6-2.6h0m-.8 1.5h0m-.8 .7h0m-1.2-.3h0m-2.6 .4h0m-1.9-.6h0m-1.1 3.3h0m3.3 .1h0m1 .2h0m.5-1.2h0m2.8-.5h0m2.1 1h0m.2-1.4h0m.8 1h0m1.9 .9h0m1.4-1.2h0m-1.7 3.9h0m-2.1-.3h0m-2.8-1.1h0m-.1 1.9h0m-1.8-1.4h0m-.3-.8h0m-.3 2.6h0m-.8-1.8h0m-1.9 0h0m-.2 .3h0m-1.2 .9h0m1.1 3.3h0m1.4-1.5h0m1.3 1.3h0m1.2-.9h0m1.6 .5h0m4.1-2h0m1.1 .3h0m1.3 2.3h0m-3.1 2.7h0m-3.4 .5h0m-.9-2.5h0m-.7-.1h0m-.6 1.6h0m-3.1 0h0m-.6-.6h0m4.5 2h0m1.4 1.3h0m.6 .5h0m2.2 .2h0m.1-.3h0m.2-.9h0m3.5 4.8h0m-5.2-1.9h0m-1.6 1.5h0m-.6-2.1h0m-.9-.1h0m-.4 2.4h0" stroke="#d35ee6" stroke-width="1.52" stroke-linecap="round" fill="none"/>
<path d="M410.8 244.6h0" stroke="#5a74d0" stroke-width="1.52" stroke-linecap="round" fill="none"/>
<path d="M418.2 167.9h0m-1.5 2.6h0m1.5-1.3h0m1.7-.2h0m3.4 1.4h0m.2 .7h0m-.3 2.6h0m-.8-1.6h0m-2.2 1.7h0m-2.7-.6h0m-1.2 0h0m-.3 .4h0m-1.4-.5h0m-.3 .8h0m-6.7 1.8h0m.2-.4h0m2.4-.7h0m2.7 .5h0m2.4 1.6h0m.2-.1h0m.6-.8h0m.5 .2h0m.4-1.6h0m.2 1.5h0m.7-1.8h0m.5 1.5h0m.6 .1h0m4.6 1.1h0m-7.6 2h0m-.5-1.3h0m-.8-.3h0m-3.3 1.4h0m-.2-1.4h0m-.2 1.7h0m-.2-1.4h0m-1.1 2.1h0m-.3 .3h0m-1.2-1.4h0m-.5 .4h0m-.3-1.1h0m-3.1 1.7h0m-9.4 .3h0m5.8 3.1h0m3.3-2.6h0m1.6 2.1h0m1.3-1.4h0m.4 1.8h0m1.9-2.2h0m.2-.1h0m.3 .4h0m.2 1.8h0m1-.5h0m.9 .3h0m.7 .3h0m1-1.5h0m4.3-.6h0m1.5 2h0m.5-.3h0m2.1-1.4h0m1.3 .3h0m0 0h0m2.5 1.5h0m9.9-1.5h0m4 3.9h0m-5.4-.6h0m-1.6-1.4h0m-.7 .7h0m-2.2 2h0m-7.5-1.7h0m0-1h0m-.8 .7h0m-2.2 1.2h0m-.9 .3h0m-.9-.1h0m-.4-1.9h0m-2.8 1.6h0m-2.6-1.9h0m-2 1.8h0m-.2-1.9h0m-2.9 .9h0m-.6-.2h0m-7.2-.2h0m-11.1 .6h0m-.5 .6h0m10.9 1.7h0m0 2.3h0m.5-2h0m.7 1.6h0m1.2-.5h0m.9 .4h0m.2-1.7h0m3.2 1.4h0m.7-.5h0m.6 1.2h0m.7-2.5h0m.7 2.1h0m.1-.9h0m8.9-1h0m4.4 .9h0m.2-1.2h0m.1 1.2h0m1.2 1.2h0m.3 0h0m7.2-.7h0m.4 .6h0m1.9-.9h0m3.4-1h0m2 2.2h0m2.2-1.5h0m.1 .7h0m1.7 .3h0m.2-1.3h0m.3 1.1h0m0 2.1h0m-.1 1.7h0m-.4-1.8h0m-.6 1.3h0m0 0h0m-1.3 .2h0m-.8-1.1h0m-.2 1h0m-3.1 .3h0m-.4-1.9h0m0 .4h0m-2.6-.1h0m-.8-.2h0m0 2.1h0m-2.1-2.3h0m-.6-.5h0m-4.6 2.5h0m-.7-1.6h0m-3.5-.7h0m-1.5 1.6h0m-.5-.6h0m-.7 1.2h0m-3.9-.1h0m-7.6-2.2h0m-1.7 2.2h0m-.2 .3h0m-.7-1.4h0m-1.9-.9h0m-1.5 .5h0m-.3 .4h0m-2.4 .8h0m-.1-1.1h0m-13.1 .4h0m9.4 2.8h0m3.4-.3h0m1-.5h0m.1 1.8h0m1.2-1.7h0m.4 1.3h0m.9 .2h0m.1 0h0m.4-.5h0m1 .5h0m0 .4h0m1.9-1.4h0m.1 1.2h0m6.9 .5h0m1.9-1h0m.1 1.1h0m3.6-.9h0m1 .2h0m.4-.9h0m.2 1.2h0m3.7-2.2h0m.9 1.4h0m2.7-1h0m4 2h0m2.2-.2h0m2.5-.9h0m1.5 1.4h0m1.6 0h0m.9-1h0m.3-.1h0m.9-1.1h0m.1 .1h0m.1 1.5h0m.3-.2h0m.8 .4h0m.2-.7h0m.1 1h0m1.6-.5h0m1.5-.7h0m1.5-1.2h0m2.7 .9h0m0 .6h0m2.5 .6h0m4.3 3h0m-3.2-1.2h0m-.8-1h0m-1.1 1.3h0m-.4-1h0m-4.4 .2h0m-.6 .1h0m-.8 .7h0m-.4-.5h0m-.8 .8h0m-.1-1.6h0m-.3-.3h0m0 2.8h0m-1.8-.4h0m-.8-1.6h0m-2.7-.5h0m-.1 1.2h0m-1.6-1.2h0m-.5 .3h0m-.2 .1h0m-1.8 2.2h0m-2.7-2h0m-3.8 .7h0m-.1-.3h0m-.2 1.1h0m-2.1-.2h0m-2.1-1.4h0m-.9 1.4h0m-.9-1.1h0m-.6 .4h0m0-.5h0m-1.4-.4h0m-1.4-.3h0m-1.3 2.3h0m-.2-2h0m-.5 1.3h0m-.2-.8h0m-.1-.2h0m-.6 .7h0m-3.2-1.1h0m-.6 2h0m-.1-.1h0m-1.2-.6h0m-1.2-.7h0m-8.1-.6h0m-2.5-.5h0m0 3h0m1 1.2h0m2.5 1.4h0m1.3-1.2h0m4.6 1.2h0m.1-.4h0m.5-.3h0m.9-.3h0m2.7-1.4h0m.2 1.6h0m.6 .7h0m.2-1.5h0m6-.1h0m1.3 1.8h0m1.4-2h0m3 .9h0m1.4 .5h0m2.9 .3h0m1.5-.7h0m.2-1.5h0m1.4 2.3h0m.1-1.2h0m3.2-.1h0m1 .8h0m.1 0h0m1 .4h0m.3-2.4h0m.5 .8h0m.8 1.3h0m1.1-1.6h0m1.3-.5h0m.3 1.8h0m.6-1.3h0m.9 .3h0m.1 .7h0m.1-1.4h0m.2 .4h0m.8 1.9h0m.6-2.1h0m2.2 .3h0m.1 .6h0m.4 .6h0m2.7 .2h0m.4-.4h0m.3-1.4h0m.2 1.7h0m.1 .5h0m.9 .5h0m0-.4h0m3.4-1.3h0m2 1.7h0m2.6 2.8h0m-4.1 0h0m-1.1-1.1h0m-.7 .8h0m-.1 .3h0m-.2-.1h0m-2.4-.4h0m-2.7 .1h0m0-1.3h0m-1 .5h0m-2 .7h0m-1.3-.3h0m-1.5 .5h0m0 .5h0m-.8-1.7h0m-1.1 .2h0m-.8-.4h0m-.4 1.5h0m-3.7-1.4h0m-1.7-.8h0m-1.7 1.3h0m-2.5 .2h0m-2.2 0h0m-.6 .9h0m-.4-.1h0m0-1.1h0m-.4 1.1h0m-.5-.2h0m-1.3-.9h0m-.6-.7h0m-.2 .5h0m-.4 1.1h0m-.2-1.9h0m-.6 2.2h0m-1.6-.6h0m-.1 .1h0m-4.2-.9h0m-1.1-.7h0m-1.2 .5h0m-.6-1.1h0m-1.9 1.9h0m-.9-1.5h0m-1.3 2.5h0m-.2-2.4h0m-.8 1.8h0m-.2-.1h0m-1.7-.5h0m-3.6-.1h0m-4.1-.4h0m-1.8 1.5h0m-8.3 2.5h0m10.8 .6h0m2.7-1h0m2.8-.5h0m.2 .9h0m.7-1.1h0m.7 1.1h0m.2-1.9h0m.8 1.6h0m2.1-.2h0m.2-.7h0m.4 .1h0m.3-.3h0m.7 .6h0m1.5-.3h0m.6-.8h0m1.1 .5h0m.9 1.6h0m.5-2.4h0m.3 1.2h0m1.5 .5h0m2.9-.7h0m1 .6h0m.1-1.4h0m.9 2.7h0m.7-2.3h0m.6 1.7h0m4.1-.9h0m.5-.9h0m.8 1.5h0m.8 .8h0m.8-1.6h0m4.5 .3h0m.1-.4h0m.1 .9h0m1.9 .5h0m.6-1.1h0m.6-.3h0m.4 .2h0m2.7 .2h0m.5-.5h0m.9 .6h0m.3 .7h0m2.4-2h0m.3 1.6h0m.9-1h0m.8 1.6h0m1.8-.9h0m2.9 .8h0m1.1 .5h0m.9-.2h0m.1-.5h0m.6 .5h0m.8-.4h0m.5-1.6h0m2.3 1.1h0m4.9 3.6h0m-2-1.5h0m-.7 .5h0m-1.3-1.4h0m0 2.1h0m-.2 .5h0m-1.2-1.1h0m-.1 .4h0m-1.8 .1h0m-.6-.3h0m-1.1 .7h0m-4 .5h0m-1.2-1.1h0m-2.6 .8h0m-1.3-.8h0m-.9-.6h0m-.7 .1h0m-2.4-.8h0m-1.9 .1h0m-2.2 0h0m-.5 1.9h0m-.2 .4h0m-1.4-.4h0m-.3-2.4h0m-1.4 2.4h0m-.6 .4h0m-.4-2.4h0m-.6 .8h0m-2.5-.6h0m-2.4 1.5h0m0-.1h0m0-1.5h0m-1-.4h0m0 1.4h0m0-.3h0m-1.1 .3h0m-1.2-.3h0m-.9-.9h0m-.7 1.8h0m-.5-2.2h0m-2.9 1.1h0m-.4 .1h0m-1.1 1h0m-1.6 .3h0m-.5-2.2h0m-1 1.7h0m-.4 .5h0m-.7-.8h0m-.8-.8h0m-3.1 .8h0m-.3 .4h0m-2.7 .7h0m-8.1-2.1h0m-11.5 1.9h0m-.8 2.7h0m1.7-1.2h0m4.3-.7h0m7.3 .5h0m.5-.7h0m.4 1.3h0m1.9 0h0m.3-.8h0m0 .8h0m.9 .7h0m3.2-.8h0m3.1-.5h0m.3 .2h0m.6 .7h0m4-1.2h0m.5 .6h0m3 .8h0m.7 .9h0m1.8-1.3h0m3.6-1.6h0m.2 .9h0m1.6 .7h0m.1-.4h0m.1 .4h0m.4-.2h0m0 .3h0m.5-1.5h0m1.9 1.5h0m2 0h0m.1-1.5h0m3.4 2.1h0m1.3-2h0m.3 .8h0m1.4-.4h0m.8 1.7h0m0-1.1h0m.8 .5h0m1.2-.7h0m.4 1.3h0m.8 .4h0m.4-.7h0m4-.2h0m.4 .8h0m.6-1.3h0m2.4 1.2h0m2.1-.8h0m1.1-1.6h0m.4 1.1h0m.9 .2h0m.2 .3h0m1.8-.3h0m2.7-.3h0m2.3 1.5h0m1.1 .2h0m.5-2.6h0m-.9 4.6h0m-2.2-.1h0m-4.8 .6h0m0-.6h0m-1.7-.1h0m-3.6-1.2h0m-.7 2.1h0m-1-2.6h0m-3.8 1.6h0m-2.3-1.6h0m-2.9 2.7h0m-.2-1.3h0m-.2-1.1h0m-.7 2.2h0m-2.2-2h0m-.3 2h0m-.7-.9h0m-.3-1.3h0m-2.9 1.8h0m-.6 .2h0m-1.2-1.8h0m-.2-.5h0m-.1 2.9h0m-1.6-2h0m-.1 1.6h0m-.4 .1h0m-.7-.5h0m-.2 .6h0m-1-2.7h0m-4 0h0m-2.3 1h0m-.1 1.8h0m-2.3-.8h0m-2.6 .6h0m-.8-2.5h0m-.1 2.4h0m0-.1h0m-.3-1.6h0m-.5 1.2h0m-.2-1.6h0m-1.3 1.1h0m-.2-1.2h0m-.6-.1h0m-4.2 2.3h0m-5.8-.8h0m-.7-1.7h0m-10.2 1.9h0m-2.1 .2h0m14.2 3.8h0m4.5-1h0m1.2-1.4h0m.2-.1h0m.9 .2h0m1.2 .6h0m1.9 .5h0m.7 .9h0m1.6-2.6h0m1.2 0h0m.1 2.4h0m.3-.1h0m1.7-1.1h0m1.1-.5h0m0 1.4h0m.4-.7h0m.1 1.5h0m.1-.6h0m0-2.3h0m.2 2h0m.8-1.9h0m3.8 1.8h0m1.1-1.2h0m.7-.5h0m.3 2.2h0m.7-1.8h0m.4-.4h0m.3 1.6h0m1.1 0h0m.1-1.3h0m.8-.3h0m.3 2.5h0m.4-1.1h0m.3-.8h0m1.3 .6h0m.2 .3h0m.5-.6h0m.6 .3h0m2.2 1.1h0m1.5-2.4h0m1.3 1.6h0m.5-1.4h0m.2-.3h0m.5 .3h0m.9 .2h0m2 .5h0m.9-.6h0m.9 1h0m1 .3h0m.1-.9h0m.2 1.2h0m.6-.4h0m.1 1.2h0m2.2-1.3h0m5 1.3h0m2.1-.7h0m.6 .1h0m2.3-2h0m.5-.1h0m.1 .3h0m.5-.3h0m.1-.1h0m1.2 1.5h0m0 .2h0m.7-.4h0m.2-.8h0m.1 1h0m1 0h0m.2-.6h0m-2.5 3.8h0m-1.2 .9h0m-1.1-1.5h0m-.2-.6h0m-.4 .4h0m-1.2 1.1h0m-2-.9h0m-1.1 1h0m-.6-.6h0m-2.5-1.4h0m-.7 .4h0m-2.5 0h0m-.6-.5h0m-.4 1.8h0m-.1-.5h0m-1.3 .2h0m-2.7 0h0m-.1-.1h0m0 .3h0m-1.8-1.2h0m-.6 1.4h0m-.6-1.5h0m-2.4 2h0m-3.8-1.8h0m-1.3 .1h0m-1.3 1.2h0m-.1-1.6h0m-.2 2h0m-.3-.8h0m-3.9-1h0m-.4 0h0m0-.4h0m-.1 .6h0m-.3-.2h0m-.1 1.3h0m0-.8h0m-.1 1.1h0m-1.5-1.9h0m-1 .9h0m-3.9 .2h0m-2.2 1h0m-.5-1.5h0m-4.1 1.4h0m-1.8 .5h0m-.2-2.3h0m-.7 1.1h0m-1.7 .6h0m-.2-1.6h0m-19.3 4.7h0m18.2 .4h0m1.2-1.5h0m2.1-.9h0m1.3 .2h0m1 .7h0m2 1h0m1.6 0h0m.1-.9h0m1.9 .2h0m.3 1h0m.6-.6h0m1.5-1.8h0m1.2 1h0m2.4 1.4h0m1.2 .1h0m2.3-.8h0m.2 .9h0m5.1-1h0m1-.9h0m2.9-.3h0m.1 1.8h0m.1 .4h0m2.1-1.3h0m.6 0h0m0-.8h0m.8-.1h0m1.2 1.3h0m.8-.5h0m1-.6h0m1.9 2.3h0m1.1-2.1h0m.5 1h0m1.7-1.7h0m1.2 2.7h0m2.7-2h0m.6 1.8h0m1-2h0m.6 0h0m1.8-.1h0m2.3 2.2h0m.3-2.3h0m.3 .3h0m.1-.7h0m.3 2.7h0m6.7-2.6h0m-11.2 3.6h0m-.5 .5h0m-.1-.5h0m-.6 0h0m-.1 .4h0m0-.8h0m-.2 1.4h0m-.8 .1h0m-.1-.4h0m-.8 .7h0m-2.1-2.1h0m-1.6 2h0m-2.8 0h0m-1.1-1h0m-.3-.7h0m-.1-.2h0m-.9 .3h0m-1.4 1.5h0m-.2-.2h0m-.1-1.1h0m-.6 2h0m-.8 .1h0m-.5-1.7h0m-1.6 .3h0m-.5 0h0m-1 .1h0m-2 .9h0m-1.1-.7h0m-1.3-.1h0m-.5 .2h0m-6.3-1h0m-.4-.1h0m-.9 1.4h0m-4 .4h0m-2.1 .1h0m-1.5 0h0m-.4 .1h0m-2.7-1.2h0m-1.1-.1h0m-1.8 1.3h0m-2.9 .3h0m-15.4-.5h0m16 1.1h0m1.1-.5h0m.4 .7h0m.2-.3h0m1.5 1.1h0m.7-1h0m.3 1.8h0m.5-.5h0m.1-1.4h0m.7 2h0m.8-.1h0m0-1.8h0m1.1-.3h0m.2 1.2h0m2.4 1.5h0m4.6-2.7h0m.7 1.4h0m.4 0h0m2.8-1.2h0m.5 2.1h0m.4-.7h0m3.6-.2h0m1.8-.9h0m.9 1.9h0m1.3 0h0m.1-2.5h0m3.2 1.4h0m.5 .7h0m1.8-2.2h0m2.6 2h0m2.9-.7h0m.1 .6h0m2.2 .4h0m.4 .4h0m.1-.8h0m1-.2h0m.9 .6h0m3.1-1.8h0m3.3 1.3h0m4.6 3.3h0m-5.3-.3h0m-.5 .4h0m-3.3-1.6h0m-1.4 2h0m-1.1-.3h0m-1.5-1.3h0m-1.3 1.3h0m-.9-.2h0m-1.8-.9h0m0-.2h0m-.8 .8h0m-.8 .9h0m-.5-2.7h0m-.4 0h0m0 2h0m-2.4-1.2h0m-.1 0h0m-4.1 2h0m-.9-1h0m-.2 1h0m-.9-.3h0m-1.9-1.9h0m-4.2 1.3h0m-1.8-1.3h0m-2.6 1h0m-.2-1.2h0m-.4 1.9h0m-.8-1.2h0m-.1 .9h0m-1.9-1.7h0m-3 1.3h0m-.1-1.4h0m-1.4 2.4h0m-3.4-2.1h0m-.2 .9h0m-.9 1.3h0m0-1.2h0m-.6 .9h0m0-1.8h0m-20.8 .8h0m-1-1.2h0m23.6 5.2h0m.4 .4h0m0-1.3h0m.9-.3h0m.9-.1h0m1-.1h0m2.1 .7h0m.2 .3h0m1.2-1.1h0m3.3-.2h0m4.3 2.1h0m.4-2.6h0m.1 2.3h0m.9-1.6h0m1.9-.2h0m1.9 .4h0m1.3-.4h0m.2 .2h0m1.2 .7h0m2.4 .6h0m.2 .1h0m.2 .2h0m.8-1.6h0m.1-.1h0m.4 1.2h0m1.7-.7h0m.5 .8h0m.7-.5h0m.5 1.2h0m.8-.5h0m1.1-.3h0m2.6-.3h0m.1 .3h0m.9 .9h0m1.2-.5h0m.5-2.1h0m.6 .3h0m0 0h0m1.7 .3h0m9.4 1.1h0m.8-.2h0m.5-1.3h0m3.3 2h0m-2.6 1.1h0m0-.3h0m-.6 1.3h0m-1.6 1h0m-.2 .1h0m-4.1-.2h0m-12.5-2.4h0m-.2 .4h0m-7.3-.4h0m-3.6 .4h0m-4.8 0h0m-5.6 2.3h0m-2.5-.2h0m-3.9-1.6h0m-3-.7h0m0 1h0m-.3 .5h0m-.1 .7h0m-.3-1.8h0m-11.2 4.1h0m12.9-.7h0m.9 1.7h0m3.8-.6h0m1.2-1.3h0m.2 1.2h0m1-.5h0m.3-1.5h0m2.4 .7h0m.6 1.5h0m.2 0h0m.8-1.7h0m30.3 1.8h0m1.9 .1h0m.5-.8h0m.5 .1h0m.8-1.4h0m2.2-.4h0m3.9 .8h0m-6.6 2.7h0m-36.1 1.5h0m-.9-.4h0m-2.5-1.6h0m-.7 0h0m-1 2.3h0m-1.7-1.2h0m-.2 .1h0m-2.8 .4h0m-10.6 2.8h0m3.3-1.3h0m11.1 2.2h0m1.6-.3h0m1 .8h0m1.6-.3h0m2.1-1.8h0m.3-.6h0m1.2 1.4h0m10.7 4.2h0m-12.4-1.4h0m-3.6 .1h0m-2 1.1h0m-5.9-2.2h0m15.4 5.5h0m.5-1.6h0m11.7 4.3h0m-32.5-.8h0m5 3.3h0m13.3 .9h0m4 2.9h0" stroke="#e47068" stroke-width="1.52" stroke-linecap="round" fill="none"/>
<path d="M401.4 230.8h0m1.4-.8h0m-.9 3.6h0m-.1-1.7h0m-.5-.7h0m-.1 2.3h0m-.4-.5h0m-1.3-.8h0m-.1 0h0m0 1.5h0m-2.6 1.7h0m1.2-.9h0m1.2 2.2h0m1.4-1.8h0m2.3 2.1h0m-.1 1h0m-1 .7h0m-2.8 .2h0m-.1-.4h0m-2.7 1.6h0m3.1 2.4h0m.8-2.4h0m.4 2.8h0m3.1-1.3h0m-.1 4.3h0m-1.1-.8h0m-1.8-2.1h0m-2.8 2.3h0m-.5 .5h0m-.7-1.2h0m-1.3 .4h0m1.7 2h0m0 .9h0m1.7-.6h0m.6 .8h0m2.1 .5h0m.4 .2h0m4.2 2.9h0m-.8-2h0m-.4-.4h0m-.7 1.8h0m-.8-.2h0m-6-1.6h0m3.1 5.2h0m2.5-1.7h0m1.7-.3h0m.9 2.1h0m.9-.1h0m.1-1h0m.3 .2h0m.4-.9h0m.1-.6h0m.8 1.6h0m1.1 .3h0m4.6 3.7h0m-1.4-1h0m-.4-.3h0m-1.5 .1h0m-.4 .1h0m-2.8-.7h0m-.5-.9h0m-3.3 2.8h0m-.1-2.9h0m-.8 2.7h0m0 0h0m-1.3-2.6h0m-.3 1h0m-1.4-1h0m-.2 .7h0m-.1-.4h0m1.8 5.3h0m.3-.4h0m.4 .3h0m1.2 .1h0m.6-1h0m1.2-1.4h0m1.5 1.9h0m1.3-.7h0m.9-.7h0m1.3 1.1h0m.7-1.7h0m1.1 .7h0m2 1.1h0m.9-1.5h0m.5 2.1h0m0 1.8h0m-1.1-.4h0m0 0h0m-.5 1.7h0m-.3-1.9h0m-.4-.1h0m-.5 2h0m-.2-1.2h0m-1.3 .2h0m-.6-.6h0m-1.2 1.6h0m-.8-1.1h0m-.8-1.5h0m-3.3 1.5h0m-1-.9h0m-.3 1.4h0m0-1.9h0m3.4 3h0m.4 1.2h0m1-.4h0m.8 .8h0m0-1h0m1.4 2h0m.4-1.5h0m1.3-.6h0m.7 .9h0m1.9-1.4h0m.1 2.9h0m-5.6 .6h0m-.1 1.3h0" stroke="#5fb43c" stroke-width="1.52" stroke-linecap="round" fill="none"/>
<path d="M406 176.6h0m-26.7 28.4h0m7.7 1.9h0m4.9-.4h0m-2.6 3h0m-5.4 .2h0m-.1-1.7h0m-1 .4h0m-1.4 .7h0m-1.2-.5h0m3.5 4.3h0m.6-1.9h0m2 .9h0m.1-.6h0m.9 .4h0m1.1 1.1h0m6.7 1h0m-2.9 1.5h0m-2.8-1.3h0m-1.4-.4h0m-.3 2.1h0m-5.3 .2h0m-1.7-2.5h0m.4 5.3h0m.3-.1h0m.6-2.3h0m1 2.2h0m3.1 .2h0m2.2-.5h0m.1-.1h0m2.2-1.3h0m-1.9 2.2h0m-2.7 1.2h0m-1.2 .2h0m-1.3 .8h0m-1.9 0h0m-1-1.6h0m-.7 1.3h0m-2.4-.2h0m4.3 2.7h0m.7 1h0m.3-2.4h0m.4 2.5h0m.9 .1h0m.5-1.1h0m1.9-1.1h0m1.1-.3h0m.6 2.2h0m0-1.1h0m.2-.1h0m1.1 .4h0m.5 3h0m-.9 1.4h0m-1.2-.4h0m-2-.3h0m-2-2h0m-.5 2.3h0m-.7 .2h0m-1-2.2h0m-1.2 .6h0m-.4-.6h0m.5 3.6h0m.7-.8h0m2.3 .7h0m.6 1.2h0m1.1-.1h0m1.7-1.1h0m0 1.9h0m.7-2.6h0m.8 .6h0m.1 .6h0m.2 .4h0m.8-1.8h0m-3.6 3.2h0m-1 .6h0m0 .5h0m-1-.9h0m-.7 .6h0m0 .1h0m0 .7h0m-1.2-.6h0m-.8 .6h0" stroke="#d35ee6" stroke-width="1.52" stroke-linecap="round" fill="none"/>
<path d="M430.3 241.5h0m.6 1h0m2.6 3.3h0m-2.9-1.9h0m-.4 1.9h0m-2.1-.8h0m-1-1.1h0m-.1 0h0m-.4 1.4h0m-.7-2.1h0m1.7 5.2h0m.6-.4h0m1.2-1.6h0m.5 1h0m7 2.9h0m-2 .9h0m-1.5-1.6h0m-.4 .3h0m-3.9 1.1h0m-1-1.3h0m-.8 1.1h0m-.2-1.8h0m-.8 2.4h0m-1.6-1.1h0m-.6 .5h0m0-1.3h0m-.1 1.3h0m-.4-.9h0m-.9 1.7h0m-2.3 2.3h0m2.3-.7h0m2.3 0h0m.6 .5h0m.4-1.4h0m.9 1.8h0m.7 .8h0m.7-1.3h0m1.9-.1h0m.1-.5h0m1.2-.1h0m2.4-.4h0m.3 1.2h0m.2 .6h0m.3 2.2h0m-3.5 .4h0m-1.1-1.8h0m-2.3 1.9h0m-3.3 .1h0m-3.5-.3h0m-.4-.3h0m-.1-.1h0m-.9 1.2h0m1.2 1h0m.3 2.3h0m2 0h0m.2-2.7h0m0 .5h0m2 .8h0m.2 .6h0m3.6-1.4h0m2.6-.7h0m.9 .1h0m1.3 3.6h0m-.5 1h0m-1.2-.9h0m-.3 1.3h0m-.8-1.2h0m-.9-.7h0m-1.3 1.1h0m-2.3-.6h0m-1.2 .8h0m-2.5-1.5h0m-4.8 1.1h0m-.3 .5h0m4.2 1.9h0m.6 0h0m.2 .2h0m3.3 .3h0m0 1.5h0m2.2-1h0m.1-.5h0m2.9-.7h0m.3 1.8h0" stroke="#b09a1e" stroke-width="1.52" stroke-linecap="round" fill="none"/>
<path d="M384.7 182.8h0m3.3-2.3h0m36.1 3.6h0m-36.9-.2h0m-1.4 .7h0m-1.4 3.8h0m5.8-2.2h0m.1 1.2h0m.9 1.3h0m-5.3 .8h0m0 0h0m-.3 0h0m-.7 .9h0m-.9 1.1h0m.4 .7h0m1.6 4.9h0m-2-1.5h0m-.5 2.3h0m1.7 .1h0" stroke="#48b9cc" stroke-width="1.52" stroke-linecap="round" fill="none"/>
<path d="M411.6 243.2h0" stroke="#5a74d0" stroke-width="1.52" stroke-linecap="round" fill="none"/>
<path d="M423.1 167.5h0m-2.5 .2h0m-.3-1.5h0m-4.8 4.5h0m2.1-.2h0m.1-.3h0m.7 .3h0m3.6 .9h0m-2.4 0h0m-1.7 2.1h0m-.7-1h0m-.2-.1h0m-.2-.2h0m-1.2 .8h0m-.4 .1h0m-1.3-.2h0m-4.2 2.7h0m1.7-1.6h0m1.4 1.3h0m2.2 1.3h0m2.2 .3h0m.2-1.1h0m.5 .3h0m.5-1.7h0m2.5 1.2h0m.8-.2h0m.4 .4h0m11.4 2.9h0m-9.8-.3h0m-.1-1.3h0m0 2.7h0m-.6-1.7h0m-2.4 1h0m-2.2-1.7h0m-3.3 .9h0m0 0h0m-.1-.8h0m-.1 1.9h0m-.5-.9h0m-.7-.6h0m-2.9 .9h0m-1.3-.7h0m-.8-.6h0m0 2h0m-.7-2.4h0m-.1 .2h0m-2.6 .1h0m-.5 .3h0m-1.2 1.6h0m-.4-2.3h0m-2.2 5.2h0m.5-2.2h0m3.1 2.1h0m.1-.2h0m.6-.6h0m1.5 .4h0m1.6-.3h0m2.8-1.1h0m1.3 2.6h0m.2-.8h0m.9-.7h0m.7 .5h0m.8-1.5h0m3-.1h0m1.9 .1h0m.6 1.9h0m.9-.9h0m.6-.7h0m.8-.5h0m.5 2h0m.9-.9h0m.3 1.3h0m7.5-.5h0m.4-.4h0m.1 .1h0m0 .2h0m.9-1.3h0m.1 .1h0m1.2 .3h0m.1 .7h0m3 .7h0m.1 3.1h0m-.1-.7h0m-1.9-1.2h0m-2.7-.7h0m-.4 0h0m-9.2 0h0m-2.1 1.4h0m-1.2 .7h0m-4.3 .3h0m-1 0h0m-2.8-2.1h0m-3.4 1.7h0m-.3-.1h0m-2.3-1.4h0m-3.9 .4h0m-.1 0h0m0 .6h0m-1.8-.8h0m0 1.9h0m-.1-1.7h0m-.2 2h0m-1.8-.9h0m-11.9-.1h0m-.4-1.5h0m10.2 4.1h0m2.1 .5h0m.8 .4h0m.3-1.4h0m5.6 1.7h0m.1-.7h0m2.5-.3h0m.3-1.7h0m4.5 2.5h0m1-.8h0m.9 .9h0m1.5-1.4h0m.3 1.2h0m.2-2.4h0m.2 1.4h0m.5 .5h0m.2-1h0m.9-.2h0m.1 1.9h0m1.9-1.2h0m2.6-.9h0m.4-.5h0m1 1.1h0m6.5-.3h0m.1 1h0m.4 .4h0m.1-1.8h0m1.7 2.1h0m2.8-2.2h0m1.8 .4h0m1.8 1h0m1.7-.2h0m5.2 1h0m-2.1 1.4h0m-.3 .5h0m-.4-1h0m-1.8 1.3h0m-.5 .6h0m-2 .2h0m-4-.5h0m-1.1-.6h0m-.1 .2h0m-2.4-1.1h0m-6 .4h0m-.9 1.7h0m-.7-1.2h0m-1.6-.6h0m-.1 2h0m-.1-.7h0m-.1-.6h0m-2.1 .1h0m-3.2 .4h0m-.4-.2h0m-1-.3h0m-9.5-.1h0m-1.1-.5h0m-.8-.5h0m-.8 1h0m-1.6-.2h0m-.1-.1h0m-.2 1.6h0m-.1-1.4h0m-.3 1h0m-1.3-2.2h0m-1.2 1.5h0m-.2 2.1h0m.2 2h0m.5-1.1h0m1.2-.6h0m1.2-.4h0m.5-.5h0m.8 1.7h0m.4-.2h0m2.3-.6h0m.3 .1h0m5.4 0h0m4.4 .9h0m0-1.8h0m.9 1.1h0m1.3-1.3h0m1.6 1.7h0m1 .7h0m.3 .4h0m1.3-1.2h0m.5 0h0m.1 .3h0m.7 .7h0m0-1.6h0m.7 1.3h0m.3 .3h0m.2-1.8h0m3.5-.8h0m1.3 1.9h0m2.3-1.3h0m.7 0h0m5 1.2h0m.7-.8h0m3-.5h0m.7 1.1h0m1.1-1.2h0m.1 .4h0m2.2 .1h0m.9 1h0m.4-.8h0m.3 1.3h0m5.7-.2h0m1.9 1.7h0m-2.1 .6h0m-3.5-1.4h0m-.8 .3h0m-.1 1.4h0m-.1-1.7h0m-.2 1.3h0m-3.7 .4h0m-.4-.9h0m-.2 1.2h0m-.2-1.7h0m-.7-.4h0m-.1 2.5h0m-.1-.7h0m-2.4-.9h0m-.5-.7h0m-2.1 .1h0m-.3 .6h0m-.9 .7h0m-1.1-.7h0m-3.2 .6h0m-.2-.9h0m-1.3 1.3h0m-2.5-.6h0m-.7 .1h0m-.5-.9h0m-.3 1.1h0m-2-.8h0m-4.4 1.9h0m-1.7-1.7h0m-.9 .1h0m-1.1 .6h0m-1 0h0m-1.1-.8h0m-.2 .7h0m-.7 1.3h0m-.4-.7h0m-.8 .7h0m-.3-.5h0m-1.6-2.1h0m-.4 2.3h0m-1.7-2h0m-2.9 .2h0m-.2-.2h0m-.5 1.4h0m-.8-1.2h0m-.7 1h0m-2.3-.5h0m-.4 .6h0m-1-1.6h0m-2.5 .1h0m0 1.3h0m3.8 2h0m.7 1.5h0m.1-.3h0m1.7-1.4h0m4.9 .6h0m.4 .4h0m.3-1.1h0m.4 2.1h0m.7-2.3h0m.2 2.5h0m.3 0h0m.3-1.9h0m.3 .2h0m.2 1.2h0m0-.7h0m.2-.1h0m2-.5h0m.2 1.2h0m2.7-.5h0m1.9-1.2h0m.1 1h0m1.1-1.3h0m.9 1.1h0m1.1 1.3h0m0-.5h0m1.5 .1h0m1.6 .6h0m1.9-1.8h0m1.4 1.2h0m.1-1.8h0m1.8 1.7h0m.1 .4h0m.7 0h0m.2-.3h0m.4-1.8h0m1.1 .3h0m.7 .6h0m.4 .1h0m1-.1h0m.2 .9h0m.3-2.1h0m.1 .5h0m2.7 .6h0m2.3-.3h0m1.6-.6h0m4 2.1h0m1.4-2.3h0m.5 1h0m.8-.7h0m.3 .6h0m0-.5h0m1.8-.3h0m1.1 .2h0m0 1.7h0m.2 .3h0m1.2 .2h0m0-2.1h0m1.3-.1h0m3.7 3.5h0m-1-.6h0m-1.9 2.7h0m-1.6-.7h0m-.4-.9h0m-.1 1.6h0m-5.3-1.9h0m-2.8 1.4h0m-1.9-1.6h0m-.8 1.8h0m-2-.4h0m-.6-.4h0m-2.3 .2h0m-2.1-2h0m-.8 2.2h0m-3.8-1.8h0m-.1 2.3h0m-1-2.7h0m-.9 .7h0m-1.4 .8h0m-.2-1.5h0m-2 .6h0m-.3-.5h0m-3.5 2.1h0m-.6 .7h0m-1.6-.8h0m-1.3-1.2h0m-2.1 .1h0m0 1.3h0m-2-.3h0m-2.8-1.3h0m-.1-.5h0m-.5 .6h0m-7.3 .5h0m-16.5 3h0m.4 1.3h0m4.5-.8h0m7.2 .7h0m6.4-2.4h0m2 1.4h0m1.6-.3h0m1.5 .1h0m.6 1.5h0m.8 .1h0m1.7 0h0m2-1.4h0m2.6-.5h0m1.4 .1h0m.7 .9h0m.1-1.1h0m2.5 .4h0m2.3-1.2h0m.7 .3h0m6.7-.2h0m2.1 2.5h0m1.5 0h0m1.1-.5h0m.3-1.1h0m4.5 1h0m.2-1.8h0m1.1 2.5h0m.1-1.3h0m1.2-.8h0m.1-.3h0m.4 .2h0m1 .4h0m.9-.2h0m2.2 1.6h0m1.9 .2h0m.1-1.2h0m3.8-1.1h0m.6 0h0m0 1.9h0m1.6 .1h0m.2-.4h0m.1-1.9h0m.5 0h0m1.8 2.4h0m3.1 2.2h0m-1.3-1.6h0m-2.6 2.7h0m-4.9-1.9h0m-.2 0h0m-2-.5h0m-.8 2h0m-2.4-2.1h0m-.7 1.3h0m-3.4 .9h0m-5.1-.4h0m-.6-1.4h0m-.2 1.5h0m0 .4h0m-1.8-2.2h0m-.5 0h0m-.7 .4h0m0-.1h0m-.9 1.6h0m0 .3h0m-.8-.8h0m-.1 .7h0m-2.3-1.3h0m-.3 .7h0m-.7-.1h0m-.1-.4h0m-.4-1h0m-.6 1.3h0m-.8-1.1h0m-2.9-.4h0m-6.4 .5h0m-1.8 1.7h0m-.3-1.8h0m-.2-.1h0m-.7 2.5h0m-.1-1.8h0m-1 1.1h0m-2-1.7h0m-.2 .3h0m-.2-.3h0m-1 1.7h0m-2.5-.5h0m-5.7-.8h0m-1.7 .9h0m-13.5 1.1h0m-2.1-.5h0m-3.7 .1h0m-.9-.4h0m22.1 1.2h0m.6 2.6h0m.2 0h0m1.2-.8h0m1.7 .7h0m.8-1.9h0m3.5-.6h0m.7 1.9h0m0-1.3h0m5.6 1h0m1.7-1.6h0m0 .2h0m1.2-.2h0m0 1.7h0m1.1-1.2h0m1.3 1.1h0m.5 .7h0m.2-1h0m1.1 .2h0m.4 .4h0m.6-.2h0m.5-.1h0m2.3-1.6h0m2.5 0h0m.4 1.3h0m1.3-.6h0m3.7-.4h0m2.4 .8h0m2.4 .4h0m.4-1.8h0m1 2.5h0m2.9-2.4h0m3.2 1.7h0m1.7 .3h0m.1-1.6h0m.4 1.2h0m1.9-.4h0m2.8 1.5h0m1.5-.2h0m0-2.1h0m1.8 1.3h0m1.1 .9h0m.7-1.6h0m.8 .3h0m.7 2.8h0m-8.1-.4h0m-.7-.3h0m-2.2-.5h0m-2.3 2.4h0m-.2-.8h0m-1.4 1.3h0m-.5-1h0m-1.2-.7h0m-7-1.2h0m-.7 1h0m-.6 1.2h0m-.9 .2h0m-.1 .2h0m-2.8-1.1h0m-.2 .8h0m-1-.7h0m-1.1-.9h0m-4.6 .6h0m-1.4-1.1h0m-.4 .5h0m-.8 2.1h0m-.5-1.4h0m-.6-.4h0m-1.1-.2h0m-1.2 1.3h0m-2.5-1.6h0m-.5-.1h0m-.2 2.5h0m-.4-.5h0m0-.2h0m-1.5-2h0m-2.3 2.4h0m-.4-2.3h0m-.6 .4h0m-1.3 .6h0m-.4-.1h0m-1.3-1.1h0m-6.2 2.5h0m-.3-1.5h0m-.5-1h0m-17.9 1.7h0m3.5 1.9h0m15.4-.2h0m4.7 1.8h0m1.3-1.9h0m1.7-.2h0m10.4 .8h0m2.2 .2h0m3.8-1h0m.1 .7h0m2-.7h0m.4 1.7h0m.2 .7h0m.2-.9h0m.3-1.3h0m.1 .3h0m0 .5h0m.3 .9h0m1.3-.1h0m1.9-1.6h0m.8 2.1h0m.2 .4h0m.6-.8h0m.5-1.2h0m2 1.6h0m.5-.4h0m1.5-.5h0m0-1h0m.4 .1h0m.1-.7h0m.3 1.4h0m.6-1.2h0m1.3 .4h0m.2 1.8h0m1.8-1.8h0m.4 1.9h0m.3-1h0m.1-.6h0m.3 .7h0m1.4 .5h0m4.1-1.1h0m.4 1.7h0m.1-1h0m.3 .5h0m1.8-.1h0m0-2h0m1 .1h0m.2 2.7h0m.4-2.3h0m3.5 .2h0m.6-.1h0m1.7 .5h0m-2 1.9h0m-.8 1.2h0m0 1.3h0m-.5-2.2h0m-1.1-.4h0m-.9 2.2h0m-1.2 .5h0m-1.4-.6h0m0 .5h0m-1.5-1h0m0-.9h0m-.6 .2h0m-.6 1.2h0m-.9-1.5h0m-1-.3h0m-2.4 2.2h0m-.3-.8h0m-1.1 .9h0m-1.6-1.2h0m-4.1 .1h0m-.3 1.4h0m-.9-1.2h0m-1.8-.7h0m-6.3 1.2h0m-.3-1.2h0m-.7 1h0m-.6-1h0m0 .7h0m-.7 .2h0m-.5 1h0m-1.8 0h0m-.3-.1h0m-1.6-.7h0m-.8-1.2h0m-.7 .4h0m-.9 .9h0m-.1-.5h0m-.3-.7h0m-.2 1.3h0m-1.7-1.1h0m-.8 1h0m-.3-.8h0m-1.2-.4h0m-.6-.9h0m-2.4 .9h0m-.1 1.8h0m-.1-.3h0m-.4-2.5h0m-.7 1.2h0m-.1 .6h0m-1.6 .4h0m-1.3-1.3h0m-.5-.6h0m-2.7 2.2h0m-.9-2.5h0m-.7 0h0m-.7 2.1h0m.9 1.4h0m.9 .7h0m2.5 .9h0m1.3-2h0m1.3 .9h0m1-.9h0m3.8 2.4h0m1.2-2.2h0m.2 1.1h0m1.7-.8h0m1.2 1.9h0m.6 .1h0m.4-.2h0m.1-.1h0m2.4-2.3h0m.3 2.4h0m1.3-.9h0m3.1-.5h0m.5-.2h0m1.8-.5h0m.6 1.9h0m2.1-1.5h0m.2 1.5h0m1.1-.8h0m1.3-.4h0m.3-.1h0m1.2 1.6h0m2.3-2.2h0m.3 .8h0m.3 .2h0m.6 .8h0m1.3 0h0m.8-.9h0m4.8-.6h0m0 1.8h0m.3 .4h0m.1-2h0m.5 1.9h0m.3-1.3h0m.1 .3h0m2-.5h0m1-.8h0m.7 2.1h0m.8-.6h0m1.1 .4h0m1-.2h0m1-1.1h0m1.1-.2h0m-1 2.6h0m-.1 1h0m-2.9-1h0m-1.7 2.5h0m-.2-1.9h0m-3.3 .5h0m-.6 1.3h0m-.1-2.1h0m-.9 2h0m-1.7-2.1h0m-.2 .6h0m-2-.1h0m-.7 .4h0m-1.4-.5h0m-1.5-.9h0m-1.5 2.4h0m-2.4-1.6h0m-2.4-.7h0m-.3 1.1h0m-.6 .6h0m-1.5 .1h0m-.3-1.2h0m-.7-.5h0m-2.4 2h0m-.6-2.1h0m-.3 .8h0m-1.8 .9h0m-2.4-.7h0m-2.9 .8h0m-1.1-.5h0m-2 .1h0m-.3 .9h0m-.9-1.2h0m-.6-.6h0m-2.8 1.7h0m-1-1.6h0m-1.1 1.4h0m-.8 0h0m-.4 .6h0m-1.5-2.5h0m-1.1 2.6h0m-.7-.3h0m-.5-2.3h0m-19.9 4h0m22.1 1.2h0m1-.1h0m.2-1h0m.6 0h0m.8 .1h0m2.1-1.1h0m.2 1.3h0m.1 1.1h0m0-.3h0m1.9-.6h0m1.1 .2h0m1.1-.9h0m1.4 1.1h0m.5 .5h0m0-.7h0m.4-1h0m0-.2h0m2 1.8h0m.6-1.7h0m.4-.2h0m3.6 .4h0m.1-.5h0m2 .9h0m1.6 .2h0m.5 .5h0m1.3-1.9h0m2.9 2.1h0m.3-1.4h0m.7 .5h0m.4-.5h0m.8 .6h0m.3-1.5h0m.6 .5h0m.2 .8h0m.1-1.3h0m.7 1.3h0m2.2-1.1h0m1.1 1.2h0m.9 .8h0m2.6 .4h0m1.6 .1h0m0-2.9h0m.5 .5h0m.1 1.2h0m.5 .5h0m.7-.1h0m.5 .6h0m1.7-1.4h0m.6-1.1h0m1.4 2.1h0m.7 .3h0m2-1.8h0m-3 4h0m-2.5 1h0m-1.1-.4h0m-1.4-1.3h0m-1.9-.2h0m-.7 .9h0m-1.9-1.7h0m-2 2.4h0m-.5-1.3h0m-.1 .5h0m-.5 .7h0m-1.7-1.5h0m-.1 .4h0m-1.4 0h0m-.4 1.3h0m-.5-2.2h0m-.2 1.4h0m-1.2-.3h0m-.1-.9h0m-2.2 .4h0m-3.7-.5h0m-1.4 .6h0m-.1-1h0m-1.6 .7h0m-2.3 1.8h0m-.8-.7h0m-1.9-.3h0m-.8-.8h0m-1.1-.3h0m-1 1.9h0m-1.5 .2h0m-1-1.8h0m-.3 1.5h0m-1.5-1h0m-3.8-1h0m1.4 3.5h0m1.3 1.5h0m1.4 .1h0m3-.7h0m.3-1.1h0m.1-.5h0m1.9 1.9h0m1.7-1.9h0m.9 .8h0m.1-.4h0m4.8 1.1h0m.6-.2h0m.4-1.2h0m2.8 .7h0m4.7-.2h0m2.6 0h0m1.4 1.2h0m.5 .5h0m.3-.4h0m.1 .5h0m3.1-.6h0m.2 .9h0m.9-1.5h0m.4 1.1h0m2.3-1.8h0m.7-.6h0m.8 .9h0m.2-.1h0m.3 1.2h0m.1-1.2h0m0 1h0m7.1-1.2h0m.4-.1h0m1.2 0h0m2.1 .5h0m2.7 2.3h0m-1.2 .4h0m-1.5 1.9h0m0-2.5h0m-3.1 2.7h0m-8.4-2.7h0m-2.6 .6h0m-5.6-.4h0m-1.3 .4h0m-1.2-.1h0m-.5-.3h0m-3.4 1.3h0m-3.3-.8h0m-2.2 .1h0m-4.1-.9h0m-3.9 1.9h0m-1.1-1.4h0m-1.2 .9h0m-.2-.9h0m-.7 2.4h0m-.4-1.3h0m-2.6 1.1h0m-1.6 .9h0m.5 1.5h0m.6-.6h0m0 .7h0m.2-1.8h0m1.1 2.4h0m.5-.2h0m.5-1.9h0m.3 1.2h0m.1-1.4h0m.8 .7h0m2.2 1.5h0m.9-2.5h0m.6-.2h0m1.7 .1h0m25.7 2.3h0m6 .4h0m4.9-2.5h0m1 2.6h0m.1-.6h0m1.3-.8h0m1.2-1.2h0m-6.4 2.7h0m-10 2.8h0m-21.7-2.5h0m-2.5 2.1h0m-.9-.9h0m-.1-.4h0m-1.1-.9h0m-3.3 0h0m-3.8 .5h0m-11.4 3h0m11.6 .7h0m5.4 1.5h0m.7-1.2h0m2.5-.4h0m.2 1.5h0m.4 .9h0m-2.1-.1h0m-.5 2h0m-1.2-.6h0m-.4 .3h0m-.2-2.2h0m-1.8-.1h0m2.1 3.9h0m1.4-.2h0m.7 0h0m3.1 7.3h0m5.8 6.8h0" stroke="#e47068" stroke-width="1.52" stroke-linecap="round" fill="none"/>
<path d="M430.1 241.3h0m.1 1.3h0m.8-.1h0m1.4 .5h0m0 1.9h0m-.9 .5h0m-.2-1.6h0m-.6 1.2h0m-.7 .3h0m-1.3-.4h0m-2.2-1.2h0m-3.1 5.1h0m2.1 0h0m.1-.3h0m1.8-.2h0m.7-2h0m.2 .5h0m1.4 1.1h0m.1-.2h0m.7-.6h0m0 .8h0m.3-.6h0m1-1h0m.6 1.8h0m.4-1.8h0m.3 1.2h0m2.7 3.8h0m-.9 .5h0m-.6-1.3h0m-.7-1.3h0m-.4 .8h0m-.5-.5h0m-.1 .8h0m-.1-1h0m-1.3 1h0m-.7 .7h0m-.4-.8h0m-2.9-.2h0m-.1 .6h0m-.1-.7h0m-1 1.8h0m-.3-.9h0m-.7-.7h0m-1.3-.6h0m-1.6 .8h0m2 1.8h0m.4 1.2h0m.1-.1h0m1.1-1.1h0m3.4 1.9h0m2.2-.4h0m3.5-1h0m.2 3.8h0m-.3-1h0m-.9 .1h0m-.9 .4h0m-.2 .1h0m-.9 .2h0m-.6 1h0m-1.2-.3h0m-.4-.2h0m-.5-.9h0m-2-.3h0m-1.1 1.8h0m-4.1-1.8h0m0 1.7h0m-1.7-1.7h0m-.2 1.5h0m-.5-.9h0m-2.3 2.6h0m.6 .5h0m1.7-.8h0m1.1 2.3h0m.1-.6h0m.7-1.9h0m1.9 .1h0m1.8 1h0m.5-.4h0m0 .7h0m1.2 .6h0m1.7-.1h0m.3-.4h0m0 1h0m.9-.1h0m1.2-1.8h0m2.9-.3h0m.5 1.9h0m.2 .2h0m0-.7h0m-1 1.6h0m-1.4 .9h0m-.4 .2h0m0-.3h0m-.3 1.6h0m-.1-.3h0m-1.2-2.4h0m-1.1 1.9h0m-.6-1.4h0m-.6-.4h0m-3.5 2.5h0m-.8-2.7h0m-.3 1.1h0m-.9-1h0m-1.3 1.7h0m-1 .3h0m3.5 .9h0m1.2 1.5h0m2.7-.8h0m.3 .3h0m1.1 1.5h0m.1-1.3h0m1.5 .7h0" stroke="#b09a1e" stroke-width="1.52" stroke-linecap="round" fill="none"/>
<path d="M434.9 189h0m10.2 10.1h0m-60.4 4.5h0m1.6 1.8h0m-1.6 4.5h0m-1.4-.9h0m-.7 3.8h0m2.7-.4h0m.7-.8h0m.6 .7h0m2.3 .1h0m1.4 .7h0m-.6 1.6h0m-.1 .6h0m-2.1-1.9h0m-.5 2.2h0m-.1-1.7h0m-.7 .3h0m-.4 1h0m-1.4-.8h0m-.4 .6h0m-1.1 2.6h0m.7-1.1h0m.9-.5h0m.1 2.6h0m.7-2.3h0m3.1 .4h0m1.7 1.4h0m2 1.6h0m-.4 1.8h0m-4.2-.4h0m-.7-.8h0m-1.8-.5h0m-.3 .7h0m-.6 .9h0m-2.4 .2h0m-.1-.9h0m0 .4h0m-.5-1h0m.1 3.6h0m.8-.6h0m.2 1.7h0m1.4-.8h0m.4-1.9h0m2.8 1.2h0m.5-.5h0m.8 1.1h0m1.5 .8h0m.5-1.5h0m2.1 1.7h0m3.3 2.2h0m-6.9 0h0m-.1-.5h0m-.5 .8h0m-1.5-2.1h0m-.5 .6h0m-.1 .9h0m-.4-.4h0m-.7 .2h0m-.6-1.6h0m-.1 2.7h0m-1.2-1.5h0m-1.2-.4h0m-.3 0h0m-.7-.1h0m-.2 1.6h0m-.4-2.3h0m1.5 3.8h0m.9 1.2h0m3.2-1.5h0m2.7 1.4h0m2.7-1.9h0m-3.9 3.9h0m-.7 1.5h0m-1.2-1.2h0m-2.2 .9h0m-3.1-.3h0" stroke="#d35ee6" stroke-width="1.52" stroke-linecap="round" fill="none"/>
<path d="M399.5 227.2h0m.7 3.7h0m0-1.6h0m2-1.3h0m-.3 3.9h0m-.7-.3h0m-1.5 .4h0m-1.6 4.8h0m1.6-2.7h0m.3 2.5h0m.4-1.5h0m1.1 1.2h0m.1-.7h0m.3 1h0m.3-1.4h0m-3.1 3.1h0m-.7 1.2h0m-1.2-1.6h0m2 3.3h0m.9-.6h0m1.3 1.6h0m.7-1.9h0m.4 .8h0m.4-.4h0m.2-.1h0m1 3.6h0m-1.7-.5h0m-.6 1.9h0m-2.8-2.3h0m-1.9 2h0m-.2-1.5h0m-1.9-.3h0m2 3.7h0m.9-.7h0m3.5 0h0m4.9 0h0m3.3 4.4h0m-5.3 .1h0m-.9 .5h0m-.2-2.2h0m-1 .9h0m-.6 1.6h0m-1.4-1.7h0m-1-.5h0m-.3 2.1h0m-1.6-2.1h0m1.5 4h0m0-.7h0m.1 .2h0m.2-.9h0m.6 1.7h0m3.5-1.9h0m3 .6h0m.7-.2h0m.2 .6h0m.4 1.8h0m5.7 .6h0m-1.6 1.8h0m-.1-.3h0m-.9-.2h0m-1-.6h0m-1.8 .3h0m-.1-.7h0m-2.3 1.1h0m-.6-1.4h0m-3.8 .1h0m-1.1 1.9h0m-1.2-1h0m-.4-1.3h0m-.9 1.3h0m2.9 2.1h0m.8 1.2h0m.7-1.5h0m.1 1h0m.7 1.1h0m.2-1.4h0m1.5 0h0m.6-.7h0m1.2 1.9h0m.9 .2h0m1.2-.2h0m.2-.5h0m2.4 .1h0m.3 .9h0m2.9 2.9h0m-2-2.4h0m-.4 0h0m-1.9 .6h0m-.5 1.4h0m-.1-1.4h0m-.6 .1h0m-1.6 .1h0m-.2 1.8h0m-.4-.6h0m-1.5 .4h0m-.5-.3h0m-.7-.7h0m-.3-1.5h0m4 3.6h0m.3-.2h0m2.4 1h0m1.2 .2h0m4.2-1.4h0" stroke="#5fb43c" stroke-width="1.52" stroke-linecap="round" fill="none"/>
<path d="M410 238.6h0m-.4 1.9h0m-.4 3.3h0" stroke="#5a74d0" stroke-width="1.52" stroke-linecap="round" fill="none"/>
<path d="M386.2 182.4h0m1.9 0h0m.5 3h0m-.4-1.8h0m-.5 .3h0m-.1-.1h0m-1.9 2.7h0m.4 .5h0m0 0h0m5.2 4.6h0m-2.4-2.5h0m-1 1.4h0m-.8-.8h0m-.6 1h0m-.1 .3h0m-1.5-.9h0m-.3-.8h0m-.5 0h0m-1.1 5.2h0m1.7-1.4h0m8.1-.4h0m-5.6 4.4h0m-.8-.2h0m-2-1.4h0m-.7-.5h0" stroke="#48b9cc" stroke-width="1.52" stroke-linecap="round" fill="none"/>
<rect x="38.8" y="379.7" width="0.80" height="14.90" fill="rgb(47,47,47)"/>
<rect x="39.6" y="379.7" width="1.20" height="14.90" fill="rgb(97,97,97)"/>
<rect x="40.8" y="379.7" width="1.00" height="14.90" fill="rgb(27,27,27)"/>
<rect x="41.8" y="379.7" width="0.70" height="14.90" fill="rgb(187,187,187)"/>
<rect x="42.5" y="379.7" width="1.00" height="14.90" fill="rgb(220,220,220)"/>
<rect x="43.5" y="379.7" width="1.00" height="14.90" fill="rgb(187,187,187)"/>
<rect x="44.5" y="379.7" width="1.00" height="14.90" fill="rgb(59,59,59)"/>
<rect x="45.5" y="379.7" width="1.00" height="14.90" fill="rgb(170,170,170)"/>
<rect x="46.5" y="379.7" width="1.00" height="14.90" fill="rgb(220,220,220)"/>
<rect x="47.5" y="379.7" width="1.50" height="14.90" fill="rgb(83,83,83)"/>
<rect x="50" y="379.7" width="1.00" height="14.90" fill="rgb(187,187,187)"/>
<rect x="51" y="379.7" width="1.50" height="14.90" fill="rgb(59,59,59)"/>
<rect x="52.5" y="379.7" width="1.00" height="14.90" fill="rgb(170,170,170)"/>
<rect x="53.5" y="379.7" width="1.00" height="14.90" fill="rgb(220,220,220)"/>
<rect x="54.5" y="379.7" width="1.00" height="14.90" fill="rgb(71,71,71)"/>
<rect x="56.5" y="379.7" width="2.50" height="14.90" fill="rgb(187,187,187)"/>
<rect x="59" y="379.7" width="0.80" height="14.90" fill="rgb(155,155,155)"/>
<rect x="59.8" y="379.7" width="0.80" height="14.90" fill="rgb(59,59,59)"/>
<rect x="60.6" y="379.7" width="1.40" height="14.90" fill="rgb(237,237,237)"/>
<rect x="63.5" y="379.7" width="1.50" height="14.90" fill="rgb(97,97,97)"/>
<rect x="65" y="379.7" width="1.20" height="14.90" fill="rgb(110,110,110)"/>
<rect x="66.2" y="379.7" width="0.80" height="14.90" fill="rgb(47,47,47)"/>
<rect x="67" y="379.7" width="1.00" height="14.90" fill="rgb(237,237,237)"/>
<rect x="68" y="379.7" width="0.80" height="14.90" fill="rgb(170,170,170)"/>
<rect x="70.8" y="379.7" width="1.00" height="14.90" fill="rgb(37,37,37)"/>
<rect x="71.8" y="379.7" width="0.70" height="14.90" fill="rgb(203,203,203)"/>
<rect x="72.5" y="379.7" width="2.30" height="14.90" fill="rgb(83,83,83)"/>
<rect x="74.8" y="379.7" width="1.20" height="14.90" fill="rgb(203,203,203)"/>
<rect x="76" y="379.7" width="1.80" height="14.90" fill="rgb(155,155,155)"/>
<rect x="79.2" y="379.7" width="1.30" height="14.90" fill="rgb(97,97,97)"/>
<rect x="83" y="379.7" width="2.00" height="14.90" fill="rgb(187,187,187)"/>
<rect x="86" y="379.7" width="1.00" height="14.90" fill="rgb(47,47,47)"/>
<rect x="88" y="379.7" width="2.50" height="14.90" fill="rgb(155,155,155)"/>
<rect x="94.5" y="379.7" width="1.30" height="14.90" fill="rgb(170,170,170)"/>
<rect x="115" y="379.7" width="1.80" height="14.90" fill="rgb(140,140,140)"/>
<rect x="118" y="379.7" width="1.20" height="14.90" fill="rgb(155,155,155)"/>
<rect x="119.2" y="379.7" width="1.30" height="14.90" fill="rgb(220,220,220)"/>
<rect x="120.5" y="379.7" width="1.00" height="14.90" fill="rgb(37,37,37)"/>
<rect x="121.5" y="379.7" width="3.50" height="14.90" fill="rgb(125,125,125)"/>
<rect x="125" y="379.7" width="1.00" height="14.90" fill="rgb(110,110,110)"/>
<rect x="126" y="379.7" width="2.00" height="14.90" fill="rgb(125,125,125)"/>
<rect x="128" y="379.7" width="1.00" height="14.90" fill="rgb(97,97,97)"/>
<rect x="129" y="379.7" width="3.00" height="14.90" fill="rgb(170,170,170)"/>
<rect x="132" y="379.7" width="0.80" height="14.90" fill="rgb(18,18,18)"/>
<rect x="132.8" y="379.7" width="2.40" height="14.90" fill="rgb(237,237,237)"/>
<rect x="135.2" y="379.7" width="1.80" height="14.90" fill="rgb(59,59,59)"/>
<rect x="137" y="379.7" width="5.00" height="14.90" fill="rgb(180,180,180)"/>
<rect x="214" y="379.7" width="2.00" height="14.90" fill="rgb(83,83,83)"/>
<rect x="216" y="379.7" width="1.00" height="14.90" fill="rgb(187,187,187)"/>
<rect x="217" y="379.7" width="5.50" height="14.90" fill="rgb(110,110,110)"/>
<rect x="217.6" y="379.7" width="0.80" height="14.90" fill="rgb(59,59,59)"/>
<rect x="219.1" y="379.7" width="0.80" height="14.90" fill="rgb(71,71,71)"/>
<rect x="222.5" y="379.7" width="2.00" height="14.90" fill="rgb(237,237,237)"/>
<rect x="224.5" y="379.7" width="1.00" height="14.90" fill="rgb(125,125,125)"/>
<rect x="226" y="379.7" width="0.80" height="14.90" fill="rgb(140,140,140)"/>
<rect x="227.5" y="379.7" width="1.00" height="14.90" fill="rgb(47,47,47)"/>
<rect x="228.5" y="379.7" width="7.50" height="14.90" fill="rgb(110,110,110)"/>
<rect x="232" y="379.7" width="3.00" height="14.90" fill="rgb(83,83,83)"/>
<rect x="238.6" y="379.7" width="2.40" height="14.90" fill="rgb(110,110,110)"/>
<rect x="241" y="379.7" width="1.00" height="14.90" fill="rgb(203,203,203)"/>
<rect x="247.2" y="379.7" width="2.30" height="14.90" fill="rgb(110,110,110)"/>
<rect x="249.5" y="379.7" width="2.50" height="14.90" fill="rgb(237,237,237)"/>
<rect x="252" y="379.7" width="1.50" height="14.90" fill="rgb(155,155,155)"/>
<rect x="259" y="379.7" width="1.30" height="14.90" fill="rgb(155,155,155)"/>
<rect x="262" y="379.7" width="2.00" height="14.90" fill="rgb(97,97,97)"/>
<rect x="276" y="379.7" width="1.50" height="14.90" fill="rgb(187,187,187)"/>
<rect x="277.5" y="379.7" width="1.50" height="14.90" fill="rgb(71,71,71)"/>
<rect x="283" y="379.7" width="1.30" height="14.90" fill="rgb(170,170,170)"/>
<rect x="286" y="379.7" width="2.00" height="14.90" fill="rgb(110,110,110)"/>
<rect x="288" y="379.7" width="1.00" height="14.90" fill="rgb(237,237,237)"/>
<rect x="289" y="379.7" width="2.50" height="14.90" fill="rgb(71,71,71)"/>
<rect x="291.5" y="379.7" width="1.50" height="14.90" fill="rgb(203,203,203)"/>
<rect x="294" y="379.7" width="1.50" height="14.90" fill="rgb(187,187,187)"/>
<rect x="295.5" y="379.7" width="1.50" height="14.90" fill="rgb(59,59,59)"/>
<rect x="297" y="379.7" width="1.50" height="14.90" fill="rgb(187,187,187)"/>
<rect x="298.5" y="379.7" width="1.50" height="14.90" fill="rgb(149,149,149)"/>
<rect x="302" y="379.7" width="4.00" height="14.90" fill="rgb(131,131,131)"/>
<rect x="308" y="379.7" width="2.00" height="14.90" fill="rgb(59,59,59)"/>
<rect x="310" y="379.7" width="1.00" height="14.90" fill="rgb(170,170,170)"/>
<rect x="311" y="379.7" width="1.00" height="14.90" fill="rgb(47,47,47)"/>
<rect x="312" y="379.7" width="3.00" height="14.90" fill="rgb(97,97,97)"/>
<rect x="315" y="379.7" width="1.80" height="14.90" fill="rgb(4,4,4)"/>
<rect x="382" y="379.7" width="0.90" height="14.90" fill="rgb(110,110,110)"/>
<rect x="382.9" y="379.7" width="0.90" height="14.90" fill="rgb(71,71,71)"/>
<rect x="383.8" y="379.7" width="0.80" height="14.90" fill="rgb(155,155,155)"/>
<rect x="384.6" y="379.7" width="1.10" height="14.90" fill="rgb(71,71,71)"/>
<rect x="385.7" y="379.7" width="1.20" height="14.90" fill="rgb(203,203,203)"/>
<rect x="386.9" y="379.7" width="0.60" height="14.90" fill="rgb(237,237,237)"/>
<rect x="387.5" y="379.7" width="0.60" height="14.90" fill="rgb(125,125,125)"/>
<rect x="388.1" y="379.7" width="1.30" height="14.90" fill="rgb(170,170,170)"/>
<rect x="391.3" y="379.7" width="0.80" height="14.90" fill="rgb(155,155,155)"/>
<rect x="392.1" y="379.7" width="0.80" height="14.90" fill="rgb(187,187,187)"/>
<rect x="392.9" y="379.7" width="1.60" height="14.90" fill="rgb(237,237,237)"/>
<rect x="394.5" y="379.7" width="0.80" height="14.90" fill="rgb(187,187,187)"/>
<rect x="395.3" y="379.7" width="2.50" height="14.90" fill="rgb(140,140,140)"/>
<rect x="397.8" y="379.7" width="1.10" height="14.90" fill="rgb(203,203,203)"/>
<rect x="398.9" y="379.7" width="1.10" height="14.90" fill="rgb(140,140,140)"/>
<rect x="400" y="379.7" width="1.30" height="14.90" fill="rgb(155,155,155)"/>
<rect x="401.3" y="379.7" width="0.90" height="14.90" fill="rgb(237,237,237)"/>
<rect x="402.2" y="379.7" width="0.80" height="14.90" fill="rgb(155,155,155)"/>
<rect x="403" y="379.7" width="0.80" height="14.90" fill="rgb(237,237,237)"/>
<rect x="403.8" y="379.7" width="1.20" height="14.90" fill="rgb(187,187,187)"/>
<rect x="405" y="379.7" width="1.50" height="14.90" fill="rgb(155,155,155)"/>
<rect x="406.5" y="379.7" width="2.50" height="14.90" fill="rgb(180,180,180)"/>
<rect x="410.8" y="379.7" width="1.20" height="14.90" fill="rgb(71,71,71)"/>
<rect x="412" y="379.7" width="0.60" height="14.90" fill="rgb(187,187,187)"/>
<rect x="412.6" y="379.7" width="1.90" height="14.90" fill="rgb(237,237,237)"/>
<rect x="414.5" y="379.7" width="0.80" height="14.90" fill="rgb(125,125,125)"/>
<rect x="415.3" y="379.7" width="2.20" height="14.90" fill="rgb(203,203,203)"/>
<rect x="417.5" y="379.7" width="0.90" height="14.90" fill="rgb(155,155,155)"/>
<rect x="422.6" y="379.7" width="1.10" height="14.90" fill="rgb(71,71,71)"/>
<rect x="427.5" y="379.7" width="2.10" height="14.90" fill="rgb(59,59,59)"/>
<rect x="429.6" y="379.7" width="0.60" height="14.90" fill="rgb(187,187,187)"/>
<rect x="432.3" y="379.7" width="1.10" height="14.90" fill="rgb(97,97,97)"/>
<rect x="433.4" y="379.7" width="1.90" height="14.90" fill="rgb(155,155,155)"/>
<rect x="435.3" y="379.7" width="1.70" height="14.90" fill="rgb(47,47,47)"/>
<rect x="437" y="379.7" width="1.80" height="14.90" fill="rgb(237,237,237)"/>
<rect x="438.8" y="379.7" width="1.10" height="14.90" fill="rgb(97,97,97)"/>
<rect x="445" y="379.7" width="0.80" height="14.90" fill="rgb(125,125,125)"/>
<rect x="445.8" y="379.7" width="0.80" height="14.90" fill="rgb(237,237,237)"/>
<rect x="446.6" y="379.7" width="0.90" height="14.90" fill="rgb(110,110,110)"/>
<rect x="447.5" y="379.7" width="2.50" height="14.90" fill="rgb(244,244,244)"/>
<rect x="450" y="379.7" width="1.80" height="14.90" fill="rgb(187,187,187)"/>
<rect x="451.8" y="379.7" width="1.20" height="14.90" fill="rgb(237,237,237)"/>
<rect x="453" y="379.7" width="2.00" height="14.90" fill="rgb(125,125,125)"/>
<rect x="455" y="379.7" width="1.00" height="14.90" fill="rgb(203,203,203)"/>
<rect x="457.8" y="379.7" width="2.20" height="14.90" fill="rgb(140,140,140)"/>
<rect x="460" y="379.7" width="1.00" height="14.90" fill="rgb(155,155,155)"/>
<rect x="461" y="379.7" width="1.00" height="14.90" fill="rgb(125,125,125)"/>
<rect x="462" y="379.7" width="1.40" height="14.90" fill="rgb(203,203,203)"/>
<rect x="463.4" y="379.7" width="2.10" height="14.90" fill="rgb(170,170,170)"/>
<rect x="465.5" y="379.7" width="1.20" height="14.90" fill="rgb(71,71,71)"/>
<rect x="466.7" y="379.7" width="1.10" height="14.90" fill="rgb(237,237,237)"/>
<rect x="467.8" y="379.7" width="0.80" height="14.90" fill="rgb(155,155,155)"/>
<rect x="468.6" y="379.7" width="1.00" height="14.90" fill="rgb(237,237,237)"/>
<rect x="469.6" y="379.7" width="1.20" height="14.90" fill="rgb(125,125,125)"/>
<rect x="470.8" y="379.7" width="0.80" height="14.90" fill="rgb(83,83,83)"/>
<rect x="471.6" y="379.7" width="0.90" height="14.90" fill="rgb(203,203,203)"/>
<rect x="472.5" y="379.7" width="2.20" height="14.90" fill="rgb(71,71,71)"/>
<rect x="474.7" y="379.7" width="1.30" height="14.90" fill="rgb(203,203,203)"/>
<rect x="476" y="379.7" width="1.00" height="14.90" fill="rgb(125,125,125)"/>
<rect x="477" y="379.7" width="3.00" height="14.90" fill="rgb(97,97,97)"/>
<rect x="480" y="379.7" width="2.00" height="14.90" fill="rgb(155,155,155)"/>
<rect x="482" y="379.7" width="1.50" height="14.90" fill="rgb(203,203,203)"/>
<rect x="483.5" y="379.7" width="1.50" height="14.90" fill="rgb(10,10,10)"/>
<text x="7.3" y="16.6" font-size="11.6" fill="#000" textLength="8.3" lengthAdjust="spacingAndGlyphs" font-weight="bold" stroke="#000" stroke-width="0.5">A</text>
<rect x="69" y="17.1" width="143.6" height="15.4" fill="#c6c8dd"/>
<text x="75.2" y="27.1" font-size="8.8" fill="#231f20" stroke="#231f20" stroke-width="0.12" textLength="132.2" lengthAdjust="spacingAndGlyphs" >Primary patient B-ALL (BM or PBMC)</text>
<text x="216.8" y="35.7" font-size="8.6" fill="#231f20" stroke="#231f20" stroke-width="0.12" textLength="19.3" lengthAdjust="spacingAndGlyphs" >FACS</text>
<text x="216.8" y="45.4" font-size="8.6" fill="#231f20" stroke="#231f20" stroke-width="0.12" textLength="67" lengthAdjust="spacingAndGlyphs" >(CD45/CD19/CD3)</text>
<path d="M141.3 32.5 L141.3 57" fill="none" stroke="#231f20" stroke-width="1.1" stroke-linejoin="round"/>
<path d="M46.4 57 L46.4 48.3 L236.8 48.3 L236.8 57" fill="none" stroke="#231f20" stroke-width="1.1" stroke-linejoin="round"/>
<path d="M44.4 56.8 L48.4 56.8 L46.4 61.8 Z" fill="#231f20"/>
<path d="M139.3 56.8 L143.3 56.8 L141.3 61.8 Z" fill="#231f20"/>
<path d="M234.8 56.8 L238.8 56.8 L236.8 61.8 Z" fill="#231f20"/>
<rect x="18.8" y="63.1" width="55.4" height="24.4" fill="#c6c8dd"/>
<rect x="88" y="63.1" width="108.5" height="24.4" fill="#c6c8dd"/>
<rect x="208.9" y="63.1" width="55.7" height="24.4" fill="#c6c8dd"/>
<text x="21.5" y="72.9" font-size="8.6" fill="#231f20" stroke="#231f20" stroke-width="0.12" textLength="25.75" lengthAdjust="spacingAndGlyphs" >CD19+</text>
<text x="21.5" y="83.1" font-size="8.6" fill="#231f20" stroke="#231f20" stroke-width="0.12" textLength="49.5" lengthAdjust="spacingAndGlyphs" >(B-ALL tumor)</text>
<text x="99.8" y="72.9" font-size="8.6" fill="#231f20" stroke="#231f20" stroke-width="0.12" textLength="44.2" lengthAdjust="spacingAndGlyphs" >CD19-/CD3-</text>
<text x="99.8" y="83.1" font-size="8.6" fill="#231f20" stroke="#231f20" stroke-width="0.12" textLength="85.2" lengthAdjust="spacingAndGlyphs" >(non-tumor, non-T cells)</text>
<text x="225" y="72.9" font-size="8.6" fill="#231f20" stroke="#231f20" stroke-width="0.12" textLength="21.1" lengthAdjust="spacingAndGlyphs" >CD3+</text>
<text x="225" y="83.1" font-size="8.6" fill="#231f20" stroke="#231f20" stroke-width="0.12" textLength="23.2" lengthAdjust="spacingAndGlyphs" >(T cell)</text>
<path d="M46.5 87.5 L46.5 100.3 L141.8 100.3 L141.8 87.5" fill="none" stroke="#231f20" stroke-width="1.1" stroke-linejoin="round"/>
<path d="M94.2 100.3 L94.2 107" fill="none" stroke="#231f20" stroke-width="1.1" stroke-linejoin="round"/>
<path d="M92.2 106.7 L96.2 106.7 L94.2 111.7 Z" fill="#231f20"/>
<path d="M236.8 87.5 L236.8 107" fill="none" stroke="#231f20" stroke-width="1.1" stroke-linejoin="round"/>
<path d="M234.8 106.7 L238.8 106.7 L236.8 111.7 Z" fill="#231f20"/>
<text x="28.7" y="108.9" font-size="8.6" fill="#231f20" stroke="#231f20" stroke-width="0.12" textLength="35.2" lengthAdjust="spacingAndGlyphs" >5000 cells</text>
<text x="123.75" y="108.9" font-size="8.6" fill="#231f20" stroke="#231f20" stroke-width="0.12" textLength="35.75" lengthAdjust="spacingAndGlyphs" >5000 cells</text>
<text x="240" y="100" font-size="8.6" fill="#231f20" stroke="#231f20" stroke-width="0.12" textLength="41.5" lengthAdjust="spacingAndGlyphs" >10,000 cells</text>
<rect x="66.5" y="112.8" width="55.5" height="21.1" fill="#c6c8dd"/>
<rect x="209.2" y="112.9" width="55.3" height="21.0" fill="#c6c8dd"/>
<text x="81.9" y="125.9" font-size="8.6" fill="#231f20" stroke="#231f20" stroke-width="0.12" textLength="25" lengthAdjust="spacingAndGlyphs" >5’ GEX</text>
<text x="123.75" y="126.1" font-size="8.6" fill="#231f20" stroke="#231f20" stroke-width="0.12" textLength="45.75" lengthAdjust="spacingAndGlyphs" >TUMOR MIX</text>
<text x="219" y="121.3" font-size="8.6" fill="#231f20" stroke="#231f20" stroke-width="0.12" textLength="25.8" lengthAdjust="spacingAndGlyphs" >5’ GEX,</text>
<text x="219" y="131.3" font-size="8.6" fill="#231f20" stroke="#231f20" stroke-width="0.12" textLength="36" lengthAdjust="spacingAndGlyphs" >TCR V(D)J</text>
<text x="268" y="126.4" font-size="8.6" fill="#231f20" stroke="#231f20" stroke-width="0.12" textLength="29" lengthAdjust="spacingAndGlyphs" >T CELLS</text>
<text x="7.7" y="154.8" font-size="11.6" fill="#000" textLength="6.6" lengthAdjust="spacingAndGlyphs" font-weight="bold" stroke="#000" stroke-width="0.5">B</text>
<path d="M38.3 161.8 L38.3 273.0 L132.3 273.0" fill="none" stroke="#000" stroke-width="1.15"/>
<path d="M35.5 163.9 L38.3 163.9" stroke="#000" stroke-width="1"/>
<text x="23.999999999999996" y="166.9" font-size="8.6" fill="#222" stroke="#222" stroke-width="0.08" textLength="8.3" lengthAdjust="spacingAndGlyphs" >50</text>
<path d="M35.5 191.175 L38.3 191.175" stroke="#000" stroke-width="1"/>
<text x="23.999999999999996" y="194.175" font-size="8.6" fill="#222" stroke="#222" stroke-width="0.08" textLength="8.3" lengthAdjust="spacingAndGlyphs" >25</text>
<path d="M35.5 218.45 L38.3 218.45" stroke="#000" stroke-width="1"/>
<text x="28.299999999999997" y="221.45" font-size="8.6" fill="#222" stroke="#222" stroke-width="0.08" textLength="4.0" lengthAdjust="spacingAndGlyphs" >0</text>
<path d="M35.5 245.72500000000002 L38.3 245.72500000000002" stroke="#000" stroke-width="1"/>
<text x="20.699999999999996" y="248.72500000000002" font-size="8.6" fill="#222" stroke="#222" stroke-width="0.08" textLength="11.6" lengthAdjust="spacingAndGlyphs" >-25</text>
<path d="M35.5 273.0 L38.3 273.0" stroke="#000" stroke-width="1"/>
<text x="20.699999999999996" y="276.0" font-size="8.6" fill="#222" stroke="#222" stroke-width="0.08" textLength="11.6" lengthAdjust="spacingAndGlyphs" >-50</text>
<path d="M38.5 273.0 L38.5 275.8" stroke="#000" stroke-width="1"/>
<text x="31.8" y="285.9" font-size="8.2" fill="#222" stroke="#222" stroke-width="0.08" textLength="11.8" lengthAdjust="spacingAndGlyphs" >-50</text>
<path d="M61.3 273.0 L61.3 275.8" stroke="#000" stroke-width="1"/>
<text x="54.6" y="285.9" font-size="8.2" fill="#222" stroke="#222" stroke-width="0.08" textLength="11.8" lengthAdjust="spacingAndGlyphs" >-25</text>
<path d="M84.1 273.0 L84.1 275.8" stroke="#000" stroke-width="1"/>
<text x="82.1" y="285.9" font-size="8.2" fill="#222" stroke="#222" stroke-width="0.08" textLength="4.0" lengthAdjust="spacingAndGlyphs" >0</text>
<path d="M106.9 273.0 L106.9 275.8" stroke="#000" stroke-width="1"/>
<text x="102.75" y="285.9" font-size="8.2" fill="#222" stroke="#222" stroke-width="0.08" textLength="8.3" lengthAdjust="spacingAndGlyphs" >25</text>
<path d="M129.7 273.0 L129.7 275.8" stroke="#000" stroke-width="1"/>
<text x="125.55" y="285.9" font-size="8.2" fill="#222" stroke="#222" stroke-width="0.08" textLength="8.3" lengthAdjust="spacingAndGlyphs" >50</text>
<text x="72.5" y="299" font-size="8.6" fill="#222" stroke="#222" stroke-width="0.06" textLength="24" lengthAdjust="spacingAndGlyphs" >tSNE_1</text>
<text transform="translate(16.799999999999997,216.3) rotate(-90)" x="0" y="0" font-size="8.6" fill="#222" stroke="#222" stroke-width="0.06" text-anchor="middle" textLength="24" lengthAdjust="spacingAndGlyphs">tSNE_2</text>
<text x="41.9" y="163.3" font-size="6.8" fill="#111" stroke="#111" stroke-width="0.1" textLength="37" lengthAdjust="spacingAndGlyphs" >Tumor mix</text>
<path d="M208.3 161.8 L208.3 273.0 L304.0 273.0" fill="none" stroke="#000" stroke-width="1.15"/>
<path d="M205.5 163.9 L208.3 163.9" stroke="#000" stroke-width="1"/>
<text x="194.0" y="166.9" font-size="8.6" fill="#222" stroke="#222" stroke-width="0.08" textLength="8.3" lengthAdjust="spacingAndGlyphs" >50</text>
<path d="M205.5 191.175 L208.3 191.175" stroke="#000" stroke-width="1"/>
<text x="194.0" y="194.175" font-size="8.6" fill="#222" stroke="#222" stroke-width="0.08" textLength="8.3" lengthAdjust="spacingAndGlyphs" >25</text>
<path d="M205.5 218.45 L208.3 218.45" stroke="#000" stroke-width="1"/>
<text x="198.3" y="221.45" font-size="8.6" fill="#222" stroke="#222" stroke-width="0.08" textLength="4.0" lengthAdjust="spacingAndGlyphs" >0</text>
<path d="M205.5 245.72500000000002 L208.3 245.72500000000002" stroke="#000" stroke-width="1"/>
<text x="190.70000000000002" y="248.72500000000002" font-size="8.6" fill="#222" stroke="#222" stroke-width="0.08" textLength="11.6" lengthAdjust="spacingAndGlyphs" >-25</text>
<path d="M205.5 273.0 L208.3 273.0" stroke="#000" stroke-width="1"/>
<text x="190.70000000000002" y="276.0" font-size="8.6" fill="#222" stroke="#222" stroke-width="0.08" textLength="11.6" lengthAdjust="spacingAndGlyphs" >-50</text>
<path d="M209.3 273.0 L209.3 275.8" stroke="#000" stroke-width="1"/>
<text x="202.6" y="285.9" font-size="8.2" fill="#222" stroke="#222" stroke-width="0.08" textLength="11.8" lengthAdjust="spacingAndGlyphs" >-50</text>
<path d="M232.28 273.0 L232.28 275.8" stroke="#000" stroke-width="1"/>
<text x="225.58" y="285.9" font-size="8.2" fill="#222" stroke="#222" stroke-width="0.08" textLength="11.8" lengthAdjust="spacingAndGlyphs" >-25</text>
<path d="M255.25 273.0 L255.25 275.8" stroke="#000" stroke-width="1"/>
<text x="253.25" y="285.9" font-size="8.2" fill="#222" stroke="#222" stroke-width="0.08" textLength="4.0" lengthAdjust="spacingAndGlyphs" >0</text>
<path d="M278.23 273.0 L278.23 275.8" stroke="#000" stroke-width="1"/>
<text x="274.08" y="285.9" font-size="8.2" fill="#222" stroke="#222" stroke-width="0.08" textLength="8.3" lengthAdjust="spacingAndGlyphs" >25</text>
<path d="M301.2 273.0 L301.2 275.8" stroke="#000" stroke-width="1"/>
<text x="297.05" y="285.9" font-size="8.2" fill="#222" stroke="#222" stroke-width="0.08" textLength="8.3" lengthAdjust="spacingAndGlyphs" >50</text>
<text x="243.65" y="299" font-size="8.6" fill="#222" stroke="#222" stroke-width="0.06" textLength="24" lengthAdjust="spacingAndGlyphs" >tSNE_1</text>
<text transform="translate(186.8,216.3) rotate(-90)" x="0" y="0" font-size="8.6" fill="#222" stroke="#222" stroke-width="0.06" text-anchor="middle" textLength="24" lengthAdjust="spacingAndGlyphs">tSNE_2</text>
<text x="211.9" y="163.3" font-size="6.8" fill="#111" stroke="#111" stroke-width="0.1" textLength="37" lengthAdjust="spacingAndGlyphs" >Tumor mix</text>
<path d="M374.3 161.8 L374.3 273.0 L468.8 273.0" fill="none" stroke="#000" stroke-width="1.15"/>
<path d="M371.5 163.9 L374.3 163.9" stroke="#000" stroke-width="1"/>
<text x="360.0" y="166.9" font-size="8.6" fill="#222" stroke="#222" stroke-width="0.08" textLength="8.3" lengthAdjust="spacingAndGlyphs" >50</text>
<path d="M371.5 191.175 L374.3 191.175" stroke="#000" stroke-width="1"/>
<text x="360.0" y="194.175" font-size="8.6" fill="#222" stroke="#222" stroke-width="0.08" textLength="8.3" lengthAdjust="spacingAndGlyphs" >25</text>
<path d="M371.5 218.45 L374.3 218.45" stroke="#000" stroke-width="1"/>
<text x="364.3" y="221.45" font-size="8.6" fill="#222" stroke="#222" stroke-width="0.08" textLength="4.0" lengthAdjust="spacingAndGlyphs" >0</text>
<path d="M371.5 245.72500000000002 L374.3 245.72500000000002" stroke="#000" stroke-width="1"/>
<text x="356.7" y="248.72500000000002" font-size="8.6" fill="#222" stroke="#222" stroke-width="0.08" textLength="11.6" lengthAdjust="spacingAndGlyphs" >-25</text>
<path d="M371.5 273.0 L374.3 273.0" stroke="#000" stroke-width="1"/>
<text x="356.7" y="276.0" font-size="8.6" fill="#222" stroke="#222" stroke-width="0.08" textLength="11.6" lengthAdjust="spacingAndGlyphs" >-50</text>
<path d="M375.0 273.0 L375.0 275.8" stroke="#000" stroke-width="1"/>
<text x="368.3" y="285.9" font-size="8.2" fill="#222" stroke="#222" stroke-width="0.08" textLength="11.8" lengthAdjust="spacingAndGlyphs" >-50</text>
<path d="M397.8 273.0 L397.8 275.8" stroke="#000" stroke-width="1"/>
<text x="391.1" y="285.9" font-size="8.2" fill="#222" stroke="#222" stroke-width="0.08" textLength="11.8" lengthAdjust="spacingAndGlyphs" >-25</text>
<path d="M420.6 273.0 L420.6 275.8" stroke="#000" stroke-width="1"/>
<text x="418.6" y="285.9" font-size="8.2" fill="#222" stroke="#222" stroke-width="0.08" textLength="4.0" lengthAdjust="spacingAndGlyphs" >0</text>
<path d="M443.4 273.0 L443.4 275.8" stroke="#000" stroke-width="1"/>
<text x="439.25" y="285.9" font-size="8.2" fill="#222" stroke="#222" stroke-width="0.08" textLength="8.3" lengthAdjust="spacingAndGlyphs" >25</text>
<path d="M466.2 273.0 L466.2 275.8" stroke="#000" stroke-width="1"/>
<text x="462.05" y="285.9" font-size="8.2" fill="#222" stroke="#222" stroke-width="0.08" textLength="8.3" lengthAdjust="spacingAndGlyphs" >50</text>
<text x="409.0" y="299" font-size="8.6" fill="#222" stroke="#222" stroke-width="0.06" textLength="24" lengthAdjust="spacingAndGlyphs" >tSNE_1</text>
<text transform="translate(352.8,216.3) rotate(-90)" x="0" y="0" font-size="8.6" fill="#222" stroke="#222" stroke-width="0.06" text-anchor="middle" textLength="24" lengthAdjust="spacingAndGlyphs">tSNE_2</text>
<text x="377.90000000000003" y="163.3" font-size="6.8" fill="#111" stroke="#111" stroke-width="0.1" textLength="37" lengthAdjust="spacingAndGlyphs" >Tumor mix</text>
<circle cx="108.9" cy="156.9" r="1.2" fill="#e47068"/>
<text x="112.7" y="159.4" font-size="7.2" fill="#e47068" stroke="#e47068" stroke-width="0.04" textLength="57.3" lengthAdjust="spacingAndGlyphs" >SJALL061890_R1</text>
<circle cx="108.9" cy="165.1" r="1.2" fill="#4dbcc6"/>
<text x="112.7" y="167.6" font-size="7.2" fill="#4dbcc6" stroke="#4dbcc6" stroke-width="0.04" textLength="57.3" lengthAdjust="spacingAndGlyphs" >SJALL061888_R1</text>
<circle cx="108.9" cy="173.3" r="1.2" fill="#86ac1c"/>
<text x="112.7" y="175.8" font-size="7.2" fill="#86ac1c" stroke="#86ac1c" stroke-width="0.04" textLength="57.3" lengthAdjust="spacingAndGlyphs" >SJALL061885_R1</text>
<circle cx="108.9" cy="181.5" r="1.2" fill="#b87af2"/>
<text x="112.7" y="184.0" font-size="7.2" fill="#b87af2" stroke="#b87af2" stroke-width="0.04" textLength="57.3" lengthAdjust="spacingAndGlyphs" >SJALL061884_R1</text>
<path d="M102.9 175 L105.7 175 L104.3 172.4 Z" fill="#e47068"/>
<circle cx="281.5" cy="160.29999999999998" r="1.2" fill="#e47068"/>
<text x="285.9" y="162.7" font-size="7.6" fill="#e47068" stroke="#e47068" stroke-width="0.04" textLength="51.2" lengthAdjust="spacingAndGlyphs" >Non-responder</text>
<circle cx="281.5" cy="168.2" r="1.2" fill="#4dbcc6"/>
<text x="285.9" y="170.6" font-size="7.6" fill="#4dbcc6" stroke="#4dbcc6" stroke-width="0.04" textLength="36.1" lengthAdjust="spacingAndGlyphs" >Responder</text>
<path d="M275.1 176.2 L277.9 176.2 L276.5 173.6 Z" fill="#e47068"/>
<circle cx="445.7" cy="134.4" r="1.2" fill="#e07a72"/>
<text x="450.3" y="136.9" font-size="7.2" fill="#e07a72" stroke="#e07a72" stroke-width="0.04" textLength="45.4" lengthAdjust="spacingAndGlyphs" >CD19+ blasts</text>
<circle cx="445.7" cy="142.4" r="1.2" fill="#a8a040"/>
<text x="450.3" y="144.9" font-size="7.2" fill="#a8a040" stroke="#a8a040" stroke-width="0.04" textLength="62.8" lengthAdjust="spacingAndGlyphs" >CD19+ monocytes</text>
<circle cx="445.7" cy="150.4" r="1.2" fill="#62b046"/>
<text x="450.3" y="152.9" font-size="7.2" fill="#62b046" stroke="#62b046" stroke-width="0.04" textLength="62.8" lengthAdjust="spacingAndGlyphs" >CD19+ monocytes</text>
<circle cx="445.7" cy="158.4" r="1.2" fill="#5ab6e6"/>
<text x="450.3" y="160.9" font-size="7.2" fill="#5ab6e6" stroke="#5ab6e6" stroke-width="0.04" textLength="41.5" lengthAdjust="spacingAndGlyphs" >Erythrocytes</text>
<circle cx="445.7" cy="166.4" r="1.2" fill="#5870d0"/>
<text x="450.3" y="168.9" font-size="7.2" fill="#5870d0" stroke="#5870d0" stroke-width="0.04" textLength="14.9" lengthAdjust="spacingAndGlyphs" >HSC</text>
<circle cx="445.7" cy="174.4" r="1.2" fill="#c653c6"/>
<text x="450.3" y="176.9" font-size="7.2" fill="#c653c6" stroke="#c653c6" stroke-width="0.04" textLength="42.3" lengthAdjust="spacingAndGlyphs" >Natural killer</text>
<path d="M439.4 175.5 L442.2 175.5 L440.8 172.9 Z" fill="#e47068"/>
<text x="7.7" y="320.6" font-size="11.6" fill="#000" textLength="7.4" lengthAdjust="spacingAndGlyphs" font-weight="bold" stroke="#000" stroke-width="0.5">C</text>
<path d="M50.85 331 L50.85 377.5" stroke="#f1f1f1" stroke-width="0.7"/>
<path d="M63.40 331 L63.40 377.5" stroke="#f1f1f1" stroke-width="0.7"/>
<path d="M75.95 331 L75.95 377.5" stroke="#f1f1f1" stroke-width="0.7"/>
<path d="M88.50 331 L88.50 377.5" stroke="#f1f1f1" stroke-width="0.7"/>
<path d="M101.05 331 L101.05 377.5" stroke="#f1f1f1" stroke-width="0.7"/>
<path d="M113.60 331 L113.60 377.5" stroke="#f1f1f1" stroke-width="0.7"/>
<path d="M126.15 331 L126.15 377.5" stroke="#f1f1f1" stroke-width="0.7"/>
<path d="M138.70 331 L138.70 377.5" stroke="#f1f1f1" stroke-width="0.7"/>
<path d="M38.3 335.5 L148.3 335.5" stroke="#f4f4f4" stroke-width="0.7"/>
<path d="M38.3 341.3 L148.3 341.3" stroke="#f4f4f4" stroke-width="0.7"/>
<path d="M38.3 347.1 L148.3 347.1" stroke="#f4f4f4" stroke-width="0.7"/>
<path d="M38.3 353 L148.3 353" stroke="#f4f4f4" stroke-width="0.7"/>
<path d="M38.3 358.7 L148.3 358.7" stroke="#f4f4f4" stroke-width="0.7"/>
<path d="M38.3 364.5 L148.3 364.5" stroke="#f4f4f4" stroke-width="0.7"/>
<path d="M38.3 370.4 L148.3 370.4" stroke="#f4f4f4" stroke-width="0.7"/>
<path d="M38.3 376.3 L148.3 376.3" stroke="#f4f4f4" stroke-width="0.7"/>
<path d="M38.3 376.3 L148.3 376.3" stroke="#c8c8c8" stroke-width="0.8"/>
<path d="M38.3 377.6 L148.3 377.6" stroke="#e8e8e8" stroke-width="0.8"/>
<path d="M35.3 335.5 L38.3 335.5" stroke="#000" stroke-width="0.9"/>
<path d="M35.3 341.3 L38.3 341.3" stroke="#000" stroke-width="0.9"/>
<text x="21.0" y="344.25" font-size="8.2" fill="#222" stroke="#222" stroke-width="0.05" textLength="11.4" lengthAdjust="spacingAndGlyphs" >0.6</text>
<path d="M35.3 347.1 L38.3 347.1" stroke="#000" stroke-width="0.9"/>
<path d="M35.3 353 L38.3 353" stroke="#000" stroke-width="0.9"/>
<text x="21.0" y="355.95" font-size="8.2" fill="#222" stroke="#222" stroke-width="0.05" textLength="11.4" lengthAdjust="spacingAndGlyphs" >0.4</text>
<path d="M35.3 358.7 L38.3 358.7" stroke="#000" stroke-width="0.9"/>
<path d="M35.3 364.5 L38.3 364.5" stroke="#000" stroke-width="0.9"/>
<text x="21.0" y="367.45" font-size="8.2" fill="#222" stroke="#222" stroke-width="0.05" textLength="11.4" lengthAdjust="spacingAndGlyphs" >0.2</text>
<path d="M35.3 370.4 L38.3 370.4" stroke="#000" stroke-width="0.9"/>
<path d="M35.3 376.3 L38.3 376.3" stroke="#000" stroke-width="0.9"/>
<text x="21.0" y="379.25" font-size="8.2" fill="#222" stroke="#222" stroke-width="0.05" textLength="11.4" lengthAdjust="spacingAndGlyphs" >0.0</text>
<path d="M38.5 376 L38.9 359 L40.1 341.8 L42 335.5 L44.5 332.8 L47 332.4 L54.6 333.6 L62 337.4 L74.6 343.7 L87.2 350.6 L97 356.2 L104.5 360 L117.1 366.9 L129.6 373.2 L134.7 375.7 L137.2 376.3 L140.3 376.3 L142.2 375.4 L142.6 375.6" fill="none" stroke="#82ec3c" stroke-width="1.2" stroke-linejoin="round"/>
<rect x="38.3" y="330.6" width="110.00000000000001" height="64.59999999999997" fill="none" stroke="#000" stroke-width="1.25"/>
<text x="63.4" y="327.8" font-size="9.4" fill="#111" stroke="#111" stroke-width="0.1" textLength="59.2" lengthAdjust="spacingAndGlyphs" >CD19+ tumor</text>
<text x="101.8" y="340.9" font-size="6.0" fill="#222" stroke="#222" stroke-width="0.03" textLength="31" lengthAdjust="spacingAndGlyphs" >NES = 1.77</text>
<text x="101.8" y="347.7" font-size="6.0" fill="#222" stroke="#222" stroke-width="0.03" textLength="44.4" lengthAdjust="spacingAndGlyphs" >NOM p &lt; 0.0001</text>
<text transform="translate(16.8,355.5) rotate(-90)" x="0" y="0" font-size="8.8" fill="#222" stroke="#222" stroke-width="0.08" text-anchor="middle" textLength="58.5" lengthAdjust="spacingAndGlyphs">Enrichment score</text>
<text x="38.8" y="404.8" font-size="7.4" fill="#bf3558" stroke="#bf3558" stroke-width="0.1" textLength="37.7" lengthAdjust="spacingAndGlyphs" >Responder</text>
<text x="93.2" y="404.8" font-size="7.4" fill="#42609c" stroke="#42609c" stroke-width="0.1" textLength="54.1" lengthAdjust="spacingAndGlyphs" >Non-responder</text>
<path d="M226.15 331 L226.15 377.5" stroke="#f1f1f1" stroke-width="0.7"/>
<path d="M238.70 331 L238.70 377.5" stroke="#f1f1f1" stroke-width="0.7"/>
<path d="M251.25 331 L251.25 377.5" stroke="#f1f1f1" stroke-width="0.7"/>
<path d="M263.80 331 L263.80 377.5" stroke="#f1f1f1" stroke-width="0.7"/>
<path d="M276.35 331 L276.35 377.5" stroke="#f1f1f1" stroke-width="0.7"/>
<path d="M288.90 331 L288.90 377.5" stroke="#f1f1f1" stroke-width="0.7"/>
<path d="M301.45 331 L301.45 377.5" stroke="#f1f1f1" stroke-width="0.7"/>
<path d="M314.00 331 L314.00 377.5" stroke="#f1f1f1" stroke-width="0.7"/>
<path d="M213.6 333 L322.4 333" stroke="#f4f4f4" stroke-width="0.7"/>
<path d="M213.6 338.1 L322.4 338.1" stroke="#f4f4f4" stroke-width="0.7"/>
<path d="M213.6 343.3 L322.4 343.3" stroke="#f4f4f4" stroke-width="0.7"/>
<path d="M213.6 348.5 L322.4 348.5" stroke="#f4f4f4" stroke-width="0.7"/>
<path d="M213.6 353.7 L322.4 353.7" stroke="#f4f4f4" stroke-width="0.7"/>
<path d="M213.6 358.9 L322.4 358.9" stroke="#f4f4f4" stroke-width="0.7"/>
<path d="M213.6 364.1 L322.4 364.1" stroke="#f4f4f4" stroke-width="0.7"/>
<path d="M213.6 369.4 L322.4 369.4" stroke="#f4f4f4" stroke-width="0.7"/>
<path d="M213.6 374.8 L322.4 374.8" stroke="#f4f4f4" stroke-width="0.7"/>
<path d="M213.6 343.4 L322.4 343.4" stroke="#c8c8c8" stroke-width="0.8"/>
<path d="M213.6 377.6 L322.4 377.6" stroke="#e8e8e8" stroke-width="0.8"/>
<path d="M210.6 333 L213.6 333" stroke="#000" stroke-width="0.9"/>
<text x="195.39999999999998" y="335.95" font-size="8.2" fill="#222" stroke="#222" stroke-width="0.05" textLength="11.4" lengthAdjust="spacingAndGlyphs" >0.2</text>
<path d="M210.6 338.1 L213.6 338.1" stroke="#000" stroke-width="0.9"/>
<path d="M210.6 343.3 L213.6 343.3" stroke="#000" stroke-width="0.9"/>
<text x="195.39999999999998" y="346.25" font-size="8.2" fill="#222" stroke="#222" stroke-width="0.05" textLength="11.4" lengthAdjust="spacingAndGlyphs" >0.0</text>
<path d="M210.6 348.5 L213.6 348.5" stroke="#000" stroke-width="0.9"/>
<path d="M210.6 353.7 L213.6 353.7" stroke="#000" stroke-width="0.9"/>
<text x="193.6" y="356.65" font-size="8.2" fill="#222" stroke="#222" stroke-width="0.05" textLength="13.2" lengthAdjust="spacingAndGlyphs" >-0.2</text>
<path d="M210.6 358.9 L213.6 358.9" stroke="#000" stroke-width="0.9"/>
<path d="M210.6 364.1 L213.6 364.1" stroke="#000" stroke-width="0.9"/>
<text x="193.6" y="367.05" font-size="8.2" fill="#222" stroke="#222" stroke-width="0.05" textLength="13.2" lengthAdjust="spacingAndGlyphs" >-0.4</text>
<path d="M210.6 369.4 L213.6 369.4" stroke="#000" stroke-width="0.9"/>
<path d="M210.6 374.8 L213.6 374.8" stroke="#000" stroke-width="0.9"/>
<text x="193.6" y="377.75" font-size="8.2" fill="#222" stroke="#222" stroke-width="0.05" textLength="13.2" lengthAdjust="spacingAndGlyphs" >-0.6</text>
<path d="M213.8 334.3 L215.8 332.8 L218 333.2 L220.8 332.8 L224.5 334.3 L243.4 343.7 L272 358.1 L293.1 368.2 L306 374.5 L309.4 376 L310.7 376.3 L314.4 375 L315.7 370.7 L316.3 359.4 L316.7 343.7" fill="none" stroke="#82ec3c" stroke-width="1.2" stroke-linejoin="round"/>
<rect x="213.6" y="330.6" width="108.79999999999998" height="64.59999999999997" fill="none" stroke="#000" stroke-width="1.25"/>
<text x="227.7" y="327.8" font-size="9.4" fill="#111" stroke="#111" stroke-width="0.1" textLength="80.4" lengthAdjust="spacingAndGlyphs" >CD16+ monocytes</text>
<text x="273" y="341.2" font-size="6.0" fill="#222" stroke="#222" stroke-width="0.03" textLength="32.6" lengthAdjust="spacingAndGlyphs" >NES = -1.52</text>
<text x="273" y="348" font-size="6.0" fill="#222" stroke="#222" stroke-width="0.03" textLength="41.2" lengthAdjust="spacingAndGlyphs" >NOM p = 0.004</text>
<text transform="translate(190.2,355.5) rotate(-90)" x="0" y="0" font-size="8.8" fill="#222" stroke="#222" stroke-width="0.08" text-anchor="middle" textLength="58.5" lengthAdjust="spacingAndGlyphs">Enrichment score</text>
<text x="214.1" y="404.8" font-size="7.4" fill="#bf3558" stroke="#bf3558" stroke-width="0.1" textLength="37.7" lengthAdjust="spacingAndGlyphs" >Responder</text>
<text x="268.4" y="404.8" font-size="7.4" fill="#42609c" stroke="#42609c" stroke-width="0.1" textLength="54.1" lengthAdjust="spacingAndGlyphs" >Non-responder</text>
<path d="M396.00 331 L396.00 377.5" stroke="#f1f1f1" stroke-width="0.7"/>
<path d="M410.60 331 L410.60 377.5" stroke="#f1f1f1" stroke-width="0.7"/>
<path d="M425.20 331 L425.20 377.5" stroke="#f1f1f1" stroke-width="0.7"/>
<path d="M439.80 331 L439.80 377.5" stroke="#f1f1f1" stroke-width="0.7"/>
<path d="M454.40 331 L454.40 377.5" stroke="#f1f1f1" stroke-width="0.7"/>
<path d="M469.00 331 L469.00 377.5" stroke="#f1f1f1" stroke-width="0.7"/>
<path d="M483.60 331 L483.60 377.5" stroke="#f1f1f1" stroke-width="0.7"/>
<path d="M381.4 332 L490.9 332" stroke="#f4f4f4" stroke-width="0.7"/>
<path d="M381.4 337.8 L490.9 337.8" stroke="#f4f4f4" stroke-width="0.7"/>
<path d="M381.4 343.1 L490.9 343.1" stroke="#f4f4f4" stroke-width="0.7"/>
<path d="M381.4 348.5 L490.9 348.5" stroke="#f4f4f4" stroke-width="0.7"/>
<path d="M381.4 354 L490.9 354" stroke="#f4f4f4" stroke-width="0.7"/>
<path d="M381.4 359.8 L490.9 359.8" stroke="#f4f4f4" stroke-width="0.7"/>
<path d="M381.4 365.2 L490.9 365.2" stroke="#f4f4f4" stroke-width="0.7"/>
<path d="M381.4 370.8 L490.9 370.8" stroke="#f4f4f4" stroke-width="0.7"/>
<path d="M381.4 376.3 L490.9 376.3" stroke="#f4f4f4" stroke-width="0.7"/>
<path d="M381.4 348.3 L490.9 348.3" stroke="#c8c8c8" stroke-width="0.8"/>
<path d="M381.4 377.6 L490.9 377.6" stroke="#e8e8e8" stroke-width="0.8"/>
<path d="M378.4 332 L381.4 332" stroke="#000" stroke-width="0.9"/>
<path d="M378.4 337.8 L381.4 337.8" stroke="#000" stroke-width="0.9"/>
<text x="364.1" y="340.75" font-size="8.2" fill="#222" stroke="#222" stroke-width="0.05" textLength="11.4" lengthAdjust="spacingAndGlyphs" >0.2</text>
<path d="M378.4 343.1 L381.4 343.1" stroke="#000" stroke-width="0.9"/>
<path d="M378.4 348.5 L381.4 348.5" stroke="#000" stroke-width="0.9"/>
<text x="364.1" y="351.45" font-size="8.2" fill="#222" stroke="#222" stroke-width="0.05" textLength="11.4" lengthAdjust="spacingAndGlyphs" >0.0</text>
<path d="M378.4 354 L381.4 354" stroke="#000" stroke-width="0.9"/>
<path d="M378.4 359.8 L381.4 359.8" stroke="#000" stroke-width="0.9"/>
<text x="362.3" y="362.75" font-size="8.2" fill="#222" stroke="#222" stroke-width="0.05" textLength="13.2" lengthAdjust="spacingAndGlyphs" >-0.2</text>
<path d="M378.4 365.2 L381.4 365.2" stroke="#000" stroke-width="0.9"/>
<path d="M378.4 370.8 L381.4 370.8" stroke="#000" stroke-width="0.9"/>
<text x="362.3" y="373.75" font-size="8.2" fill="#222" stroke="#222" stroke-width="0.05" textLength="13.2" lengthAdjust="spacingAndGlyphs" >-0.4</text>
<path d="M378.4 376.3 L381.4 376.3" stroke="#000" stroke-width="0.9"/>
<path d="M381.8 334.9 L384 333.3 L386.5 332.4 L404.1 340.5 L420.4 348.5 L439 358.1 L460.1 368.2 L472.6 374.7 L477.7 376.3 L483.3 374.2 L484.6 365.6 L485.6 348.1" fill="none" stroke="#82ec3c" stroke-width="1.2" stroke-linejoin="round"/>
<rect x="381.4" y="330.6" width="109.5" height="64.59999999999997" fill="none" stroke="#000" stroke-width="1.25"/>
<text x="422.9" y="327.8" font-size="9.4" fill="#111" stroke="#111" stroke-width="0.1" textLength="26.3" lengthAdjust="spacingAndGlyphs" >T cells</text>
<text x="444" y="340.3" font-size="6.0" fill="#222" stroke="#222" stroke-width="0.03" textLength="33" lengthAdjust="spacingAndGlyphs" >NES = -1.25</text>
<text x="444" y="346.9" font-size="6.0" fill="#222" stroke="#222" stroke-width="0.03" textLength="41.2" lengthAdjust="spacingAndGlyphs" >NOM p = 0.119</text>
<text transform="translate(357.2,355.5) rotate(-90)" x="0" y="0" font-size="8.8" fill="#222" stroke="#222" stroke-width="0.08" text-anchor="middle" textLength="58.5" lengthAdjust="spacingAndGlyphs">Enrichment score</text>
<text x="381.9" y="404.8" font-size="7.4" fill="#bf3558" stroke="#bf3558" stroke-width="0.1" textLength="37.7" lengthAdjust="spacingAndGlyphs" >Responder</text>
<text x="436" y="404.8" font-size="7.4" fill="#42609c" stroke="#42609c" stroke-width="0.1" textLength="54.6" lengthAdjust="spacingAndGlyphs" >Non-responder</text>
<rect x="0.5" y="0.5" width="519" height="413" fill="none" stroke="#000" stroke-width="1"/>
</svg>
</body></html>
